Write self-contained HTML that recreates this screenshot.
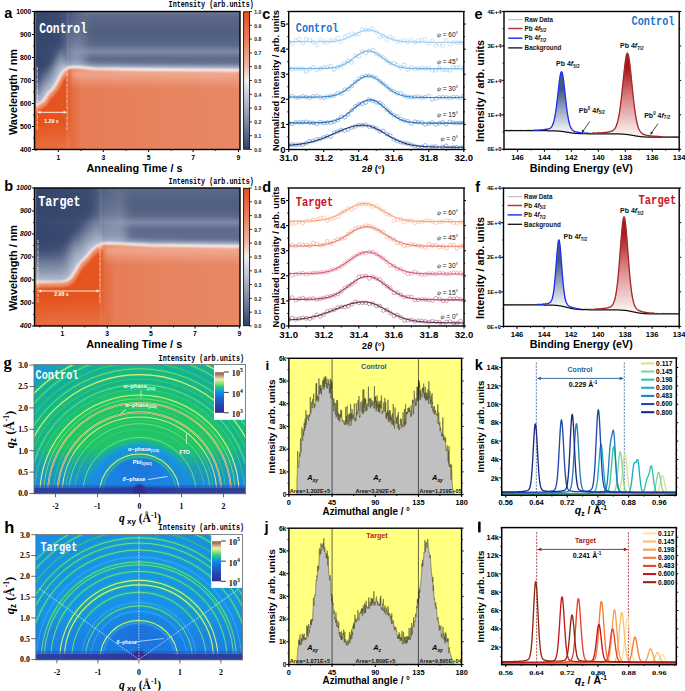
<!DOCTYPE html>
<html><head><meta charset="utf-8"><style>
html,body{margin:0;padding:0;background:#fff;width:685px;height:691px;overflow:hidden}
svg{display:block}
</style></head><body><svg width="685" height="691" viewBox="0 0 685 691"><defs><filter id="bl1" x="-20%" y="-20%" width="140%" height="140%"><feGaussianBlur stdDeviation="1"/></filter><filter id="bl2" x="-50%" y="-50%" width="200%" height="200%"><feGaussianBlur stdDeviation="2.2"/></filter><filter id="bl4" x="-50%" y="-50%" width="200%" height="200%"><feGaussianBlur stdDeviation="4"/></filter><filter id="bl6" x="-50%" y="-50%" width="200%" height="200%"><feGaussianBlur stdDeviation="6"/></filter><clipPath id="cpa"><rect x="34.5" y="11.5" width="205.5" height="138"/></clipPath><linearGradient id="nva" x1="0" y1="11.5" x2="0" y2="149.5" gradientUnits="userSpaceOnUse">
<stop offset="0" stop-color="#68748f"/><stop offset="0.05" stop-color="#5a6688"/><stop offset="0.13" stop-color="#536180"/><stop offset="0.18" stop-color="#515f80"/><stop offset="0.24" stop-color="#5a6889"/>
<stop offset="0.29" stop-color="#7c88a4"/><stop offset="0.34" stop-color="#5f6b8c"/><stop offset="0.38" stop-color="#5e6d90"/>
<stop offset="0.43" stop-color="#9aa6c0"/><stop offset="1" stop-color="#9aa6c0"/></linearGradient><linearGradient id="nla" x1="34.5" y1="0" x2="87" y2="0" gradientUnits="userSpaceOnUse">
<stop offset="0" stop-color="#33446c" stop-opacity="0.95"/><stop offset="0.6" stop-color="#34456d" stop-opacity="0.85"/><stop offset="1" stop-color="#34456d" stop-opacity="0"/></linearGradient><linearGradient id="ora" x1="34.5" y1="0" x2="240" y2="0" gradientUnits="userSpaceOnUse">
<stop offset="0" stop-color="#e4521c"/><stop offset="0.16" stop-color="#e5551f"/>
<stop offset="0.18" stop-color="#e56a3e"/><stop offset="0.23" stop-color="#e77c56"/><stop offset="0.6" stop-color="#e7835e"/><stop offset="1" stop-color="#e88866"/></linearGradient><linearGradient id="ova" x1="0" y1="11.5" x2="0" y2="149.5" gradientUnits="userSpaceOnUse">
<stop offset="0" stop-color="#fff" stop-opacity="0"/><stop offset="0.8" stop-color="#f0a080" stop-opacity="0"/><stop offset="1" stop-color="#f0a080" stop-opacity="0.4"/></linearGradient><clipPath id="hza"><rect x="34.5" y="11.5" width="35.5" height="138"/></clipPath><linearGradient id="vsa" x1="0" y1="11.5" x2="0" y2="70.2" gradientUnits="userSpaceOnUse">
<stop offset="0" stop-color="#9aa5be" stop-opacity="0.1"/><stop offset="0.5" stop-color="#9aa5be" stop-opacity="0.45"/><stop offset="1" stop-color="#b0b9cc" stop-opacity="0.8"/></linearGradient><linearGradient id="lza" x1="0" y1="70.2" x2="0" y2="88.2" gradientUnits="userSpaceOnUse">
<stop offset="0" stop-color="#f4c0ae" stop-opacity="0.75"/><stop offset="1" stop-color="#f4c0ae" stop-opacity="0"/></linearGradient><linearGradient id="cba" x1="0" y1="11.5" x2="0" y2="149.5" gradientUnits="userSpaceOnUse">
<stop offset="0" stop-color="#e2501c"/><stop offset="0.2" stop-color="#e87e5c"/><stop offset="0.38" stop-color="#eeb4a0"/>
<stop offset="0.5" stop-color="#f2eeee"/><stop offset="0.62" stop-color="#c4c9d6"/><stop offset="0.8" stop-color="#7d89a6"/><stop offset="1" stop-color="#2f3f69"/></linearGradient><clipPath id="cpb"><rect x="34.5" y="188" width="205.5" height="138"/></clipPath><linearGradient id="nvb" x1="0" y1="188" x2="0" y2="326" gradientUnits="userSpaceOnUse">
<stop offset="0" stop-color="#68748f"/><stop offset="0.02" stop-color="#5a6688"/><stop offset="0.09" stop-color="#536180"/><stop offset="0.15" stop-color="#515f80"/><stop offset="0.2" stop-color="#5a6889"/>
<stop offset="0.25" stop-color="#7c88a4"/><stop offset="0.3" stop-color="#5f6b8c"/><stop offset="0.38" stop-color="#5e6d90"/>
<stop offset="0.42" stop-color="#9aa6c0"/><stop offset="1" stop-color="#9aa6c0"/></linearGradient><linearGradient id="nlb" x1="34.5" y1="0" x2="120" y2="0" gradientUnits="userSpaceOnUse">
<stop offset="0" stop-color="#33446c" stop-opacity="0.95"/><stop offset="0.6" stop-color="#34456d" stop-opacity="0.85"/><stop offset="1" stop-color="#34456d" stop-opacity="0"/></linearGradient><linearGradient id="orb" x1="34.5" y1="0" x2="240" y2="0" gradientUnits="userSpaceOnUse">
<stop offset="0" stop-color="#e4521c"/><stop offset="0.32" stop-color="#e5551f"/>
<stop offset="0.34" stop-color="#e56a3e"/><stop offset="0.39" stop-color="#e77c56"/><stop offset="0.6" stop-color="#e7835e"/><stop offset="1" stop-color="#e88866"/></linearGradient><linearGradient id="ovb" x1="0" y1="188" x2="0" y2="326" gradientUnits="userSpaceOnUse">
<stop offset="0" stop-color="#fff" stop-opacity="0"/><stop offset="0.8" stop-color="#f0a080" stop-opacity="0"/><stop offset="1" stop-color="#f0a080" stop-opacity="0.4"/></linearGradient><clipPath id="hzb"><rect x="34.5" y="188" width="68.5" height="138"/></clipPath><linearGradient id="vsb" x1="0" y1="188" x2="0" y2="246.5" gradientUnits="userSpaceOnUse">
<stop offset="0" stop-color="#9aa5be" stop-opacity="0.1"/><stop offset="0.5" stop-color="#9aa5be" stop-opacity="0.45"/><stop offset="1" stop-color="#b0b9cc" stop-opacity="0.8"/></linearGradient><linearGradient id="lzb" x1="0" y1="246.5" x2="0" y2="264.5" gradientUnits="userSpaceOnUse">
<stop offset="0" stop-color="#f4c0ae" stop-opacity="0.75"/><stop offset="1" stop-color="#f4c0ae" stop-opacity="0"/></linearGradient><linearGradient id="cbb" x1="0" y1="188" x2="0" y2="326" gradientUnits="userSpaceOnUse">
<stop offset="0" stop-color="#e2501c"/><stop offset="0.2" stop-color="#e87e5c"/><stop offset="0.38" stop-color="#eeb4a0"/>
<stop offset="0.5" stop-color="#f2eeee"/><stop offset="0.62" stop-color="#c4c9d6"/><stop offset="0.8" stop-color="#7d89a6"/><stop offset="1" stop-color="#2f3f69"/></linearGradient><clipPath id="cpc"><rect x="288.7" y="11.5" width="175.1" height="138"/></clipPath><clipPath id="cpd"><rect x="288.7" y="188" width="175.3" height="138"/></clipPath><clipPath id="cpe"><rect x="504" y="11.5" width="175.2" height="137.8"/></clipPath><linearGradient id="gbe" x1="0" y1="89.69" x2="0" y2="131.4" gradientUnits="userSpaceOnUse">
<stop offset="0" stop-color="#3e5b88"/><stop offset="0.45" stop-color="#94a3bc"/><stop offset="1" stop-color="#f4f5f8"/></linearGradient><linearGradient id="gre" x1="0" y1="67.92" x2="0" y2="134.56" gradientUnits="userSpaceOnUse">
<stop offset="0" stop-color="#a8161b"/><stop offset="0.45" stop-color="#d88684"/><stop offset="1" stop-color="#fbf1f1"/></linearGradient><clipPath id="cpf"><rect x="503.5" y="188.1" width="175.7" height="138.3"/></clipPath><linearGradient id="gbf" x1="0" y1="260.66" x2="0" y2="305.7" gradientUnits="userSpaceOnUse">
<stop offset="0" stop-color="#3e5b88"/><stop offset="0.45" stop-color="#94a3bc"/><stop offset="1" stop-color="#f4f5f8"/></linearGradient><linearGradient id="grf" x1="0" y1="232.87" x2="0" y2="310.32" gradientUnits="userSpaceOnUse">
<stop offset="0" stop-color="#a8161b"/><stop offset="0.45" stop-color="#d88684"/><stop offset="1" stop-color="#fbf1f1"/></linearGradient><clipPath id="cpg"><rect x="34" y="364.5" width="211.6" height="129.3"/></clipPath><radialGradient id="rgg" cx="139.5" cy="493.5" r="168" gradientUnits="userSpaceOnUse" gradientTransform="translate(139.5 493.5) scale(1 1.02) translate(-139.5 -493.5)"><stop offset="0" stop-color="#2a3aa8"/><stop offset="0.07" stop-color="#2448c4"/><stop offset="0.19" stop-color="#1c6ede"/><stop offset="0.24" stop-color="#1888ea"/><stop offset="0.27" stop-color="#1696e8"/><stop offset="0.3" stop-color="#18b49a"/><stop offset="0.33" stop-color="#22c46a"/><stop offset="0.57" stop-color="#22c866"/><stop offset="0.61" stop-color="#1cbc84"/><stop offset="0.65" stop-color="#16b09c"/><stop offset="0.82" stop-color="#14aca8"/><stop offset="0.9" stop-color="#16a0c4"/><stop offset="1" stop-color="#1894d8"/></radialGradient><linearGradient id="bog" x1="0" y1="446.42" x2="0" y2="487.08" gradientUnits="userSpaceOnUse">
<stop offset="0" stop-color="#1a88e4" stop-opacity="0"/><stop offset="0.45" stop-color="#1a88e4" stop-opacity="0.55"/><stop offset="1" stop-color="#1a88e4" stop-opacity="0.95"/></linearGradient><linearGradient id="cbgg" x1="0" y1="412.8" x2="0" y2="372" gradientUnits="userSpaceOnUse">
<stop offset="0" stop-color="#302c90"/><stop offset="0.2" stop-color="#2848b0"/><stop offset="0.4" stop-color="#1a70d8"/><stop offset="0.52" stop-color="#1890e8"/>
<stop offset="0.56" stop-color="#18a8c0"/><stop offset="0.64" stop-color="#28d070"/><stop offset="0.74" stop-color="#a0e090"/><stop offset="0.82" stop-color="#f0f0a0"/>
<stop offset="0.89" stop-color="#c8a890"/><stop offset="0.95" stop-color="#9a7060"/><stop offset="1" stop-color="#a88878"/></linearGradient><clipPath id="cph"><rect x="35.8" y="534.5" width="206.8" height="125.4"/></clipPath><radialGradient id="rgh" cx="138.9" cy="659.5" r="164" gradientUnits="userSpaceOnUse" gradientTransform="translate(138.9 659.5) scale(1 1.01) translate(-138.9 -659.5)"><stop offset="0" stop-color="#2838a8"/><stop offset="0.1" stop-color="#2252c8"/><stop offset="0.2" stop-color="#1a6ede"/><stop offset="0.25" stop-color="#1a82e6"/><stop offset="0.33" stop-color="#1890ea"/><stop offset="0.5" stop-color="#1894ec"/><stop offset="0.65" stop-color="#1892ea"/><stop offset="1" stop-color="#1a8ce6"/></radialGradient><linearGradient id="boh" x1="0" y1="613.74" x2="0" y2="653.26" gradientUnits="userSpaceOnUse">
<stop offset="0" stop-color="#1a7ee2" stop-opacity="0"/><stop offset="0.45" stop-color="#1a7ee2" stop-opacity="0.55"/><stop offset="1" stop-color="#1a7ee2" stop-opacity="0.95"/></linearGradient><linearGradient id="cbgh" x1="0" y1="581.3" x2="0" y2="541" gradientUnits="userSpaceOnUse">
<stop offset="0" stop-color="#302c90"/><stop offset="0.2" stop-color="#2848b0"/><stop offset="0.4" stop-color="#1a70d8"/><stop offset="0.52" stop-color="#1890e8"/>
<stop offset="0.56" stop-color="#18a8c0"/><stop offset="0.64" stop-color="#28d070"/><stop offset="0.74" stop-color="#a0e090"/><stop offset="0.82" stop-color="#f0f0a0"/>
<stop offset="0.89" stop-color="#c8a890"/><stop offset="0.95" stop-color="#9a7060"/><stop offset="1" stop-color="#a88878"/></linearGradient><clipPath id="cpi"><rect x="288.9" y="358.3" width="172.7" height="136.3"/></clipPath><clipPath id="cpj"><rect x="288.9" y="528.2" width="172.7" height="136.3"/></clipPath><clipPath id="cpk"><rect x="501.7" y="358" width="174.6" height="137.2"/></clipPath><clipPath id="cpl"><rect x="501.7" y="527.6" width="174.6" height="137.1"/></clipPath></defs><g clip-path="url(#cpa)"><rect x="34.5" y="11.5" width="205.5" height="138" fill="url(#nva)" stroke="none" stroke-width="1" /><rect x="34.5" y="11.5" width="52.5" height="138" fill="url(#nla)" stroke="none" stroke-width="1" /><g clip-path="url(#hza)" filter="url(#bl2)"><path d="M33,104.8 L37.3,104.6 L43.4,100.8 L48.1,93.3 L52.8,88.6 L56.6,82.9 L60.3,75.4 L64.1,70.2 L66.9,68.3" fill="none" stroke="#c6cddb" stroke-width="4" opacity="0.6" transform="translate(0,-2)"/><path d="M33,104.8 L37.3,104.6 L43.4,100.8 L48.1,93.3 L52.8,88.6 L56.6,82.9 L60.3,75.4 L64.1,70.2 L66.9,68.3" fill="none" stroke="#c6cddb" stroke-width="4" opacity="0.53" transform="translate(-0.5,-4.2)"/><path d="M33,104.8 L37.3,104.6 L43.4,100.8 L48.1,93.3 L52.8,88.6 L56.6,82.9 L60.3,75.4 L64.1,70.2 L66.9,68.3" fill="none" stroke="#c6cddb" stroke-width="4" opacity="0.46" transform="translate(-1,-6.4)"/><path d="M33,104.8 L37.3,104.6 L43.4,100.8 L48.1,93.3 L52.8,88.6 L56.6,82.9 L60.3,75.4 L64.1,70.2 L66.9,68.3" fill="none" stroke="#c6cddb" stroke-width="4" opacity="0.39" transform="translate(-1.5,-8.6)"/><path d="M33,104.8 L37.3,104.6 L43.4,100.8 L48.1,93.3 L52.8,88.6 L56.6,82.9 L60.3,75.4 L64.1,70.2 L66.9,68.3" fill="none" stroke="#c6cddb" stroke-width="4" opacity="0.33" transform="translate(-2,-10.8)"/><path d="M33,104.8 L37.3,104.6 L43.4,100.8 L48.1,93.3 L52.8,88.6 L56.6,82.9 L60.3,75.4 L64.1,70.2 L66.9,68.3" fill="none" stroke="#c6cddb" stroke-width="4" opacity="0.26" transform="translate(-2.5,-13)"/><path d="M33,104.8 L37.3,104.6 L43.4,100.8 L48.1,93.3 L52.8,88.6 L56.6,82.9 L60.3,75.4 L64.1,70.2 L66.9,68.3" fill="none" stroke="#c6cddb" stroke-width="4" opacity="0.2" transform="translate(-3,-15.2)"/><path d="M33,104.8 L37.3,104.6 L43.4,100.8 L48.1,93.3 L52.8,88.6 L56.6,82.9 L60.3,75.4 L64.1,70.2 L66.9,68.3" fill="none" stroke="#c6cddb" stroke-width="4" opacity="0.14" transform="translate(-3.5,-17.4)"/><path d="M33,104.8 L37.3,104.6 L43.4,100.8 L48.1,93.3 L52.8,88.6 L56.6,82.9 L60.3,75.4 L64.1,70.2 L66.9,68.3" fill="none" stroke="#c6cddb" stroke-width="4" opacity="0.09" transform="translate(-4,-19.6)"/><path d="M33,104.8 L37.3,104.6 L43.4,100.8 L48.1,93.3 L52.8,88.6 L56.6,82.9 L60.3,75.4 L64.1,70.2 L66.9,68.3" fill="none" stroke="#c6cddb" stroke-width="4" opacity="0.04" transform="translate(-4.5,-21.8)"/></g><path d="M33,104.8 L37.3,104.6 L43.4,100.8 L48.1,93.3 L52.8,88.6 L56.6,82.9 L60.3,75.4 L64.1,70.2 L66.9,68.3 L73.5,66.9 L81,67.4 L94,68.8 L150,69.6 L242,70.2" fill="none" stroke="#c0c8d8" stroke-width="4" opacity="0.7" filter="url(#bl2)" transform="translate(0,-2.5)"/><rect x="65" y="6.5" width="20" height="63.7" fill="url(#vsa)" stroke="none" stroke-width="1" filter="url(#bl4)"/><path d="M33,104.8 L37.3,104.6 L43.4,100.8 L48.1,93.3 L52.8,88.6 L56.6,82.9 L60.3,75.4 L64.1,70.2 L66.9,68.3 L73.5,66.9 L81,67.4 L94,68.8 L150,69.6 L242,70.2 L245,70.2 L245,154.5 L29.5,154.5 L29.5,104.8 Z" fill="url(#ora)"/><rect x="71" y="70.2" width="169" height="18" fill="url(#lza)" stroke="none" stroke-width="1" filter="url(#bl2)"/><rect x="34.5" y="11.5" width="36.5" height="138" fill="url(#ova)" stroke="none" stroke-width="1" filter="url(#bl2)"/><path d="M33,104.8 L37.3,104.6 L43.4,100.8 L48.1,93.3 L52.8,88.6 L56.6,82.9 L60.3,75.4 L64.1,70.2 L66.9,68.3" fill="none" stroke="#f0a888" stroke-width="5" opacity="0.7" filter="url(#bl1)" transform="translate(1,3)"/><path d="M33,104.8 L37.3,104.6 L43.4,100.8 L48.1,93.3 L52.8,88.6 L56.6,82.9 L60.3,75.4 L64.1,70.2 L66.9,68.3 L73.5,66.9 L81,67.4 L94,68.8 L150,69.6 L242,70.2" fill="none" stroke="#ffffff" stroke-width="2.6" opacity="0.95" filter="url(#bl1)"/><rect x="66.5" y="11.5" width="2.2" height="138" fill="#ffffff" stroke="none" stroke-width="1" opacity="0.08"/><rect x="34.5" y="11.5" width="1.6" height="138" fill="#d8643a" stroke="none" stroke-width="1" /></g><line x1="37.3" y1="67" x2="37.3" y2="130" stroke="#e8e8f0" stroke-width="0.9" stroke-dasharray="3 0.8 0.8 0.8" opacity="0.85"/><line x1="67" y1="68" x2="67" y2="130" stroke="#e8e8f0" stroke-width="0.9" stroke-dasharray="3 0.8 0.8 0.8" opacity="0.85"/><line x1="39.5" y1="112.3" x2="64.6" y2="112.3" stroke="#fff" stroke-width="0.9" /><polygon points="37.5,112.3 40.5,110.8 40.5,113.8" fill="#fff" /><polygon points="66.6,112.3 63.6,110.8 63.6,113.8" fill="#fff" /><text x="51.5" y="122.8" font-size="5.2" font-family='"Liberation Sans", sans-serif' font-weight="bold" text-anchor="middle" fill="#fff" >1.29 s</text><text x="39.2" y="32.9" font-size="14.5" font-family='"Liberation Mono", monospace' font-weight="bold" fill="#fff" textLength="47.8" lengthAdjust="spacingAndGlyphs" >Control</text><rect x="34.5" y="11.5" width="205.5" height="138" fill="none" stroke="#000" stroke-width="1.4" /><rect x="243.6" y="11.8" width="6" height="137.4" fill="url(#cba)" stroke="#111" stroke-width="0.9" /><line x1="249.6" y1="149.5" x2="251.9" y2="149.5" stroke="#000" stroke-width="0.8" /><text x="254.2" y="151.7" font-size="5.9" font-family='"Liberation Sans", sans-serif' font-weight="bold" fill="#1a1a1a" textLength="7" lengthAdjust="spacingAndGlyphs" >0.0</text><line x1="249.6" y1="135.7" x2="251.9" y2="135.7" stroke="#000" stroke-width="0.8" /><text x="254.2" y="137.9" font-size="5.9" font-family='"Liberation Sans", sans-serif' font-weight="bold" fill="#1a1a1a" textLength="7" lengthAdjust="spacingAndGlyphs" >0.1</text><line x1="249.6" y1="121.9" x2="251.9" y2="121.9" stroke="#000" stroke-width="0.8" /><text x="254.2" y="124.1" font-size="5.9" font-family='"Liberation Sans", sans-serif' font-weight="bold" fill="#1a1a1a" textLength="7" lengthAdjust="spacingAndGlyphs" >0.2</text><line x1="249.6" y1="108.1" x2="251.9" y2="108.1" stroke="#000" stroke-width="0.8" /><text x="254.2" y="110.3" font-size="5.9" font-family='"Liberation Sans", sans-serif' font-weight="bold" fill="#1a1a1a" textLength="7" lengthAdjust="spacingAndGlyphs" >0.3</text><line x1="249.6" y1="94.3" x2="251.9" y2="94.3" stroke="#000" stroke-width="0.8" /><text x="254.2" y="96.5" font-size="5.9" font-family='"Liberation Sans", sans-serif' font-weight="bold" fill="#1a1a1a" textLength="7" lengthAdjust="spacingAndGlyphs" >0.4</text><line x1="249.6" y1="80.5" x2="251.9" y2="80.5" stroke="#000" stroke-width="0.8" /><text x="254.2" y="82.7" font-size="5.9" font-family='"Liberation Sans", sans-serif' font-weight="bold" fill="#1a1a1a" textLength="7" lengthAdjust="spacingAndGlyphs" >0.5</text><line x1="249.6" y1="66.7" x2="251.9" y2="66.7" stroke="#000" stroke-width="0.8" /><text x="254.2" y="68.9" font-size="5.9" font-family='"Liberation Sans", sans-serif' font-weight="bold" fill="#1a1a1a" textLength="7" lengthAdjust="spacingAndGlyphs" >0.6</text><line x1="249.6" y1="52.9" x2="251.9" y2="52.9" stroke="#000" stroke-width="0.8" /><text x="254.2" y="55.1" font-size="5.9" font-family='"Liberation Sans", sans-serif' font-weight="bold" fill="#1a1a1a" textLength="7" lengthAdjust="spacingAndGlyphs" >0.7</text><line x1="249.6" y1="39.1" x2="251.9" y2="39.1" stroke="#000" stroke-width="0.8" /><text x="254.2" y="41.3" font-size="5.9" font-family='"Liberation Sans", sans-serif' font-weight="bold" fill="#1a1a1a" textLength="7" lengthAdjust="spacingAndGlyphs" >0.8</text><line x1="249.6" y1="25.3" x2="251.9" y2="25.3" stroke="#000" stroke-width="0.8" /><text x="254.2" y="27.5" font-size="5.9" font-family='"Liberation Sans", sans-serif' font-weight="bold" fill="#1a1a1a" textLength="7" lengthAdjust="spacingAndGlyphs" >0.9</text><line x1="249.6" y1="11.5" x2="251.9" y2="11.5" stroke="#000" stroke-width="0.8" /><text x="254.2" y="13.7" font-size="5.9" font-family='"Liberation Sans", sans-serif' font-weight="bold" fill="#1a1a1a" textLength="7" lengthAdjust="spacingAndGlyphs" >1.0</text><line x1="32" y1="11.5" x2="34.5" y2="11.5" stroke="#000" stroke-width="1" /><text x="31.3" y="13.9" font-size="6.8" font-family='"Liberation Sans", sans-serif' font-weight="bold" text-anchor="end" >1000</text><line x1="32" y1="34.5" x2="34.5" y2="34.5" stroke="#000" stroke-width="1" /><text x="31.3" y="36.9" font-size="6.8" font-family='"Liberation Sans", sans-serif' font-weight="bold" text-anchor="end" >900</text><line x1="32" y1="57.5" x2="34.5" y2="57.5" stroke="#000" stroke-width="1" /><text x="31.3" y="59.9" font-size="6.8" font-family='"Liberation Sans", sans-serif' font-weight="bold" text-anchor="end" >800</text><line x1="32" y1="80.5" x2="34.5" y2="80.5" stroke="#000" stroke-width="1" /><text x="31.3" y="82.9" font-size="6.8" font-family='"Liberation Sans", sans-serif' font-weight="bold" text-anchor="end" >700</text><line x1="32" y1="103.5" x2="34.5" y2="103.5" stroke="#000" stroke-width="1" /><text x="31.3" y="105.9" font-size="6.8" font-family='"Liberation Sans", sans-serif' font-weight="bold" text-anchor="end" >600</text><line x1="32" y1="126.5" x2="34.5" y2="126.5" stroke="#000" stroke-width="1" /><text x="31.3" y="128.9" font-size="6.8" font-family='"Liberation Sans", sans-serif' font-weight="bold" text-anchor="end" >500</text><line x1="32" y1="149.5" x2="34.5" y2="149.5" stroke="#000" stroke-width="1" /><text x="31.3" y="151.9" font-size="6.8" font-family='"Liberation Sans", sans-serif' font-weight="bold" text-anchor="end" >400</text><line x1="33" y1="23" x2="34.5" y2="23" stroke="#000" stroke-width="0.8" /><line x1="33" y1="46" x2="34.5" y2="46" stroke="#000" stroke-width="0.8" /><line x1="33" y1="69" x2="34.5" y2="69" stroke="#000" stroke-width="0.8" /><line x1="33" y1="92" x2="34.5" y2="92" stroke="#000" stroke-width="0.8" /><line x1="33" y1="115" x2="34.5" y2="115" stroke="#000" stroke-width="0.8" /><line x1="33" y1="138" x2="34.5" y2="138" stroke="#000" stroke-width="0.8" /><line x1="58.3" y1="149.5" x2="58.3" y2="152" stroke="#000" stroke-width="1" /><text x="58.3" y="159.7" font-size="6.8" font-family='"Liberation Sans", sans-serif' font-weight="bold" text-anchor="middle" >1</text><line x1="103.3" y1="149.5" x2="103.3" y2="152" stroke="#000" stroke-width="1" /><text x="103.3" y="159.7" font-size="6.8" font-family='"Liberation Sans", sans-serif' font-weight="bold" text-anchor="middle" >3</text><line x1="148.6" y1="149.5" x2="148.6" y2="152" stroke="#000" stroke-width="1" /><text x="148.6" y="159.7" font-size="6.8" font-family='"Liberation Sans", sans-serif' font-weight="bold" text-anchor="middle" >5</text><line x1="193.1" y1="149.5" x2="193.1" y2="152" stroke="#000" stroke-width="1" /><text x="193.1" y="159.7" font-size="6.8" font-family='"Liberation Sans", sans-serif' font-weight="bold" text-anchor="middle" >7</text><line x1="238.5" y1="149.5" x2="238.5" y2="152" stroke="#000" stroke-width="1" /><text x="238.5" y="159.7" font-size="6.8" font-family='"Liberation Sans", sans-serif' font-weight="bold" text-anchor="middle" >9</text><line x1="35.8" y1="149.5" x2="35.8" y2="151" stroke="#000" stroke-width="0.8" /><line x1="80.8" y1="149.5" x2="80.8" y2="151" stroke="#000" stroke-width="0.8" /><line x1="125.8" y1="149.5" x2="125.8" y2="151" stroke="#000" stroke-width="0.8" /><line x1="171.1" y1="149.5" x2="171.1" y2="151" stroke="#000" stroke-width="0.8" /><line x1="215.6" y1="149.5" x2="215.6" y2="151" stroke="#000" stroke-width="0.8" /><g clip-path="url(#cpb)"><rect x="34.5" y="188" width="205.5" height="138" fill="url(#nvb)" stroke="none" stroke-width="1" /><rect x="34.5" y="188" width="85.5" height="138" fill="url(#nlb)" stroke="none" stroke-width="1" /><g clip-path="url(#hzb)" filter="url(#bl2)"><path d="M33,282 L35,281.9 L61.5,281.5 L67,280.5 L70.9,277.3 L75.1,271 L79.3,263.7 L85.6,257.4 L91.9,250 L97.1,245.8 L102.4,243.7" fill="none" stroke="#c6cddb" stroke-width="4" opacity="0.6" transform="translate(0,-2)"/><path d="M33,282 L35,281.9 L61.5,281.5 L67,280.5 L70.9,277.3 L75.1,271 L79.3,263.7 L85.6,257.4 L91.9,250 L97.1,245.8 L102.4,243.7" fill="none" stroke="#c6cddb" stroke-width="4" opacity="0.55" transform="translate(-0.5,-4.2)"/><path d="M33,282 L35,281.9 L61.5,281.5 L67,280.5 L70.9,277.3 L75.1,271 L79.3,263.7 L85.6,257.4 L91.9,250 L97.1,245.8 L102.4,243.7" fill="none" stroke="#c6cddb" stroke-width="4" opacity="0.5" transform="translate(-1,-6.4)"/><path d="M33,282 L35,281.9 L61.5,281.5 L67,280.5 L70.9,277.3 L75.1,271 L79.3,263.7 L85.6,257.4 L91.9,250 L97.1,245.8 L102.4,243.7" fill="none" stroke="#c6cddb" stroke-width="4" opacity="0.45" transform="translate(-1.5,-8.6)"/><path d="M33,282 L35,281.9 L61.5,281.5 L67,280.5 L70.9,277.3 L75.1,271 L79.3,263.7 L85.6,257.4 L91.9,250 L97.1,245.8 L102.4,243.7" fill="none" stroke="#c6cddb" stroke-width="4" opacity="0.4" transform="translate(-2,-10.8)"/><path d="M33,282 L35,281.9 L61.5,281.5 L67,280.5 L70.9,277.3 L75.1,271 L79.3,263.7 L85.6,257.4 L91.9,250 L97.1,245.8 L102.4,243.7" fill="none" stroke="#c6cddb" stroke-width="4" opacity="0.35" transform="translate(-2.5,-13)"/><path d="M33,282 L35,281.9 L61.5,281.5 L67,280.5 L70.9,277.3 L75.1,271 L79.3,263.7 L85.6,257.4 L91.9,250 L97.1,245.8 L102.4,243.7" fill="none" stroke="#c6cddb" stroke-width="4" opacity="0.31" transform="translate(-3,-15.2)"/><path d="M33,282 L35,281.9 L61.5,281.5 L67,280.5 L70.9,277.3 L75.1,271 L79.3,263.7 L85.6,257.4 L91.9,250 L97.1,245.8 L102.4,243.7" fill="none" stroke="#c6cddb" stroke-width="4" opacity="0.26" transform="translate(-3.5,-17.4)"/><path d="M33,282 L35,281.9 L61.5,281.5 L67,280.5 L70.9,277.3 L75.1,271 L79.3,263.7 L85.6,257.4 L91.9,250 L97.1,245.8 L102.4,243.7" fill="none" stroke="#c6cddb" stroke-width="4" opacity="0.22" transform="translate(-4,-19.6)"/><path d="M33,282 L35,281.9 L61.5,281.5 L67,280.5 L70.9,277.3 L75.1,271 L79.3,263.7 L85.6,257.4 L91.9,250 L97.1,245.8 L102.4,243.7" fill="none" stroke="#c6cddb" stroke-width="4" opacity="0.17" transform="translate(-4.5,-21.8)"/><path d="M33,282 L35,281.9 L61.5,281.5 L67,280.5 L70.9,277.3 L75.1,271 L79.3,263.7 L85.6,257.4 L91.9,250 L97.1,245.8 L102.4,243.7" fill="none" stroke="#c6cddb" stroke-width="4" opacity="0.13" transform="translate(-5,-24)"/><path d="M33,282 L35,281.9 L61.5,281.5 L67,280.5 L70.9,277.3 L75.1,271 L79.3,263.7 L85.6,257.4 L91.9,250 L97.1,245.8 L102.4,243.7" fill="none" stroke="#c6cddb" stroke-width="4" opacity="0.09" transform="translate(-5.5,-26.2)"/><path d="M33,282 L35,281.9 L61.5,281.5 L67,280.5 L70.9,277.3 L75.1,271 L79.3,263.7 L85.6,257.4 L91.9,250 L97.1,245.8 L102.4,243.7" fill="none" stroke="#c6cddb" stroke-width="4" opacity="0.06" transform="translate(-6,-28.4)"/><path d="M33,282 L35,281.9 L61.5,281.5 L67,280.5 L70.9,277.3 L75.1,271 L79.3,263.7 L85.6,257.4 L91.9,250 L97.1,245.8 L102.4,243.7" fill="none" stroke="#c6cddb" stroke-width="4" opacity="0.03" transform="translate(-6.5,-30.6)"/></g><path d="M33,282 L35,281.9 L61.5,281.5 L67,280.5 L70.9,277.3 L75.1,271 L79.3,263.7 L85.6,257.4 L91.9,250 L97.1,245.8 L102.4,243.7 L109.7,243.3 L150,245.2 L242,246.5" fill="none" stroke="#c0c8d8" stroke-width="4" opacity="0.7" filter="url(#bl2)" transform="translate(0,-2.5)"/><rect x="98" y="183" width="28" height="63.5" fill="url(#vsb)" stroke="none" stroke-width="1" filter="url(#bl4)"/><path d="M33,282 L35,281.9 L61.5,281.5 L67,280.5 L70.9,277.3 L75.1,271 L79.3,263.7 L85.6,257.4 L91.9,250 L97.1,245.8 L102.4,243.7 L109.7,243.3 L150,245.2 L242,246.5 L245,246.5 L245,331 L29.5,331 L29.5,282 Z" fill="url(#orb)"/><rect x="104" y="246.5" width="136" height="18" fill="url(#lzb)" stroke="none" stroke-width="1" filter="url(#bl2)"/><rect x="34.5" y="188" width="69.5" height="138" fill="url(#ovb)" stroke="none" stroke-width="1" filter="url(#bl2)"/><path d="M33,282 L35,281.9 L61.5,281.5 L67,280.5 L70.9,277.3 L75.1,271 L79.3,263.7 L85.6,257.4 L91.9,250 L97.1,245.8 L102.4,243.7" fill="none" stroke="#f0a888" stroke-width="5" opacity="0.7" filter="url(#bl1)" transform="translate(1,3)"/><path d="M33,282 L35,281.9 L61.5,281.5 L67,280.5 L70.9,277.3 L75.1,271 L79.3,263.7 L85.6,257.4 L91.9,250 L97.1,245.8 L102.4,243.7 L109.7,243.3 L150,245.2 L242,246.5" fill="none" stroke="#ffffff" stroke-width="2.6" opacity="0.95" filter="url(#bl1)"/><rect x="99.5" y="188" width="2.2" height="138" fill="#ffffff" stroke="none" stroke-width="1" opacity="0.08"/><rect x="34.5" y="188" width="1.6" height="138" fill="#d8643a" stroke="none" stroke-width="1" /></g><line x1="38" y1="240" x2="38" y2="302.5" stroke="#e8e8f0" stroke-width="0.9" stroke-dasharray="3 0.8 0.8 0.8" opacity="0.85"/><line x1="99.9" y1="246" x2="99.9" y2="302.5" stroke="#e8e8f0" stroke-width="0.9" stroke-dasharray="3 0.8 0.8 0.8" opacity="0.85"/><line x1="40.3" y1="291" x2="97.6" y2="291" stroke="#fff" stroke-width="0.9" /><polygon points="38.3,291 41.3,289.5 41.3,292.5" fill="#fff" /><polygon points="99.6,291 96.6,289.5 96.6,292.5" fill="#fff" /><text x="61.5" y="296.3" font-size="5.2" font-family='"Liberation Sans", sans-serif' font-weight="bold" text-anchor="middle" fill="#fff" >2.98 s</text><text x="38.2" y="206" font-size="14.4" font-family='"Liberation Mono", monospace' font-weight="bold" fill="#fff" textLength="42.4" lengthAdjust="spacingAndGlyphs" >Target</text><rect x="34.5" y="188" width="205.5" height="138" fill="none" stroke="#000" stroke-width="1.4" /><rect x="243.6" y="188.3" width="6" height="137.4" fill="url(#cbb)" stroke="#111" stroke-width="0.9" /><line x1="249.6" y1="326" x2="251.9" y2="326" stroke="#000" stroke-width="0.8" /><text x="254.2" y="328.2" font-size="5.9" font-family='"Liberation Sans", sans-serif' font-weight="bold" fill="#1a1a1a" textLength="7" lengthAdjust="spacingAndGlyphs" >0.0</text><line x1="249.6" y1="312.2" x2="251.9" y2="312.2" stroke="#000" stroke-width="0.8" /><text x="254.2" y="314.4" font-size="5.9" font-family='"Liberation Sans", sans-serif' font-weight="bold" fill="#1a1a1a" textLength="7" lengthAdjust="spacingAndGlyphs" >0.1</text><line x1="249.6" y1="298.4" x2="251.9" y2="298.4" stroke="#000" stroke-width="0.8" /><text x="254.2" y="300.6" font-size="5.9" font-family='"Liberation Sans", sans-serif' font-weight="bold" fill="#1a1a1a" textLength="7" lengthAdjust="spacingAndGlyphs" >0.2</text><line x1="249.6" y1="284.6" x2="251.9" y2="284.6" stroke="#000" stroke-width="0.8" /><text x="254.2" y="286.8" font-size="5.9" font-family='"Liberation Sans", sans-serif' font-weight="bold" fill="#1a1a1a" textLength="7" lengthAdjust="spacingAndGlyphs" >0.3</text><line x1="249.6" y1="270.8" x2="251.9" y2="270.8" stroke="#000" stroke-width="0.8" /><text x="254.2" y="273" font-size="5.9" font-family='"Liberation Sans", sans-serif' font-weight="bold" fill="#1a1a1a" textLength="7" lengthAdjust="spacingAndGlyphs" >0.4</text><line x1="249.6" y1="257" x2="251.9" y2="257" stroke="#000" stroke-width="0.8" /><text x="254.2" y="259.2" font-size="5.9" font-family='"Liberation Sans", sans-serif' font-weight="bold" fill="#1a1a1a" textLength="7" lengthAdjust="spacingAndGlyphs" >0.5</text><line x1="249.6" y1="243.2" x2="251.9" y2="243.2" stroke="#000" stroke-width="0.8" /><text x="254.2" y="245.4" font-size="5.9" font-family='"Liberation Sans", sans-serif' font-weight="bold" fill="#1a1a1a" textLength="7" lengthAdjust="spacingAndGlyphs" >0.6</text><line x1="249.6" y1="229.4" x2="251.9" y2="229.4" stroke="#000" stroke-width="0.8" /><text x="254.2" y="231.6" font-size="5.9" font-family='"Liberation Sans", sans-serif' font-weight="bold" fill="#1a1a1a" textLength="7" lengthAdjust="spacingAndGlyphs" >0.7</text><line x1="249.6" y1="215.6" x2="251.9" y2="215.6" stroke="#000" stroke-width="0.8" /><text x="254.2" y="217.8" font-size="5.9" font-family='"Liberation Sans", sans-serif' font-weight="bold" fill="#1a1a1a" textLength="7" lengthAdjust="spacingAndGlyphs" >0.8</text><line x1="249.6" y1="201.8" x2="251.9" y2="201.8" stroke="#000" stroke-width="0.8" /><text x="254.2" y="204" font-size="5.9" font-family='"Liberation Sans", sans-serif' font-weight="bold" fill="#1a1a1a" textLength="7" lengthAdjust="spacingAndGlyphs" >0.9</text><line x1="249.6" y1="188" x2="251.9" y2="188" stroke="#000" stroke-width="0.8" /><text x="254.2" y="190.2" font-size="5.9" font-family='"Liberation Sans", sans-serif' font-weight="bold" fill="#1a1a1a" textLength="7" lengthAdjust="spacingAndGlyphs" >1.0</text><line x1="32" y1="188" x2="34.5" y2="188" stroke="#000" stroke-width="1" /><text x="31.3" y="190.4" font-size="6.8" font-family='"Liberation Sans", sans-serif' font-weight="bold" font-style="italic" text-anchor="end" >1000</text><line x1="32" y1="211" x2="34.5" y2="211" stroke="#000" stroke-width="1" /><text x="31.3" y="213.4" font-size="6.8" font-family='"Liberation Sans", sans-serif' font-weight="bold" font-style="italic" text-anchor="end" >900</text><line x1="32" y1="234" x2="34.5" y2="234" stroke="#000" stroke-width="1" /><text x="31.3" y="236.4" font-size="6.8" font-family='"Liberation Sans", sans-serif' font-weight="bold" font-style="italic" text-anchor="end" >800</text><line x1="32" y1="257" x2="34.5" y2="257" stroke="#000" stroke-width="1" /><text x="31.3" y="259.4" font-size="6.8" font-family='"Liberation Sans", sans-serif' font-weight="bold" font-style="italic" text-anchor="end" >700</text><line x1="32" y1="280" x2="34.5" y2="280" stroke="#000" stroke-width="1" /><text x="31.3" y="282.4" font-size="6.8" font-family='"Liberation Sans", sans-serif' font-weight="bold" font-style="italic" text-anchor="end" >600</text><line x1="32" y1="303" x2="34.5" y2="303" stroke="#000" stroke-width="1" /><text x="31.3" y="305.4" font-size="6.8" font-family='"Liberation Sans", sans-serif' font-weight="bold" font-style="italic" text-anchor="end" >500</text><line x1="32" y1="326" x2="34.5" y2="326" stroke="#000" stroke-width="1" /><text x="31.3" y="328.4" font-size="6.8" font-family='"Liberation Sans", sans-serif' font-weight="bold" font-style="italic" text-anchor="end" >400</text><line x1="33" y1="199.5" x2="34.5" y2="199.5" stroke="#000" stroke-width="0.8" /><line x1="33" y1="222.5" x2="34.5" y2="222.5" stroke="#000" stroke-width="0.8" /><line x1="33" y1="245.5" x2="34.5" y2="245.5" stroke="#000" stroke-width="0.8" /><line x1="33" y1="268.5" x2="34.5" y2="268.5" stroke="#000" stroke-width="0.8" /><line x1="33" y1="291.5" x2="34.5" y2="291.5" stroke="#000" stroke-width="0.8" /><line x1="33" y1="314.5" x2="34.5" y2="314.5" stroke="#000" stroke-width="0.8" /><line x1="62.3" y1="326" x2="62.3" y2="328.5" stroke="#000" stroke-width="1" /><text x="62.3" y="336.2" font-size="6.8" font-family='"Liberation Sans", sans-serif' font-weight="bold" text-anchor="middle" >1</text><line x1="107.2" y1="326" x2="107.2" y2="328.5" stroke="#000" stroke-width="1" /><text x="107.2" y="336.2" font-size="6.8" font-family='"Liberation Sans", sans-serif' font-weight="bold" text-anchor="middle" >3</text><line x1="151" y1="326" x2="151" y2="328.5" stroke="#000" stroke-width="1" /><text x="151" y="336.2" font-size="6.8" font-family='"Liberation Sans", sans-serif' font-weight="bold" text-anchor="middle" >5</text><line x1="195" y1="326" x2="195" y2="328.5" stroke="#000" stroke-width="1" /><text x="195" y="336.2" font-size="6.8" font-family='"Liberation Sans", sans-serif' font-weight="bold" text-anchor="middle" >7</text><line x1="239.3" y1="326" x2="239.3" y2="328.5" stroke="#000" stroke-width="1" /><text x="239.3" y="336.2" font-size="6.8" font-family='"Liberation Sans", sans-serif' font-weight="bold" text-anchor="middle" >9</text><line x1="39.85" y1="326" x2="39.85" y2="327.5" stroke="#000" stroke-width="0.8" /><line x1="84.75" y1="326" x2="84.75" y2="327.5" stroke="#000" stroke-width="0.8" /><line x1="129.65" y1="326" x2="129.65" y2="327.5" stroke="#000" stroke-width="0.8" /><line x1="173.45" y1="326" x2="173.45" y2="327.5" stroke="#000" stroke-width="0.8" /><line x1="217.45" y1="326" x2="217.45" y2="327.5" stroke="#000" stroke-width="0.8" /><text x="4.2" y="18.3" font-size="14.5" font-family='"Liberation Sans", sans-serif' font-weight="bold" >a</text><text x="4.2" y="191.3" font-size="14.5" font-family='"Liberation Sans", sans-serif' font-weight="bold" >b</text><text x="17" y="92" font-size="11.3" font-family='"Liberation Sans", sans-serif' font-weight="bold" text-anchor="middle" textLength="86" lengthAdjust="spacingAndGlyphs" transform="rotate(-90 17 92)" >Wavelength / nm</text><text x="17" y="268" font-size="11.3" font-family='"Liberation Sans", sans-serif' font-weight="bold" text-anchor="middle" textLength="86" lengthAdjust="spacingAndGlyphs" transform="rotate(-90 17 268)" >Wavelength / nm</text><text x="134.5" y="172.3" font-size="11.3" font-family='"Liberation Sans", sans-serif' font-weight="bold" text-anchor="middle" textLength="96" lengthAdjust="spacingAndGlyphs" >Annealing Time / s</text><text x="134.2" y="348.4" font-size="11.3" font-family='"Liberation Sans", sans-serif' font-weight="bold" text-anchor="middle" textLength="96" lengthAdjust="spacingAndGlyphs" >Annealing Time / s</text><text x="168.6" y="6.9" font-size="9.2" font-family='"Liberation Mono", monospace' font-weight="bold" textLength="85.2" lengthAdjust="spacingAndGlyphs" >Intensity (arb.units)</text><text x="168.6" y="183.5" font-size="9.2" font-family='"Liberation Mono", monospace' font-weight="bold" textLength="85.2" lengthAdjust="spacingAndGlyphs" >Intensity (arb.units)</text><g clip-path="url(#cpc)"><circle cx="288.7" cy="145.47" r="1.85" fill="none" stroke="#5b7fc0" stroke-width="0.6"/><circle cx="292.2" cy="144.51" r="1.85" fill="none" stroke="#5b7fc0" stroke-width="0.6"/><circle cx="295.7" cy="144.88" r="1.85" fill="none" stroke="#5b7fc0" stroke-width="0.6"/><circle cx="299.21" cy="144.55" r="1.85" fill="none" stroke="#5b7fc0" stroke-width="0.6"/><circle cx="302.71" cy="144.61" r="1.85" fill="none" stroke="#5b7fc0" stroke-width="0.6"/><circle cx="306.21" cy="143.3" r="1.85" fill="none" stroke="#5b7fc0" stroke-width="0.6"/><circle cx="309.71" cy="141.29" r="1.85" fill="none" stroke="#5b7fc0" stroke-width="0.6"/><circle cx="313.21" cy="141.04" r="1.85" fill="none" stroke="#5b7fc0" stroke-width="0.6"/><circle cx="316.72" cy="139.42" r="1.85" fill="none" stroke="#5b7fc0" stroke-width="0.6"/><circle cx="320.22" cy="138.99" r="1.85" fill="none" stroke="#5b7fc0" stroke-width="0.6"/><circle cx="323.72" cy="137.55" r="1.85" fill="none" stroke="#5b7fc0" stroke-width="0.6"/><circle cx="327.22" cy="136.34" r="1.85" fill="none" stroke="#5b7fc0" stroke-width="0.6"/><circle cx="330.72" cy="136.59" r="1.85" fill="none" stroke="#5b7fc0" stroke-width="0.6"/><circle cx="334.23" cy="132.68" r="1.85" fill="none" stroke="#5b7fc0" stroke-width="0.6"/><circle cx="337.73" cy="131.47" r="1.85" fill="none" stroke="#5b7fc0" stroke-width="0.6"/><circle cx="341.23" cy="129.98" r="1.85" fill="none" stroke="#5b7fc0" stroke-width="0.6"/><circle cx="344.73" cy="130.64" r="1.85" fill="none" stroke="#5b7fc0" stroke-width="0.6"/><circle cx="348.23" cy="129.44" r="1.85" fill="none" stroke="#5b7fc0" stroke-width="0.6"/><circle cx="351.74" cy="127.59" r="1.85" fill="none" stroke="#5b7fc0" stroke-width="0.6"/><circle cx="355.24" cy="126.38" r="1.85" fill="none" stroke="#5b7fc0" stroke-width="0.6"/><circle cx="358.74" cy="125.12" r="1.85" fill="none" stroke="#5b7fc0" stroke-width="0.6"/><circle cx="362.24" cy="125.21" r="1.85" fill="none" stroke="#5b7fc0" stroke-width="0.6"/><circle cx="365.74" cy="124.82" r="1.85" fill="none" stroke="#5b7fc0" stroke-width="0.6"/><circle cx="369.25" cy="126.59" r="1.85" fill="none" stroke="#5b7fc0" stroke-width="0.6"/><circle cx="372.75" cy="126.85" r="1.85" fill="none" stroke="#5b7fc0" stroke-width="0.6"/><circle cx="376.25" cy="128.32" r="1.85" fill="none" stroke="#5b7fc0" stroke-width="0.6"/><circle cx="379.75" cy="131.17" r="1.85" fill="none" stroke="#5b7fc0" stroke-width="0.6"/><circle cx="383.25" cy="130.97" r="1.85" fill="none" stroke="#5b7fc0" stroke-width="0.6"/><circle cx="386.76" cy="134.15" r="1.85" fill="none" stroke="#5b7fc0" stroke-width="0.6"/><circle cx="390.26" cy="135.6" r="1.85" fill="none" stroke="#5b7fc0" stroke-width="0.6"/><circle cx="393.76" cy="139.23" r="1.85" fill="none" stroke="#5b7fc0" stroke-width="0.6"/><circle cx="397.26" cy="141.06" r="1.85" fill="none" stroke="#5b7fc0" stroke-width="0.6"/><circle cx="400.76" cy="142.19" r="1.85" fill="none" stroke="#5b7fc0" stroke-width="0.6"/><circle cx="404.27" cy="143.22" r="1.85" fill="none" stroke="#5b7fc0" stroke-width="0.6"/><circle cx="407.77" cy="143.54" r="1.85" fill="none" stroke="#5b7fc0" stroke-width="0.6"/><circle cx="411.27" cy="144.7" r="1.85" fill="none" stroke="#5b7fc0" stroke-width="0.6"/><circle cx="414.77" cy="145.97" r="1.85" fill="none" stroke="#5b7fc0" stroke-width="0.6"/><circle cx="418.27" cy="146.91" r="1.85" fill="none" stroke="#5b7fc0" stroke-width="0.6"/><circle cx="421.78" cy="146.83" r="1.85" fill="none" stroke="#5b7fc0" stroke-width="0.6"/><circle cx="425.28" cy="145.43" r="1.85" fill="none" stroke="#5b7fc0" stroke-width="0.6"/><circle cx="428.78" cy="147.51" r="1.85" fill="none" stroke="#5b7fc0" stroke-width="0.6"/><circle cx="432.28" cy="146.64" r="1.85" fill="none" stroke="#5b7fc0" stroke-width="0.6"/><circle cx="435.78" cy="146.55" r="1.85" fill="none" stroke="#5b7fc0" stroke-width="0.6"/><circle cx="439.29" cy="148.42" r="1.85" fill="none" stroke="#5b7fc0" stroke-width="0.6"/><circle cx="442.79" cy="147.02" r="1.85" fill="none" stroke="#5b7fc0" stroke-width="0.6"/><circle cx="446.29" cy="145.87" r="1.85" fill="none" stroke="#5b7fc0" stroke-width="0.6"/><circle cx="449.79" cy="149.03" r="1.85" fill="none" stroke="#5b7fc0" stroke-width="0.6"/><circle cx="453.29" cy="147.46" r="1.85" fill="none" stroke="#5b7fc0" stroke-width="0.6"/><circle cx="456.8" cy="147.29" r="1.85" fill="none" stroke="#5b7fc0" stroke-width="0.6"/><circle cx="460.3" cy="147.98" r="1.85" fill="none" stroke="#5b7fc0" stroke-width="0.6"/><circle cx="463.8" cy="146.77" r="1.85" fill="none" stroke="#5b7fc0" stroke-width="0.6"/><polyline points="288.7,145.23 289.58,145.18 290.45,145.12 291.33,145.06 292.2,144.99 293.08,144.91 293.95,144.84 294.83,144.75 295.7,144.67 296.58,144.57 297.46,144.47 298.33,144.37 299.21,144.25 300.08,144.13 300.96,144.01 301.83,143.88 302.71,143.74 303.58,143.59 304.46,143.43 305.33,143.27 306.21,143.1 307.09,142.92 307.96,142.74 308.84,142.54 309.71,142.34 310.59,142.13 311.46,141.91 312.34,141.68 313.21,141.44 314.09,141.19 314.96,140.94 315.84,140.67 316.72,140.4 317.59,140.12 318.47,139.83 319.34,139.53 320.22,139.22 321.09,138.91 321.97,138.59 322.84,138.26 323.72,137.92 324.6,137.58 325.47,137.23 326.35,136.87 327.22,136.51 328.1,136.14 328.97,135.77 329.85,135.4 330.72,135.02 331.6,134.64 332.48,134.26 333.35,133.87 334.23,133.48 335.1,133.1 335.98,132.71 336.85,132.33 337.73,131.95 338.6,131.57 339.48,131.19 340.35,130.82 341.23,130.45 342.11,130.09 342.98,129.74 343.86,129.39 344.73,129.05 345.61,128.72 346.48,128.41 347.36,128.1 348.23,127.8 349.11,127.52 349.99,127.25 350.86,126.99 351.74,126.75 352.61,126.52 353.49,126.31 354.36,126.12 355.24,125.94 356.11,125.78 356.99,125.64 357.86,125.51 358.74,125.41 359.62,125.32 360.49,125.25 361.37,125.2 362.24,125.17 363.12,125.16 363.99,125.18 364.87,125.23 365.74,125.32 366.62,125.43 367.49,125.59 368.37,125.77 369.25,125.98 370.12,126.23 371,126.51 371.87,126.81 372.75,127.14 373.62,127.49 374.5,127.87 375.37,128.27 376.25,128.7 377.13,129.14 378,129.59 378.88,130.06 379.75,130.55 380.63,131.05 381.5,131.55 382.38,132.06 383.25,132.58 384.13,133.1 385.01,133.63 385.88,134.15 386.76,134.67 387.63,135.19 388.51,135.71 389.38,136.22 390.26,136.72 391.13,137.22 392.01,137.7 392.88,138.18 393.76,138.64 394.64,139.09 395.51,139.53 396.39,139.96 397.26,140.37 398.14,140.76 399.01,141.14 399.89,141.51 400.76,141.86 401.64,142.2 402.51,142.52 403.39,142.83 404.27,143.12 405.14,143.39 406.02,143.65 406.89,143.9 407.77,144.13 408.64,144.35 409.52,144.56 410.39,144.75 411.27,144.94 412.15,145.11 413.02,145.26 413.9,145.41 414.77,145.55 415.65,145.68 416.52,145.8 417.4,145.91 418.27,146.01 419.15,146.1 420.02,146.19 420.9,146.27 421.78,146.34 422.65,146.41 423.53,146.47 424.4,146.53 425.28,146.58 426.15,146.63 427.03,146.67 427.9,146.71 428.78,146.75 429.66,146.78 430.53,146.81 431.41,146.84 432.28,146.87 433.16,146.89 434.03,146.91 434.91,146.93 435.78,146.95 436.66,146.97 437.54,146.99 438.41,147 439.29,147.01 440.16,147.03 441.04,147.04 441.91,147.05 442.79,147.06 443.66,147.07 444.54,147.08 445.41,147.09 446.29,147.1 447.17,147.11 448.04,147.12 448.92,147.13 449.79,147.13 450.67,147.14 451.54,147.15 452.42,147.15 453.29,147.16 454.17,147.17 455.04,147.18 455.92,147.18 456.8,147.19 457.67,147.2 458.55,147.2 459.42,147.21 460.3,147.22 461.17,147.22 462.05,147.23 462.92,147.23 463.8,147.24" fill="none" stroke="#1c3a78" stroke-width="1.1" stroke-linejoin="round" /><circle cx="288.7" cy="122.95" r="1.85" fill="none" stroke="#4f8ccc" stroke-width="0.6"/><circle cx="292.2" cy="124.01" r="1.85" fill="none" stroke="#4f8ccc" stroke-width="0.6"/><circle cx="295.7" cy="122.29" r="1.85" fill="none" stroke="#4f8ccc" stroke-width="0.6"/><circle cx="299.21" cy="122.41" r="1.85" fill="none" stroke="#4f8ccc" stroke-width="0.6"/><circle cx="302.71" cy="122.21" r="1.85" fill="none" stroke="#4f8ccc" stroke-width="0.6"/><circle cx="306.21" cy="121.83" r="1.85" fill="none" stroke="#4f8ccc" stroke-width="0.6"/><circle cx="309.71" cy="122.63" r="1.85" fill="none" stroke="#4f8ccc" stroke-width="0.6"/><circle cx="313.21" cy="122.78" r="1.85" fill="none" stroke="#4f8ccc" stroke-width="0.6"/><circle cx="316.72" cy="123.79" r="1.85" fill="none" stroke="#4f8ccc" stroke-width="0.6"/><circle cx="320.22" cy="122.23" r="1.85" fill="none" stroke="#4f8ccc" stroke-width="0.6"/><circle cx="323.72" cy="122.94" r="1.85" fill="none" stroke="#4f8ccc" stroke-width="0.6"/><circle cx="327.22" cy="122.47" r="1.85" fill="none" stroke="#4f8ccc" stroke-width="0.6"/><circle cx="330.72" cy="122.52" r="1.85" fill="none" stroke="#4f8ccc" stroke-width="0.6"/><circle cx="334.23" cy="121.44" r="1.85" fill="none" stroke="#4f8ccc" stroke-width="0.6"/><circle cx="337.73" cy="119.9" r="1.85" fill="none" stroke="#4f8ccc" stroke-width="0.6"/><circle cx="341.23" cy="116.88" r="1.85" fill="none" stroke="#4f8ccc" stroke-width="0.6"/><circle cx="344.73" cy="117.29" r="1.85" fill="none" stroke="#4f8ccc" stroke-width="0.6"/><circle cx="348.23" cy="114.34" r="1.85" fill="none" stroke="#4f8ccc" stroke-width="0.6"/><circle cx="351.74" cy="110.23" r="1.85" fill="none" stroke="#4f8ccc" stroke-width="0.6"/><circle cx="355.24" cy="106.38" r="1.85" fill="none" stroke="#4f8ccc" stroke-width="0.6"/><circle cx="358.74" cy="104.22" r="1.85" fill="none" stroke="#4f8ccc" stroke-width="0.6"/><circle cx="362.24" cy="103.71" r="1.85" fill="none" stroke="#4f8ccc" stroke-width="0.6"/><circle cx="365.74" cy="102.5" r="1.85" fill="none" stroke="#4f8ccc" stroke-width="0.6"/><circle cx="369.25" cy="99.58" r="1.85" fill="none" stroke="#4f8ccc" stroke-width="0.6"/><circle cx="372.75" cy="100.69" r="1.85" fill="none" stroke="#4f8ccc" stroke-width="0.6"/><circle cx="376.25" cy="102.35" r="1.85" fill="none" stroke="#4f8ccc" stroke-width="0.6"/><circle cx="379.75" cy="103.04" r="1.85" fill="none" stroke="#4f8ccc" stroke-width="0.6"/><circle cx="383.25" cy="105.8" r="1.85" fill="none" stroke="#4f8ccc" stroke-width="0.6"/><circle cx="386.76" cy="109.62" r="1.85" fill="none" stroke="#4f8ccc" stroke-width="0.6"/><circle cx="390.26" cy="112.6" r="1.85" fill="none" stroke="#4f8ccc" stroke-width="0.6"/><circle cx="393.76" cy="115.18" r="1.85" fill="none" stroke="#4f8ccc" stroke-width="0.6"/><circle cx="397.26" cy="116.59" r="1.85" fill="none" stroke="#4f8ccc" stroke-width="0.6"/><circle cx="400.76" cy="119.09" r="1.85" fill="none" stroke="#4f8ccc" stroke-width="0.6"/><circle cx="404.27" cy="120.46" r="1.85" fill="none" stroke="#4f8ccc" stroke-width="0.6"/><circle cx="407.77" cy="121.32" r="1.85" fill="none" stroke="#4f8ccc" stroke-width="0.6"/><circle cx="411.27" cy="123.49" r="1.85" fill="none" stroke="#4f8ccc" stroke-width="0.6"/><circle cx="414.77" cy="121.7" r="1.85" fill="none" stroke="#4f8ccc" stroke-width="0.6"/><circle cx="418.27" cy="122.15" r="1.85" fill="none" stroke="#4f8ccc" stroke-width="0.6"/><circle cx="421.78" cy="122.59" r="1.85" fill="none" stroke="#4f8ccc" stroke-width="0.6"/><circle cx="425.28" cy="124.53" r="1.85" fill="none" stroke="#4f8ccc" stroke-width="0.6"/><circle cx="428.78" cy="123.56" r="1.85" fill="none" stroke="#4f8ccc" stroke-width="0.6"/><circle cx="432.28" cy="122.47" r="1.85" fill="none" stroke="#4f8ccc" stroke-width="0.6"/><circle cx="435.78" cy="124.47" r="1.85" fill="none" stroke="#4f8ccc" stroke-width="0.6"/><circle cx="439.29" cy="123.26" r="1.85" fill="none" stroke="#4f8ccc" stroke-width="0.6"/><circle cx="442.79" cy="122.36" r="1.85" fill="none" stroke="#4f8ccc" stroke-width="0.6"/><circle cx="446.29" cy="124.12" r="1.85" fill="none" stroke="#4f8ccc" stroke-width="0.6"/><circle cx="449.79" cy="121.92" r="1.85" fill="none" stroke="#4f8ccc" stroke-width="0.6"/><circle cx="453.29" cy="122.72" r="1.85" fill="none" stroke="#4f8ccc" stroke-width="0.6"/><circle cx="456.8" cy="123.26" r="1.85" fill="none" stroke="#4f8ccc" stroke-width="0.6"/><circle cx="460.3" cy="122.9" r="1.85" fill="none" stroke="#4f8ccc" stroke-width="0.6"/><circle cx="463.8" cy="122.67" r="1.85" fill="none" stroke="#4f8ccc" stroke-width="0.6"/><polyline points="288.7,122.9 289.58,122.9 290.45,122.91 291.33,122.91 292.2,122.91 293.08,122.91 293.95,122.91 294.83,122.91 295.7,122.91 296.58,122.91 297.46,122.91 298.33,122.92 299.21,122.92 300.08,122.92 300.96,122.92 301.83,122.92 302.71,122.92 303.58,122.92 304.46,122.92 305.33,122.92 306.21,122.91 307.09,122.91 307.96,122.91 308.84,122.91 309.71,122.9 310.59,122.9 311.46,122.89 312.34,122.88 313.21,122.87 314.09,122.86 314.96,122.85 315.84,122.83 316.72,122.81 317.59,122.79 318.47,122.76 319.34,122.73 320.22,122.69 321.09,122.65 321.97,122.6 322.84,122.54 323.72,122.48 324.6,122.41 325.47,122.33 326.35,122.23 327.22,122.13 328.1,122.01 328.97,121.88 329.85,121.73 330.72,121.56 331.6,121.38 332.48,121.18 333.35,120.96 334.23,120.71 335.1,120.45 335.98,120.16 336.85,119.84 337.73,119.5 338.6,119.13 339.48,118.73 340.35,118.31 341.23,117.85 342.11,117.37 342.98,116.86 343.86,116.32 344.73,115.76 345.61,115.16 346.48,114.55 347.36,113.9 348.23,113.24 349.11,112.56 349.99,111.85 350.86,111.14 351.74,110.41 352.61,109.68 353.49,108.94 354.36,108.2 355.24,107.47 356.11,106.74 356.99,106.03 357.86,105.33 358.74,104.66 359.62,104.01 360.49,103.4 361.37,102.82 362.24,102.28 363.12,101.79 363.99,101.34 364.87,100.95 365.74,100.61 366.62,100.33 367.49,100.11 368.37,99.95 369.25,99.85 370.12,99.82 371,99.86 371.87,99.96 372.75,100.14 373.62,100.39 374.5,100.7 375.37,101.07 376.25,101.51 377.13,102 378,102.55 378.88,103.14 379.75,103.77 380.63,104.45 381.5,105.15 382.38,105.88 383.25,106.63 384.13,107.4 385.01,108.18 385.88,108.96 386.76,109.74 387.63,110.52 388.51,111.29 389.38,112.04 390.26,112.78 391.13,113.5 392.01,114.2 392.88,114.87 393.76,115.51 394.64,116.13 395.51,116.71 396.39,117.26 397.26,117.79 398.14,118.27 399.01,118.73 399.89,119.16 400.76,119.55 401.64,119.92 402.51,120.26 403.39,120.56 404.27,120.85 405.14,121.1 406.02,121.33 406.89,121.54 407.77,121.73 408.64,121.9 409.52,122.05 410.39,122.19 411.27,122.31 412.15,122.42 413.02,122.51 413.9,122.59 414.77,122.66 415.65,122.73 416.52,122.78 417.4,122.83 418.27,122.87 419.15,122.91 420.02,122.94 420.9,122.96 421.78,122.99 422.65,123.01 423.53,123.02 424.4,123.04 425.28,123.05 426.15,123.06 427.03,123.07 427.9,123.08 428.78,123.08 429.66,123.09 430.53,123.09 431.41,123.1 432.28,123.1 433.16,123.1 434.03,123.11 434.91,123.11 435.78,123.11 436.66,123.11 437.54,123.11 438.41,123.12 439.29,123.12 440.16,123.12 441.04,123.12 441.91,123.12 442.79,123.12 443.66,123.13 444.54,123.13 445.41,123.13 446.29,123.13 447.17,123.13 448.04,123.13 448.92,123.13 449.79,123.13 450.67,123.14 451.54,123.14 452.42,123.14 453.29,123.14 454.17,123.14 455.04,123.14 455.92,123.14 456.8,123.14 457.67,123.15 458.55,123.15 459.42,123.15 460.3,123.15 461.17,123.15 462.05,123.15 462.92,123.15 463.8,123.15" fill="none" stroke="#2a6cb8" stroke-width="1.1" stroke-linejoin="round" /><circle cx="288.7" cy="96.97" r="1.85" fill="none" stroke="#6aa6dc" stroke-width="0.6"/><circle cx="292.2" cy="96.21" r="1.85" fill="none" stroke="#6aa6dc" stroke-width="0.6"/><circle cx="295.7" cy="97.58" r="1.85" fill="none" stroke="#6aa6dc" stroke-width="0.6"/><circle cx="299.21" cy="97.4" r="1.85" fill="none" stroke="#6aa6dc" stroke-width="0.6"/><circle cx="302.71" cy="96.31" r="1.85" fill="none" stroke="#6aa6dc" stroke-width="0.6"/><circle cx="306.21" cy="97.08" r="1.85" fill="none" stroke="#6aa6dc" stroke-width="0.6"/><circle cx="309.71" cy="97.77" r="1.85" fill="none" stroke="#6aa6dc" stroke-width="0.6"/><circle cx="313.21" cy="96.38" r="1.85" fill="none" stroke="#6aa6dc" stroke-width="0.6"/><circle cx="316.72" cy="95.96" r="1.85" fill="none" stroke="#6aa6dc" stroke-width="0.6"/><circle cx="320.22" cy="97.32" r="1.85" fill="none" stroke="#6aa6dc" stroke-width="0.6"/><circle cx="323.72" cy="97.88" r="1.85" fill="none" stroke="#6aa6dc" stroke-width="0.6"/><circle cx="327.22" cy="96.67" r="1.85" fill="none" stroke="#6aa6dc" stroke-width="0.6"/><circle cx="330.72" cy="96.22" r="1.85" fill="none" stroke="#6aa6dc" stroke-width="0.6"/><circle cx="334.23" cy="95.59" r="1.85" fill="none" stroke="#6aa6dc" stroke-width="0.6"/><circle cx="337.73" cy="93.21" r="1.85" fill="none" stroke="#6aa6dc" stroke-width="0.6"/><circle cx="341.23" cy="93.48" r="1.85" fill="none" stroke="#6aa6dc" stroke-width="0.6"/><circle cx="344.73" cy="89.72" r="1.85" fill="none" stroke="#6aa6dc" stroke-width="0.6"/><circle cx="348.23" cy="89.14" r="1.85" fill="none" stroke="#6aa6dc" stroke-width="0.6"/><circle cx="351.74" cy="85.96" r="1.85" fill="none" stroke="#6aa6dc" stroke-width="0.6"/><circle cx="355.24" cy="81.98" r="1.85" fill="none" stroke="#6aa6dc" stroke-width="0.6"/><circle cx="358.74" cy="78.91" r="1.85" fill="none" stroke="#6aa6dc" stroke-width="0.6"/><circle cx="362.24" cy="76.96" r="1.85" fill="none" stroke="#6aa6dc" stroke-width="0.6"/><circle cx="365.74" cy="76.03" r="1.85" fill="none" stroke="#6aa6dc" stroke-width="0.6"/><circle cx="369.25" cy="75.91" r="1.85" fill="none" stroke="#6aa6dc" stroke-width="0.6"/><circle cx="372.75" cy="76.71" r="1.85" fill="none" stroke="#6aa6dc" stroke-width="0.6"/><circle cx="376.25" cy="78.16" r="1.85" fill="none" stroke="#6aa6dc" stroke-width="0.6"/><circle cx="379.75" cy="81.21" r="1.85" fill="none" stroke="#6aa6dc" stroke-width="0.6"/><circle cx="383.25" cy="83.73" r="1.85" fill="none" stroke="#6aa6dc" stroke-width="0.6"/><circle cx="386.76" cy="86.43" r="1.85" fill="none" stroke="#6aa6dc" stroke-width="0.6"/><circle cx="390.26" cy="89.56" r="1.85" fill="none" stroke="#6aa6dc" stroke-width="0.6"/><circle cx="393.76" cy="91.29" r="1.85" fill="none" stroke="#6aa6dc" stroke-width="0.6"/><circle cx="397.26" cy="93.26" r="1.85" fill="none" stroke="#6aa6dc" stroke-width="0.6"/><circle cx="400.76" cy="93.52" r="1.85" fill="none" stroke="#6aa6dc" stroke-width="0.6"/><circle cx="404.27" cy="95.73" r="1.85" fill="none" stroke="#6aa6dc" stroke-width="0.6"/><circle cx="407.77" cy="96.91" r="1.85" fill="none" stroke="#6aa6dc" stroke-width="0.6"/><circle cx="411.27" cy="97.25" r="1.85" fill="none" stroke="#6aa6dc" stroke-width="0.6"/><circle cx="414.77" cy="97.2" r="1.85" fill="none" stroke="#6aa6dc" stroke-width="0.6"/><circle cx="418.27" cy="96.62" r="1.85" fill="none" stroke="#6aa6dc" stroke-width="0.6"/><circle cx="421.78" cy="97.64" r="1.85" fill="none" stroke="#6aa6dc" stroke-width="0.6"/><circle cx="425.28" cy="97.14" r="1.85" fill="none" stroke="#6aa6dc" stroke-width="0.6"/><circle cx="428.78" cy="96.07" r="1.85" fill="none" stroke="#6aa6dc" stroke-width="0.6"/><circle cx="432.28" cy="99.4" r="1.85" fill="none" stroke="#6aa6dc" stroke-width="0.6"/><circle cx="435.78" cy="98.33" r="1.85" fill="none" stroke="#6aa6dc" stroke-width="0.6"/><circle cx="439.29" cy="97.31" r="1.85" fill="none" stroke="#6aa6dc" stroke-width="0.6"/><circle cx="442.79" cy="97.2" r="1.85" fill="none" stroke="#6aa6dc" stroke-width="0.6"/><circle cx="446.29" cy="97.33" r="1.85" fill="none" stroke="#6aa6dc" stroke-width="0.6"/><circle cx="449.79" cy="97.85" r="1.85" fill="none" stroke="#6aa6dc" stroke-width="0.6"/><circle cx="453.29" cy="97.04" r="1.85" fill="none" stroke="#6aa6dc" stroke-width="0.6"/><circle cx="456.8" cy="97.33" r="1.85" fill="none" stroke="#6aa6dc" stroke-width="0.6"/><circle cx="460.3" cy="97.94" r="1.85" fill="none" stroke="#6aa6dc" stroke-width="0.6"/><circle cx="463.8" cy="95.73" r="1.85" fill="none" stroke="#6aa6dc" stroke-width="0.6"/><polyline points="288.7,97.06 289.58,97.06 290.45,97.06 291.33,97.07 292.2,97.07 293.08,97.07 293.95,97.07 294.83,97.08 295.7,97.08 296.58,97.08 297.46,97.08 298.33,97.09 299.21,97.09 300.08,97.09 300.96,97.09 301.83,97.1 302.71,97.1 303.58,97.1 304.46,97.1 305.33,97.1 306.21,97.1 307.09,97.1 307.96,97.11 308.84,97.11 309.71,97.11 310.59,97.1 311.46,97.1 312.34,97.1 313.21,97.1 314.09,97.09 314.96,97.08 315.84,97.07 316.72,97.06 317.59,97.05 318.47,97.03 319.34,97.01 320.22,96.99 321.09,96.96 321.97,96.93 322.84,96.89 323.72,96.84 324.6,96.79 325.47,96.73 326.35,96.65 327.22,96.57 328.1,96.48 328.97,96.37 329.85,96.25 330.72,96.11 331.6,95.95 332.48,95.78 333.35,95.59 334.23,95.37 335.1,95.13 335.98,94.87 336.85,94.58 337.73,94.26 338.6,93.92 339.48,93.55 340.35,93.14 341.23,92.71 342.11,92.25 342.98,91.75 343.86,91.23 344.73,90.67 345.61,90.09 346.48,89.48 347.36,88.84 348.23,88.18 349.11,87.5 349.99,86.81 350.86,86.09 351.74,85.37 352.61,84.64 353.49,83.91 354.36,83.18 355.24,82.46 356.11,81.75 356.99,81.06 357.86,80.4 358.74,79.76 359.62,79.16 360.49,78.59 361.37,78.07 362.24,77.6 363.12,77.19 363.99,76.83 364.87,76.53 365.74,76.29 366.62,76.12 367.49,76.02 368.37,75.98 369.25,76.02 370.12,76.12 371,76.29 371.87,76.53 372.75,76.83 373.62,77.19 374.5,77.61 375.37,78.08 376.25,78.6 377.13,79.16 378,79.77 378.88,80.41 379.75,81.08 380.63,81.77 381.5,82.48 382.38,83.21 383.25,83.94 384.13,84.68 385.01,85.41 385.88,86.14 386.76,86.86 387.63,87.56 388.51,88.25 389.38,88.92 390.26,89.56 391.13,90.18 392.01,90.77 392.88,91.33 393.76,91.86 394.64,92.36 395.51,92.83 396.39,93.27 397.26,93.68 398.14,94.06 399.01,94.41 399.89,94.74 400.76,95.03 401.64,95.3 402.51,95.55 403.39,95.77 404.27,95.97 405.14,96.15 406.02,96.31 406.89,96.46 407.77,96.59 408.64,96.7 409.52,96.8 410.39,96.89 411.27,96.97 412.15,97.03 413.02,97.09 413.9,97.15 414.77,97.19 415.65,97.23 416.52,97.26 417.4,97.29 418.27,97.32 419.15,97.34 420.02,97.36 420.9,97.37 421.78,97.39 422.65,97.4 423.53,97.41 424.4,97.42 425.28,97.43 426.15,97.43 427.03,97.44 427.9,97.45 428.78,97.45 429.66,97.46 430.53,97.46 431.41,97.46 432.28,97.47 433.16,97.47 434.03,97.47 434.91,97.48 435.78,97.48 436.66,97.48 437.54,97.49 438.41,97.49 439.29,97.49 440.16,97.49 441.04,97.5 441.91,97.5 442.79,97.5 443.66,97.5 444.54,97.51 445.41,97.51 446.29,97.51 447.17,97.51 448.04,97.52 448.92,97.52 449.79,97.52 450.67,97.52 451.54,97.53 452.42,97.53 453.29,97.53 454.17,97.53 455.04,97.54 455.92,97.54 456.8,97.54 457.67,97.54 458.55,97.55 459.42,97.55 460.3,97.55 461.17,97.55 462.05,97.56 462.92,97.56 463.8,97.56" fill="none" stroke="#3a86cc" stroke-width="1.1" stroke-linejoin="round" /><circle cx="288.7" cy="68.06" r="1.85" fill="none" stroke="#8fc2ea" stroke-width="0.6"/><circle cx="292.2" cy="69.09" r="1.85" fill="none" stroke="#8fc2ea" stroke-width="0.6"/><circle cx="295.7" cy="68.58" r="1.85" fill="none" stroke="#8fc2ea" stroke-width="0.6"/><circle cx="299.21" cy="68.73" r="1.85" fill="none" stroke="#8fc2ea" stroke-width="0.6"/><circle cx="302.71" cy="68.55" r="1.85" fill="none" stroke="#8fc2ea" stroke-width="0.6"/><circle cx="306.21" cy="71.56" r="1.85" fill="none" stroke="#8fc2ea" stroke-width="0.6"/><circle cx="309.71" cy="69.03" r="1.85" fill="none" stroke="#8fc2ea" stroke-width="0.6"/><circle cx="313.21" cy="67.34" r="1.85" fill="none" stroke="#8fc2ea" stroke-width="0.6"/><circle cx="316.72" cy="69.79" r="1.85" fill="none" stroke="#8fc2ea" stroke-width="0.6"/><circle cx="320.22" cy="68.51" r="1.85" fill="none" stroke="#8fc2ea" stroke-width="0.6"/><circle cx="323.72" cy="67.29" r="1.85" fill="none" stroke="#8fc2ea" stroke-width="0.6"/><circle cx="327.22" cy="67.25" r="1.85" fill="none" stroke="#8fc2ea" stroke-width="0.6"/><circle cx="330.72" cy="66.27" r="1.85" fill="none" stroke="#8fc2ea" stroke-width="0.6"/><circle cx="334.23" cy="69.4" r="1.85" fill="none" stroke="#8fc2ea" stroke-width="0.6"/><circle cx="337.73" cy="67.12" r="1.85" fill="none" stroke="#8fc2ea" stroke-width="0.6"/><circle cx="341.23" cy="65.96" r="1.85" fill="none" stroke="#8fc2ea" stroke-width="0.6"/><circle cx="344.73" cy="63.28" r="1.85" fill="none" stroke="#8fc2ea" stroke-width="0.6"/><circle cx="348.23" cy="60.71" r="1.85" fill="none" stroke="#8fc2ea" stroke-width="0.6"/><circle cx="351.74" cy="62.55" r="1.85" fill="none" stroke="#8fc2ea" stroke-width="0.6"/><circle cx="355.24" cy="55.7" r="1.85" fill="none" stroke="#8fc2ea" stroke-width="0.6"/><circle cx="358.74" cy="56.09" r="1.85" fill="none" stroke="#8fc2ea" stroke-width="0.6"/><circle cx="362.24" cy="51.66" r="1.85" fill="none" stroke="#8fc2ea" stroke-width="0.6"/><circle cx="365.74" cy="52.87" r="1.85" fill="none" stroke="#8fc2ea" stroke-width="0.6"/><circle cx="369.25" cy="50.73" r="1.85" fill="none" stroke="#8fc2ea" stroke-width="0.6"/><circle cx="372.75" cy="50.35" r="1.85" fill="none" stroke="#8fc2ea" stroke-width="0.6"/><circle cx="376.25" cy="53.53" r="1.85" fill="none" stroke="#8fc2ea" stroke-width="0.6"/><circle cx="379.75" cy="55.45" r="1.85" fill="none" stroke="#8fc2ea" stroke-width="0.6"/><circle cx="383.25" cy="57.35" r="1.85" fill="none" stroke="#8fc2ea" stroke-width="0.6"/><circle cx="386.76" cy="60.64" r="1.85" fill="none" stroke="#8fc2ea" stroke-width="0.6"/><circle cx="390.26" cy="63.16" r="1.85" fill="none" stroke="#8fc2ea" stroke-width="0.6"/><circle cx="393.76" cy="63.17" r="1.85" fill="none" stroke="#8fc2ea" stroke-width="0.6"/><circle cx="397.26" cy="65.09" r="1.85" fill="none" stroke="#8fc2ea" stroke-width="0.6"/><circle cx="400.76" cy="67.56" r="1.85" fill="none" stroke="#8fc2ea" stroke-width="0.6"/><circle cx="404.27" cy="64.74" r="1.85" fill="none" stroke="#8fc2ea" stroke-width="0.6"/><circle cx="407.77" cy="69.51" r="1.85" fill="none" stroke="#8fc2ea" stroke-width="0.6"/><circle cx="411.27" cy="67.39" r="1.85" fill="none" stroke="#8fc2ea" stroke-width="0.6"/><circle cx="414.77" cy="68.84" r="1.85" fill="none" stroke="#8fc2ea" stroke-width="0.6"/><circle cx="418.27" cy="68.45" r="1.85" fill="none" stroke="#8fc2ea" stroke-width="0.6"/><circle cx="421.78" cy="67.83" r="1.85" fill="none" stroke="#8fc2ea" stroke-width="0.6"/><circle cx="425.28" cy="68.39" r="1.85" fill="none" stroke="#8fc2ea" stroke-width="0.6"/><circle cx="428.78" cy="67.93" r="1.85" fill="none" stroke="#8fc2ea" stroke-width="0.6"/><circle cx="432.28" cy="70.39" r="1.85" fill="none" stroke="#8fc2ea" stroke-width="0.6"/><circle cx="435.78" cy="70.37" r="1.85" fill="none" stroke="#8fc2ea" stroke-width="0.6"/><circle cx="439.29" cy="67.98" r="1.85" fill="none" stroke="#8fc2ea" stroke-width="0.6"/><circle cx="442.79" cy="69.76" r="1.85" fill="none" stroke="#8fc2ea" stroke-width="0.6"/><circle cx="446.29" cy="69.84" r="1.85" fill="none" stroke="#8fc2ea" stroke-width="0.6"/><circle cx="449.79" cy="70.35" r="1.85" fill="none" stroke="#8fc2ea" stroke-width="0.6"/><circle cx="453.29" cy="67.26" r="1.85" fill="none" stroke="#8fc2ea" stroke-width="0.6"/><circle cx="456.8" cy="67.85" r="1.85" fill="none" stroke="#8fc2ea" stroke-width="0.6"/><circle cx="460.3" cy="67.04" r="1.85" fill="none" stroke="#8fc2ea" stroke-width="0.6"/><circle cx="463.8" cy="69.77" r="1.85" fill="none" stroke="#8fc2ea" stroke-width="0.6"/><polyline points="288.7,68.46 289.58,68.46 290.45,68.46 291.33,68.46 292.2,68.46 293.08,68.46 293.95,68.46 294.83,68.47 295.7,68.47 296.58,68.47 297.46,68.47 298.33,68.47 299.21,68.47 300.08,68.47 300.96,68.47 301.83,68.47 302.71,68.48 303.58,68.48 304.46,68.48 305.33,68.48 306.21,68.48 307.09,68.48 307.96,68.48 308.84,68.48 309.71,68.48 310.59,68.48 311.46,68.48 312.34,68.48 313.21,68.48 314.09,68.48 314.96,68.48 315.84,68.47 316.72,68.47 317.59,68.46 318.47,68.46 319.34,68.45 320.22,68.44 321.09,68.42 321.97,68.41 322.84,68.39 323.72,68.37 324.6,68.34 325.47,68.31 326.35,68.27 327.22,68.22 328.1,68.17 328.97,68.11 329.85,68.03 330.72,67.95 331.6,67.85 332.48,67.74 333.35,67.62 334.23,67.48 335.1,67.32 335.98,67.14 336.85,66.94 337.73,66.72 338.6,66.47 339.48,66.2 340.35,65.9 341.23,65.58 342.11,65.22 342.98,64.84 343.86,64.43 344.73,63.99 345.61,63.52 346.48,63.02 347.36,62.49 348.23,61.94 349.11,61.37 349.99,60.77 350.86,60.15 351.74,59.52 352.61,58.88 353.49,58.23 354.36,57.58 355.24,56.93 356.11,56.29 356.99,55.65 357.86,55.04 358.74,54.45 359.62,53.89 360.49,53.36 361.37,52.87 362.24,52.43 363.12,52.04 363.99,51.7 364.87,51.41 365.74,51.19 366.62,51.02 367.49,50.93 368.37,50.89 369.25,50.93 370.12,51.02 371,51.19 371.87,51.41 372.75,51.7 373.62,52.04 374.5,52.43 375.37,52.88 376.25,53.37 377.13,53.89 378,54.46 378.88,55.05 379.75,55.66 380.63,56.3 381.5,56.94 382.38,57.59 383.25,58.25 384.13,58.9 385.01,59.55 385.88,60.18 386.76,60.8 387.63,61.4 388.51,61.98 389.38,62.53 390.26,63.06 391.13,63.56 392.01,64.04 392.88,64.48 393.76,64.9 394.64,65.28 395.51,65.64 396.39,65.97 397.26,66.27 398.14,66.55 399.01,66.8 399.89,67.02 400.76,67.23 401.64,67.41 402.51,67.57 403.39,67.72 404.27,67.84 405.14,67.96 406.02,68.05 406.89,68.14 407.77,68.22 408.64,68.28 409.52,68.34 410.39,68.39 411.27,68.43 412.15,68.46 413.02,68.49 413.9,68.52 414.77,68.54 415.65,68.56 416.52,68.58 417.4,68.59 418.27,68.6 419.15,68.61 420.02,68.62 420.9,68.62 421.78,68.63 422.65,68.63 423.53,68.64 424.4,68.64 425.28,68.65 426.15,68.65 427.03,68.65 427.9,68.65 428.78,68.65 429.66,68.66 430.53,68.66 431.41,68.66 432.28,68.66 433.16,68.66 434.03,68.66 434.91,68.67 435.78,68.67 436.66,68.67 437.54,68.67 438.41,68.67 439.29,68.67 440.16,68.67 441.04,68.67 441.91,68.68 442.79,68.68 443.66,68.68 444.54,68.68 445.41,68.68 446.29,68.68 447.17,68.68 448.04,68.68 448.92,68.69 449.79,68.69 450.67,68.69 451.54,68.69 452.42,68.69 453.29,68.69 454.17,68.69 455.04,68.69 455.92,68.7 456.8,68.7 457.67,68.7 458.55,68.7 459.42,68.7 460.3,68.7 461.17,68.7 462.05,68.7 462.92,68.71 463.8,68.71" fill="none" stroke="#74b2e2" stroke-width="1.1" stroke-linejoin="round" /><circle cx="288.7" cy="41.61" r="1.85" fill="none" stroke="#a9d0f0" stroke-width="0.6"/><circle cx="292.2" cy="43.56" r="1.85" fill="none" stroke="#a9d0f0" stroke-width="0.6"/><circle cx="295.7" cy="40.34" r="1.85" fill="none" stroke="#a9d0f0" stroke-width="0.6"/><circle cx="299.21" cy="38.96" r="1.85" fill="none" stroke="#a9d0f0" stroke-width="0.6"/><circle cx="302.71" cy="43.18" r="1.85" fill="none" stroke="#a9d0f0" stroke-width="0.6"/><circle cx="306.21" cy="39.04" r="1.85" fill="none" stroke="#a9d0f0" stroke-width="0.6"/><circle cx="309.71" cy="40.02" r="1.85" fill="none" stroke="#a9d0f0" stroke-width="0.6"/><circle cx="313.21" cy="42.01" r="1.85" fill="none" stroke="#a9d0f0" stroke-width="0.6"/><circle cx="316.72" cy="45.06" r="1.85" fill="none" stroke="#a9d0f0" stroke-width="0.6"/><circle cx="320.22" cy="39.33" r="1.85" fill="none" stroke="#a9d0f0" stroke-width="0.6"/><circle cx="323.72" cy="41.85" r="1.85" fill="none" stroke="#a9d0f0" stroke-width="0.6"/><circle cx="327.22" cy="42.64" r="1.85" fill="none" stroke="#a9d0f0" stroke-width="0.6"/><circle cx="330.72" cy="40.8" r="1.85" fill="none" stroke="#a9d0f0" stroke-width="0.6"/><circle cx="334.23" cy="40.51" r="1.85" fill="none" stroke="#a9d0f0" stroke-width="0.6"/><circle cx="337.73" cy="38.21" r="1.85" fill="none" stroke="#a9d0f0" stroke-width="0.6"/><circle cx="341.23" cy="41.76" r="1.85" fill="none" stroke="#a9d0f0" stroke-width="0.6"/><circle cx="344.73" cy="37.09" r="1.85" fill="none" stroke="#a9d0f0" stroke-width="0.6"/><circle cx="348.23" cy="35.15" r="1.85" fill="none" stroke="#a9d0f0" stroke-width="0.6"/><circle cx="351.74" cy="33.58" r="1.85" fill="none" stroke="#a9d0f0" stroke-width="0.6"/><circle cx="355.24" cy="34.58" r="1.85" fill="none" stroke="#a9d0f0" stroke-width="0.6"/><circle cx="358.74" cy="33.82" r="1.85" fill="none" stroke="#a9d0f0" stroke-width="0.6"/><circle cx="362.24" cy="29.42" r="1.85" fill="none" stroke="#a9d0f0" stroke-width="0.6"/><circle cx="365.74" cy="30.08" r="1.85" fill="none" stroke="#a9d0f0" stroke-width="0.6"/><circle cx="369.25" cy="29.88" r="1.85" fill="none" stroke="#a9d0f0" stroke-width="0.6"/><circle cx="372.75" cy="28.22" r="1.85" fill="none" stroke="#a9d0f0" stroke-width="0.6"/><circle cx="376.25" cy="32.26" r="1.85" fill="none" stroke="#a9d0f0" stroke-width="0.6"/><circle cx="379.75" cy="37.31" r="1.85" fill="none" stroke="#a9d0f0" stroke-width="0.6"/><circle cx="383.25" cy="35.88" r="1.85" fill="none" stroke="#a9d0f0" stroke-width="0.6"/><circle cx="386.76" cy="40.11" r="1.85" fill="none" stroke="#a9d0f0" stroke-width="0.6"/><circle cx="390.26" cy="37.13" r="1.85" fill="none" stroke="#a9d0f0" stroke-width="0.6"/><circle cx="393.76" cy="39.2" r="1.85" fill="none" stroke="#a9d0f0" stroke-width="0.6"/><circle cx="397.26" cy="41.68" r="1.85" fill="none" stroke="#a9d0f0" stroke-width="0.6"/><circle cx="400.76" cy="41.28" r="1.85" fill="none" stroke="#a9d0f0" stroke-width="0.6"/><circle cx="404.27" cy="40.24" r="1.85" fill="none" stroke="#a9d0f0" stroke-width="0.6"/><circle cx="407.77" cy="41.76" r="1.85" fill="none" stroke="#a9d0f0" stroke-width="0.6"/><circle cx="411.27" cy="39.78" r="1.85" fill="none" stroke="#a9d0f0" stroke-width="0.6"/><circle cx="414.77" cy="42.2" r="1.85" fill="none" stroke="#a9d0f0" stroke-width="0.6"/><circle cx="418.27" cy="40.38" r="1.85" fill="none" stroke="#a9d0f0" stroke-width="0.6"/><circle cx="421.78" cy="39.65" r="1.85" fill="none" stroke="#a9d0f0" stroke-width="0.6"/><circle cx="425.28" cy="39.47" r="1.85" fill="none" stroke="#a9d0f0" stroke-width="0.6"/><circle cx="428.78" cy="43.35" r="1.85" fill="none" stroke="#a9d0f0" stroke-width="0.6"/><circle cx="432.28" cy="40.74" r="1.85" fill="none" stroke="#a9d0f0" stroke-width="0.6"/><circle cx="435.78" cy="45.42" r="1.85" fill="none" stroke="#a9d0f0" stroke-width="0.6"/><circle cx="439.29" cy="44.09" r="1.85" fill="none" stroke="#a9d0f0" stroke-width="0.6"/><circle cx="442.79" cy="45.6" r="1.85" fill="none" stroke="#a9d0f0" stroke-width="0.6"/><circle cx="446.29" cy="40.48" r="1.85" fill="none" stroke="#a9d0f0" stroke-width="0.6"/><circle cx="449.79" cy="44.39" r="1.85" fill="none" stroke="#a9d0f0" stroke-width="0.6"/><circle cx="453.29" cy="42.34" r="1.85" fill="none" stroke="#a9d0f0" stroke-width="0.6"/><circle cx="456.8" cy="42.66" r="1.85" fill="none" stroke="#a9d0f0" stroke-width="0.6"/><circle cx="460.3" cy="42.4" r="1.85" fill="none" stroke="#a9d0f0" stroke-width="0.6"/><circle cx="463.8" cy="43.36" r="1.85" fill="none" stroke="#a9d0f0" stroke-width="0.6"/><polyline points="288.7,41.61 289.58,41.61 290.45,41.62 291.33,41.62 292.2,41.62 293.08,41.63 293.95,41.63 294.83,41.64 295.7,41.64 296.58,41.64 297.46,41.65 298.33,41.65 299.21,41.65 300.08,41.66 300.96,41.66 301.83,41.67 302.71,41.67 303.58,41.67 304.46,41.68 305.33,41.68 306.21,41.68 307.09,41.69 307.96,41.69 308.84,41.69 309.71,41.7 310.59,41.7 311.46,41.7 312.34,41.71 313.21,41.71 314.09,41.71 314.96,41.71 315.84,41.72 316.72,41.72 317.59,41.72 318.47,41.72 319.34,41.72 320.22,41.71 321.09,41.71 321.97,41.7 322.84,41.7 323.72,41.69 324.6,41.67 325.47,41.66 326.35,41.64 327.22,41.62 328.1,41.59 328.97,41.56 329.85,41.52 330.72,41.47 331.6,41.42 332.48,41.36 333.35,41.29 334.23,41.2 335.1,41.11 335.98,41 336.85,40.88 337.73,40.75 338.6,40.59 339.48,40.43 340.35,40.24 341.23,40.03 342.11,39.81 342.98,39.56 343.86,39.3 344.73,39.01 345.61,38.71 346.48,38.38 347.36,38.03 348.23,37.67 349.11,37.28 349.99,36.88 350.86,36.47 351.74,36.04 352.61,35.61 353.49,35.17 354.36,34.72 355.24,34.27 356.11,33.83 356.99,33.39 357.86,32.97 358.74,32.56 359.62,32.17 360.49,31.8 361.37,31.46 362.24,31.15 363.12,30.87 363.99,30.63 364.87,30.43 365.74,30.27 366.62,30.16 367.49,30.09 368.37,30.07 369.25,30.09 370.12,30.16 371,30.27 371.87,30.43 372.75,30.63 373.62,30.88 374.5,31.15 375.37,31.47 376.25,31.81 377.13,32.18 378,32.58 378.88,32.99 379.75,33.42 380.63,33.86 381.5,34.31 382.38,34.77 383.25,35.22 384.13,35.67 385.01,36.12 385.88,36.55 386.76,36.97 387.63,37.38 388.51,37.78 389.38,38.15 390.26,38.51 391.13,38.85 392.01,39.17 392.88,39.46 393.76,39.74 394.64,40 395.51,40.23 396.39,40.45 397.26,40.64 398.14,40.82 399.01,40.99 399.89,41.13 400.76,41.26 401.64,41.38 402.51,41.48 403.39,41.57 404.27,41.65 405.14,41.73 406.02,41.79 406.89,41.84 407.77,41.89 408.64,41.93 409.52,41.97 410.39,42 411.27,42.03 412.15,42.05 413.02,42.07 413.9,42.09 414.77,42.1 415.65,42.11 416.52,42.13 417.4,42.14 418.27,42.14 419.15,42.15 420.02,42.16 420.9,42.17 421.78,42.17 422.65,42.18 423.53,42.18 424.4,42.19 425.28,42.19 426.15,42.2 427.03,42.2 427.9,42.21 428.78,42.21 429.66,42.21 430.53,42.22 431.41,42.22 432.28,42.23 433.16,42.23 434.03,42.23 434.91,42.24 435.78,42.24 436.66,42.25 437.54,42.25 438.41,42.25 439.29,42.26 440.16,42.26 441.04,42.26 441.91,42.27 442.79,42.27 443.66,42.28 444.54,42.28 445.41,42.28 446.29,42.29 447.17,42.29 448.04,42.29 448.92,42.3 449.79,42.3 450.67,42.31 451.54,42.31 452.42,42.31 453.29,42.32 454.17,42.32 455.04,42.32 455.92,42.33 456.8,42.33 457.67,42.34 458.55,42.34 459.42,42.34 460.3,42.35 461.17,42.35 462.05,42.35 462.92,42.36 463.8,42.36" fill="none" stroke="#a3cbeb" stroke-width="1.1" stroke-linejoin="round" /></g><rect x="288.7" y="11.5" width="175.1" height="138" fill="none" stroke="#000" stroke-width="1.4" /><line x1="286.1" y1="149.5" x2="288.7" y2="149.5" stroke="#000" stroke-width="1.1" /><line x1="463.8" y1="149.5" x2="465.8" y2="149.5" stroke="#000" stroke-width="1" /><text x="285.7" y="152.9" font-size="9.6" font-family='"Liberation Sans", sans-serif' font-weight="bold" text-anchor="end" >0</text><line x1="286.1" y1="124.41" x2="288.7" y2="124.41" stroke="#000" stroke-width="1.1" /><line x1="463.8" y1="124.41" x2="465.8" y2="124.41" stroke="#000" stroke-width="1" /><text x="285.7" y="127.81" font-size="9.6" font-family='"Liberation Sans", sans-serif' font-weight="bold" text-anchor="end" >1</text><line x1="286.1" y1="99.32" x2="288.7" y2="99.32" stroke="#000" stroke-width="1.1" /><line x1="463.8" y1="99.32" x2="465.8" y2="99.32" stroke="#000" stroke-width="1" /><text x="285.7" y="102.72" font-size="9.6" font-family='"Liberation Sans", sans-serif' font-weight="bold" text-anchor="end" >2</text><line x1="286.1" y1="74.23" x2="288.7" y2="74.23" stroke="#000" stroke-width="1.1" /><line x1="463.8" y1="74.23" x2="465.8" y2="74.23" stroke="#000" stroke-width="1" /><text x="285.7" y="77.63" font-size="9.6" font-family='"Liberation Sans", sans-serif' font-weight="bold" text-anchor="end" >3</text><line x1="286.1" y1="49.14" x2="288.7" y2="49.14" stroke="#000" stroke-width="1.1" /><line x1="463.8" y1="49.14" x2="465.8" y2="49.14" stroke="#000" stroke-width="1" /><text x="285.7" y="52.54" font-size="9.6" font-family='"Liberation Sans", sans-serif' font-weight="bold" text-anchor="end" >4</text><line x1="286.1" y1="24.05" x2="288.7" y2="24.05" stroke="#000" stroke-width="1.1" /><line x1="463.8" y1="24.05" x2="465.8" y2="24.05" stroke="#000" stroke-width="1" /><text x="285.7" y="27.45" font-size="9.6" font-family='"Liberation Sans", sans-serif' font-weight="bold" text-anchor="end" >5</text><line x1="287.2" y1="136.95" x2="288.7" y2="136.95" stroke="#000" stroke-width="0.9" /><line x1="463.8" y1="136.95" x2="465" y2="136.95" stroke="#000" stroke-width="0.9" /><line x1="287.2" y1="111.86" x2="288.7" y2="111.86" stroke="#000" stroke-width="0.9" /><line x1="463.8" y1="111.86" x2="465" y2="111.86" stroke="#000" stroke-width="0.9" /><line x1="287.2" y1="86.77" x2="288.7" y2="86.77" stroke="#000" stroke-width="0.9" /><line x1="463.8" y1="86.77" x2="465" y2="86.77" stroke="#000" stroke-width="0.9" /><line x1="287.2" y1="61.68" x2="288.7" y2="61.68" stroke="#000" stroke-width="0.9" /><line x1="463.8" y1="61.68" x2="465" y2="61.68" stroke="#000" stroke-width="0.9" /><line x1="287.2" y1="36.59" x2="288.7" y2="36.59" stroke="#000" stroke-width="0.9" /><line x1="463.8" y1="36.59" x2="465" y2="36.59" stroke="#000" stroke-width="0.9" /><line x1="287.2" y1="11.5" x2="288.7" y2="11.5" stroke="#000" stroke-width="0.9" /><line x1="463.8" y1="11.5" x2="465" y2="11.5" stroke="#000" stroke-width="0.9" /><line x1="288.7" y1="149.5" x2="288.7" y2="152.1" stroke="#000" stroke-width="1.1" /><text x="288.7" y="161.1" font-size="9.6" font-family='"Liberation Sans", sans-serif' font-weight="bold" text-anchor="middle" >31.0</text><line x1="323.72" y1="149.5" x2="323.72" y2="152.1" stroke="#000" stroke-width="1.1" /><text x="323.72" y="161.1" font-size="9.6" font-family='"Liberation Sans", sans-serif' font-weight="bold" text-anchor="middle" >31.2</text><line x1="358.74" y1="149.5" x2="358.74" y2="152.1" stroke="#000" stroke-width="1.1" /><text x="358.74" y="161.1" font-size="9.6" font-family='"Liberation Sans", sans-serif' font-weight="bold" text-anchor="middle" >31.4</text><line x1="393.76" y1="149.5" x2="393.76" y2="152.1" stroke="#000" stroke-width="1.1" /><text x="393.76" y="161.1" font-size="9.6" font-family='"Liberation Sans", sans-serif' font-weight="bold" text-anchor="middle" >31.6</text><line x1="428.78" y1="149.5" x2="428.78" y2="152.1" stroke="#000" stroke-width="1.1" /><text x="428.78" y="161.1" font-size="9.6" font-family='"Liberation Sans", sans-serif' font-weight="bold" text-anchor="middle" >31.8</text><line x1="463.8" y1="149.5" x2="463.8" y2="152.1" stroke="#000" stroke-width="1.1" /><text x="463.8" y="161.1" font-size="9.6" font-family='"Liberation Sans", sans-serif' font-weight="bold" text-anchor="middle" >32.0</text><line x1="306.21" y1="149.5" x2="306.21" y2="151" stroke="#000" stroke-width="0.9" /><line x1="341.23" y1="149.5" x2="341.23" y2="151" stroke="#000" stroke-width="0.9" /><line x1="376.25" y1="149.5" x2="376.25" y2="151" stroke="#000" stroke-width="0.9" /><line x1="411.27" y1="149.5" x2="411.27" y2="151" stroke="#000" stroke-width="0.9" /><line x1="446.29" y1="149.5" x2="446.29" y2="151" stroke="#000" stroke-width="0.9" /><text x="295.8" y="31.6" font-size="13.3" font-family='"Liberation Mono", monospace' font-weight="bold" fill="#1a74cc" textLength="42.6" lengthAdjust="spacingAndGlyphs" >Control</text><text x="458.2" y="141" font-size="6.5" font-family='"Liberation Sans", sans-serif' text-anchor="end" fill="#111"><tspan font-style="italic" font-family='"Liberation Serif", serif'>ψ</tspan> = 0°</text><text x="458.2" y="116.9" font-size="6.5" font-family='"Liberation Sans", sans-serif' text-anchor="end" fill="#111"><tspan font-style="italic" font-family='"Liberation Serif", serif'>ψ</tspan> = 15°</text><text x="458.2" y="90.6" font-size="6.5" font-family='"Liberation Sans", sans-serif' text-anchor="end" fill="#111"><tspan font-style="italic" font-family='"Liberation Serif", serif'>ψ</tspan> = 30°</text><text x="458.2" y="63.6" font-size="6.5" font-family='"Liberation Sans", sans-serif' text-anchor="end" fill="#111"><tspan font-style="italic" font-family='"Liberation Serif", serif'>ψ</tspan> = 45°</text><text x="458.2" y="37.3" font-size="6.5" font-family='"Liberation Sans", sans-serif' text-anchor="end" fill="#111"><tspan font-style="italic" font-family='"Liberation Serif", serif'>ψ</tspan> = 60°</text><g clip-path="url(#cpd)"><circle cx="288.7" cy="319.64" r="1.85" fill="none" stroke="#98607e" stroke-width="0.6"/><circle cx="292.21" cy="318" r="1.85" fill="none" stroke="#98607e" stroke-width="0.6"/><circle cx="295.71" cy="319.4" r="1.85" fill="none" stroke="#98607e" stroke-width="0.6"/><circle cx="299.22" cy="318.62" r="1.85" fill="none" stroke="#98607e" stroke-width="0.6"/><circle cx="302.72" cy="317.76" r="1.85" fill="none" stroke="#98607e" stroke-width="0.6"/><circle cx="306.23" cy="318.37" r="1.85" fill="none" stroke="#98607e" stroke-width="0.6"/><circle cx="309.74" cy="318.74" r="1.85" fill="none" stroke="#98607e" stroke-width="0.6"/><circle cx="313.24" cy="317.32" r="1.85" fill="none" stroke="#98607e" stroke-width="0.6"/><circle cx="316.75" cy="314.9" r="1.85" fill="none" stroke="#98607e" stroke-width="0.6"/><circle cx="320.25" cy="316.45" r="1.85" fill="none" stroke="#98607e" stroke-width="0.6"/><circle cx="323.76" cy="314.33" r="1.85" fill="none" stroke="#98607e" stroke-width="0.6"/><circle cx="327.27" cy="311.58" r="1.85" fill="none" stroke="#98607e" stroke-width="0.6"/><circle cx="330.77" cy="310.46" r="1.85" fill="none" stroke="#98607e" stroke-width="0.6"/><circle cx="334.28" cy="309.82" r="1.85" fill="none" stroke="#98607e" stroke-width="0.6"/><circle cx="337.78" cy="307.68" r="1.85" fill="none" stroke="#98607e" stroke-width="0.6"/><circle cx="341.29" cy="306.91" r="1.85" fill="none" stroke="#98607e" stroke-width="0.6"/><circle cx="344.8" cy="306.88" r="1.85" fill="none" stroke="#98607e" stroke-width="0.6"/><circle cx="348.3" cy="306.07" r="1.85" fill="none" stroke="#98607e" stroke-width="0.6"/><circle cx="351.81" cy="304.19" r="1.85" fill="none" stroke="#98607e" stroke-width="0.6"/><circle cx="355.31" cy="301.92" r="1.85" fill="none" stroke="#98607e" stroke-width="0.6"/><circle cx="358.82" cy="302.77" r="1.85" fill="none" stroke="#98607e" stroke-width="0.6"/><circle cx="362.33" cy="302.8" r="1.85" fill="none" stroke="#98607e" stroke-width="0.6"/><circle cx="365.83" cy="302.7" r="1.85" fill="none" stroke="#98607e" stroke-width="0.6"/><circle cx="369.34" cy="303.91" r="1.85" fill="none" stroke="#98607e" stroke-width="0.6"/><circle cx="372.84" cy="303.54" r="1.85" fill="none" stroke="#98607e" stroke-width="0.6"/><circle cx="376.35" cy="305.9" r="1.85" fill="none" stroke="#98607e" stroke-width="0.6"/><circle cx="379.86" cy="306.11" r="1.85" fill="none" stroke="#98607e" stroke-width="0.6"/><circle cx="383.36" cy="310.53" r="1.85" fill="none" stroke="#98607e" stroke-width="0.6"/><circle cx="386.87" cy="309.95" r="1.85" fill="none" stroke="#98607e" stroke-width="0.6"/><circle cx="390.37" cy="312.79" r="1.85" fill="none" stroke="#98607e" stroke-width="0.6"/><circle cx="393.88" cy="315.85" r="1.85" fill="none" stroke="#98607e" stroke-width="0.6"/><circle cx="397.39" cy="315.02" r="1.85" fill="none" stroke="#98607e" stroke-width="0.6"/><circle cx="400.89" cy="317.43" r="1.85" fill="none" stroke="#98607e" stroke-width="0.6"/><circle cx="404.4" cy="320.51" r="1.85" fill="none" stroke="#98607e" stroke-width="0.6"/><circle cx="407.9" cy="320.27" r="1.85" fill="none" stroke="#98607e" stroke-width="0.6"/><circle cx="411.41" cy="319.99" r="1.85" fill="none" stroke="#98607e" stroke-width="0.6"/><circle cx="414.92" cy="321.34" r="1.85" fill="none" stroke="#98607e" stroke-width="0.6"/><circle cx="418.42" cy="320.66" r="1.85" fill="none" stroke="#98607e" stroke-width="0.6"/><circle cx="421.93" cy="321.06" r="1.85" fill="none" stroke="#98607e" stroke-width="0.6"/><circle cx="425.43" cy="321.4" r="1.85" fill="none" stroke="#98607e" stroke-width="0.6"/><circle cx="428.94" cy="321.92" r="1.85" fill="none" stroke="#98607e" stroke-width="0.6"/><circle cx="432.45" cy="321.12" r="1.85" fill="none" stroke="#98607e" stroke-width="0.6"/><circle cx="435.95" cy="321.87" r="1.85" fill="none" stroke="#98607e" stroke-width="0.6"/><circle cx="439.46" cy="322.16" r="1.85" fill="none" stroke="#98607e" stroke-width="0.6"/><circle cx="442.96" cy="324.62" r="1.85" fill="none" stroke="#98607e" stroke-width="0.6"/><circle cx="446.47" cy="321.88" r="1.85" fill="none" stroke="#98607e" stroke-width="0.6"/><circle cx="449.98" cy="321.55" r="1.85" fill="none" stroke="#98607e" stroke-width="0.6"/><circle cx="453.48" cy="323.11" r="1.85" fill="none" stroke="#98607e" stroke-width="0.6"/><circle cx="456.99" cy="323.33" r="1.85" fill="none" stroke="#98607e" stroke-width="0.6"/><circle cx="460.49" cy="321.11" r="1.85" fill="none" stroke="#98607e" stroke-width="0.6"/><circle cx="464" cy="324.64" r="1.85" fill="none" stroke="#98607e" stroke-width="0.6"/><polyline points="288.7,319.86 289.58,319.82 290.45,319.78 291.33,319.73 292.21,319.68 293.08,319.63 293.96,319.57 294.84,319.51 295.71,319.44 296.59,319.37 297.47,319.29 298.34,319.2 299.22,319.12 300.09,319.02 300.97,318.92 301.85,318.81 302.72,318.7 303.6,318.58 304.48,318.46 305.35,318.32 306.23,318.18 307.11,318.04 307.98,317.88 308.86,317.72 309.74,317.55 310.61,317.37 311.49,317.19 312.37,317 313.24,316.79 314.12,316.58 314.99,316.37 315.87,316.14 316.75,315.91 317.62,315.67 318.5,315.42 319.38,315.16 320.25,314.9 321.13,314.62 322.01,314.34 322.88,314.06 323.76,313.76 324.64,313.46 325.51,313.16 326.39,312.84 327.27,312.53 328.14,312.2 329.02,311.87 329.9,311.54 330.77,311.2 331.65,310.86 332.52,310.52 333.4,310.18 334.28,309.83 335.15,309.48 336.03,309.13 336.91,308.78 337.78,308.44 338.66,308.09 339.54,307.75 340.41,307.4 341.29,307.07 342.17,306.74 343.04,306.41 343.92,306.09 344.8,305.77 345.67,305.47 346.55,305.17 347.43,304.88 348.3,304.6 349.18,304.33 350.06,304.07 350.93,303.82 351.81,303.59 352.68,303.37 353.56,303.16 354.44,302.97 355.31,302.79 356.19,302.63 357.07,302.48 357.94,302.35 358.82,302.23 359.7,302.14 360.57,302.06 361.45,301.99 362.33,301.95 363.2,301.92 364.08,301.91 364.96,301.93 365.83,301.98 366.71,302.05 367.58,302.16 368.46,302.3 369.34,302.47 370.21,302.67 371.09,302.9 371.97,303.15 372.84,303.43 373.72,303.74 374.6,304.07 375.47,304.42 376.35,304.79 377.23,305.18 378.1,305.59 378.98,306.01 379.86,306.45 380.73,306.9 381.61,307.36 382.49,307.83 383.36,308.31 384.24,308.79 385.12,309.28 385.99,309.77 386.87,310.26 387.74,310.74 388.62,311.23 389.5,311.71 390.37,312.19 391.25,312.66 392.13,313.12 393,313.58 393.88,314.02 394.76,314.46 395.63,314.88 396.51,315.3 397.39,315.7 398.26,316.08 399.14,316.46 400.02,316.82 400.89,317.17 401.77,317.5 402.64,317.82 403.52,318.12 404.4,318.41 405.27,318.69 406.15,318.96 407.03,319.21 407.9,319.44 408.78,319.67 409.66,319.88 410.53,320.08 411.41,320.26 412.29,320.44 413.16,320.61 414.04,320.76 414.92,320.91 415.79,321.04 416.67,321.17 417.55,321.28 418.42,321.39 419.3,321.5 420.18,321.59 421.05,321.68 421.93,321.76 422.8,321.83 423.68,321.9 424.56,321.97 425.43,322.03 426.31,322.09 427.19,322.14 428.06,322.19 428.94,322.23 429.82,322.27 430.69,322.31 431.57,322.35 432.45,322.38 433.32,322.41 434.2,322.44 435.08,322.47 435.95,322.49 436.83,322.52 437.71,322.54 438.58,322.56 439.46,322.58 440.33,322.6 441.21,322.62 442.09,322.64 442.96,322.66 443.84,322.67 444.72,322.69 445.59,322.71 446.47,322.72 447.35,322.74 448.22,322.75 449.1,322.76 449.98,322.78 450.85,322.79 451.73,322.81 452.61,322.82 453.48,322.83 454.36,322.85 455.23,322.86 456.11,322.87 456.99,322.89 457.86,322.9 458.74,322.91 459.62,322.92 460.49,322.94 461.37,322.95 462.25,322.96 463.12,322.98 464,322.99" fill="none" stroke="#6b2f50" stroke-width="1.1" stroke-linejoin="round" /><circle cx="288.7" cy="299.05" r="1.85" fill="none" stroke="#c0648c" stroke-width="0.6"/><circle cx="292.21" cy="297.58" r="1.85" fill="none" stroke="#c0648c" stroke-width="0.6"/><circle cx="295.71" cy="300.11" r="1.85" fill="none" stroke="#c0648c" stroke-width="0.6"/><circle cx="299.22" cy="298.89" r="1.85" fill="none" stroke="#c0648c" stroke-width="0.6"/><circle cx="302.72" cy="297.98" r="1.85" fill="none" stroke="#c0648c" stroke-width="0.6"/><circle cx="306.23" cy="299.45" r="1.85" fill="none" stroke="#c0648c" stroke-width="0.6"/><circle cx="309.74" cy="298.88" r="1.85" fill="none" stroke="#c0648c" stroke-width="0.6"/><circle cx="313.24" cy="298.5" r="1.85" fill="none" stroke="#c0648c" stroke-width="0.6"/><circle cx="316.75" cy="299.65" r="1.85" fill="none" stroke="#c0648c" stroke-width="0.6"/><circle cx="320.25" cy="298.71" r="1.85" fill="none" stroke="#c0648c" stroke-width="0.6"/><circle cx="323.76" cy="297.92" r="1.85" fill="none" stroke="#c0648c" stroke-width="0.6"/><circle cx="327.27" cy="296.79" r="1.85" fill="none" stroke="#c0648c" stroke-width="0.6"/><circle cx="330.77" cy="296.41" r="1.85" fill="none" stroke="#c0648c" stroke-width="0.6"/><circle cx="334.28" cy="295.17" r="1.85" fill="none" stroke="#c0648c" stroke-width="0.6"/><circle cx="337.78" cy="294.05" r="1.85" fill="none" stroke="#c0648c" stroke-width="0.6"/><circle cx="341.29" cy="291.45" r="1.85" fill="none" stroke="#c0648c" stroke-width="0.6"/><circle cx="344.8" cy="288.09" r="1.85" fill="none" stroke="#c0648c" stroke-width="0.6"/><circle cx="348.3" cy="286.06" r="1.85" fill="none" stroke="#c0648c" stroke-width="0.6"/><circle cx="351.81" cy="284.11" r="1.85" fill="none" stroke="#c0648c" stroke-width="0.6"/><circle cx="355.31" cy="281.59" r="1.85" fill="none" stroke="#c0648c" stroke-width="0.6"/><circle cx="358.82" cy="276.81" r="1.85" fill="none" stroke="#c0648c" stroke-width="0.6"/><circle cx="362.33" cy="276.39" r="1.85" fill="none" stroke="#c0648c" stroke-width="0.6"/><circle cx="365.83" cy="275.95" r="1.85" fill="none" stroke="#c0648c" stroke-width="0.6"/><circle cx="369.34" cy="278.38" r="1.85" fill="none" stroke="#c0648c" stroke-width="0.6"/><circle cx="372.84" cy="276.79" r="1.85" fill="none" stroke="#c0648c" stroke-width="0.6"/><circle cx="376.35" cy="278.46" r="1.85" fill="none" stroke="#c0648c" stroke-width="0.6"/><circle cx="379.86" cy="279.7" r="1.85" fill="none" stroke="#c0648c" stroke-width="0.6"/><circle cx="383.36" cy="283.18" r="1.85" fill="none" stroke="#c0648c" stroke-width="0.6"/><circle cx="386.87" cy="286.24" r="1.85" fill="none" stroke="#c0648c" stroke-width="0.6"/><circle cx="390.37" cy="288.44" r="1.85" fill="none" stroke="#c0648c" stroke-width="0.6"/><circle cx="393.88" cy="292.74" r="1.85" fill="none" stroke="#c0648c" stroke-width="0.6"/><circle cx="397.39" cy="292.63" r="1.85" fill="none" stroke="#c0648c" stroke-width="0.6"/><circle cx="400.89" cy="294.93" r="1.85" fill="none" stroke="#c0648c" stroke-width="0.6"/><circle cx="404.4" cy="297.09" r="1.85" fill="none" stroke="#c0648c" stroke-width="0.6"/><circle cx="407.9" cy="296.62" r="1.85" fill="none" stroke="#c0648c" stroke-width="0.6"/><circle cx="411.41" cy="297.02" r="1.85" fill="none" stroke="#c0648c" stroke-width="0.6"/><circle cx="414.92" cy="299.96" r="1.85" fill="none" stroke="#c0648c" stroke-width="0.6"/><circle cx="418.42" cy="299.76" r="1.85" fill="none" stroke="#c0648c" stroke-width="0.6"/><circle cx="421.93" cy="299.27" r="1.85" fill="none" stroke="#c0648c" stroke-width="0.6"/><circle cx="425.43" cy="299.49" r="1.85" fill="none" stroke="#c0648c" stroke-width="0.6"/><circle cx="428.94" cy="300.01" r="1.85" fill="none" stroke="#c0648c" stroke-width="0.6"/><circle cx="432.45" cy="300.5" r="1.85" fill="none" stroke="#c0648c" stroke-width="0.6"/><circle cx="435.95" cy="298.21" r="1.85" fill="none" stroke="#c0648c" stroke-width="0.6"/><circle cx="439.46" cy="299.04" r="1.85" fill="none" stroke="#c0648c" stroke-width="0.6"/><circle cx="442.96" cy="300.74" r="1.85" fill="none" stroke="#c0648c" stroke-width="0.6"/><circle cx="446.47" cy="300.87" r="1.85" fill="none" stroke="#c0648c" stroke-width="0.6"/><circle cx="449.98" cy="298.58" r="1.85" fill="none" stroke="#c0648c" stroke-width="0.6"/><circle cx="453.48" cy="299.13" r="1.85" fill="none" stroke="#c0648c" stroke-width="0.6"/><circle cx="456.99" cy="298.51" r="1.85" fill="none" stroke="#c0648c" stroke-width="0.6"/><circle cx="460.49" cy="299.29" r="1.85" fill="none" stroke="#c0648c" stroke-width="0.6"/><circle cx="464" cy="300.56" r="1.85" fill="none" stroke="#c0648c" stroke-width="0.6"/><polyline points="288.7,299.4 289.58,299.4 290.45,299.41 291.33,299.41 292.21,299.41 293.08,299.41 293.96,299.41 294.84,299.41 295.71,299.41 296.59,299.41 297.47,299.41 298.34,299.41 299.22,299.41 300.09,299.41 300.97,299.41 301.85,299.4 302.72,299.4 303.6,299.39 304.48,299.38 305.35,299.38 306.23,299.36 307.11,299.35 307.98,299.34 308.86,299.32 309.74,299.3 310.61,299.27 311.49,299.25 312.37,299.21 313.24,299.18 314.12,299.14 314.99,299.09 315.87,299.03 316.75,298.97 317.62,298.9 318.5,298.83 319.38,298.74 320.25,298.64 321.13,298.54 322.01,298.42 322.88,298.29 323.76,298.14 324.64,297.98 325.51,297.81 326.39,297.62 327.27,297.41 328.14,297.18 329.02,296.94 329.9,296.67 330.77,296.38 331.65,296.08 332.52,295.75 333.4,295.39 334.28,295.02 335.15,294.62 336.03,294.2 336.91,293.75 337.78,293.28 338.66,292.79 339.54,292.27 340.41,291.74 341.29,291.18 342.17,290.6 343.04,290.01 343.92,289.39 344.8,288.76 345.67,288.12 346.55,287.47 347.43,286.81 348.3,286.14 349.18,285.47 350.06,284.8 350.93,284.13 351.81,283.47 352.68,282.82 353.56,282.18 354.44,281.56 355.31,280.96 356.19,280.38 357.07,279.83 357.94,279.3 358.82,278.82 359.7,278.36 360.57,277.95 361.45,277.58 362.33,277.25 363.2,276.97 364.08,276.74 364.96,276.56 365.83,276.43 366.71,276.35 367.58,276.32 368.46,276.35 369.34,276.43 370.21,276.56 371.09,276.74 371.97,276.97 372.84,277.25 373.72,277.58 374.6,277.95 375.47,278.37 376.35,278.82 377.23,279.31 378.1,279.84 378.98,280.39 379.86,280.97 380.73,281.58 381.61,282.2 382.49,282.84 383.36,283.5 384.24,284.17 385.12,284.84 385.99,285.51 386.87,286.19 387.74,286.86 388.62,287.53 389.5,288.19 390.37,288.83 391.25,289.47 392.13,290.09 393,290.69 393.88,291.28 394.76,291.84 395.63,292.38 396.51,292.91 397.39,293.41 398.26,293.88 399.14,294.34 400.02,294.77 400.89,295.17 401.77,295.55 402.64,295.91 403.52,296.25 404.4,296.57 405.27,296.86 406.15,297.13 407.03,297.38 407.9,297.62 408.78,297.83 409.66,298.03 410.53,298.21 411.41,298.38 412.29,298.53 413.16,298.67 414.04,298.79 414.92,298.91 415.79,299.01 416.67,299.1 417.55,299.18 418.42,299.26 419.3,299.32 420.18,299.38 421.05,299.44 421.93,299.48 422.8,299.53 423.68,299.56 424.56,299.6 425.43,299.63 426.31,299.65 427.19,299.68 428.06,299.7 428.94,299.71 429.82,299.73 430.69,299.74 431.57,299.76 432.45,299.77 433.32,299.78 434.2,299.79 435.08,299.79 435.95,299.8 436.83,299.81 437.71,299.81 438.58,299.82 439.46,299.82 440.33,299.83 441.21,299.83 442.09,299.84 442.96,299.84 443.84,299.84 444.72,299.85 445.59,299.85 446.47,299.85 447.35,299.86 448.22,299.86 449.1,299.86 449.98,299.86 450.85,299.87 451.73,299.87 452.61,299.87 453.48,299.87 454.36,299.88 455.23,299.88 456.11,299.88 456.99,299.89 457.86,299.89 458.74,299.89 459.62,299.89 460.49,299.9 461.37,299.9 462.25,299.9 463.12,299.9 464,299.91" fill="none" stroke="#a83c6c" stroke-width="1.1" stroke-linejoin="round" /><circle cx="288.7" cy="273.36" r="1.85" fill="none" stroke="#e08494" stroke-width="0.6"/><circle cx="292.21" cy="275.19" r="1.85" fill="none" stroke="#e08494" stroke-width="0.6"/><circle cx="295.71" cy="274.13" r="1.85" fill="none" stroke="#e08494" stroke-width="0.6"/><circle cx="299.22" cy="273.61" r="1.85" fill="none" stroke="#e08494" stroke-width="0.6"/><circle cx="302.72" cy="273.16" r="1.85" fill="none" stroke="#e08494" stroke-width="0.6"/><circle cx="306.23" cy="274.07" r="1.85" fill="none" stroke="#e08494" stroke-width="0.6"/><circle cx="309.74" cy="273.56" r="1.85" fill="none" stroke="#e08494" stroke-width="0.6"/><circle cx="313.24" cy="273.01" r="1.85" fill="none" stroke="#e08494" stroke-width="0.6"/><circle cx="316.75" cy="272.88" r="1.85" fill="none" stroke="#e08494" stroke-width="0.6"/><circle cx="320.25" cy="272.38" r="1.85" fill="none" stroke="#e08494" stroke-width="0.6"/><circle cx="323.76" cy="272.23" r="1.85" fill="none" stroke="#e08494" stroke-width="0.6"/><circle cx="327.27" cy="271.94" r="1.85" fill="none" stroke="#e08494" stroke-width="0.6"/><circle cx="330.77" cy="270.15" r="1.85" fill="none" stroke="#e08494" stroke-width="0.6"/><circle cx="334.28" cy="269.43" r="1.85" fill="none" stroke="#e08494" stroke-width="0.6"/><circle cx="337.78" cy="268.47" r="1.85" fill="none" stroke="#e08494" stroke-width="0.6"/><circle cx="341.29" cy="266.35" r="1.85" fill="none" stroke="#e08494" stroke-width="0.6"/><circle cx="344.8" cy="263.62" r="1.85" fill="none" stroke="#e08494" stroke-width="0.6"/><circle cx="348.3" cy="261.25" r="1.85" fill="none" stroke="#e08494" stroke-width="0.6"/><circle cx="351.81" cy="258.55" r="1.85" fill="none" stroke="#e08494" stroke-width="0.6"/><circle cx="355.31" cy="256.32" r="1.85" fill="none" stroke="#e08494" stroke-width="0.6"/><circle cx="358.82" cy="254.18" r="1.85" fill="none" stroke="#e08494" stroke-width="0.6"/><circle cx="362.33" cy="252.95" r="1.85" fill="none" stroke="#e08494" stroke-width="0.6"/><circle cx="365.83" cy="253.03" r="1.85" fill="none" stroke="#e08494" stroke-width="0.6"/><circle cx="369.34" cy="251.76" r="1.85" fill="none" stroke="#e08494" stroke-width="0.6"/><circle cx="372.84" cy="252.06" r="1.85" fill="none" stroke="#e08494" stroke-width="0.6"/><circle cx="376.35" cy="253.99" r="1.85" fill="none" stroke="#e08494" stroke-width="0.6"/><circle cx="379.86" cy="256.48" r="1.85" fill="none" stroke="#e08494" stroke-width="0.6"/><circle cx="383.36" cy="258.36" r="1.85" fill="none" stroke="#e08494" stroke-width="0.6"/><circle cx="386.87" cy="261.94" r="1.85" fill="none" stroke="#e08494" stroke-width="0.6"/><circle cx="390.37" cy="265.12" r="1.85" fill="none" stroke="#e08494" stroke-width="0.6"/><circle cx="393.88" cy="265.93" r="1.85" fill="none" stroke="#e08494" stroke-width="0.6"/><circle cx="397.39" cy="268.67" r="1.85" fill="none" stroke="#e08494" stroke-width="0.6"/><circle cx="400.89" cy="269.06" r="1.85" fill="none" stroke="#e08494" stroke-width="0.6"/><circle cx="404.4" cy="271.74" r="1.85" fill="none" stroke="#e08494" stroke-width="0.6"/><circle cx="407.9" cy="273.89" r="1.85" fill="none" stroke="#e08494" stroke-width="0.6"/><circle cx="411.41" cy="273.41" r="1.85" fill="none" stroke="#e08494" stroke-width="0.6"/><circle cx="414.92" cy="271.93" r="1.85" fill="none" stroke="#e08494" stroke-width="0.6"/><circle cx="418.42" cy="273.73" r="1.85" fill="none" stroke="#e08494" stroke-width="0.6"/><circle cx="421.93" cy="274.69" r="1.85" fill="none" stroke="#e08494" stroke-width="0.6"/><circle cx="425.43" cy="274.37" r="1.85" fill="none" stroke="#e08494" stroke-width="0.6"/><circle cx="428.94" cy="273.48" r="1.85" fill="none" stroke="#e08494" stroke-width="0.6"/><circle cx="432.45" cy="273.55" r="1.85" fill="none" stroke="#e08494" stroke-width="0.6"/><circle cx="435.95" cy="273.83" r="1.85" fill="none" stroke="#e08494" stroke-width="0.6"/><circle cx="439.46" cy="272.86" r="1.85" fill="none" stroke="#e08494" stroke-width="0.6"/><circle cx="442.96" cy="273.46" r="1.85" fill="none" stroke="#e08494" stroke-width="0.6"/><circle cx="446.47" cy="274.03" r="1.85" fill="none" stroke="#e08494" stroke-width="0.6"/><circle cx="449.98" cy="273.57" r="1.85" fill="none" stroke="#e08494" stroke-width="0.6"/><circle cx="453.48" cy="272.79" r="1.85" fill="none" stroke="#e08494" stroke-width="0.6"/><circle cx="456.99" cy="273.31" r="1.85" fill="none" stroke="#e08494" stroke-width="0.6"/><circle cx="460.49" cy="273.28" r="1.85" fill="none" stroke="#e08494" stroke-width="0.6"/><circle cx="464" cy="274.88" r="1.85" fill="none" stroke="#e08494" stroke-width="0.6"/><polyline points="288.7,273.56 289.58,273.56 290.45,273.56 291.33,273.56 292.21,273.57 293.08,273.57 293.96,273.57 294.84,273.57 295.71,273.57 296.59,273.57 297.47,273.57 298.34,273.57 299.22,273.57 300.09,273.57 300.97,273.56 301.85,273.56 302.72,273.56 303.6,273.55 304.48,273.54 305.35,273.54 306.23,273.53 307.11,273.51 307.98,273.5 308.86,273.48 309.74,273.47 310.61,273.44 311.49,273.42 312.37,273.39 313.24,273.35 314.12,273.31 314.99,273.27 315.87,273.22 316.75,273.16 317.62,273.1 318.5,273.03 319.38,272.95 320.25,272.86 321.13,272.76 322.01,272.64 322.88,272.52 323.76,272.39 324.64,272.24 325.51,272.07 326.39,271.9 327.27,271.7 328.14,271.49 329.02,271.26 329.9,271.01 330.77,270.74 331.65,270.46 332.52,270.15 333.4,269.82 334.28,269.47 335.15,269.09 336.03,268.7 336.91,268.28 337.78,267.84 338.66,267.38 339.54,266.9 340.41,266.4 341.29,265.88 342.17,265.34 343.04,264.78 343.92,264.21 344.8,263.62 345.67,263.02 346.55,262.41 347.43,261.79 348.3,261.17 349.18,260.54 350.06,259.91 350.93,259.29 351.81,258.67 352.68,258.06 353.56,257.46 354.44,256.88 355.31,256.32 356.19,255.78 357.07,255.26 357.94,254.77 358.82,254.32 359.7,253.89 360.57,253.51 361.45,253.16 362.33,252.85 363.2,252.59 364.08,252.37 364.96,252.2 365.83,252.08 366.71,252.01 367.58,251.98 368.46,252.01 369.34,252.08 370.21,252.2 371.09,252.37 371.97,252.59 372.84,252.85 373.72,253.16 374.6,253.51 375.47,253.9 376.35,254.32 377.23,254.78 378.1,255.27 378.98,255.79 379.86,256.33 380.73,256.9 381.61,257.48 382.49,258.09 383.36,258.7 384.24,259.32 385.12,259.95 385.99,260.58 386.87,261.21 387.74,261.84 388.62,262.47 389.5,263.08 390.37,263.69 391.25,264.28 392.13,264.86 393,265.43 393.88,265.97 394.76,266.5 395.63,267.01 396.51,267.5 397.39,267.97 398.26,268.41 399.14,268.84 400.02,269.24 400.89,269.62 401.77,269.98 402.64,270.32 403.52,270.63 404.4,270.93 405.27,271.2 406.15,271.46 407.03,271.69 407.9,271.91 408.78,272.11 409.66,272.3 410.53,272.47 411.41,272.62 412.29,272.76 413.16,272.89 414.04,273.01 414.92,273.12 415.79,273.21 416.67,273.3 417.55,273.38 418.42,273.45 419.3,273.51 420.18,273.57 421.05,273.62 421.93,273.66 422.8,273.7 423.68,273.74 424.56,273.77 425.43,273.79 426.31,273.82 427.19,273.84 428.06,273.86 428.94,273.88 429.82,273.89 430.69,273.9 431.57,273.92 432.45,273.93 433.32,273.94 434.2,273.95 435.08,273.95 435.95,273.96 436.83,273.97 437.71,273.97 438.58,273.98 439.46,273.98 440.33,273.99 441.21,273.99 442.09,273.99 442.96,274 443.84,274 444.72,274 445.59,274.01 446.47,274.01 447.35,274.01 448.22,274.02 449.1,274.02 449.98,274.02 450.85,274.02 451.73,274.03 452.61,274.03 453.48,274.03 454.36,274.03 455.23,274.04 456.11,274.04 456.99,274.04 457.86,274.04 458.74,274.05 459.62,274.05 460.49,274.05 461.37,274.05 462.25,274.06 463.12,274.06 464,274.06" fill="none" stroke="#d5607a" stroke-width="1.1" stroke-linejoin="round" /><circle cx="288.7" cy="246.13" r="1.85" fill="none" stroke="#f29a88" stroke-width="0.6"/><circle cx="292.21" cy="245.14" r="1.85" fill="none" stroke="#f29a88" stroke-width="0.6"/><circle cx="295.71" cy="246.29" r="1.85" fill="none" stroke="#f29a88" stroke-width="0.6"/><circle cx="299.22" cy="244.74" r="1.85" fill="none" stroke="#f29a88" stroke-width="0.6"/><circle cx="302.72" cy="245.26" r="1.85" fill="none" stroke="#f29a88" stroke-width="0.6"/><circle cx="306.23" cy="244.87" r="1.85" fill="none" stroke="#f29a88" stroke-width="0.6"/><circle cx="309.74" cy="246.07" r="1.85" fill="none" stroke="#f29a88" stroke-width="0.6"/><circle cx="313.24" cy="242.84" r="1.85" fill="none" stroke="#f29a88" stroke-width="0.6"/><circle cx="316.75" cy="244.11" r="1.85" fill="none" stroke="#f29a88" stroke-width="0.6"/><circle cx="320.25" cy="245.45" r="1.85" fill="none" stroke="#f29a88" stroke-width="0.6"/><circle cx="323.76" cy="244.63" r="1.85" fill="none" stroke="#f29a88" stroke-width="0.6"/><circle cx="327.27" cy="241.13" r="1.85" fill="none" stroke="#f29a88" stroke-width="0.6"/><circle cx="330.77" cy="243.53" r="1.85" fill="none" stroke="#f29a88" stroke-width="0.6"/><circle cx="334.28" cy="240.93" r="1.85" fill="none" stroke="#f29a88" stroke-width="0.6"/><circle cx="337.78" cy="239.28" r="1.85" fill="none" stroke="#f29a88" stroke-width="0.6"/><circle cx="341.29" cy="238.55" r="1.85" fill="none" stroke="#f29a88" stroke-width="0.6"/><circle cx="344.8" cy="237.81" r="1.85" fill="none" stroke="#f29a88" stroke-width="0.6"/><circle cx="348.3" cy="234.06" r="1.85" fill="none" stroke="#f29a88" stroke-width="0.6"/><circle cx="351.81" cy="231.66" r="1.85" fill="none" stroke="#f29a88" stroke-width="0.6"/><circle cx="355.31" cy="228.75" r="1.85" fill="none" stroke="#f29a88" stroke-width="0.6"/><circle cx="358.82" cy="227.46" r="1.85" fill="none" stroke="#f29a88" stroke-width="0.6"/><circle cx="362.33" cy="227.16" r="1.85" fill="none" stroke="#f29a88" stroke-width="0.6"/><circle cx="365.83" cy="225.7" r="1.85" fill="none" stroke="#f29a88" stroke-width="0.6"/><circle cx="369.34" cy="226.23" r="1.85" fill="none" stroke="#f29a88" stroke-width="0.6"/><circle cx="372.84" cy="227.46" r="1.85" fill="none" stroke="#f29a88" stroke-width="0.6"/><circle cx="376.35" cy="229.07" r="1.85" fill="none" stroke="#f29a88" stroke-width="0.6"/><circle cx="379.86" cy="231.29" r="1.85" fill="none" stroke="#f29a88" stroke-width="0.6"/><circle cx="383.36" cy="232.4" r="1.85" fill="none" stroke="#f29a88" stroke-width="0.6"/><circle cx="386.87" cy="236.61" r="1.85" fill="none" stroke="#f29a88" stroke-width="0.6"/><circle cx="390.37" cy="238.3" r="1.85" fill="none" stroke="#f29a88" stroke-width="0.6"/><circle cx="393.88" cy="239.56" r="1.85" fill="none" stroke="#f29a88" stroke-width="0.6"/><circle cx="397.39" cy="242.91" r="1.85" fill="none" stroke="#f29a88" stroke-width="0.6"/><circle cx="400.89" cy="243.14" r="1.85" fill="none" stroke="#f29a88" stroke-width="0.6"/><circle cx="404.4" cy="246" r="1.85" fill="none" stroke="#f29a88" stroke-width="0.6"/><circle cx="407.9" cy="245.31" r="1.85" fill="none" stroke="#f29a88" stroke-width="0.6"/><circle cx="411.41" cy="244.47" r="1.85" fill="none" stroke="#f29a88" stroke-width="0.6"/><circle cx="414.92" cy="244.87" r="1.85" fill="none" stroke="#f29a88" stroke-width="0.6"/><circle cx="418.42" cy="245.83" r="1.85" fill="none" stroke="#f29a88" stroke-width="0.6"/><circle cx="421.93" cy="246.2" r="1.85" fill="none" stroke="#f29a88" stroke-width="0.6"/><circle cx="425.43" cy="247.64" r="1.85" fill="none" stroke="#f29a88" stroke-width="0.6"/><circle cx="428.94" cy="244.03" r="1.85" fill="none" stroke="#f29a88" stroke-width="0.6"/><circle cx="432.45" cy="245.55" r="1.85" fill="none" stroke="#f29a88" stroke-width="0.6"/><circle cx="435.95" cy="244.92" r="1.85" fill="none" stroke="#f29a88" stroke-width="0.6"/><circle cx="439.46" cy="247.16" r="1.85" fill="none" stroke="#f29a88" stroke-width="0.6"/><circle cx="442.96" cy="246.39" r="1.85" fill="none" stroke="#f29a88" stroke-width="0.6"/><circle cx="446.47" cy="248.24" r="1.85" fill="none" stroke="#f29a88" stroke-width="0.6"/><circle cx="449.98" cy="245.31" r="1.85" fill="none" stroke="#f29a88" stroke-width="0.6"/><circle cx="453.48" cy="245.14" r="1.85" fill="none" stroke="#f29a88" stroke-width="0.6"/><circle cx="456.99" cy="248.34" r="1.85" fill="none" stroke="#f29a88" stroke-width="0.6"/><circle cx="460.49" cy="246.26" r="1.85" fill="none" stroke="#f29a88" stroke-width="0.6"/><circle cx="464" cy="245.5" r="1.85" fill="none" stroke="#f29a88" stroke-width="0.6"/><polyline points="288.7,245.96 289.58,245.96 290.45,245.96 291.33,245.96 292.21,245.96 293.08,245.96 293.96,245.96 294.84,245.96 295.71,245.96 296.59,245.96 297.47,245.96 298.34,245.95 299.22,245.95 300.09,245.95 300.97,245.94 301.85,245.94 302.72,245.93 303.6,245.93 304.48,245.92 305.35,245.91 306.23,245.9 307.11,245.88 307.98,245.87 308.86,245.85 309.74,245.83 310.61,245.81 311.49,245.78 312.37,245.75 313.24,245.71 314.12,245.67 314.99,245.62 315.87,245.57 316.75,245.51 317.62,245.45 318.5,245.38 319.38,245.29 320.25,245.2 321.13,245.1 322.01,244.99 322.88,244.87 323.76,244.74 324.64,244.59 325.51,244.43 326.39,244.25 327.27,244.06 328.14,243.86 329.02,243.64 329.9,243.4 330.77,243.14 331.65,242.86 332.52,242.57 333.4,242.25 334.28,241.92 335.15,241.57 336.03,241.19 336.91,240.8 337.78,240.39 338.66,239.96 339.54,239.51 340.41,239.04 341.29,238.56 342.17,238.06 343.04,237.55 343.92,237.02 344.8,236.49 345.67,235.94 346.55,235.39 347.43,234.83 348.3,234.28 349.18,233.72 350.06,233.16 350.93,232.61 351.81,232.06 352.68,231.53 353.56,231.01 354.44,230.51 355.31,230.03 356.19,229.56 357.07,229.13 357.94,228.72 358.82,228.34 359.7,228 360.57,227.69 361.45,227.42 362.33,227.18 363.2,226.99 364.08,226.84 364.96,226.73 365.83,226.66 366.71,226.64 367.58,226.66 368.46,226.73 369.34,226.84 370.21,226.99 371.09,227.18 371.97,227.42 372.84,227.69 373.72,228 374.6,228.35 375.47,228.72 376.35,229.13 377.23,229.57 378.1,230.03 378.98,230.52 379.86,231.02 380.73,231.54 381.61,232.08 382.49,232.62 383.36,233.17 384.24,233.73 385.12,234.3 385.99,234.86 386.87,235.42 387.74,235.97 388.62,236.52 389.5,237.06 390.37,237.59 391.25,238.1 392.13,238.61 393,239.09 393.88,239.56 394.76,240.01 395.63,240.45 396.51,240.86 397.39,241.26 398.26,241.64 399.14,241.99 400.02,242.33 400.89,242.65 401.77,242.95 402.64,243.23 403.52,243.49 404.4,243.73 405.27,243.96 406.15,244.17 407.03,244.36 407.9,244.54 408.78,244.7 409.66,244.85 410.53,244.99 411.41,245.11 412.29,245.23 413.16,245.33 414.04,245.42 414.92,245.51 415.79,245.58 416.67,245.65 417.55,245.71 418.42,245.77 419.3,245.82 420.18,245.86 421.05,245.9 421.93,245.93 422.8,245.96 423.68,245.99 424.56,246.01 425.43,246.04 426.31,246.05 427.19,246.07 428.06,246.08 428.94,246.1 429.82,246.11 430.69,246.12 431.57,246.13 432.45,246.13 433.32,246.14 434.2,246.14 435.08,246.15 435.95,246.15 436.83,246.16 437.71,246.16 438.58,246.16 439.46,246.17 440.33,246.17 441.21,246.17 442.09,246.18 442.96,246.18 443.84,246.18 444.72,246.18 445.59,246.18 446.47,246.18 447.35,246.19 448.22,246.19 449.1,246.19 449.98,246.19 450.85,246.19 451.73,246.19 452.61,246.19 453.48,246.2 454.36,246.2 455.23,246.2 456.11,246.2 456.99,246.2 457.86,246.2 458.74,246.2 459.62,246.2 460.49,246.21 461.37,246.21 462.25,246.21 463.12,246.21 464,246.21" fill="none" stroke="#ee8070" stroke-width="1.1" stroke-linejoin="round" /><circle cx="288.7" cy="223.77" r="1.85" fill="none" stroke="#f6b48e" stroke-width="0.6"/><circle cx="292.21" cy="223.87" r="1.85" fill="none" stroke="#f6b48e" stroke-width="0.6"/><circle cx="295.71" cy="222.73" r="1.85" fill="none" stroke="#f6b48e" stroke-width="0.6"/><circle cx="299.22" cy="222.06" r="1.85" fill="none" stroke="#f6b48e" stroke-width="0.6"/><circle cx="302.72" cy="223.2" r="1.85" fill="none" stroke="#f6b48e" stroke-width="0.6"/><circle cx="306.23" cy="221" r="1.85" fill="none" stroke="#f6b48e" stroke-width="0.6"/><circle cx="309.74" cy="220.58" r="1.85" fill="none" stroke="#f6b48e" stroke-width="0.6"/><circle cx="313.24" cy="219.85" r="1.85" fill="none" stroke="#f6b48e" stroke-width="0.6"/><circle cx="316.75" cy="219.5" r="1.85" fill="none" stroke="#f6b48e" stroke-width="0.6"/><circle cx="320.25" cy="217.91" r="1.85" fill="none" stroke="#f6b48e" stroke-width="0.6"/><circle cx="323.76" cy="217.86" r="1.85" fill="none" stroke="#f6b48e" stroke-width="0.6"/><circle cx="327.27" cy="220.81" r="1.85" fill="none" stroke="#f6b48e" stroke-width="0.6"/><circle cx="330.77" cy="218.56" r="1.85" fill="none" stroke="#f6b48e" stroke-width="0.6"/><circle cx="334.28" cy="218.08" r="1.85" fill="none" stroke="#f6b48e" stroke-width="0.6"/><circle cx="337.78" cy="216.5" r="1.85" fill="none" stroke="#f6b48e" stroke-width="0.6"/><circle cx="341.29" cy="213.16" r="1.85" fill="none" stroke="#f6b48e" stroke-width="0.6"/><circle cx="344.8" cy="211.03" r="1.85" fill="none" stroke="#f6b48e" stroke-width="0.6"/><circle cx="348.3" cy="208.27" r="1.85" fill="none" stroke="#f6b48e" stroke-width="0.6"/><circle cx="351.81" cy="209.48" r="1.85" fill="none" stroke="#f6b48e" stroke-width="0.6"/><circle cx="355.31" cy="207.32" r="1.85" fill="none" stroke="#f6b48e" stroke-width="0.6"/><circle cx="358.82" cy="204.3" r="1.85" fill="none" stroke="#f6b48e" stroke-width="0.6"/><circle cx="362.33" cy="203.94" r="1.85" fill="none" stroke="#f6b48e" stroke-width="0.6"/><circle cx="365.83" cy="204.11" r="1.85" fill="none" stroke="#f6b48e" stroke-width="0.6"/><circle cx="369.34" cy="204.36" r="1.85" fill="none" stroke="#f6b48e" stroke-width="0.6"/><circle cx="372.84" cy="206.61" r="1.85" fill="none" stroke="#f6b48e" stroke-width="0.6"/><circle cx="376.35" cy="206.05" r="1.85" fill="none" stroke="#f6b48e" stroke-width="0.6"/><circle cx="379.86" cy="208.5" r="1.85" fill="none" stroke="#f6b48e" stroke-width="0.6"/><circle cx="383.36" cy="211.22" r="1.85" fill="none" stroke="#f6b48e" stroke-width="0.6"/><circle cx="386.87" cy="214.12" r="1.85" fill="none" stroke="#f6b48e" stroke-width="0.6"/><circle cx="390.37" cy="215.24" r="1.85" fill="none" stroke="#f6b48e" stroke-width="0.6"/><circle cx="393.88" cy="220.7" r="1.85" fill="none" stroke="#f6b48e" stroke-width="0.6"/><circle cx="397.39" cy="219.43" r="1.85" fill="none" stroke="#f6b48e" stroke-width="0.6"/><circle cx="400.89" cy="218.96" r="1.85" fill="none" stroke="#f6b48e" stroke-width="0.6"/><circle cx="404.4" cy="222.09" r="1.85" fill="none" stroke="#f6b48e" stroke-width="0.6"/><circle cx="407.9" cy="220.11" r="1.85" fill="none" stroke="#f6b48e" stroke-width="0.6"/><circle cx="411.41" cy="220.59" r="1.85" fill="none" stroke="#f6b48e" stroke-width="0.6"/><circle cx="414.92" cy="223.16" r="1.85" fill="none" stroke="#f6b48e" stroke-width="0.6"/><circle cx="418.42" cy="221.64" r="1.85" fill="none" stroke="#f6b48e" stroke-width="0.6"/><circle cx="421.93" cy="221.85" r="1.85" fill="none" stroke="#f6b48e" stroke-width="0.6"/><circle cx="425.43" cy="220.75" r="1.85" fill="none" stroke="#f6b48e" stroke-width="0.6"/><circle cx="428.94" cy="220.56" r="1.85" fill="none" stroke="#f6b48e" stroke-width="0.6"/><circle cx="432.45" cy="221.57" r="1.85" fill="none" stroke="#f6b48e" stroke-width="0.6"/><circle cx="435.95" cy="222.81" r="1.85" fill="none" stroke="#f6b48e" stroke-width="0.6"/><circle cx="439.46" cy="221.76" r="1.85" fill="none" stroke="#f6b48e" stroke-width="0.6"/><circle cx="442.96" cy="221.66" r="1.85" fill="none" stroke="#f6b48e" stroke-width="0.6"/><circle cx="446.47" cy="220.47" r="1.85" fill="none" stroke="#f6b48e" stroke-width="0.6"/><circle cx="449.98" cy="221.14" r="1.85" fill="none" stroke="#f6b48e" stroke-width="0.6"/><circle cx="453.48" cy="222.68" r="1.85" fill="none" stroke="#f6b48e" stroke-width="0.6"/><circle cx="456.99" cy="223.64" r="1.85" fill="none" stroke="#f6b48e" stroke-width="0.6"/><circle cx="460.49" cy="222.17" r="1.85" fill="none" stroke="#f6b48e" stroke-width="0.6"/><circle cx="464" cy="222.74" r="1.85" fill="none" stroke="#f6b48e" stroke-width="0.6"/><polyline points="288.7,221.12 289.58,221.12 290.45,221.12 291.33,221.12 292.21,221.12 293.08,221.12 293.96,221.12 294.84,221.12 295.71,221.12 296.59,221.12 297.47,221.12 298.34,221.12 299.22,221.11 300.09,221.11 300.97,221.11 301.85,221.1 302.72,221.09 303.6,221.08 304.48,221.07 305.35,221.06 306.23,221.04 307.11,221.03 307.98,221.01 308.86,220.98 309.74,220.95 310.61,220.92 311.49,220.89 312.37,220.85 313.24,220.8 314.12,220.75 314.99,220.69 315.87,220.63 316.75,220.55 317.62,220.47 318.5,220.38 319.38,220.28 320.25,220.17 321.13,220.05 322.01,219.92 322.88,219.77 323.76,219.62 324.64,219.44 325.51,219.26 326.39,219.06 327.27,218.84 328.14,218.6 329.02,218.35 329.9,218.09 330.77,217.8 331.65,217.5 332.52,217.18 333.4,216.84 334.28,216.48 335.15,216.1 336.03,215.71 336.91,215.3 337.78,214.88 338.66,214.44 339.54,213.99 340.41,213.52 341.29,213.04 342.17,212.55 343.04,212.05 343.92,211.55 344.8,211.04 345.67,210.53 346.55,210.02 347.43,209.51 348.3,209.01 349.18,208.51 350.06,208.03 350.93,207.55 351.81,207.09 352.68,206.65 353.56,206.23 354.44,205.83 355.31,205.46 356.19,205.11 357.07,204.8 357.94,204.52 358.82,204.27 359.7,204.05 360.57,203.88 361.45,203.74 362.33,203.64 363.2,203.58 364.08,203.56 364.96,203.58 365.83,203.64 366.71,203.74 367.58,203.88 368.46,204.05 369.34,204.27 370.21,204.52 371.09,204.8 371.97,205.12 372.84,205.46 373.72,205.84 374.6,206.24 375.47,206.66 376.35,207.11 377.23,207.57 378.1,208.05 378.98,208.54 379.86,209.04 380.73,209.54 381.61,210.06 382.49,210.57 383.36,211.09 384.24,211.6 385.12,212.11 385.99,212.61 386.87,213.11 387.74,213.59 388.62,214.07 389.5,214.53 390.37,214.98 391.25,215.41 392.13,215.82 393,216.22 393.88,216.6 394.76,216.97 395.63,217.31 396.51,217.64 397.39,217.95 398.26,218.25 399.14,218.52 400.02,218.78 400.89,219.02 401.77,219.25 402.64,219.45 403.52,219.65 404.4,219.83 405.27,219.99 406.15,220.14 407.03,220.28 407.9,220.41 408.78,220.53 409.66,220.63 410.53,220.73 411.41,220.81 412.29,220.89 413.16,220.96 414.04,221.03 414.92,221.09 415.79,221.14 416.67,221.18 417.55,221.22 418.42,221.26 419.3,221.29 420.18,221.32 421.05,221.35 421.93,221.37 422.8,221.39 423.68,221.41 424.56,221.43 425.43,221.44 426.31,221.45 427.19,221.47 428.06,221.48 428.94,221.49 429.82,221.49 430.69,221.5 431.57,221.51 432.45,221.51 433.32,221.52 434.2,221.52 435.08,221.53 435.95,221.53 436.83,221.54 437.71,221.54 438.58,221.54 439.46,221.55 440.33,221.55 441.21,221.55 442.09,221.56 442.96,221.56 443.84,221.56 444.72,221.57 445.59,221.57 446.47,221.57 447.35,221.57 448.22,221.58 449.1,221.58 449.98,221.58 450.85,221.58 451.73,221.59 452.61,221.59 453.48,221.59 454.36,221.59 455.23,221.6 456.11,221.6 456.99,221.6 457.86,221.6 458.74,221.61 459.62,221.61 460.49,221.61 461.37,221.61 462.25,221.62 463.12,221.62 464,221.62" fill="none" stroke="#f5a87a" stroke-width="1.1" stroke-linejoin="round" /></g><rect x="288.7" y="188" width="175.3" height="138" fill="none" stroke="#000" stroke-width="1.4" /><line x1="286.1" y1="326" x2="288.7" y2="326" stroke="#000" stroke-width="1.1" /><line x1="464" y1="326" x2="466" y2="326" stroke="#000" stroke-width="1" /><text x="285.7" y="329.4" font-size="9.6" font-family='"Liberation Sans", sans-serif' font-weight="bold" text-anchor="end" >0</text><line x1="286.1" y1="300.91" x2="288.7" y2="300.91" stroke="#000" stroke-width="1.1" /><line x1="464" y1="300.91" x2="466" y2="300.91" stroke="#000" stroke-width="1" /><text x="285.7" y="304.31" font-size="9.6" font-family='"Liberation Sans", sans-serif' font-weight="bold" text-anchor="end" >1</text><line x1="286.1" y1="275.82" x2="288.7" y2="275.82" stroke="#000" stroke-width="1.1" /><line x1="464" y1="275.82" x2="466" y2="275.82" stroke="#000" stroke-width="1" /><text x="285.7" y="279.22" font-size="9.6" font-family='"Liberation Sans", sans-serif' font-weight="bold" text-anchor="end" >2</text><line x1="286.1" y1="250.73" x2="288.7" y2="250.73" stroke="#000" stroke-width="1.1" /><line x1="464" y1="250.73" x2="466" y2="250.73" stroke="#000" stroke-width="1" /><text x="285.7" y="254.13" font-size="9.6" font-family='"Liberation Sans", sans-serif' font-weight="bold" text-anchor="end" >3</text><line x1="286.1" y1="225.64" x2="288.7" y2="225.64" stroke="#000" stroke-width="1.1" /><line x1="464" y1="225.64" x2="466" y2="225.64" stroke="#000" stroke-width="1" /><text x="285.7" y="229.04" font-size="9.6" font-family='"Liberation Sans", sans-serif' font-weight="bold" text-anchor="end" >4</text><line x1="286.1" y1="200.55" x2="288.7" y2="200.55" stroke="#000" stroke-width="1.1" /><line x1="464" y1="200.55" x2="466" y2="200.55" stroke="#000" stroke-width="1" /><text x="285.7" y="203.95" font-size="9.6" font-family='"Liberation Sans", sans-serif' font-weight="bold" text-anchor="end" >5</text><line x1="287.2" y1="313.45" x2="288.7" y2="313.45" stroke="#000" stroke-width="0.9" /><line x1="464" y1="313.45" x2="465.2" y2="313.45" stroke="#000" stroke-width="0.9" /><line x1="287.2" y1="288.36" x2="288.7" y2="288.36" stroke="#000" stroke-width="0.9" /><line x1="464" y1="288.36" x2="465.2" y2="288.36" stroke="#000" stroke-width="0.9" /><line x1="287.2" y1="263.27" x2="288.7" y2="263.27" stroke="#000" stroke-width="0.9" /><line x1="464" y1="263.27" x2="465.2" y2="263.27" stroke="#000" stroke-width="0.9" /><line x1="287.2" y1="238.18" x2="288.7" y2="238.18" stroke="#000" stroke-width="0.9" /><line x1="464" y1="238.18" x2="465.2" y2="238.18" stroke="#000" stroke-width="0.9" /><line x1="287.2" y1="213.09" x2="288.7" y2="213.09" stroke="#000" stroke-width="0.9" /><line x1="464" y1="213.09" x2="465.2" y2="213.09" stroke="#000" stroke-width="0.9" /><line x1="287.2" y1="188" x2="288.7" y2="188" stroke="#000" stroke-width="0.9" /><line x1="464" y1="188" x2="465.2" y2="188" stroke="#000" stroke-width="0.9" /><line x1="288.7" y1="326" x2="288.7" y2="328.6" stroke="#000" stroke-width="1.1" /><text x="288.7" y="337.6" font-size="9.6" font-family='"Liberation Sans", sans-serif' font-weight="bold" text-anchor="middle" >31.0</text><line x1="323.76" y1="326" x2="323.76" y2="328.6" stroke="#000" stroke-width="1.1" /><text x="323.76" y="337.6" font-size="9.6" font-family='"Liberation Sans", sans-serif' font-weight="bold" text-anchor="middle" >31.2</text><line x1="358.82" y1="326" x2="358.82" y2="328.6" stroke="#000" stroke-width="1.1" /><text x="358.82" y="337.6" font-size="9.6" font-family='"Liberation Sans", sans-serif' font-weight="bold" text-anchor="middle" >31.4</text><line x1="393.88" y1="326" x2="393.88" y2="328.6" stroke="#000" stroke-width="1.1" /><text x="393.88" y="337.6" font-size="9.6" font-family='"Liberation Sans", sans-serif' font-weight="bold" text-anchor="middle" >31.6</text><line x1="428.94" y1="326" x2="428.94" y2="328.6" stroke="#000" stroke-width="1.1" /><text x="428.94" y="337.6" font-size="9.6" font-family='"Liberation Sans", sans-serif' font-weight="bold" text-anchor="middle" >31.8</text><line x1="464" y1="326" x2="464" y2="328.6" stroke="#000" stroke-width="1.1" /><text x="464" y="337.6" font-size="9.6" font-family='"Liberation Sans", sans-serif' font-weight="bold" text-anchor="middle" >32.0</text><line x1="306.23" y1="326" x2="306.23" y2="327.5" stroke="#000" stroke-width="0.9" /><line x1="341.29" y1="326" x2="341.29" y2="327.5" stroke="#000" stroke-width="0.9" /><line x1="376.35" y1="326" x2="376.35" y2="327.5" stroke="#000" stroke-width="0.9" /><line x1="411.41" y1="326" x2="411.41" y2="327.5" stroke="#000" stroke-width="0.9" /><line x1="446.47" y1="326" x2="446.47" y2="327.5" stroke="#000" stroke-width="0.9" /><text x="295.8" y="206.2" font-size="13.3" font-family='"Liberation Mono", monospace' font-weight="bold" fill="#c8141e" textLength="37.6" lengthAdjust="spacingAndGlyphs" >Target</text><text x="458.2" y="319" font-size="6.5" font-family='"Liberation Sans", sans-serif' text-anchor="end" fill="#111"><tspan font-style="italic" font-family='"Liberation Serif", serif'>ψ</tspan> = 0°</text><text x="458.2" y="295.3" font-size="6.5" font-family='"Liberation Sans", sans-serif' text-anchor="end" fill="#111"><tspan font-style="italic" font-family='"Liberation Serif", serif'>ψ</tspan> = 15°</text><text x="458.2" y="268" font-size="6.5" font-family='"Liberation Sans", sans-serif' text-anchor="end" fill="#111"><tspan font-style="italic" font-family='"Liberation Serif", serif'>ψ</tspan> = 30°</text><text x="458.2" y="240.2" font-size="6.5" font-family='"Liberation Sans", sans-serif' text-anchor="end" fill="#111"><tspan font-style="italic" font-family='"Liberation Serif", serif'>ψ</tspan> = 45°</text><text x="458.2" y="214.7" font-size="6.5" font-family='"Liberation Sans", sans-serif' text-anchor="end" fill="#111"><tspan font-style="italic" font-family='"Liberation Serif", serif'>ψ</tspan> = 60°</text><text x="262.3" y="19.2" font-size="14.5" font-family='"Liberation Sans", sans-serif' font-weight="bold" >c</text><text x="262.3" y="192" font-size="14.5" font-family='"Liberation Sans", sans-serif' font-weight="bold" >d</text><text x="278.6" y="80.5" font-size="9.4" font-family='"Liberation Sans", sans-serif' font-weight="bold" text-anchor="middle" textLength="141" lengthAdjust="spacingAndGlyphs" transform="rotate(-90 278.6 80.5)" >Normalized intensity / arb. units</text><text x="278.6" y="257" font-size="9.4" font-family='"Liberation Sans", sans-serif' font-weight="bold" text-anchor="middle" textLength="141" lengthAdjust="spacingAndGlyphs" transform="rotate(-90 278.6 257)" >Normalized intensity / arb. units</text><text x="373.2" y="172.3" font-size="9.4" font-family='"Liberation Sans", sans-serif' font-weight="bold" text-anchor="middle">2<tspan font-style="italic">θ</tspan> (°)</text><text x="373.2" y="349" font-size="9.4" font-family='"Liberation Sans", sans-serif' font-weight="bold" text-anchor="middle">2<tspan font-style="italic">θ</tspan> (°)</text><g clip-path="url(#cpe)"><polygon points="535.54,130.23 535.97,130.21 536.41,130.2 536.85,130.18 537.29,130.16 537.73,130.14 538.16,130.12 538.6,130.1 539.04,130.08 539.48,130.06 539.92,130.03 540.35,130 540.79,129.98 541.23,129.95 541.67,129.92 542.11,129.88 542.54,129.85 542.98,129.81 543.42,129.77 543.86,129.73 544.3,129.68 544.73,129.63 545.17,129.58 545.61,129.52 546.05,129.45 546.49,129.38 546.92,129.3 547.36,129.21 547.8,129.11 548.24,128.99 548.68,128.85 549.11,128.68 549.55,128.48 549.99,128.23 550.43,127.92 550.87,127.54 551.3,127.07 551.74,126.49 552.18,125.78 552.62,124.9 553.06,123.84 553.49,122.55 553.93,121.02 554.37,119.22 554.81,117.13 555.25,114.73 555.68,112.01 556.12,108.98 556.56,105.67 557,102.1 557.44,98.33 557.87,94.42 558.31,90.46 558.75,86.56 559.19,82.84 559.63,79.43 560.06,76.49 560.5,74.16 560.94,72.58 561.38,71.84 561.82,71.99 562.25,73.03 562.69,74.9 563.13,77.48 563.57,80.65 564.01,84.24 564.44,88.11 564.88,92.14 565.32,96.19 565.76,100.17 566.2,104 566.63,107.61 567.07,110.96 567.51,114 567.95,116.74 568.39,119.16 568.82,121.27 569.26,123.09 569.7,124.65 570.14,125.96 570.58,127.05 571.01,127.97 571.45,128.72 571.89,129.34 572.33,129.85 572.77,130.27 573.2,130.62 573.64,130.92 574.08,131.16 574.52,131.37 574.96,131.55 575.39,131.71 575.83,131.85 576.27,131.98 576.71,132.09 577.15,132.19 577.58,132.29 578.02,132.37 578.46,132.45 578.9,132.52 579.34,132.59 579.77,132.65 580.21,132.71 580.65,132.77 581.09,132.82 581.53,132.86 581.96,132.91 582.4,132.95 582.84,132.99 583.28,133.03 583.72,133.06 584.15,133.09 584.59,133.12 585.03,133.15 585.47,133.18 585.91,133.2 586.34,133.22 586.78,133.25 587.22,133.27 587.66,133.29 587.66,133.76 587.22,133.75 586.78,133.75 586.34,133.74 585.91,133.74 585.47,133.73 585.03,133.73 584.59,133.72 584.15,133.71 583.72,133.7 583.28,133.7 582.84,133.69 582.4,133.68 581.96,133.66 581.53,133.65 581.09,133.64 580.65,133.62 580.21,133.61 579.77,133.59 579.34,133.57 578.9,133.55 578.46,133.53 578.02,133.51 577.58,133.48 577.15,133.45 576.71,133.42 576.27,133.39 575.83,133.36 575.39,133.32 574.96,133.28 574.52,133.24 574.08,133.2 573.64,133.15 573.2,133.1 572.77,133.05 572.33,133 571.89,132.94 571.45,132.88 571.01,132.82 570.58,132.76 570.14,132.69 569.7,132.63 569.26,132.56 568.82,132.49 568.39,132.42 567.95,132.35 567.51,132.27 567.07,132.2 566.63,132.13 566.2,132.06 565.76,131.99 565.32,131.92 564.88,131.85 564.44,131.79 564.01,131.72 563.57,131.66 563.13,131.6 562.69,131.54 562.25,131.48 561.82,131.43 561.38,131.38 560.94,131.33 560.5,131.29 560.06,131.24 559.63,131.2 559.19,131.16 558.75,131.13 558.31,131.1 557.87,131.06 557.44,131.04 557,131.01 556.56,130.98 556.12,130.96 555.68,130.94 555.25,130.92 554.81,130.9 554.37,130.88 553.93,130.87 553.49,130.85 553.06,130.84 552.62,130.83 552.18,130.82 551.74,130.81 551.3,130.8 550.87,130.79 550.43,130.78 549.99,130.77 549.55,130.77 549.11,130.76 548.68,130.76 548.24,130.75 547.8,130.75 547.36,130.74 546.92,130.74 546.49,130.73 546.05,130.73 545.61,130.73 545.17,130.72 544.73,130.72 544.3,130.72 543.86,130.72 543.42,130.72 542.98,130.71 542.54,130.71 542.11,130.71 541.67,130.71 541.23,130.71 540.79,130.71 540.35,130.71 539.92,130.71 539.48,130.71 539.04,130.7 538.6,130.7 538.16,130.7 537.73,130.7 537.29,130.7 536.85,130.7 536.41,130.7 535.97,130.7 535.54,130.7" fill="url(#gbe)" /><polygon points="594.67,133.15 595.1,133.14 595.54,133.12 595.98,133.1 596.42,133.09 596.86,133.07 597.29,133.05 597.73,133.03 598.17,133 598.61,132.98 599.05,132.96 599.48,132.93 599.92,132.91 600.36,132.88 600.8,132.85 601.24,132.82 601.67,132.79 602.11,132.76 602.55,132.72 602.99,132.68 603.43,132.65 603.86,132.61 604.3,132.56 604.74,132.52 605.18,132.47 605.62,132.42 606.05,132.37 606.49,132.31 606.93,132.25 607.37,132.18 607.81,132.12 608.24,132.04 608.68,131.96 609.12,131.87 609.56,131.77 610,131.66 610.43,131.54 610.87,131.4 611.31,131.25 611.75,131.07 612.19,130.86 612.62,130.61 613.06,130.33 613.5,129.99 613.94,129.59 614.38,129.11 614.81,128.55 615.25,127.89 615.69,127.1 616.13,126.17 616.57,125.09 617,123.83 617.44,122.37 617.88,120.69 618.32,118.78 618.76,116.62 619.19,114.19 619.63,111.49 620.07,108.51 620.51,105.27 620.95,101.76 621.38,98.02 621.82,94.06 622.26,89.93 622.7,85.68 623.14,81.36 623.57,77.04 624.01,72.8 624.45,68.73 624.89,64.93 625.33,61.5 625.76,58.53 626.2,56.14 626.64,54.42 627.08,53.42 627.52,53.2 627.95,53.77 628.39,55.11 628.83,57.16 629.27,59.85 629.71,63.08 630.14,66.74 630.58,70.75 631.02,74.99 631.46,79.37 631.9,83.8 632.33,88.22 632.77,92.54 633.21,96.72 633.65,100.72 634.09,104.49 634.52,108.02 634.96,111.28 635.4,114.26 635.84,116.97 636.28,119.4 636.71,121.57 637.15,123.49 637.59,125.18 638.03,126.65 638.47,127.92 638.9,129.02 639.34,129.96 639.78,130.77 640.22,131.46 640.66,132.05 641.09,132.55 641.53,132.98 641.97,133.34 642.41,133.66 642.85,133.93 643.28,134.16 643.72,134.37 644.16,134.55 644.6,134.71 645.04,134.85 645.47,134.98 645.91,135.1 646.35,135.21 646.79,135.3 647.23,135.39 647.66,135.48 648.1,135.56 648.54,135.63 648.98,135.7 649.42,135.76 649.85,135.82 650.29,135.88 650.73,135.93 651.17,135.98 651.61,136.03 652.04,136.07 652.48,136.11 652.92,136.15 653.36,136.19 653.8,136.23 654.23,136.26 654.67,136.29 655.11,136.33 655.55,136.35 655.99,136.38 656.42,136.41 656.86,136.43 657.3,136.46 657.74,136.48 658.18,136.5 658.61,136.52 659.05,136.54 659.49,136.56 659.93,136.58 660.37,136.6 660.37,137.23 659.93,137.23 659.49,137.23 659.05,137.23 658.61,137.23 658.18,137.22 657.74,137.22 657.3,137.22 656.86,137.22 656.42,137.22 655.99,137.21 655.55,137.21 655.11,137.21 654.67,137.21 654.23,137.2 653.8,137.2 653.36,137.19 652.92,137.19 652.48,137.18 652.04,137.18 651.61,137.17 651.17,137.16 650.73,137.16 650.29,137.15 649.85,137.14 649.42,137.13 648.98,137.12 648.54,137.11 648.1,137.1 647.66,137.08 647.23,137.07 646.79,137.05 646.35,137.04 645.91,137.02 645.47,137 645.04,136.97 644.6,136.95 644.16,136.92 643.72,136.9 643.28,136.87 642.85,136.83 642.41,136.8 641.97,136.76 641.53,136.72 641.09,136.68 640.66,136.64 640.22,136.59 639.78,136.54 639.34,136.48 638.9,136.43 638.47,136.37 638.03,136.31 637.59,136.24 637.15,136.17 636.71,136.1 636.28,136.03 635.84,135.96 635.4,135.88 634.96,135.81 634.52,135.73 634.09,135.65 633.65,135.57 633.21,135.49 632.77,135.41 632.33,135.33 631.9,135.25 631.46,135.17 631.02,135.1 630.58,135.02 630.14,134.95 629.71,134.88 629.27,134.81 628.83,134.75 628.39,134.69 627.95,134.63 627.52,134.57 627.08,134.51 626.64,134.46 626.2,134.42 625.76,134.37 625.33,134.33 624.89,134.29 624.45,134.25 624.01,134.21 623.57,134.18 623.14,134.15 622.7,134.12 622.26,134.1 621.82,134.07 621.38,134.05 620.95,134.03 620.51,134.01 620.07,133.99 619.63,133.97 619.19,133.96 618.76,133.95 618.32,133.93 617.88,133.92 617.44,133.91 617,133.9 616.57,133.89 616.13,133.88 615.69,133.88 615.25,133.87 614.81,133.86 614.38,133.86 613.94,133.85 613.5,133.85 613.06,133.84 612.62,133.84 612.19,133.84 611.75,133.83 611.31,133.83 610.87,133.83 610.43,133.82 610,133.82 609.56,133.82 609.12,133.82 608.68,133.82 608.24,133.81 607.81,133.81 607.37,133.81 606.93,133.81 606.49,133.81 606.05,133.81 605.62,133.81 605.18,133.81 604.74,133.8 604.3,133.8 603.86,133.8 603.43,133.8 602.99,133.8 602.55,133.8 602.11,133.8 601.67,133.8 601.24,133.8 600.8,133.8 600.36,133.8 599.92,133.8 599.48,133.8 599.05,133.8 598.61,133.8 598.17,133.79 597.73,133.79 597.29,133.79 596.86,133.79 596.42,133.79 595.98,133.79 595.54,133.79 595.1,133.79 594.67,133.79" fill="url(#gre)" /><polyline points="504,131.01 504.44,130.6 504.88,130.75 505.31,130.5 505.75,130.33 506.19,130.71 506.63,129.58 507.07,130.67 507.5,130.08 507.94,130.48 508.38,130.07 508.82,131.51 509.26,130.84 509.69,130.42 510.13,130.27 510.57,129.55 511.01,130.38 511.45,129.99 511.88,130.2 512.32,130.12 512.76,130.3 513.2,130.57 513.64,130.29 514.07,130.94 514.51,130.01 514.95,130.91 515.39,130.38 515.83,129.61 516.26,130.57 516.7,130.47 517.14,129.99 517.58,130.46 518.02,130.8 518.45,130.36 518.89,130.22 519.33,130.16 519.77,130.77 520.21,129.72 520.64,129.75 521.08,130.43 521.52,130.32 521.96,130.6 522.4,129.84 522.83,130.71 523.27,130.13 523.71,130.6 524.15,130.69 524.59,130.1 525.02,129.84 525.46,130.38 525.9,130.65 526.34,130.03 526.78,130.38 527.21,130.22 527.65,129.72 528.09,129.87 528.53,130.54 528.97,129.38 529.4,130.31 529.84,129.98 530.28,130.56 530.72,130.3 531.16,131 531.59,129.52 532.03,129.69 532.47,130.74 532.91,130.85 533.35,130.89 533.78,129.72 534.22,130.38 534.66,130.2 535.1,130.29 535.54,130.19 535.97,130.58 536.41,130.1 536.85,130.69 537.29,130.1 537.73,129.93 538.16,129.84 538.6,130.11 539.04,130.36 539.48,129.9 539.92,130.14 540.35,129.26 540.79,129.57 541.23,129.9 541.67,130.02 542.11,130.08 542.54,130.14 542.98,129.86 543.42,129.55 543.86,129.41 544.3,129.34 544.73,128.66 545.17,129.76 545.61,129.41 546.05,128.19 546.49,130.05 546.92,129.41 547.36,129.03 547.8,128.94 548.24,128.71 548.68,128.84 549.11,128.42 549.55,128.34 549.99,127.79 550.43,128.59 550.87,127.79 551.3,126.96 551.74,126.8 552.18,126.09 552.62,124.52 553.06,123.98 553.49,122.16 553.93,120.59 554.37,118.96 554.81,116.79 555.25,114.63 555.68,112.46 556.12,108.86 556.56,105.34 557,102.18 557.44,98.23 557.87,93.96 558.31,90.68 558.75,86.15 559.19,81.92 559.63,79.51 560.06,76.28 560.5,74.07 560.94,71.78 561.38,71.54 561.82,71.46 562.25,73.15 562.69,74.74 563.13,77.32 563.57,81.21 564.01,83.47 564.44,87.57 564.88,92.68 565.32,95.7 565.76,100.04 566.2,103.63 566.63,107.27 567.07,111.39 567.51,113.9 567.95,115.93 568.39,119.2 568.82,121.49 569.26,123.45 569.7,124.94 570.14,125.61 570.58,126.14 571.01,127.57 571.45,128.39 571.89,128.19 572.33,129.84 572.77,130.32 573.2,130.17 573.64,130.45 574.08,131.34 574.52,131.61 574.96,131.18 575.39,131.35 575.83,132.13 576.27,131.8 576.71,132.04 577.15,131.73 577.58,132.05 578.02,132.12 578.46,132.31 578.9,131.79 579.34,131.72 579.77,132.5 580.21,132.05 580.65,132.76 581.09,132.47 581.53,132.23 581.96,131.95 582.4,132.77 582.84,132.67 583.28,132.59 583.72,133.32 584.15,132.72 584.59,133.02 585.03,132.61 585.47,133.25 585.91,133.62 586.34,132.8 586.78,132.72 587.22,133.07 587.66,132.48 588.1,132.97 588.53,133.12 588.97,132.68 589.41,133.53 589.85,133.16 590.29,132.9 590.72,132.54 591.16,132.96 591.6,132.76 592.04,133.16 592.48,132.76 592.91,132.19 593.35,133.16 593.79,131.89 594.23,133.13 594.67,132.85 595.1,132.78 595.54,132.42 595.98,133.34 596.42,133.69 596.86,132.56 597.29,132.46 597.73,132.52 598.17,131.67 598.61,132.66 599.05,132.62 599.48,132.32 599.92,132.53 600.36,131.97 600.8,133.15 601.24,132.77 601.67,134.01 602.11,132.22 602.55,132.68 602.99,132.11 603.43,131.57 603.86,132.43 604.3,132.49 604.74,132.55 605.18,132.65 605.62,132.51 606.05,131.94 606.49,132.13 606.93,132.06 607.37,132.1 607.81,131.58 608.24,131.69 608.68,131.87 609.12,131.45 609.56,131.69 610,132 610.43,130.8 610.87,131.08 611.31,131.51 611.75,130.49 612.19,130.59 612.62,131.14 613.06,129.54 613.5,129.73 613.94,129.1 614.38,128.92 614.81,128.5 615.25,128.41 615.69,126.59 616.13,126.05 616.57,125.1 617,123.58 617.44,122.23 617.88,120.31 618.32,118.83 618.76,116.53 619.19,114.97 619.63,111.57 620.07,108.14 620.51,104.62 620.95,101.82 621.38,97.98 621.82,93.32 622.26,89.98 622.7,85.29 623.14,80.58 623.57,76.94 624.01,72.21 624.45,68.95 624.89,64.76 625.33,61.45 625.76,58.41 626.2,55.6 626.64,53.35 627.08,53.62 627.52,53.36 627.95,53.49 628.39,55.47 628.83,56.88 629.27,59.54 629.71,63.12 630.14,66.46 630.58,71.32 631.02,74.61 631.46,79.94 631.9,84.02 632.33,88.38 632.77,92.64 633.21,96.31 633.65,100.62 634.09,104.6 634.52,107.73 634.96,110.56 635.4,114.2 635.84,116.76 636.28,118.83 636.71,121.4 637.15,123.96 637.59,124.09 638.03,125.68 638.47,128.69 638.9,128.98 639.34,129.74 639.78,130.32 640.22,131.13 640.66,132.11 641.09,132.93 641.53,132.88 641.97,132.86 642.41,134.06 642.85,134.3 643.28,134.12 643.72,135.12 644.16,134.61 644.6,134.84 645.04,134.62 645.47,135.22 645.91,135.42 646.35,135.32 646.79,135.28 647.23,135.62 647.66,135.43 648.1,135.2 648.54,135.1 648.98,134.95 649.42,136.04 649.85,135.95 650.29,136.86 650.73,135.1 651.17,136.24 651.61,136 652.04,135.82 652.48,136.64 652.92,135.92 653.36,136.16 653.8,136.94 654.23,136.1 654.67,135.76 655.11,137.06 655.55,135.98 655.99,136.26 656.42,136.18 656.86,136.22 657.3,135.88 657.74,136.54 658.18,136.11 658.61,136.66 659.05,136.21 659.49,136.87 659.93,136.59 660.37,135.85 660.8,136.4 661.24,136.67 661.68,137.09 662.12,136.96 662.56,136.57 662.99,136.27 663.43,136.5 663.87,136.47 664.31,136.72 664.75,136.15 665.18,136.89 665.62,136.96 666.06,136.38 666.5,136.73 666.94,136.88 667.37,137.02 667.81,136.89 668.25,136.54 668.69,136.66 669.13,137.31 669.56,136.65 670,136.76 670.44,137.25 670.88,136.53 671.32,136.97 671.75,137 672.19,136.54 672.63,136.33 673.07,137.17 673.51,136.71 673.94,137.26 674.38,135.94 674.82,137.11 675.26,136.42 675.7,137.19 676.13,136.59 676.57,136.01 677.01,137.99 677.45,137.12 677.89,136.74 678.32,136.99 678.76,137.23 679.2,136.07" fill="none" stroke="#9a9a9a" stroke-width="0.6" stroke-linejoin="round" /><polyline points="504,130.7 504.44,130.7 504.88,130.7 505.31,130.7 505.75,130.7 506.19,130.7 506.63,130.7 507.07,130.7 507.5,130.7 507.94,130.7 508.38,130.7 508.82,130.7 509.26,130.7 509.69,130.7 510.13,130.7 510.57,130.7 511.01,130.7 511.45,130.7 511.88,130.7 512.32,130.7 512.76,130.7 513.2,130.7 513.64,130.7 514.07,130.7 514.51,130.7 514.95,130.7 515.39,130.7 515.83,130.7 516.26,130.7 516.7,130.7 517.14,130.7 517.58,130.7 518.02,130.7 518.45,130.7 518.89,130.7 519.33,130.7 519.77,130.7 520.21,130.7 520.64,130.7 521.08,130.7 521.52,130.7 521.96,130.7 522.4,130.7 522.83,130.7 523.27,130.7 523.71,130.7 524.15,130.7 524.59,130.7 525.02,130.7 525.46,130.7 525.9,130.7 526.34,130.7 526.78,130.7 527.21,130.7 527.65,130.7 528.09,130.7 528.53,130.7 528.97,130.7 529.4,130.7 529.84,130.7 530.28,130.7 530.72,130.7 531.16,130.7 531.59,130.7 532.03,130.7 532.47,130.7 532.91,130.7 533.35,130.7 533.78,130.7 534.22,130.7 534.66,130.7 535.1,130.7 535.54,130.7 535.97,130.7 536.41,130.7 536.85,130.7 537.29,130.7 537.73,130.7 538.16,130.7 538.6,130.7 539.04,130.7 539.48,130.71 539.92,130.71 540.35,130.71 540.79,130.71 541.23,130.71 541.67,130.71 542.11,130.71 542.54,130.71 542.98,130.71 543.42,130.72 543.86,130.72 544.3,130.72 544.73,130.72 545.17,130.72 545.61,130.73 546.05,130.73 546.49,130.73 546.92,130.74 547.36,130.74 547.8,130.75 548.24,130.75 548.68,130.76 549.11,130.76 549.55,130.77 549.99,130.77 550.43,130.78 550.87,130.79 551.3,130.8 551.74,130.81 552.18,130.82 552.62,130.83 553.06,130.84 553.49,130.85 553.93,130.87 554.37,130.88 554.81,130.9 555.25,130.92 555.68,130.94 556.12,130.96 556.56,130.98 557,131.01 557.44,131.04 557.87,131.06 558.31,131.1 558.75,131.13 559.19,131.16 559.63,131.2 560.06,131.24 560.5,131.29 560.94,131.33 561.38,131.38 561.82,131.43 562.25,131.48 562.69,131.54 563.13,131.6 563.57,131.66 564.01,131.72 564.44,131.79 564.88,131.85 565.32,131.92 565.76,131.99 566.2,132.06 566.63,132.13 567.07,132.2 567.51,132.27 567.95,132.35 568.39,132.42 568.82,132.49 569.26,132.56 569.7,132.63 570.14,132.69 570.58,132.76 571.01,132.82 571.45,132.88 571.89,132.94 572.33,133 572.77,133.05 573.2,133.1 573.64,133.15 574.08,133.2 574.52,133.24 574.96,133.28 575.39,133.32 575.83,133.36 576.27,133.39 576.71,133.42 577.15,133.45 577.58,133.48 578.02,133.51 578.46,133.53 578.9,133.55 579.34,133.57 579.77,133.59 580.21,133.61 580.65,133.62 581.09,133.64 581.53,133.65 581.96,133.66 582.4,133.68 582.84,133.69 583.28,133.7 583.72,133.7 584.15,133.71 584.59,133.72 585.03,133.73 585.47,133.73 585.91,133.74 586.34,133.74 586.78,133.75 587.22,133.75 587.66,133.76 588.1,133.76 588.53,133.76 588.97,133.77 589.41,133.77 589.85,133.77 590.29,133.77 590.72,133.78 591.16,133.78 591.6,133.78 592.04,133.78 592.48,133.78 592.91,133.78 593.35,133.79 593.79,133.79 594.23,133.79 594.67,133.79 595.1,133.79 595.54,133.79 595.98,133.79 596.42,133.79 596.86,133.79 597.29,133.79 597.73,133.79 598.17,133.79 598.61,133.8 599.05,133.8 599.48,133.8 599.92,133.8 600.36,133.8 600.8,133.8 601.24,133.8 601.67,133.8 602.11,133.8 602.55,133.8 602.99,133.8 603.43,133.8 603.86,133.8 604.3,133.8 604.74,133.8 605.18,133.81 605.62,133.81 606.05,133.81 606.49,133.81 606.93,133.81 607.37,133.81 607.81,133.81 608.24,133.81 608.68,133.82 609.12,133.82 609.56,133.82 610,133.82 610.43,133.82 610.87,133.83 611.31,133.83 611.75,133.83 612.19,133.84 612.62,133.84 613.06,133.84 613.5,133.85 613.94,133.85 614.38,133.86 614.81,133.86 615.25,133.87 615.69,133.88 616.13,133.88 616.57,133.89 617,133.9 617.44,133.91 617.88,133.92 618.32,133.93 618.76,133.95 619.19,133.96 619.63,133.97 620.07,133.99 620.51,134.01 620.95,134.03 621.38,134.05 621.82,134.07 622.26,134.1 622.7,134.12 623.14,134.15 623.57,134.18 624.01,134.21 624.45,134.25 624.89,134.29 625.33,134.33 625.76,134.37 626.2,134.42 626.64,134.46 627.08,134.51 627.52,134.57 627.95,134.63 628.39,134.69 628.83,134.75 629.27,134.81 629.71,134.88 630.14,134.95 630.58,135.02 631.02,135.1 631.46,135.17 631.9,135.25 632.33,135.33 632.77,135.41 633.21,135.49 633.65,135.57 634.09,135.65 634.52,135.73 634.96,135.81 635.4,135.88 635.84,135.96 636.28,136.03 636.71,136.1 637.15,136.17 637.59,136.24 638.03,136.31 638.47,136.37 638.9,136.43 639.34,136.48 639.78,136.54 640.22,136.59 640.66,136.64 641.09,136.68 641.53,136.72 641.97,136.76 642.41,136.8 642.85,136.83 643.28,136.87 643.72,136.9 644.16,136.92 644.6,136.95 645.04,136.97 645.47,137 645.91,137.02 646.35,137.04 646.79,137.05 647.23,137.07 647.66,137.08 648.1,137.1 648.54,137.11 648.98,137.12 649.42,137.13 649.85,137.14 650.29,137.15 650.73,137.16 651.17,137.16 651.61,137.17 652.04,137.18 652.48,137.18 652.92,137.19 653.36,137.19 653.8,137.2 654.23,137.2 654.67,137.21 655.11,137.21 655.55,137.21 655.99,137.21 656.42,137.22 656.86,137.22 657.3,137.22 657.74,137.22 658.18,137.22 658.61,137.23 659.05,137.23 659.49,137.23 659.93,137.23 660.37,137.23 660.8,137.23 661.24,137.23 661.68,137.23 662.12,137.23 662.56,137.24 662.99,137.24 663.43,137.24 663.87,137.24 664.31,137.24 664.75,137.24 665.18,137.24 665.62,137.24 666.06,137.24 666.5,137.24 666.94,137.24 667.37,137.24 667.81,137.24 668.25,137.24 668.69,137.24 669.13,137.24 669.56,137.24 670,137.24 670.44,137.24 670.88,137.24 671.32,137.24 671.75,137.24 672.19,137.24 672.63,137.24 673.07,137.24 673.51,137.24 673.94,137.24 674.38,137.24 674.82,137.24 675.26,137.24 675.7,137.24 676.13,137.24 676.57,137.24 677.01,137.24 677.45,137.24 677.89,137.24 678.32,137.24 678.76,137.24 679.2,137.24" fill="none" stroke="#111" stroke-width="1.25" stroke-linejoin="round" /><polyline points="533.35,130.29 533.78,130.28 534.22,130.27 534.66,130.26 535.1,130.24 535.54,130.23 535.97,130.21 536.41,130.2 536.85,130.18 537.29,130.16 537.73,130.14 538.16,130.12 538.6,130.1 539.04,130.08 539.48,130.06 539.92,130.03 540.35,130 540.79,129.98 541.23,129.95 541.67,129.92 542.11,129.88 542.54,129.85 542.98,129.81 543.42,129.77 543.86,129.73 544.3,129.68 544.73,129.63 545.17,129.58 545.61,129.52 546.05,129.45 546.49,129.38 546.92,129.3 547.36,129.21 547.8,129.11 548.24,128.99 548.68,128.85 549.11,128.68 549.55,128.48 549.99,128.23 550.43,127.92 550.87,127.54 551.3,127.07 551.74,126.49 552.18,125.78 552.62,124.9 553.06,123.84 553.49,122.55 553.93,121.02 554.37,119.22 554.81,117.13 555.25,114.73 555.68,112.01 556.12,108.98 556.56,105.67 557,102.1 557.44,98.33 557.87,94.42 558.31,90.46 558.75,86.56 559.19,82.84 559.63,79.43 560.06,76.49 560.5,74.16 560.94,72.58 561.38,71.84 561.82,71.99 562.25,73.03 562.69,74.9 563.13,77.48 563.57,80.65 564.01,84.24 564.44,88.11 564.88,92.14 565.32,96.19 565.76,100.17 566.2,104 566.63,107.61 567.07,110.96 567.51,114 567.95,116.74 568.39,119.16 568.82,121.27 569.26,123.09 569.7,124.65 570.14,125.96 570.58,127.05 571.01,127.97 571.45,128.72 571.89,129.34 572.33,129.85 572.77,130.27 573.2,130.62 573.64,130.92 574.08,131.16 574.52,131.37 574.96,131.55 575.39,131.71 575.83,131.85 576.27,131.98 576.71,132.09 577.15,132.19 577.58,132.29 578.02,132.37 578.46,132.45 578.9,132.52 579.34,132.59 579.77,132.65 580.21,132.71 580.65,132.77 581.09,132.82 581.53,132.86 581.96,132.91 582.4,132.95 582.84,132.99 583.28,133.03 583.72,133.06 584.15,133.09 584.59,133.12 585.03,133.15 585.47,133.18 585.91,133.2 586.34,133.22 586.78,133.25 587.22,133.27 587.66,133.29 588.1,133.31 588.53,133.32 588.97,133.34 589.41,133.36 589.85,133.37" fill="none" stroke="#1f2cf6" stroke-width="1.3" stroke-linejoin="round" /><polyline points="592.48,133.22 592.91,133.21 593.35,133.2 593.79,133.18 594.23,133.17 594.67,133.15 595.1,133.14 595.54,133.12 595.98,133.1 596.42,133.09 596.86,133.07 597.29,133.05 597.73,133.03 598.17,133 598.61,132.98 599.05,132.96 599.48,132.93 599.92,132.91 600.36,132.88 600.8,132.85 601.24,132.82 601.67,132.79 602.11,132.76 602.55,132.72 602.99,132.68 603.43,132.65 603.86,132.61 604.3,132.56 604.74,132.52 605.18,132.47 605.62,132.42 606.05,132.37 606.49,132.31 606.93,132.25 607.37,132.18 607.81,132.12 608.24,132.04 608.68,131.96 609.12,131.87 609.56,131.77 610,131.66 610.43,131.54 610.87,131.4 611.31,131.25 611.75,131.07 612.19,130.86 612.62,130.61 613.06,130.33 613.5,129.99 613.94,129.59 614.38,129.11 614.81,128.55 615.25,127.89 615.69,127.1 616.13,126.17 616.57,125.09 617,123.83 617.44,122.37 617.88,120.69 618.32,118.78 618.76,116.62 619.19,114.19 619.63,111.49 620.07,108.51 620.51,105.27 620.95,101.76 621.38,98.02 621.82,94.06 622.26,89.93 622.7,85.68 623.14,81.36 623.57,77.04 624.01,72.8 624.45,68.73 624.89,64.93 625.33,61.5 625.76,58.53 626.2,56.14 626.64,54.42 627.08,53.42 627.52,53.2 627.95,53.77 628.39,55.11 628.83,57.16 629.27,59.85 629.71,63.08 630.14,66.74 630.58,70.75 631.02,74.99 631.46,79.37 631.9,83.8 632.33,88.22 632.77,92.54 633.21,96.72 633.65,100.72 634.09,104.49 634.52,108.02 634.96,111.28 635.4,114.26 635.84,116.97 636.28,119.4 636.71,121.57 637.15,123.49 637.59,125.18 638.03,126.65 638.47,127.92 638.9,129.02 639.34,129.96 639.78,130.77 640.22,131.46 640.66,132.05 641.09,132.55 641.53,132.98 641.97,133.34 642.41,133.66 642.85,133.93 643.28,134.16 643.72,134.37 644.16,134.55 644.6,134.71 645.04,134.85 645.47,134.98 645.91,135.1 646.35,135.21 646.79,135.3 647.23,135.39 647.66,135.48 648.1,135.56 648.54,135.63 648.98,135.7 649.42,135.76 649.85,135.82 650.29,135.88 650.73,135.93 651.17,135.98 651.61,136.03 652.04,136.07 652.48,136.11 652.92,136.15 653.36,136.19 653.8,136.23 654.23,136.26 654.67,136.29 655.11,136.33 655.55,136.35 655.99,136.38 656.42,136.41 656.86,136.43 657.3,136.46 657.74,136.48 658.18,136.5 658.61,136.52 659.05,136.54 659.49,136.56 659.93,136.58 660.37,136.6 660.8,136.62 661.24,136.63 661.68,136.65 662.12,136.66 662.56,136.68" fill="none" stroke="#a8262a" stroke-width="1.3" stroke-linejoin="round" /></g><rect x="504" y="11.5" width="175.2" height="137.8" fill="none" stroke="#000" stroke-width="1.4" /><line x1="501.6" y1="149.3" x2="504" y2="149.3" stroke="#000" stroke-width="1.1" /><line x1="679.2" y1="149.3" x2="681.2" y2="149.3" stroke="#000" stroke-width="1" /><text x="501.4" y="151.4" font-size="5.9" font-family='"Liberation Sans", sans-serif' font-weight="bold" text-anchor="end" textLength="13.8" lengthAdjust="spacingAndGlyphs" >0E+0</text><line x1="502.6" y1="132.08" x2="504" y2="132.08" stroke="#000" stroke-width="0.9" /><line x1="679.2" y1="132.08" x2="680.4" y2="132.08" stroke="#000" stroke-width="0.9" /><line x1="501.6" y1="114.85" x2="504" y2="114.85" stroke="#000" stroke-width="1.1" /><line x1="679.2" y1="114.85" x2="681.2" y2="114.85" stroke="#000" stroke-width="1" /><text x="501.4" y="116.95" font-size="5.9" font-family='"Liberation Sans", sans-serif' font-weight="bold" text-anchor="end" textLength="13.8" lengthAdjust="spacingAndGlyphs" >1E+4</text><line x1="502.6" y1="97.62" x2="504" y2="97.62" stroke="#000" stroke-width="0.9" /><line x1="679.2" y1="97.62" x2="680.4" y2="97.62" stroke="#000" stroke-width="0.9" /><line x1="501.6" y1="80.4" x2="504" y2="80.4" stroke="#000" stroke-width="1.1" /><line x1="679.2" y1="80.4" x2="681.2" y2="80.4" stroke="#000" stroke-width="1" /><text x="501.4" y="82.5" font-size="5.9" font-family='"Liberation Sans", sans-serif' font-weight="bold" text-anchor="end" textLength="13.8" lengthAdjust="spacingAndGlyphs" >2E+4</text><line x1="502.6" y1="63.18" x2="504" y2="63.18" stroke="#000" stroke-width="0.9" /><line x1="679.2" y1="63.18" x2="680.4" y2="63.18" stroke="#000" stroke-width="0.9" /><line x1="501.6" y1="45.95" x2="504" y2="45.95" stroke="#000" stroke-width="1.1" /><line x1="679.2" y1="45.95" x2="681.2" y2="45.95" stroke="#000" stroke-width="1" /><text x="501.4" y="48.05" font-size="5.9" font-family='"Liberation Sans", sans-serif' font-weight="bold" text-anchor="end" textLength="13.8" lengthAdjust="spacingAndGlyphs" >3E+4</text><line x1="502.6" y1="28.72" x2="504" y2="28.72" stroke="#000" stroke-width="0.9" /><line x1="679.2" y1="28.72" x2="680.4" y2="28.72" stroke="#000" stroke-width="0.9" /><line x1="501.6" y1="11.5" x2="504" y2="11.5" stroke="#000" stroke-width="1.1" /><line x1="679.2" y1="11.5" x2="681.2" y2="11.5" stroke="#000" stroke-width="1" /><text x="501.4" y="13.6" font-size="5.9" font-family='"Liberation Sans", sans-serif' font-weight="bold" text-anchor="end" textLength="13.8" lengthAdjust="spacingAndGlyphs" >4E+4</text><line x1="517.48" y1="149.3" x2="517.48" y2="151.7" stroke="#000" stroke-width="1.1" /><text x="517.48" y="159.8" font-size="7.6" font-family='"Liberation Sans", sans-serif' font-weight="bold" text-anchor="middle" >146</text><line x1="530.95" y1="149.3" x2="530.95" y2="150.7" stroke="#000" stroke-width="0.9" /><line x1="544.43" y1="149.3" x2="544.43" y2="151.7" stroke="#000" stroke-width="1.1" /><text x="544.43" y="159.8" font-size="7.6" font-family='"Liberation Sans", sans-serif' font-weight="bold" text-anchor="middle" >144</text><line x1="557.91" y1="149.3" x2="557.91" y2="150.7" stroke="#000" stroke-width="0.9" /><line x1="571.38" y1="149.3" x2="571.38" y2="151.7" stroke="#000" stroke-width="1.1" /><text x="571.38" y="159.8" font-size="7.6" font-family='"Liberation Sans", sans-serif' font-weight="bold" text-anchor="middle" >142</text><line x1="584.86" y1="149.3" x2="584.86" y2="150.7" stroke="#000" stroke-width="0.9" /><line x1="598.34" y1="149.3" x2="598.34" y2="151.7" stroke="#000" stroke-width="1.1" /><text x="598.34" y="159.8" font-size="7.6" font-family='"Liberation Sans", sans-serif' font-weight="bold" text-anchor="middle" >140</text><line x1="611.82" y1="149.3" x2="611.82" y2="150.7" stroke="#000" stroke-width="0.9" /><line x1="625.29" y1="149.3" x2="625.29" y2="151.7" stroke="#000" stroke-width="1.1" /><text x="625.29" y="159.8" font-size="7.6" font-family='"Liberation Sans", sans-serif' font-weight="bold" text-anchor="middle" >138</text><line x1="638.77" y1="149.3" x2="638.77" y2="150.7" stroke="#000" stroke-width="0.9" /><line x1="652.25" y1="149.3" x2="652.25" y2="151.7" stroke="#000" stroke-width="1.1" /><text x="652.25" y="159.8" font-size="7.6" font-family='"Liberation Sans", sans-serif' font-weight="bold" text-anchor="middle" >136</text><line x1="665.72" y1="149.3" x2="665.72" y2="150.7" stroke="#000" stroke-width="0.9" /><line x1="679.2" y1="149.3" x2="679.2" y2="151.7" stroke="#000" stroke-width="1.1" /><text x="679.2" y="159.8" font-size="7.6" font-family='"Liberation Sans", sans-serif' font-weight="bold" text-anchor="middle" >134</text><line x1="504" y1="149.3" x2="504" y2="150.7" stroke="#000" stroke-width="0.9" /><line x1="508.2" y1="19.7" x2="522.5" y2="19.7" stroke="#a0a0a0" stroke-width="0.8" /><text x="524.6" y="21.9" font-size="6.3" font-family='"Liberation Sans", sans-serif' font-weight="bold" fill="#111">Raw Data</text><line x1="508.2" y1="28.5" x2="522.5" y2="28.5" stroke="#b03a3a" stroke-width="1.5" /><text x="524.6" y="30.7" font-size="6.3" font-family='"Liberation Sans", sans-serif' font-weight="bold" fill="#111">Pb 4<tspan font-style="italic">f</tspan><tspan font-size="4.6" dy="1.6">5/2</tspan></text><line x1="508.2" y1="38.2" x2="522.5" y2="38.2" stroke="#2436f6" stroke-width="1.5" /><text x="524.6" y="40.4" font-size="6.3" font-family='"Liberation Sans", sans-serif' font-weight="bold" fill="#111">Pb 4<tspan font-style="italic">f</tspan><tspan font-size="4.6" dy="1.6">7/2</tspan></text><line x1="508.2" y1="47.9" x2="522.5" y2="47.9" stroke="#111" stroke-width="1.3" /><text x="524.6" y="50.1" font-size="6.3" font-family='"Liberation Sans", sans-serif' font-weight="bold" fill="#111">Background</text><text x="556" y="66.4" font-size="7" font-family='"Liberation Sans", sans-serif' font-weight="bold" fill="#111">Pb 4<tspan font-style="italic">f</tspan><tspan font-size="4.6" dy="1.6">5/2</tspan></text><text x="620" y="48" font-size="7" font-family='"Liberation Sans", sans-serif' font-weight="bold" fill="#111">Pb 4<tspan font-style="italic">f</tspan><tspan font-size="4.6" dy="1.6">7/2</tspan></text><text x="578.8" y="112.8" font-size="7" font-family='"Liberation Sans", sans-serif' font-weight="bold" fill="#111">Pb<tspan font-size="4.5" dy="-2.6">0</tspan><tspan dy="2.6"> </tspan>4<tspan font-style="italic">f</tspan><tspan font-size="4.6" dy="1.6">5/2</tspan></text><text x="644.2" y="117.5" font-size="7" font-family='"Liberation Sans", sans-serif' font-weight="bold" fill="#111">Pb<tspan font-size="4.5" dy="-2.6">0</tspan><tspan dy="2.6"> </tspan>4<tspan font-style="italic">f</tspan><tspan font-size="4.6" dy="1.6">7/2</tspan></text><text x="631.5" y="24.8" font-size="13.3" font-family='"Liberation Mono", monospace' font-weight="bold" fill="#1a74cc" textLength="43" lengthAdjust="spacingAndGlyphs" >Control</text><line x1="589.7" y1="121.5" x2="583.2" y2="130.9" stroke="#000" stroke-width="0.7" /><polygon points="581.9,132.8 582.3,129.6 584.6,131.1" fill="#111" /><line x1="657.9" y1="123.6" x2="651.6" y2="133" stroke="#000" stroke-width="0.7" /><polygon points="650.4,134.8 650.8,131.6 653.1,133.1" fill="#111" /><g clip-path="url(#cpf)"><polygon points="539.08,304.47 539.52,304.45 539.96,304.42 540.4,304.4 540.84,304.37 541.28,304.35 541.71,304.32 542.15,304.28 542.59,304.25 543.03,304.21 543.47,304.17 543.91,304.13 544.35,304.08 544.79,304.03 545.23,303.97 545.67,303.91 546.11,303.85 546.55,303.77 546.99,303.69 547.42,303.59 547.86,303.48 548.3,303.35 548.74,303.19 549.18,303 549.62,302.75 550.06,302.43 550.5,302.01 550.94,301.46 551.38,300.71 551.82,299.73 552.26,298.44 552.7,296.76 553.14,294.63 553.57,291.98 554.01,288.74 554.45,284.89 554.89,280.44 555.33,275.42 555.77,269.96 556.21,264.21 556.65,258.4 557.09,252.81 557.53,247.81 557.97,243.77 558.41,241.06 558.85,239.97 559.28,240.64 559.72,242.99 560.16,246.78 560.6,251.65 561.04,257.21 561.48,263.1 561.92,269.02 562.36,274.71 562.8,280 563.24,284.76 563.68,288.92 564.12,292.47 564.56,295.43 565,297.84 565.43,299.77 565.87,301.3 566.31,302.5 566.75,303.44 567.19,304.17 567.63,304.76 568.07,305.23 568.51,305.61 568.95,305.94 569.39,306.22 569.83,306.47 570.27,306.7 570.71,306.9 571.14,307.09 571.58,307.27 572.02,307.43 572.46,307.58 572.9,307.73 573.34,307.86 573.78,307.98 574.22,308.1 574.66,308.21 575.1,308.31 575.54,308.4 575.98,308.49 576.42,308.57 576.85,308.65 577.29,308.72 577.73,308.79 578.17,308.85 578.61,308.9 578.61,309.42 578.17,309.39 577.73,309.35 577.29,309.31 576.85,309.27 576.42,309.22 575.98,309.17 575.54,309.12 575.1,309.06 574.66,309 574.22,308.94 573.78,308.87 573.34,308.8 572.9,308.72 572.46,308.64 572.02,308.56 571.58,308.47 571.14,308.38 570.71,308.28 570.27,308.18 569.83,308.08 569.39,307.98 568.95,307.87 568.51,307.76 568.07,307.65 567.63,307.54 567.19,307.43 566.75,307.31 566.31,307.2 565.87,307.09 565.43,306.98 565,306.87 564.56,306.77 564.12,306.66 563.68,306.56 563.24,306.46 562.8,306.37 562.36,306.28 561.92,306.19 561.48,306.11 561.04,306.03 560.6,305.95 560.16,305.88 559.72,305.82 559.28,305.75 558.85,305.69 558.41,305.64 557.97,305.59 557.53,305.54 557.09,305.49 556.65,305.45 556.21,305.41 555.77,305.37 555.33,305.34 554.89,305.31 554.45,305.28 554.01,305.25 553.57,305.23 553.14,305.21 552.7,305.19 552.26,305.17 551.82,305.15 551.38,305.13 550.94,305.12 550.5,305.11 550.06,305.09 549.62,305.08 549.18,305.07 548.74,305.06 548.3,305.05 547.86,305.05 547.42,305.04 546.99,305.03 546.55,305.03 546.11,305.02 545.67,305.02 545.23,305.01 544.79,305.01 544.35,305 543.91,305 543.47,305 543.03,304.99 542.59,304.99 542.15,304.99 541.71,304.99 541.28,304.98 540.84,304.98 540.4,304.98 539.96,304.98 539.52,304.98 539.08,304.98" fill="url(#gbf)" /><polygon points="595.74,309.07 596.18,309.05 596.62,309.03 597.06,309 597.5,308.98 597.94,308.95 598.38,308.93 598.82,308.9 599.26,308.87 599.7,308.83 600.14,308.8 600.57,308.76 601.01,308.73 601.45,308.69 601.89,308.65 602.33,308.6 602.77,308.55 603.21,308.5 603.65,308.45 604.09,308.39 604.53,308.33 604.97,308.27 605.41,308.2 605.85,308.13 606.28,308.05 606.72,307.96 607.16,307.87 607.6,307.77 608.04,307.66 608.48,307.53 608.92,307.39 609.36,307.24 609.8,307.05 610.24,306.84 610.68,306.59 611.12,306.29 611.56,305.93 611.99,305.5 612.43,304.97 612.87,304.32 613.31,303.54 613.75,302.58 614.19,301.42 614.63,300.02 615.07,298.36 615.51,296.38 615.95,294.05 616.39,291.35 616.83,288.25 617.27,284.72 617.7,280.76 618.14,276.38 618.58,271.6 619.02,266.45 619.46,260.99 619.9,255.32 620.34,249.51 620.78,243.71 621.22,238.05 621.66,232.7 622.1,227.84 622.54,223.65 622.98,220.33 623.42,218.04 623.85,216.91 624.29,217 624.73,218.31 625.17,220.77 625.61,224.25 626.05,228.58 626.49,233.57 626.93,239.04 627.37,244.81 627.81,250.71 628.25,256.6 628.69,262.36 629.13,267.89 629.56,273.11 630,277.96 630.44,282.41 630.88,286.44 631.32,290.04 631.76,293.21 632.2,295.99 632.64,298.39 633.08,300.45 633.52,302.2 633.96,303.68 634.4,304.92 634.84,305.96 635.28,306.83 635.71,307.57 636.15,308.18 636.59,308.7 637.03,309.14 637.47,309.52 637.91,309.85 638.35,310.14 638.79,310.39 639.23,310.62 639.67,310.82 640.11,311.01 640.55,311.18 640.99,311.34 641.42,311.48 641.86,311.61 642.3,311.74 642.74,311.85 643.18,311.96 643.62,312.06 644.06,312.16 644.5,312.25 644.94,312.33 645.38,312.41 645.82,312.48 646.26,312.55 646.7,312.61 647.13,312.67 647.57,312.72 648.01,312.78 648.45,312.83 648.89,312.87 649.33,312.92 649.77,312.96 650.21,313 650.65,313.03 651.09,313.07 651.53,313.1 651.97,313.13 652.41,313.16 652.41,313.88 651.97,313.88 651.53,313.87 651.09,313.86 650.65,313.85 650.21,313.84 649.77,313.83 649.33,313.82 648.89,313.81 648.45,313.79 648.01,313.78 647.57,313.76 647.13,313.74 646.7,313.72 646.26,313.7 645.82,313.68 645.38,313.66 644.94,313.63 644.5,313.6 644.06,313.57 643.62,313.54 643.18,313.5 642.74,313.46 642.3,313.42 641.86,313.38 641.42,313.33 640.99,313.28 640.55,313.22 640.11,313.16 639.67,313.1 639.23,313.04 638.79,312.97 638.35,312.9 637.91,312.83 637.47,312.75 637.03,312.67 636.59,312.58 636.15,312.5 635.71,312.41 635.28,312.32 634.84,312.22 634.4,312.13 633.96,312.03 633.52,311.94 633.08,311.84 632.64,311.75 632.2,311.65 631.76,311.56 631.32,311.46 630.88,311.37 630.44,311.28 630,311.19 629.56,311.11 629.13,311.03 628.69,310.95 628.25,310.87 627.81,310.8 627.37,310.73 626.93,310.67 626.49,310.61 626.05,310.55 625.61,310.49 625.17,310.44 624.73,310.39 624.29,310.35 623.85,310.3 623.42,310.27 622.98,310.23 622.54,310.19 622.1,310.16 621.66,310.13 621.22,310.11 620.78,310.08 620.34,310.06 619.9,310.04 619.46,310.02 619.02,310 618.58,309.98 618.14,309.97 617.7,309.95 617.27,309.94 616.83,309.93 616.39,309.92 615.95,309.91 615.51,309.9 615.07,309.89 614.63,309.88 614.19,309.88 613.75,309.87 613.31,309.86 612.87,309.86 612.43,309.85 611.99,309.85 611.56,309.85 611.12,309.84 610.68,309.84 610.24,309.84 609.8,309.83 609.36,309.83 608.92,309.83 608.48,309.83 608.04,309.82 607.6,309.82 607.16,309.82 606.72,309.82 606.28,309.82 605.85,309.82 605.41,309.81 604.97,309.81 604.53,309.81 604.09,309.81 603.65,309.81 603.21,309.81 602.77,309.81 602.33,309.81 601.89,309.81 601.45,309.81 601.01,309.8 600.57,309.8 600.14,309.8 599.7,309.8 599.26,309.8 598.82,309.8 598.38,309.8 597.94,309.8 597.5,309.8 597.06,309.8 596.62,309.8 596.18,309.8 595.74,309.79" fill="url(#grf)" /><polyline points="503.5,304.82 503.94,305.54 504.38,304.5 504.82,305.57 505.26,304.37 505.7,305.09 506.14,304.79 506.57,304.32 507.01,304.8 507.45,305.42 507.89,305.54 508.33,304.35 508.77,304.53 509.21,305.17 509.65,304.48 510.09,304.63 510.53,304.56 510.97,305.77 511.41,304.95 511.85,304.45 512.29,304.52 512.72,304.45 513.16,305.84 513.6,304.74 514.04,304.61 514.48,303.75 514.92,305.2 515.36,304.94 515.8,304.79 516.24,304.43 516.68,304.98 517.12,304.32 517.56,305.12 518,304.68 518.43,305 518.87,304.72 519.31,305.07 519.75,305.44 520.19,304.32 520.63,304.64 521.07,305 521.51,304.68 521.95,304.35 522.39,305.16 522.83,304.8 523.27,304.52 523.71,304.52 524.14,304.88 524.58,305.61 525.02,304.21 525.46,304.58 525.9,304.71 526.34,304.83 526.78,304.6 527.22,304.88 527.66,305.12 528.1,304.99 528.54,304.93 528.98,304.93 529.42,305.15 529.85,304.39 530.29,305.19 530.73,304.37 531.17,305.05 531.61,304.48 532.05,304.05 532.49,304.52 532.93,304.9 533.37,304.57 533.81,304.51 534.25,305.28 534.69,304.8 535.13,304.47 535.57,304.72 536,304.48 536.44,304.19 536.88,304.16 537.32,304.09 537.76,304.2 538.2,304.55 538.64,304.41 539.08,304.5 539.52,304.49 539.96,304.41 540.4,305.03 540.84,304.43 541.28,304.27 541.71,304.63 542.15,304.21 542.59,303.95 543.03,304.19 543.47,303.22 543.91,305.12 544.35,304.07 544.79,304.69 545.23,303.47 545.67,302.72 546.11,304.79 546.55,303.62 546.99,303.37 547.42,303.61 547.86,303.15 548.3,304.18 548.74,302.73 549.18,302.74 549.62,302.63 550.06,302.57 550.5,301.64 550.94,301.55 551.38,300.51 551.82,299.83 552.26,299.25 552.7,296.66 553.14,294.43 553.57,291.54 554.01,288.98 554.45,284.78 554.89,280.06 555.33,275.24 555.77,269.32 556.21,263.25 556.65,258.64 557.09,253.48 557.53,247.32 557.97,243 558.41,240.54 558.85,239.5 559.28,240.76 559.72,243.15 560.16,246.27 560.6,251.88 561.04,257.81 561.48,263.36 561.92,267.83 562.36,273.76 562.8,280.13 563.24,284.9 563.68,288.66 564.12,292.62 564.56,294.72 565,297.7 565.43,300.05 565.87,300.58 566.31,302.57 566.75,303.17 567.19,304 567.63,304.7 568.07,304.9 568.51,305.71 568.95,306.51 569.39,306.94 569.83,306.8 570.27,306.81 570.71,306.71 571.14,306.86 571.58,306.82 572.02,307.16 572.46,307.69 572.9,307.79 573.34,308.51 573.78,307.82 574.22,307.66 574.66,307.74 575.1,308.11 575.54,308.22 575.98,307.85 576.42,308.31 576.85,308.08 577.29,308.21 577.73,308.42 578.17,308.02 578.61,308.86 579.05,308.82 579.49,309.05 579.93,309.08 580.37,308.14 580.81,308.09 581.25,308.84 581.69,308.64 582.13,308.42 582.56,308.59 583,308.45 583.44,309.49 583.88,309.25 584.32,308.81 584.76,308.41 585.2,308.98 585.64,309.39 586.08,309.18 586.52,309.32 586.96,309.41 587.4,308.43 587.84,309.32 588.28,309.05 588.71,308.16 589.15,308.57 589.59,308.92 590.03,309.31 590.47,308.88 590.91,308.37 591.35,308.78 591.79,308.51 592.23,308.98 592.67,308.8 593.11,309.09 593.55,308.81 593.99,308.44 594.42,309.56 594.86,308.98 595.3,308.84 595.74,309.16 596.18,309.03 596.62,308.56 597.06,308.03 597.5,308.58 597.94,308.68 598.38,309.44 598.82,307.97 599.26,308.71 599.7,308.73 600.14,309.14 600.57,308.67 601.01,309.07 601.45,308.54 601.89,308.34 602.33,308.48 602.77,308.33 603.21,308.75 603.65,307.76 604.09,308.57 604.53,308.99 604.97,308.25 605.41,308.42 605.85,308.45 606.28,308.11 606.72,307.75 607.16,308.27 607.6,307.74 608.04,306.98 608.48,307.17 608.92,307.38 609.36,307.1 609.8,307.02 610.24,306.78 610.68,306.21 611.12,306.25 611.56,306.86 611.99,305.43 612.43,305.26 612.87,303.98 613.31,303.72 613.75,302.45 614.19,300.45 614.63,300.39 615.07,298.76 615.51,296.9 615.95,294.98 616.39,292.07 616.83,288.04 617.27,284.92 617.7,281.48 618.14,276.94 618.58,271.28 619.02,266.71 619.46,261.09 619.9,255.12 620.34,248.9 620.78,242.85 621.22,237.57 621.66,232.59 622.1,227.71 622.54,222.85 622.98,219.69 623.42,218.12 623.85,216.67 624.29,216.83 624.73,218.24 625.17,220.93 625.61,224.75 626.05,228.75 626.49,234.17 626.93,238.49 627.37,244.54 627.81,251.16 628.25,255.98 628.69,261.94 629.13,268.64 629.56,272.3 630,277.58 630.44,281.51 630.88,286.91 631.32,289.78 631.76,293 632.2,295.87 632.64,298.28 633.08,299.97 633.52,302.78 633.96,304.15 634.4,305.46 634.84,306.16 635.28,307.05 635.71,307.38 636.15,308.04 636.59,308.65 637.03,309.39 637.47,309.67 637.91,309.42 638.35,309.79 638.79,310.32 639.23,310.72 639.67,310.15 640.11,311.22 640.55,310.88 640.99,310.83 641.42,311.56 641.86,311.24 642.3,312.17 642.74,311.41 643.18,311.85 643.62,312.69 644.06,311.85 644.5,312.59 644.94,311.77 645.38,312.66 645.82,312.52 646.26,312.4 646.7,312.72 647.13,312.53 647.57,312.93 648.01,312.47 648.45,312.8 648.89,312.76 649.33,314.03 649.77,312.45 650.21,312.96 650.65,313.75 651.09,313 651.53,312.88 651.97,312.66 652.41,313.59 652.85,312.52 653.28,313.26 653.72,312.22 654.16,313.3 654.6,312.98 655.04,313.43 655.48,313.77 655.92,312.87 656.36,312.96 656.8,312.72 657.24,313.02 657.68,313.63 658.12,314.1 658.56,313.69 658.99,313.71 659.43,313.79 659.87,313.22 660.31,313.34 660.75,313.6 661.19,313.42 661.63,313.57 662.07,313.43 662.51,313.22 662.95,313.14 663.39,313.83 663.83,314.18 664.27,312.97 664.7,313.53 665.14,313.12 665.58,314.27 666.02,313.73 666.46,313.59 666.9,314.21 667.34,313.83 667.78,313.32 668.22,313.18 668.66,312.98 669.1,314 669.54,314.23 669.98,313.44 670.41,313.27 670.85,313.59 671.29,314.21 671.73,313.35 672.17,313.35 672.61,313.46 673.05,313.89 673.49,313.57 673.93,313.37 674.37,313.94 674.81,314.47 675.25,313.58 675.69,313.52 676.13,313.71 676.56,313.35 677,313.97 677.44,313.76 677.88,313.86 678.32,313.5 678.76,313.08 679.2,313.85" fill="none" stroke="#9a9a9a" stroke-width="0.6" stroke-linejoin="round" /><polyline points="503.5,304.96 503.94,304.96 504.38,304.96 504.82,304.96 505.26,304.96 505.7,304.96 506.14,304.96 506.57,304.96 507.01,304.96 507.45,304.96 507.89,304.96 508.33,304.96 508.77,304.96 509.21,304.96 509.65,304.96 510.09,304.96 510.53,304.96 510.97,304.96 511.41,304.96 511.85,304.96 512.29,304.96 512.72,304.96 513.16,304.96 513.6,304.96 514.04,304.96 514.48,304.96 514.92,304.96 515.36,304.96 515.8,304.96 516.24,304.96 516.68,304.96 517.12,304.96 517.56,304.96 518,304.96 518.43,304.96 518.87,304.96 519.31,304.96 519.75,304.96 520.19,304.96 520.63,304.96 521.07,304.96 521.51,304.96 521.95,304.96 522.39,304.96 522.83,304.96 523.27,304.96 523.71,304.96 524.14,304.96 524.58,304.96 525.02,304.96 525.46,304.96 525.9,304.96 526.34,304.96 526.78,304.96 527.22,304.96 527.66,304.96 528.1,304.96 528.54,304.96 528.98,304.97 529.42,304.97 529.85,304.97 530.29,304.97 530.73,304.97 531.17,304.97 531.61,304.97 532.05,304.97 532.49,304.97 532.93,304.97 533.37,304.97 533.81,304.97 534.25,304.97 534.69,304.97 535.13,304.97 535.57,304.97 536,304.97 536.44,304.97 536.88,304.97 537.32,304.97 537.76,304.97 538.2,304.97 538.64,304.98 539.08,304.98 539.52,304.98 539.96,304.98 540.4,304.98 540.84,304.98 541.28,304.98 541.71,304.99 542.15,304.99 542.59,304.99 543.03,304.99 543.47,305 543.91,305 544.35,305 544.79,305.01 545.23,305.01 545.67,305.02 546.11,305.02 546.55,305.03 546.99,305.03 547.42,305.04 547.86,305.05 548.3,305.05 548.74,305.06 549.18,305.07 549.62,305.08 550.06,305.09 550.5,305.11 550.94,305.12 551.38,305.13 551.82,305.15 552.26,305.17 552.7,305.19 553.14,305.21 553.57,305.23 554.01,305.25 554.45,305.28 554.89,305.31 555.33,305.34 555.77,305.37 556.21,305.41 556.65,305.45 557.09,305.49 557.53,305.54 557.97,305.59 558.41,305.64 558.85,305.69 559.28,305.75 559.72,305.82 560.16,305.88 560.6,305.95 561.04,306.03 561.48,306.11 561.92,306.19 562.36,306.28 562.8,306.37 563.24,306.46 563.68,306.56 564.12,306.66 564.56,306.77 565,306.87 565.43,306.98 565.87,307.09 566.31,307.2 566.75,307.31 567.19,307.43 567.63,307.54 568.07,307.65 568.51,307.76 568.95,307.87 569.39,307.98 569.83,308.08 570.27,308.18 570.71,308.28 571.14,308.38 571.58,308.47 572.02,308.56 572.46,308.64 572.9,308.72 573.34,308.8 573.78,308.87 574.22,308.94 574.66,309 575.1,309.06 575.54,309.12 575.98,309.17 576.42,309.22 576.85,309.27 577.29,309.31 577.73,309.35 578.17,309.39 578.61,309.42 579.05,309.45 579.49,309.48 579.93,309.51 580.37,309.53 580.81,309.56 581.25,309.58 581.69,309.6 582.13,309.61 582.56,309.63 583,309.64 583.44,309.66 583.88,309.67 584.32,309.68 584.76,309.69 585.2,309.7 585.64,309.71 586.08,309.72 586.52,309.73 586.96,309.73 587.4,309.74 587.84,309.75 588.28,309.75 588.71,309.76 589.15,309.76 589.59,309.76 590.03,309.77 590.47,309.77 590.91,309.77 591.35,309.78 591.79,309.78 592.23,309.78 592.67,309.78 593.11,309.79 593.55,309.79 593.99,309.79 594.42,309.79 594.86,309.79 595.3,309.79 595.74,309.79 596.18,309.8 596.62,309.8 597.06,309.8 597.5,309.8 597.94,309.8 598.38,309.8 598.82,309.8 599.26,309.8 599.7,309.8 600.14,309.8 600.57,309.8 601.01,309.8 601.45,309.81 601.89,309.81 602.33,309.81 602.77,309.81 603.21,309.81 603.65,309.81 604.09,309.81 604.53,309.81 604.97,309.81 605.41,309.81 605.85,309.82 606.28,309.82 606.72,309.82 607.16,309.82 607.6,309.82 608.04,309.82 608.48,309.83 608.92,309.83 609.36,309.83 609.8,309.83 610.24,309.84 610.68,309.84 611.12,309.84 611.56,309.85 611.99,309.85 612.43,309.85 612.87,309.86 613.31,309.86 613.75,309.87 614.19,309.88 614.63,309.88 615.07,309.89 615.51,309.9 615.95,309.91 616.39,309.92 616.83,309.93 617.27,309.94 617.7,309.95 618.14,309.97 618.58,309.98 619.02,310 619.46,310.02 619.9,310.04 620.34,310.06 620.78,310.08 621.22,310.11 621.66,310.13 622.1,310.16 622.54,310.19 622.98,310.23 623.42,310.27 623.85,310.3 624.29,310.35 624.73,310.39 625.17,310.44 625.61,310.49 626.05,310.55 626.49,310.61 626.93,310.67 627.37,310.73 627.81,310.8 628.25,310.87 628.69,310.95 629.13,311.03 629.56,311.11 630,311.19 630.44,311.28 630.88,311.37 631.32,311.46 631.76,311.56 632.2,311.65 632.64,311.75 633.08,311.84 633.52,311.94 633.96,312.03 634.4,312.13 634.84,312.22 635.28,312.32 635.71,312.41 636.15,312.5 636.59,312.58 637.03,312.67 637.47,312.75 637.91,312.83 638.35,312.9 638.79,312.97 639.23,313.04 639.67,313.1 640.11,313.16 640.55,313.22 640.99,313.28 641.42,313.33 641.86,313.38 642.3,313.42 642.74,313.46 643.18,313.5 643.62,313.54 644.06,313.57 644.5,313.6 644.94,313.63 645.38,313.66 645.82,313.68 646.26,313.7 646.7,313.72 647.13,313.74 647.57,313.76 648.01,313.78 648.45,313.79 648.89,313.81 649.33,313.82 649.77,313.83 650.21,313.84 650.65,313.85 651.09,313.86 651.53,313.87 651.97,313.88 652.41,313.88 652.85,313.89 653.28,313.89 653.72,313.9 654.16,313.9 654.6,313.91 655.04,313.91 655.48,313.92 655.92,313.92 656.36,313.92 656.8,313.92 657.24,313.93 657.68,313.93 658.12,313.93 658.56,313.93 658.99,313.94 659.43,313.94 659.87,313.94 660.31,313.94 660.75,313.94 661.19,313.94 661.63,313.94 662.07,313.94 662.51,313.94 662.95,313.95 663.39,313.95 663.83,313.95 664.27,313.95 664.7,313.95 665.14,313.95 665.58,313.95 666.02,313.95 666.46,313.95 666.9,313.95 667.34,313.95 667.78,313.95 668.22,313.95 668.66,313.95 669.1,313.95 669.54,313.95 669.98,313.95 670.41,313.95 670.85,313.95 671.29,313.95 671.73,313.95 672.17,313.95 672.61,313.95 673.05,313.95 673.49,313.95 673.93,313.95 674.37,313.95 674.81,313.95 675.25,313.95 675.69,313.95 676.13,313.95 676.56,313.95 677,313.95 677.44,313.95 677.88,313.95 678.32,313.95 678.76,313.95 679.2,313.95" fill="none" stroke="#111" stroke-width="1.25" stroke-linejoin="round" /><polyline points="537.76,304.53 538.2,304.51 538.64,304.49 539.08,304.47 539.52,304.45 539.96,304.42 540.4,304.4 540.84,304.37 541.28,304.35 541.71,304.32 542.15,304.28 542.59,304.25 543.03,304.21 543.47,304.17 543.91,304.13 544.35,304.08 544.79,304.03 545.23,303.97 545.67,303.91 546.11,303.85 546.55,303.77 546.99,303.69 547.42,303.59 547.86,303.48 548.3,303.35 548.74,303.19 549.18,303 549.62,302.75 550.06,302.43 550.5,302.01 550.94,301.46 551.38,300.71 551.82,299.73 552.26,298.44 552.7,296.76 553.14,294.63 553.57,291.98 554.01,288.74 554.45,284.89 554.89,280.44 555.33,275.42 555.77,269.96 556.21,264.21 556.65,258.4 557.09,252.81 557.53,247.81 557.97,243.77 558.41,241.06 558.85,239.97 559.28,240.64 559.72,242.99 560.16,246.78 560.6,251.65 561.04,257.21 561.48,263.1 561.92,269.02 562.36,274.71 562.8,280 563.24,284.76 563.68,288.92 564.12,292.47 564.56,295.43 565,297.84 565.43,299.77 565.87,301.3 566.31,302.5 566.75,303.44 567.19,304.17 567.63,304.76 568.07,305.23 568.51,305.61 568.95,305.94 569.39,306.22 569.83,306.47 570.27,306.7 570.71,306.9 571.14,307.09 571.58,307.27 572.02,307.43 572.46,307.58 572.9,307.73 573.34,307.86 573.78,307.98 574.22,308.1 574.66,308.21 575.1,308.31 575.54,308.4 575.98,308.49 576.42,308.57 576.85,308.65 577.29,308.72 577.73,308.79 578.17,308.85 578.61,308.9 579.05,308.96 579.49,309.01 579.93,309.05" fill="none" stroke="#1f2cf6" stroke-width="1.3" stroke-linejoin="round" /><polyline points="593.99,309.15 594.42,309.13 594.86,309.11 595.3,309.09 595.74,309.07 596.18,309.05 596.62,309.03 597.06,309 597.5,308.98 597.94,308.95 598.38,308.93 598.82,308.9 599.26,308.87 599.7,308.83 600.14,308.8 600.57,308.76 601.01,308.73 601.45,308.69 601.89,308.65 602.33,308.6 602.77,308.55 603.21,308.5 603.65,308.45 604.09,308.39 604.53,308.33 604.97,308.27 605.41,308.2 605.85,308.13 606.28,308.05 606.72,307.96 607.16,307.87 607.6,307.77 608.04,307.66 608.48,307.53 608.92,307.39 609.36,307.24 609.8,307.05 610.24,306.84 610.68,306.59 611.12,306.29 611.56,305.93 611.99,305.5 612.43,304.97 612.87,304.32 613.31,303.54 613.75,302.58 614.19,301.42 614.63,300.02 615.07,298.36 615.51,296.38 615.95,294.05 616.39,291.35 616.83,288.25 617.27,284.72 617.7,280.76 618.14,276.38 618.58,271.6 619.02,266.45 619.46,260.99 619.9,255.32 620.34,249.51 620.78,243.71 621.22,238.05 621.66,232.7 622.1,227.84 622.54,223.65 622.98,220.33 623.42,218.04 623.85,216.91 624.29,217 624.73,218.31 625.17,220.77 625.61,224.25 626.05,228.58 626.49,233.57 626.93,239.04 627.37,244.81 627.81,250.71 628.25,256.6 628.69,262.36 629.13,267.89 629.56,273.11 630,277.96 630.44,282.41 630.88,286.44 631.32,290.04 631.76,293.21 632.2,295.99 632.64,298.39 633.08,300.45 633.52,302.2 633.96,303.68 634.4,304.92 634.84,305.96 635.28,306.83 635.71,307.57 636.15,308.18 636.59,308.7 637.03,309.14 637.47,309.52 637.91,309.85 638.35,310.14 638.79,310.39 639.23,310.62 639.67,310.82 640.11,311.01 640.55,311.18 640.99,311.34 641.42,311.48 641.86,311.61 642.3,311.74 642.74,311.85 643.18,311.96 643.62,312.06 644.06,312.16 644.5,312.25 644.94,312.33 645.38,312.41 645.82,312.48 646.26,312.55 646.7,312.61 647.13,312.67 647.57,312.72 648.01,312.78 648.45,312.83 648.89,312.87 649.33,312.92 649.77,312.96 650.21,313 650.65,313.03 651.09,313.07 651.53,313.1 651.97,313.13 652.41,313.16 652.85,313.19 653.28,313.21 653.72,313.24 654.16,313.26" fill="none" stroke="#a8262a" stroke-width="1.3" stroke-linejoin="round" /></g><rect x="503.5" y="188.1" width="175.7" height="138.3" fill="none" stroke="#000" stroke-width="1.4" /><line x1="501.1" y1="326.4" x2="503.5" y2="326.4" stroke="#000" stroke-width="1.1" /><line x1="679.2" y1="326.4" x2="681.2" y2="326.4" stroke="#000" stroke-width="1" /><text x="500.9" y="328.5" font-size="5.9" font-family='"Liberation Sans", sans-serif' font-weight="bold" text-anchor="end" textLength="13.8" lengthAdjust="spacingAndGlyphs" >0E+0</text><line x1="502.1" y1="309.11" x2="503.5" y2="309.11" stroke="#000" stroke-width="0.9" /><line x1="679.2" y1="309.11" x2="680.4" y2="309.11" stroke="#000" stroke-width="0.9" /><line x1="501.1" y1="291.82" x2="503.5" y2="291.82" stroke="#000" stroke-width="1.1" /><line x1="679.2" y1="291.82" x2="681.2" y2="291.82" stroke="#000" stroke-width="1" /><text x="500.9" y="293.93" font-size="5.9" font-family='"Liberation Sans", sans-serif' font-weight="bold" text-anchor="end" textLength="13.8" lengthAdjust="spacingAndGlyphs" >1E+4</text><line x1="502.1" y1="274.54" x2="503.5" y2="274.54" stroke="#000" stroke-width="0.9" /><line x1="679.2" y1="274.54" x2="680.4" y2="274.54" stroke="#000" stroke-width="0.9" /><line x1="501.1" y1="257.25" x2="503.5" y2="257.25" stroke="#000" stroke-width="1.1" /><line x1="679.2" y1="257.25" x2="681.2" y2="257.25" stroke="#000" stroke-width="1" /><text x="500.9" y="259.35" font-size="5.9" font-family='"Liberation Sans", sans-serif' font-weight="bold" text-anchor="end" textLength="13.8" lengthAdjust="spacingAndGlyphs" >2E+4</text><line x1="502.1" y1="239.96" x2="503.5" y2="239.96" stroke="#000" stroke-width="0.9" /><line x1="679.2" y1="239.96" x2="680.4" y2="239.96" stroke="#000" stroke-width="0.9" /><line x1="501.1" y1="222.67" x2="503.5" y2="222.67" stroke="#000" stroke-width="1.1" /><line x1="679.2" y1="222.67" x2="681.2" y2="222.67" stroke="#000" stroke-width="1" /><text x="500.9" y="224.77" font-size="5.9" font-family='"Liberation Sans", sans-serif' font-weight="bold" text-anchor="end" textLength="13.8" lengthAdjust="spacingAndGlyphs" >3E+4</text><line x1="502.1" y1="205.39" x2="503.5" y2="205.39" stroke="#000" stroke-width="0.9" /><line x1="679.2" y1="205.39" x2="680.4" y2="205.39" stroke="#000" stroke-width="0.9" /><line x1="501.1" y1="188.1" x2="503.5" y2="188.1" stroke="#000" stroke-width="1.1" /><line x1="679.2" y1="188.1" x2="681.2" y2="188.1" stroke="#000" stroke-width="1" /><text x="500.9" y="190.2" font-size="5.9" font-family='"Liberation Sans", sans-serif' font-weight="bold" text-anchor="end" textLength="13.8" lengthAdjust="spacingAndGlyphs" >4E+4</text><line x1="517.02" y1="326.4" x2="517.02" y2="328.8" stroke="#000" stroke-width="1.1" /><text x="517.02" y="336.9" font-size="7.6" font-family='"Liberation Sans", sans-serif' font-weight="bold" text-anchor="middle" >146</text><line x1="530.53" y1="326.4" x2="530.53" y2="327.8" stroke="#000" stroke-width="0.9" /><line x1="544.05" y1="326.4" x2="544.05" y2="328.8" stroke="#000" stroke-width="1.1" /><text x="544.05" y="336.9" font-size="7.6" font-family='"Liberation Sans", sans-serif' font-weight="bold" text-anchor="middle" >144</text><line x1="557.56" y1="326.4" x2="557.56" y2="327.8" stroke="#000" stroke-width="0.9" /><line x1="571.08" y1="326.4" x2="571.08" y2="328.8" stroke="#000" stroke-width="1.1" /><text x="571.08" y="336.9" font-size="7.6" font-family='"Liberation Sans", sans-serif' font-weight="bold" text-anchor="middle" >142</text><line x1="584.59" y1="326.4" x2="584.59" y2="327.8" stroke="#000" stroke-width="0.9" /><line x1="598.11" y1="326.4" x2="598.11" y2="328.8" stroke="#000" stroke-width="1.1" /><text x="598.11" y="336.9" font-size="7.6" font-family='"Liberation Sans", sans-serif' font-weight="bold" text-anchor="middle" >140</text><line x1="611.62" y1="326.4" x2="611.62" y2="327.8" stroke="#000" stroke-width="0.9" /><line x1="625.14" y1="326.4" x2="625.14" y2="328.8" stroke="#000" stroke-width="1.1" /><text x="625.14" y="336.9" font-size="7.6" font-family='"Liberation Sans", sans-serif' font-weight="bold" text-anchor="middle" >138</text><line x1="638.65" y1="326.4" x2="638.65" y2="327.8" stroke="#000" stroke-width="0.9" /><line x1="652.17" y1="326.4" x2="652.17" y2="328.8" stroke="#000" stroke-width="1.1" /><text x="652.17" y="336.9" font-size="7.6" font-family='"Liberation Sans", sans-serif' font-weight="bold" text-anchor="middle" >136</text><line x1="665.68" y1="326.4" x2="665.68" y2="327.8" stroke="#000" stroke-width="0.9" /><line x1="679.2" y1="326.4" x2="679.2" y2="328.8" stroke="#000" stroke-width="1.1" /><text x="679.2" y="336.9" font-size="7.6" font-family='"Liberation Sans", sans-serif' font-weight="bold" text-anchor="middle" >134</text><line x1="503.5" y1="326.4" x2="503.5" y2="327.8" stroke="#000" stroke-width="0.9" /><line x1="507.7" y1="196.7" x2="522" y2="196.7" stroke="#a0a0a0" stroke-width="0.8" /><text x="524.1" y="198.9" font-size="6.3" font-family='"Liberation Sans", sans-serif' font-weight="bold" fill="#111">Raw Data</text><line x1="507.7" y1="205.5" x2="522" y2="205.5" stroke="#b03a3a" stroke-width="1.5" /><text x="524.1" y="207.7" font-size="6.3" font-family='"Liberation Sans", sans-serif' font-weight="bold" fill="#111">Pb 4<tspan font-style="italic">f</tspan><tspan font-size="4.6" dy="1.6">5/2</tspan></text><line x1="507.7" y1="214.9" x2="522" y2="214.9" stroke="#2436f6" stroke-width="1.5" /><text x="524.1" y="217.1" font-size="6.3" font-family='"Liberation Sans", sans-serif' font-weight="bold" fill="#111">Pb 4<tspan font-style="italic">f</tspan><tspan font-size="4.6" dy="1.6">7/2</tspan></text><line x1="507.7" y1="224.3" x2="522" y2="224.3" stroke="#111" stroke-width="1.3" /><text x="524.1" y="226.5" font-size="6.3" font-family='"Liberation Sans", sans-serif' font-weight="bold" fill="#111">Background</text><text x="563.5" y="239" font-size="7" font-family='"Liberation Sans", sans-serif' font-weight="bold" fill="#111">Pb 4<tspan font-style="italic">f</tspan><tspan font-size="4.6" dy="1.6">7/2</tspan></text><text x="620" y="213.3" font-size="7" font-family='"Liberation Sans", sans-serif' font-weight="bold" fill="#111">Pb 4<tspan font-style="italic">f</tspan><tspan font-size="4.6" dy="1.6">5/2</tspan></text><text x="638.6" y="203.7" font-size="13.3" font-family='"Liberation Mono", monospace' font-weight="bold" fill="#c8141e" textLength="37.6" lengthAdjust="spacingAndGlyphs" >Target</text><text x="474.6" y="18.6" font-size="14.5" font-family='"Liberation Sans", sans-serif' font-weight="bold" >e</text><text x="475.3" y="192.2" font-size="14.5" font-family='"Liberation Sans", sans-serif' font-weight="bold" >f</text><text x="483.5" y="91" font-size="10.4" font-family='"Liberation Sans", sans-serif' font-weight="bold" text-anchor="middle" textLength="102" lengthAdjust="spacingAndGlyphs" transform="rotate(-90 483.5 91)" >Intensity / arb. units</text><text x="483.5" y="268" font-size="10.4" font-family='"Liberation Sans", sans-serif' font-weight="bold" text-anchor="middle" textLength="102" lengthAdjust="spacingAndGlyphs" transform="rotate(-90 483.5 268)" >Intensity / arb. units</text><text x="581.3" y="172.2" font-size="11.3" font-family='"Liberation Sans", sans-serif' font-weight="bold" text-anchor="middle" textLength="103" lengthAdjust="spacingAndGlyphs" >Binding Energy (eV)</text><text x="581.3" y="347.6" font-size="11.3" font-family='"Liberation Sans", sans-serif' font-weight="bold" text-anchor="middle" textLength="103" lengthAdjust="spacingAndGlyphs" >Binding Energy (eV)</text><g clip-path="url(#cpg)"><rect x="34" y="364.5" width="211.6" height="129.3" fill="url(#rgg)" stroke="none" stroke-width="1" /><path d="M102.54,493.5 A36.96,36.59 0 0 1 176.46,493.5" fill="none" stroke="#22c468" stroke-width="2.4" opacity="0.75" filter="url(#bl1)"/><path d="M99.6,493.5 A39.9,39.5 0 0 1 179.4,493.5" fill="none" stroke="#22c864" stroke-width="4.2" opacity="0.85" filter="url(#bl1)"/><path d="M82.8,493.5 A56.7,56.13 0 0 1 196.2,493.5" fill="none" stroke="#22c864" stroke-width="3.4" opacity="0.8" filter="url(#bl1)"/><path d="M74.4,493.5 A65.1,64.45 0 0 1 204.6,493.5" fill="none" stroke="#22c468" stroke-width="2.4" opacity="0.75" filter="url(#bl1)"/><path d="M68.94,493.5 A70.56,69.85 0 0 1 210.06,493.5" fill="none" stroke="#22c864" stroke-width="3.4" opacity="0.8" filter="url(#bl1)"/><path d="M65.58,493.5 A73.92,73.18 0 0 1 213.42,493.5" fill="none" stroke="#22c468" stroke-width="2.4" opacity="0.75" filter="url(#bl1)"/><path d="M62.22,493.5 A77.28,76.51 0 0 1 216.78,493.5" fill="none" stroke="#22c864" stroke-width="4.2" opacity="0.85" filter="url(#bl1)"/><path d="M57.6,493.5 A81.9,81.08 0 0 1 221.4,493.5" fill="none" stroke="#22c864" stroke-width="5" opacity="0.9" filter="url(#bl1)"/><path d="M53.4,493.5 A86.1,85.24 0 0 1 225.6,493.5" fill="none" stroke="#22c468" stroke-width="2.4" opacity="0.75" filter="url(#bl1)"/><path d="M47.94,493.5 A91.56,90.64 0 0 1 231.06,493.5" fill="none" stroke="#22c864" stroke-width="5" opacity="0.9" filter="url(#bl1)"/><path d="M43.74,493.5 A95.76,94.8 0 0 1 235.26,493.5" fill="none" stroke="#22c864" stroke-width="3.4" opacity="0.8" filter="url(#bl1)"/><path d="M39.96,493.5 A99.54,98.54 0 0 1 239.04,493.5" fill="none" stroke="#22c864" stroke-width="4.2" opacity="0.85" filter="url(#bl1)"/><path d="M34.5,493.5 A105,103.95 0 0 1 244.5,493.5" fill="none" stroke="#22c468" stroke-width="2.4" opacity="0.75" filter="url(#bl1)"/><path d="M29.46,493.5 A110.04,108.94 0 0 1 249.54,493.5" fill="none" stroke="#22c864" stroke-width="3.4" opacity="0.8" filter="url(#bl1)"/><path d="M24,493.5 A115.5,114.34 0 0 1 255,493.5" fill="none" stroke="#22c468" stroke-width="2.4" opacity="0.75" filter="url(#bl1)"/><path d="M19.38,493.5 A120.12,118.92 0 0 1 259.62,493.5" fill="none" stroke="#22c864" stroke-width="4.2" opacity="0.85" filter="url(#bl1)"/><path d="M13.5,493.5 A126,124.74 0 0 1 265.5,493.5" fill="none" stroke="#22c864" stroke-width="3.4" opacity="0.8" filter="url(#bl1)"/><path d="M7.2,493.5 A132.3,130.98 0 0 1 271.8,493.5" fill="none" stroke="#22c468" stroke-width="2.4" opacity="0.75" filter="url(#bl1)"/><path d="M0.06,493.5 A139.44,138.05 0 0 1 278.94,493.5" fill="none" stroke="#22c864" stroke-width="3.4" opacity="0.8" filter="url(#bl1)"/><path d="M-6.66,493.5 A146.16,144.7 0 0 1 285.66,493.5" fill="none" stroke="#22c864" stroke-width="4.2" opacity="0.85" filter="url(#bl1)"/><rect x="34" y="446.42" width="211.6" height="40.66" fill="url(#bog)" stroke="none" stroke-width="1" /><path d="M102.54,493.5 A36.96,36.59 0 0 1 176.46,493.5" fill="none" stroke="#44d070" stroke-width="0.7" opacity="1"/><path d="M99.6,493.5 A39.9,39.5 0 0 1 179.4,493.5" fill="none" stroke="#dcee88" stroke-width="1.1" opacity="1"/><path d="M82.8,493.5 A56.7,56.13 0 0 1 196.2,493.5" fill="none" stroke="#7ede84" stroke-width="0.9" opacity="1"/><path d="M74.4,493.5 A65.1,64.45 0 0 1 204.6,493.5" fill="none" stroke="#44d070" stroke-width="0.7" opacity="1"/><path d="M68.94,493.5 A70.56,69.85 0 0 1 210.06,493.5" fill="none" stroke="#7ede84" stroke-width="0.9" opacity="1"/><path d="M65.58,493.5 A73.92,73.18 0 0 1 213.42,493.5" fill="none" stroke="#44d070" stroke-width="0.7" opacity="1"/><path d="M62.22,493.5 A77.28,76.51 0 0 1 216.78,493.5" fill="none" stroke="#dcee88" stroke-width="1.1" opacity="1"/><path d="M57.6,493.5 A81.9,81.08 0 0 1 221.4,493.5" fill="none" stroke="#e0ec8c" stroke-width="1.7" opacity="1"/><path d="M57.6,493.5 A81.9,81.08 0 0 1 221.4,493.5" fill="none" stroke="#a88a72" stroke-width="0.85" opacity="1"/><path d="M53.4,493.5 A86.1,85.24 0 0 1 225.6,493.5" fill="none" stroke="#44d070" stroke-width="0.7" opacity="1"/><path d="M47.94,493.5 A91.56,90.64 0 0 1 231.06,493.5" fill="none" stroke="#e0ec8c" stroke-width="1.7" opacity="1"/><path d="M47.94,493.5 A91.56,90.64 0 0 1 231.06,493.5" fill="none" stroke="#a88a72" stroke-width="0.85" opacity="1"/><path d="M43.74,493.5 A95.76,94.8 0 0 1 235.26,493.5" fill="none" stroke="#7ede84" stroke-width="0.9" opacity="1"/><path d="M39.96,493.5 A99.54,98.54 0 0 1 239.04,493.5" fill="none" stroke="#dcee88" stroke-width="1.1" opacity="1"/><path d="M34.5,493.5 A105,103.95 0 0 1 244.5,493.5" fill="none" stroke="#44d070" stroke-width="0.7" opacity="1"/><path d="M29.46,493.5 A110.04,108.94 0 0 1 249.54,493.5" fill="none" stroke="#7ede84" stroke-width="0.9" opacity="1"/><path d="M24,493.5 A115.5,114.34 0 0 1 255,493.5" fill="none" stroke="#44d070" stroke-width="0.7" opacity="1"/><path d="M19.38,493.5 A120.12,118.92 0 0 1 259.62,493.5" fill="none" stroke="#dcee88" stroke-width="1.1" opacity="1"/><path d="M13.5,493.5 A126,124.74 0 0 1 265.5,493.5" fill="none" stroke="#7ede84" stroke-width="0.9" opacity="1"/><path d="M7.2,493.5 A132.3,130.98 0 0 1 271.8,493.5" fill="none" stroke="#44d070" stroke-width="0.7" opacity="1"/><path d="M0.06,493.5 A139.44,138.05 0 0 1 278.94,493.5" fill="none" stroke="#7ede84" stroke-width="0.9" opacity="1"/><path d="M-6.66,493.5 A146.16,144.7 0 0 1 285.66,493.5" fill="none" stroke="#dcee88" stroke-width="1.1" opacity="1"/><rect x="34" y="485.2" width="211.6" height="2.6" fill="#2a50c0" stroke="none" stroke-width="1" opacity="0.55"/><rect x="34" y="487.6" width="211.6" height="7" fill="#2c3a9c" stroke="none" stroke-width="1" opacity="0.95"/><ellipse cx="139.5" cy="493.5" rx="6.5" ry="9.3" fill="#302c88" filter="url(#bl1)"/></g><rect x="214" y="364.5" width="31.6" height="55.3" fill="#fff" stroke="none" stroke-width="1" /><rect x="215" y="372" width="9" height="40.8" fill="url(#cbgg)" stroke="none" stroke-width="1" /><line x1="224" y1="372" x2="228.8" y2="372" stroke="#222" stroke-width="0.9" /><text x="231.8" y="376.4" font-size="8.2" font-family='"Liberation Serif", serif' font-weight="bold" fill="#111">10<tspan font-size="5.8" dy="-4">5</tspan></text><line x1="224" y1="392.4" x2="228.8" y2="392.4" stroke="#222" stroke-width="0.9" /><text x="231.8" y="396.8" font-size="8.2" font-family='"Liberation Serif", serif' font-weight="bold" fill="#111">10<tspan font-size="5.8" dy="-4">4</tspan></text><line x1="224" y1="412.8" x2="228.8" y2="412.8" stroke="#222" stroke-width="0.9" /><text x="231.8" y="417.2" font-size="8.2" font-family='"Liberation Serif", serif' font-weight="bold" fill="#111">10<tspan font-size="5.8" dy="-4">3</tspan></text><rect x="34" y="364.5" width="211.6" height="129.3" fill="none" stroke="#6a6a6a" stroke-width="0.8" /><text x="35.6" y="378.7" font-size="13.3" font-family='"Liberation Mono", monospace' font-weight="bold" fill="#fff" textLength="42.8" lengthAdjust="spacingAndGlyphs" >Control</text><line x1="29.5" y1="493.5" x2="34" y2="493.5" stroke="#444" stroke-width="0.8" /><text x="28" y="496.3" font-size="8" font-family='"Liberation Serif", serif' font-weight="bold" text-anchor="end" textLength="9.8" lengthAdjust="spacingAndGlyphs" >0.0</text><line x1="29.5" y1="472.1" x2="34" y2="472.1" stroke="#444" stroke-width="0.8" /><text x="28" y="474.9" font-size="8" font-family='"Liberation Serif", serif' font-weight="bold" text-anchor="end" textLength="9.8" lengthAdjust="spacingAndGlyphs" >0.5</text><line x1="29.5" y1="450.7" x2="34" y2="450.7" stroke="#444" stroke-width="0.8" /><text x="28" y="453.5" font-size="8" font-family='"Liberation Serif", serif' font-weight="bold" text-anchor="end" textLength="9.8" lengthAdjust="spacingAndGlyphs" >1.0</text><line x1="29.5" y1="429.3" x2="34" y2="429.3" stroke="#444" stroke-width="0.8" /><text x="28" y="432.1" font-size="8" font-family='"Liberation Serif", serif' font-weight="bold" text-anchor="end" textLength="9.8" lengthAdjust="spacingAndGlyphs" >1.5</text><line x1="29.5" y1="407.9" x2="34" y2="407.9" stroke="#444" stroke-width="0.8" /><text x="28" y="410.7" font-size="8" font-family='"Liberation Serif", serif' font-weight="bold" text-anchor="end" textLength="9.8" lengthAdjust="spacingAndGlyphs" >2.0</text><line x1="29.5" y1="386.5" x2="34" y2="386.5" stroke="#444" stroke-width="0.8" /><text x="28" y="389.3" font-size="8" font-family='"Liberation Serif", serif' font-weight="bold" text-anchor="end" textLength="9.8" lengthAdjust="spacingAndGlyphs" >2.5</text><line x1="29.5" y1="365.1" x2="34" y2="365.1" stroke="#444" stroke-width="0.8" /><text x="28" y="367.9" font-size="8" font-family='"Liberation Serif", serif' font-weight="bold" text-anchor="end" textLength="9.8" lengthAdjust="spacingAndGlyphs" >3.0</text><line x1="55.5" y1="493.8" x2="55.5" y2="497.3" stroke="#444" stroke-width="0.8" /><text x="55.5" y="508.8" font-size="7.8" font-family='"Liberation Serif", serif' font-weight="bold" text-anchor="middle" >-2</text><line x1="97.5" y1="493.8" x2="97.5" y2="497.3" stroke="#444" stroke-width="0.8" /><text x="97.5" y="508.8" font-size="7.8" font-family='"Liberation Serif", serif' font-weight="bold" text-anchor="middle" >-1</text><line x1="139.5" y1="493.8" x2="139.5" y2="497.3" stroke="#444" stroke-width="0.8" /><text x="139.5" y="508.8" font-size="7.8" font-family='"Liberation Serif", serif' font-weight="bold" text-anchor="middle" >0</text><line x1="181.5" y1="493.8" x2="181.5" y2="497.3" stroke="#444" stroke-width="0.8" /><text x="181.5" y="508.8" font-size="7.8" font-family='"Liberation Serif", serif' font-weight="bold" text-anchor="middle" >1</text><line x1="223.5" y1="493.8" x2="223.5" y2="497.3" stroke="#444" stroke-width="0.8" /><text x="223.5" y="508.8" font-size="7.8" font-family='"Liberation Serif", serif' font-weight="bold" text-anchor="middle" >2</text><g clip-path="url(#cph)"><rect x="35.8" y="534.5" width="206.8" height="125.4" fill="url(#rgh)" stroke="none" stroke-width="1" /><path d="M102.41,659.5 A36.49,36.49 0 0 1 175.39,659.5" fill="none" stroke="#30a8f0" stroke-width="1.36" opacity="0.6" filter="url(#bl1)"/><path d="M99.95,659.5 A38.95,38.95 0 0 1 177.85,659.5" fill="none" stroke="#22c864" stroke-width="2.6" opacity="0.85" filter="url(#bl1)"/><path d="M90.52,659.5 A48.38,48.38 0 0 1 187.28,659.5" fill="none" stroke="#30a8f0" stroke-width="1.36" opacity="0.6" filter="url(#bl1)"/><path d="M85.19,659.5 A53.71,53.71 0 0 1 192.61,659.5" fill="none" stroke="#22c864" stroke-width="2.11" opacity="0.8" filter="url(#bl1)"/><path d="M81.5,659.5 A57.4,57.4 0 0 1 196.3,659.5" fill="none" stroke="#30a8f0" stroke-width="1.36" opacity="0.6" filter="url(#bl1)"/><path d="M71.66,659.5 A67.24,67.24 0 0 1 206.14,659.5" fill="none" stroke="#22c870" stroke-width="1.98" opacity="0.85" filter="url(#bl1)"/><path d="M64.28,659.5 A74.62,74.62 0 0 1 213.52,659.5" fill="none" stroke="#22c864" stroke-width="2.6" opacity="0.85" filter="url(#bl1)"/><path d="M59.77,659.5 A79.13,79.13 0 0 1 218.03,659.5" fill="none" stroke="#22c864" stroke-width="2.6" opacity="0.85" filter="url(#bl1)"/><path d="M50.75,659.5 A88.15,88.15 0 0 1 227.05,659.5" fill="none" stroke="#22c870" stroke-width="1.98" opacity="0.85" filter="url(#bl1)"/><path d="M44.19,659.5 A94.71,94.71 0 0 1 233.61,659.5" fill="none" stroke="#22c870" stroke-width="1.98" opacity="0.85" filter="url(#bl1)"/><path d="M41.32,659.5 A97.58,97.58 0 0 1 236.48,659.5" fill="none" stroke="#22c870" stroke-width="1.98" opacity="0.85" filter="url(#bl1)"/><path d="M36.4,659.5 A102.5,102.5 0 0 1 241.4,659.5" fill="none" stroke="#30a8f0" stroke-width="1.36" opacity="0.6" filter="url(#bl1)"/><path d="M29.43,659.5 A109.47,109.47 0 0 1 248.37,659.5" fill="none" stroke="#22c870" stroke-width="1.98" opacity="0.85" filter="url(#bl1)"/><path d="M22.46,659.5 A116.44,116.44 0 0 1 255.34,659.5" fill="none" stroke="#22c870" stroke-width="1.98" opacity="0.85" filter="url(#bl1)"/><path d="M17.13,659.5 A121.77,121.77 0 0 1 260.67,659.5" fill="none" stroke="#22c870" stroke-width="1.98" opacity="0.85" filter="url(#bl1)"/><path d="M9.75,659.5 A129.15,129.15 0 0 1 268.05,659.5" fill="none" stroke="#22c468" stroke-width="1.49" opacity="0.75" filter="url(#bl1)"/><path d="M1.55,659.5 A137.35,137.35 0 0 1 276.25,659.5" fill="none" stroke="#22c870" stroke-width="1.98" opacity="0.85" filter="url(#bl1)"/><path d="M-4.6,659.5 A143.5,143.5 0 0 1 282.4,659.5" fill="none" stroke="#22c870" stroke-width="1.98" opacity="0.85" filter="url(#bl1)"/><rect x="35.8" y="613.74" width="206.8" height="39.52" fill="url(#boh)" stroke="none" stroke-width="1" /><path d="M102.41,659.5 A36.49,36.49 0 0 1 175.39,659.5" fill="none" stroke="#40b4f4" stroke-width="0.8" opacity="0.8"/><path d="M99.95,659.5 A38.95,38.95 0 0 1 177.85,659.5" fill="none" stroke="#dcee88" stroke-width="1.1" opacity="1"/><path d="M90.52,659.5 A48.38,48.38 0 0 1 187.28,659.5" fill="none" stroke="#40b4f4" stroke-width="0.8" opacity="0.8"/><path d="M85.19,659.5 A53.71,53.71 0 0 1 192.61,659.5" fill="none" stroke="#7ede84" stroke-width="0.9" opacity="1"/><path d="M81.5,659.5 A57.4,57.4 0 0 1 196.3,659.5" fill="none" stroke="#40b4f4" stroke-width="0.8" opacity="0.8"/><path d="M71.66,659.5 A67.24,67.24 0 0 1 206.14,659.5" fill="none" stroke="#8ce488" stroke-width="0.8" opacity="1"/><path d="M64.28,659.5 A74.62,74.62 0 0 1 213.52,659.5" fill="none" stroke="#dcee88" stroke-width="1.1" opacity="1"/><path d="M59.77,659.5 A79.13,79.13 0 0 1 218.03,659.5" fill="none" stroke="#dcee88" stroke-width="1.1" opacity="1"/><path d="M50.75,659.5 A88.15,88.15 0 0 1 227.05,659.5" fill="none" stroke="#8ce488" stroke-width="0.8" opacity="1"/><path d="M44.19,659.5 A94.71,94.71 0 0 1 233.61,659.5" fill="none" stroke="#8ce488" stroke-width="0.8" opacity="1"/><path d="M41.32,659.5 A97.58,97.58 0 0 1 236.48,659.5" fill="none" stroke="#8ce488" stroke-width="0.8" opacity="1"/><path d="M36.4,659.5 A102.5,102.5 0 0 1 241.4,659.5" fill="none" stroke="#40b4f4" stroke-width="0.8" opacity="0.8"/><path d="M29.43,659.5 A109.47,109.47 0 0 1 248.37,659.5" fill="none" stroke="#8ce488" stroke-width="0.8" opacity="1"/><path d="M22.46,659.5 A116.44,116.44 0 0 1 255.34,659.5" fill="none" stroke="#8ce488" stroke-width="0.8" opacity="1"/><path d="M17.13,659.5 A121.77,121.77 0 0 1 260.67,659.5" fill="none" stroke="#8ce488" stroke-width="0.8" opacity="1"/><path d="M9.75,659.5 A129.15,129.15 0 0 1 268.05,659.5" fill="none" stroke="#44d070" stroke-width="0.7" opacity="1"/><path d="M1.55,659.5 A137.35,137.35 0 0 1 276.25,659.5" fill="none" stroke="#8ce488" stroke-width="0.8" opacity="1"/><path d="M-4.6,659.5 A143.5,143.5 0 0 1 282.4,659.5" fill="none" stroke="#8ce488" stroke-width="0.8" opacity="1"/><rect x="35.8" y="651" width="206.8" height="3" fill="#2a50c0" stroke="none" stroke-width="1" opacity="0.5"/><rect x="35.8" y="654" width="206.8" height="7" fill="#2c3a9c" stroke="none" stroke-width="1" opacity="0.95"/><ellipse cx="138.9" cy="659.5" rx="6.5" ry="9.3" fill="#302c88" filter="url(#bl1)"/></g><rect x="211.2" y="534.5" width="31.4" height="53.4" fill="#fff" stroke="none" stroke-width="1" /><rect x="212" y="541" width="9" height="40.3" fill="url(#cbgh)" stroke="none" stroke-width="1" /><line x1="221" y1="541" x2="225.8" y2="541" stroke="#222" stroke-width="0.9" /><text x="228.8" y="545.4" font-size="8.2" font-family='"Liberation Serif", serif' font-weight="bold" fill="#111">10<tspan font-size="5.8" dy="-4">5</tspan></text><line x1="221" y1="561.15" x2="225.8" y2="561.15" stroke="#222" stroke-width="0.9" /><text x="228.8" y="565.55" font-size="8.2" font-family='"Liberation Serif", serif' font-weight="bold" fill="#111">10<tspan font-size="5.8" dy="-4">4</tspan></text><line x1="221" y1="581.3" x2="225.8" y2="581.3" stroke="#222" stroke-width="0.9" /><text x="228.8" y="585.7" font-size="8.2" font-family='"Liberation Serif", serif' font-weight="bold" fill="#111">10<tspan font-size="5.8" dy="-4">3</tspan></text><rect x="35.8" y="534.5" width="206.8" height="125.4" fill="none" stroke="#6a6a6a" stroke-width="0.8" /><text x="40.4" y="550.9" font-size="13.3" font-family='"Liberation Mono", monospace' font-weight="bold" fill="#fff" textLength="37" lengthAdjust="spacingAndGlyphs" >Target</text><line x1="31.3" y1="659.5" x2="35.8" y2="659.5" stroke="#444" stroke-width="0.8" /><text x="29.8" y="662.3" font-size="8" font-family='"Liberation Serif", serif' font-weight="bold" text-anchor="end" textLength="9.8" lengthAdjust="spacingAndGlyphs" >0.0</text><line x1="31.3" y1="638.7" x2="35.8" y2="638.7" stroke="#444" stroke-width="0.8" /><text x="29.8" y="641.5" font-size="8" font-family='"Liberation Serif", serif' font-weight="bold" text-anchor="end" textLength="9.8" lengthAdjust="spacingAndGlyphs" >0.5</text><line x1="31.3" y1="617.9" x2="35.8" y2="617.9" stroke="#444" stroke-width="0.8" /><text x="29.8" y="620.7" font-size="8" font-family='"Liberation Serif", serif' font-weight="bold" text-anchor="end" textLength="9.8" lengthAdjust="spacingAndGlyphs" >1.0</text><line x1="31.3" y1="597.1" x2="35.8" y2="597.1" stroke="#444" stroke-width="0.8" /><text x="29.8" y="599.9" font-size="8" font-family='"Liberation Serif", serif' font-weight="bold" text-anchor="end" textLength="9.8" lengthAdjust="spacingAndGlyphs" >1.5</text><line x1="31.3" y1="576.3" x2="35.8" y2="576.3" stroke="#444" stroke-width="0.8" /><text x="29.8" y="579.1" font-size="8" font-family='"Liberation Serif", serif' font-weight="bold" text-anchor="end" textLength="9.8" lengthAdjust="spacingAndGlyphs" >2.0</text><line x1="31.3" y1="555.5" x2="35.8" y2="555.5" stroke="#444" stroke-width="0.8" /><text x="29.8" y="558.3" font-size="8" font-family='"Liberation Serif", serif' font-weight="bold" text-anchor="end" textLength="9.8" lengthAdjust="spacingAndGlyphs" >2.5</text><line x1="31.3" y1="534.7" x2="35.8" y2="534.7" stroke="#444" stroke-width="0.8" /><text x="29.8" y="537.5" font-size="8" font-family='"Liberation Serif", serif' font-weight="bold" text-anchor="end" textLength="9.8" lengthAdjust="spacingAndGlyphs" >3.0</text><line x1="56.9" y1="659.9" x2="56.9" y2="663.4" stroke="#444" stroke-width="0.8" /><text x="56.9" y="674.9" font-size="7.8" font-family='"Liberation Serif", serif' font-weight="bold" text-anchor="middle" >-2</text><line x1="97.9" y1="659.9" x2="97.9" y2="663.4" stroke="#444" stroke-width="0.8" /><text x="97.9" y="674.9" font-size="7.8" font-family='"Liberation Serif", serif' font-weight="bold" text-anchor="middle" >-1</text><line x1="138.9" y1="659.9" x2="138.9" y2="663.4" stroke="#444" stroke-width="0.8" /><text x="138.9" y="674.9" font-size="7.8" font-family='"Liberation Serif", serif' font-weight="bold" text-anchor="middle" >0</text><line x1="179.9" y1="659.9" x2="179.9" y2="663.4" stroke="#444" stroke-width="0.8" /><text x="179.9" y="674.9" font-size="7.8" font-family='"Liberation Serif", serif' font-weight="bold" text-anchor="middle" >1</text><line x1="220.9" y1="659.9" x2="220.9" y2="663.4" stroke="#444" stroke-width="0.8" /><text x="220.9" y="674.9" font-size="7.8" font-family='"Liberation Serif", serif' font-weight="bold" text-anchor="middle" >2</text><text x="139.5" y="388.3" font-size="5.6" font-family='"Liberation Sans", sans-serif' font-weight="bold" fill="#fff" text-anchor="middle"><tspan font-style="italic">α</tspan>−phase<tspan font-size="3.6" dy="1.4">(210)</tspan></text><line x1="141" y1="390.5" x2="141" y2="397.5" stroke="#fff" stroke-width="0.7" /><text x="141" y="406.9" font-size="5.6" font-family='"Liberation Sans", sans-serif' font-weight="bold" fill="#fff" text-anchor="middle"><tspan font-style="italic">α</tspan>−phase<tspan font-size="3.6" dy="1.4">(200)</tspan></text><line x1="126" y1="409.5" x2="120.5" y2="414" stroke="#fff" stroke-width="0.7" /><text x="143.5" y="450.5" font-size="5.6" font-family='"Liberation Sans", sans-serif' font-weight="bold" fill="#fff" text-anchor="middle"><tspan font-style="italic">α</tspan>−phase<tspan font-size="3.6" dy="1.4">(110)</tspan></text><text x="142.3" y="463.8" font-size="5.6" font-family='"Liberation Sans", sans-serif' font-weight="bold" fill="#fff" text-anchor="middle">PbI<tspan font-size="3.6" dy="1.4">2(001)</tspan></text><text x="134" y="481" font-size="5.6" font-family='"Liberation Sans", sans-serif' font-weight="bold" fill="#fff" text-anchor="middle"><tspan font-style="italic">δ</tspan>−phase</text><line x1="148" y1="479.6" x2="167.5" y2="476.5" stroke="#fff" stroke-width="0.7" /><text x="184.7" y="454.3" font-size="5.2" font-family='"Liberation Sans", sans-serif' font-weight="bold" fill="#fff" text-anchor="middle">FTO</text><line x1="186.5" y1="444" x2="186.5" y2="433.5" stroke="#fff" stroke-width="0.7" /><line x1="138.9" y1="659.5" x2="38.6" y2="588" stroke="#fff" stroke-width="0.7" stroke-dasharray="1.6 1.2"/><line x1="138.9" y1="659.5" x2="237.9" y2="589.6" stroke="#fff" stroke-width="0.7" stroke-dasharray="1.6 1.2"/><line x1="138.9" y1="659.5" x2="138.9" y2="536" stroke="#fff" stroke-width="0.7" stroke-dasharray="1.6 1.2"/><text x="126.5" y="643.6" font-size="5.0" font-family='"Liberation Sans", sans-serif' font-weight="bold" fill="#fff" text-anchor="middle"><tspan font-style="italic">δ</tspan>−phase</text><line x1="135" y1="641.8" x2="164" y2="638.5" stroke="#fff" stroke-width="0.6" /><text x="3.6" y="367.6" font-size="16.5" font-family='"Liberation Serif", serif' font-weight="bold" >g</text><text x="4.2" y="533.4" font-size="16.5" font-family='"Liberation Sans", sans-serif' font-weight="bold" >h</text><text transform="translate(13.9,429.5) rotate(-90)" font-size="12.8" font-family='"Liberation Serif", serif' font-weight="bold" text-anchor="middle"><tspan font-style="italic">q</tspan><tspan font-size="8.2" dy="2.2" font-family='"Liberation Sans", sans-serif'>z</tspan><tspan dy="-2.2"> (Å</tspan><tspan font-size="7.5" dy="-4.5">-1</tspan><tspan dy="4.5">)</tspan></text><text transform="translate(13.9,595.5) rotate(-90)" font-size="12.8" font-family='"Liberation Serif", serif' font-weight="bold" text-anchor="middle"><tspan font-style="italic">q</tspan><tspan font-size="8.2" dy="2.2" font-family='"Liberation Sans", sans-serif'>z</tspan><tspan dy="-2.2"> (Å</tspan><tspan font-size="7.5" dy="-4.5">-1</tspan><tspan dy="4.5">)</tspan></text><text x="140" y="522" font-size="11.6" font-family='"Liberation Serif", serif' font-weight="bold" text-anchor="middle"><tspan font-style="italic">q</tspan><tspan font-size="8" dy="2.2" font-family='"Liberation Sans", sans-serif'> xy</tspan><tspan dy="-2.2"> (Å</tspan><tspan font-size="7.5" dy="-4.5">-1</tspan><tspan dy="4.5">)</tspan></text><text x="140" y="688.5" font-size="11.6" font-family='"Liberation Serif", serif' font-weight="bold" text-anchor="middle"><tspan font-style="italic">q</tspan><tspan font-size="8" dy="2.2" font-family='"Liberation Sans", sans-serif'> xy</tspan><tspan dy="-2.2"> (Å</tspan><tspan font-size="7.5" dy="-4.5">-1</tspan><tspan dy="4.5">)</tspan></text><text x="158.6" y="360.6" font-size="9.2" font-family='"Liberation Mono", monospace' font-weight="bold" textLength="85.5" lengthAdjust="spacingAndGlyphs" >Intensity (arb.units)</text><text x="158.6" y="529.9" font-size="9.2" font-family='"Liberation Mono", monospace' font-weight="bold" textLength="85.5" lengthAdjust="spacingAndGlyphs" >Intensity (arb.units)</text><g clip-path="url(#cpi)"><rect x="288.9" y="358.3" width="172.7" height="136.3" fill="#ffff80" stroke="none" stroke-width="1" /><polygon points="296.77,494.6 297.06,476.68 297.34,472.74 297.63,451.1 297.92,462.53 298.21,466.21 298.49,467.55 298.78,467.13 299.07,460.37 299.36,453.93 299.65,452.54 299.93,456.59 300.22,453.92 300.51,438.73 300.8,443.03 301.08,452.23 301.37,438.38 301.66,438.29 301.95,427.25 302.24,437.07 302.52,440.86 302.81,440.56 303.1,429.53 303.39,432.2 303.68,435.9 303.96,428.46 304.25,422.58 304.54,431.1 304.83,425.21 305.11,418.74 305.4,428.42 305.69,425.65 305.98,410.3 306.27,424.77 306.55,415.34 306.84,414.9 307.13,414.82 307.42,417.88 307.71,418.89 307.99,417.58 308.28,415.29 308.57,420.83 308.86,417.71 309.14,416.8 309.43,414.11 309.72,416.28 310.01,412.25 310.3,396.91 310.58,410.28 310.87,413.52 311.16,408.89 311.45,402.31 311.73,402.53 312.02,406.31 312.31,408.09 312.6,398.92 312.89,403.23 313.17,404.33 313.46,401.81 313.75,393.61 314.04,408.12 314.33,408.15 314.61,404.06 314.9,406.88 315.19,404.84 315.48,403.33 315.76,398.27 316.05,383.48 316.34,400.73 316.63,383.29 316.92,399.56 317.2,398.8 317.49,397.52 317.78,395.45 318.07,401.83 318.35,396.9 318.64,400.55 318.93,378.36 319.22,394.3 319.51,386.99 319.79,385.36 320.08,385.26 320.37,393.23 320.66,384.93 320.95,390.73 321.23,388.05 321.52,394.58 321.81,388.86 322.1,387.7 322.38,384.1 322.67,380.41 322.96,387.81 323.25,382.37 323.54,379.46 323.82,389.54 324.11,377.53 324.4,380.17 324.69,387.1 324.98,376.72 325.26,383.8 325.55,380.02 325.84,376.34 326.13,379.25 326.41,384.99 326.7,387.88 326.99,378.68 327.28,388.65 327.57,388.09 327.85,383.78 328.14,383.03 328.43,384.98 328.72,379.35 329,381.77 329.29,393.24 329.58,392.16 329.87,384.11 330.16,392.75 330.44,378.61 330.73,397.14 331.02,398.65 331.31,380.16 331.6,388.61 331.88,382.29 332.17,392.9 332.46,394.58 332.75,399.47 333.03,398.65 333.32,403.3 333.61,411.05 333.9,398.72 334.19,405.08 334.47,402.69 334.76,408.53 335.05,413.98 335.34,414.21 335.62,403.28 335.91,413.88 336.2,417.23 336.49,407.43 336.78,399.93 337.06,416.29 337.35,405.03 337.64,400.5 337.93,419.13 338.22,412.51 338.5,420.31 338.79,416.06 339.08,414.43 339.37,415.39 339.65,421.49 339.94,414.03 340.23,414.97 340.52,417.52 340.81,409.78 341.09,417.23 341.38,411.99 341.67,410.41 341.96,418.43 342.25,419.66 342.53,421.45 342.82,419.92 343.11,421.79 343.4,421.34 343.68,421.43 343.97,424.17 344.26,423.92 344.55,423.54 344.84,425.02 345.12,420.38 345.41,424.35 345.7,407.01 345.99,421.07 346.27,422.61 346.56,415.9 346.85,424.82 347.14,405.73 347.43,420.16 347.71,422.44 348,423.68 348.29,414.37 348.58,419.79 348.87,426.1 349.15,423.74 349.44,413.84 349.73,421.76 350.02,413.72 350.3,418.96 350.59,404.05 350.88,412.58 351.17,425.7 351.46,413.07 351.74,420.59 352.03,409.13 352.32,413.3 352.61,417.3 352.89,419.45 353.18,414.43 353.47,418.5 353.76,415.92 354.05,409.6 354.33,403.58 354.62,411.82 354.91,421.26 355.2,417.51 355.49,418.16 355.77,418.19 356.06,421.11 356.35,403.24 356.64,416.51 356.92,413.43 357.21,411.42 357.5,414.08 357.79,412.9 358.08,400.2 358.36,411 358.65,409.22 358.94,396.13 359.23,403.74 359.52,417.62 359.8,416.36 360.09,416.95 360.38,403.41 360.67,402.42 360.95,402.05 361.24,406.83 361.53,409.28 361.82,411.68 362.11,400.86 362.39,405.69 362.68,413.55 362.97,389.45 363.26,413.79 363.54,411.42 363.83,389.71 364.12,407.3 364.41,401.07 364.7,398.35 364.98,411.79 365.27,398.36 365.56,403.97 365.85,399.59 366.14,409.74 366.42,410.89 366.71,404.32 367,410.35 367.29,405.32 367.57,403.46 367.86,404.38 368.15,404.13 368.44,386.56 368.73,407.03 369.01,403.54 369.3,398.27 369.59,400.69 369.88,399.23 370.16,402.06 370.45,408.44 370.74,397.92 371.03,402.48 371.32,405.53 371.6,406.65 371.89,399.94 372.18,405.48 372.47,402.83 372.76,402.48 373.04,403.22 373.33,401.88 373.62,401.36 373.91,408.43 374.19,403.22 374.48,386 374.77,408.33 375.06,396.18 375.35,402.28 375.63,396.98 375.92,402.18 376.21,411.11 376.5,400.83 376.79,408.52 377.07,395.57 377.36,404.93 377.65,406.81 377.94,404.78 378.22,411.84 378.51,402.45 378.8,411.42 379.09,400.9 379.38,402.23 379.66,412.95 379.95,404.2 380.24,407.6 380.53,405.24 380.81,400.63 381.1,408.53 381.39,395.5 381.68,398.08 381.97,409.26 382.25,414 382.54,411.25 382.83,411.96 383.12,412.18 383.41,411.01 383.69,402.53 383.98,411.42 384.27,411.33 384.56,410.9 384.84,398 385.13,407.14 385.42,412.17 385.71,402.26 386,418.13 386.28,413.65 386.57,418.96 386.86,412.56 387.15,416.32 387.43,410.37 387.72,414.59 388.01,399.82 388.3,421.15 388.59,412.16 388.87,421.95 389.16,422.24 389.45,410.07 389.74,420.06 390.03,417.19 390.31,410.56 390.6,422.29 390.89,415.09 391.18,419.53 391.46,417.59 391.75,424.45 392.04,420.44 392.33,413.44 392.62,414.32 392.9,424.46 393.19,404.03 393.48,425.68 393.77,419.85 394.06,422.82 394.34,425.97 394.63,428.75 394.92,407.53 395.21,409.44 395.49,416.84 395.78,416.82 396.07,423.03 396.36,423.24 396.65,417.61 396.93,424.02 397.22,422.64 397.51,415.33 397.8,427.62 398.08,427.78 398.37,412.17 398.66,428.26 398.95,424.22 399.24,430.15 399.52,428.08 399.81,429 400.1,426.74 400.39,419.04 400.68,418.48 400.96,425.03 401.25,419.02 401.54,419.54 401.83,427.64 402.11,425.6 402.4,424.9 402.69,426.3 402.98,412.16 403.27,418.16 403.55,421.38 403.84,422.65 404.13,427.26 404.42,408.9 404.7,424.68 404.99,422.12 405.28,425.21 405.57,404.33 405.86,423.66 406.14,420.97 406.43,411.78 406.72,414.4 407.01,411.96 407.3,414.01 407.58,411.5 407.87,408.15 408.16,409.16 408.45,411.44 408.73,407.63 409.02,412.19 409.31,407.66 409.6,411.75 409.89,410.65 410.17,411.76 410.46,415.93 410.75,417.12 411.04,405.53 411.33,408.82 411.61,416.08 411.9,413.84 412.19,410.89 412.48,399.67 412.76,403.29 413.05,400.02 413.34,409.05 413.63,414.21 413.92,403.62 414.2,390.69 414.49,397.63 414.78,401.28 415.07,401.73 415.35,406.17 415.64,403.05 415.93,398.34 416.22,405.52 416.51,403.53 416.79,392.96 417.08,386.76 417.37,400.94 417.66,386.95 417.95,390.67 418.23,401.02 418.52,379.89 418.81,395.93 419.1,380.86 419.38,387.37 419.67,383.35 419.96,399.5 420.25,390.92 420.54,399.66 420.82,389.46 421.11,393.56 421.4,393.99 421.69,394.4 421.97,394.77 422.26,397.12 422.55,387.9 422.84,391.16 423.13,387.63 423.41,393.65 423.7,383.66 423.99,389.32 424.28,398.01 424.57,392.77 424.85,398.6 425.14,386.94 425.43,387.43 425.72,400.7 426,392.51 426.29,392.57 426.58,399.99 426.87,395.98 427.16,393.63 427.44,400.2 427.73,397.1 428.02,389.11 428.31,399.62 428.6,403.89 428.88,381.19 429.17,398.74 429.46,396.77 429.75,391.15 430.03,391.67 430.32,403.91 430.61,399.47 430.9,401.79 431.19,395.47 431.47,407.76 431.76,408.26 432.05,393.2 432.34,404 432.62,402.13 432.91,411.46 433.2,406.87 433.49,411.42 433.78,411.75 434.06,414.04 434.35,406.09 434.64,410.66 434.93,414.22 435.22,409.91 435.5,411.93 435.79,411.39 436.08,414.48 436.37,413.75 436.65,414.69 436.94,414.31 437.23,416.06 437.52,415.77 437.81,404.4 438.09,423.91 438.38,418.86 438.67,412.33 438.96,417.62 439.24,423.86 439.53,425.52 439.82,422.38 440.11,431.18 440.4,426.87 440.68,429.08 440.97,430.7 441.26,432.05 441.55,435.95 441.84,435.78 442.12,433.38 442.41,436.44 442.7,417.69 442.99,417.64 443.27,440.1 443.56,438.29 443.85,434.98 444.14,440.29 444.43,437.78 444.71,437.77 445,440.25 445.29,442.29 445.58,437.29 445.87,450.1 446.15,449.96 446.44,449.65 446.73,451.05 447.02,447.32 447.3,445.5 447.59,450.1 447.88,455.16 448.17,461.54 448.46,450.54 448.74,464.71 449.03,446.21 449.32,466.8 449.61,464.8 449.89,465.69 450.18,467.19 450.47,466.12 450.76,463.9 451.05,479.62 451.33,464.9 451.62,464.98 451.91,476.37 452.2,483.62 452.49,486.74 452.77,489.3 453.06,491.57 453.35,493.84 453.44,496.6 296.77,496.6" fill="#c0c0c0" /><polyline points="296.77,494.6 297.06,476.68 297.34,472.74 297.63,451.1 297.92,462.53 298.21,466.21 298.49,467.55 298.78,467.13 299.07,460.37 299.36,453.93 299.65,452.54 299.93,456.59 300.22,453.92 300.51,438.73 300.8,443.03 301.08,452.23 301.37,438.38 301.66,438.29 301.95,427.25 302.24,437.07 302.52,440.86 302.81,440.56 303.1,429.53 303.39,432.2 303.68,435.9 303.96,428.46 304.25,422.58 304.54,431.1 304.83,425.21 305.11,418.74 305.4,428.42 305.69,425.65 305.98,410.3 306.27,424.77 306.55,415.34 306.84,414.9 307.13,414.82 307.42,417.88 307.71,418.89 307.99,417.58 308.28,415.29 308.57,420.83 308.86,417.71 309.14,416.8 309.43,414.11 309.72,416.28 310.01,412.25 310.3,396.91 310.58,410.28 310.87,413.52 311.16,408.89 311.45,402.31 311.73,402.53 312.02,406.31 312.31,408.09 312.6,398.92 312.89,403.23 313.17,404.33 313.46,401.81 313.75,393.61 314.04,408.12 314.33,408.15 314.61,404.06 314.9,406.88 315.19,404.84 315.48,403.33 315.76,398.27 316.05,383.48 316.34,400.73 316.63,383.29 316.92,399.56 317.2,398.8 317.49,397.52 317.78,395.45 318.07,401.83 318.35,396.9 318.64,400.55 318.93,378.36 319.22,394.3 319.51,386.99 319.79,385.36 320.08,385.26 320.37,393.23 320.66,384.93 320.95,390.73 321.23,388.05 321.52,394.58 321.81,388.86 322.1,387.7 322.38,384.1 322.67,380.41 322.96,387.81 323.25,382.37 323.54,379.46 323.82,389.54 324.11,377.53 324.4,380.17 324.69,387.1 324.98,376.72 325.26,383.8 325.55,380.02 325.84,376.34 326.13,379.25 326.41,384.99 326.7,387.88 326.99,378.68 327.28,388.65 327.57,388.09 327.85,383.78 328.14,383.03 328.43,384.98 328.72,379.35 329,381.77 329.29,393.24 329.58,392.16 329.87,384.11 330.16,392.75 330.44,378.61 330.73,397.14 331.02,398.65 331.31,380.16 331.6,388.61 331.88,382.29 332.17,392.9 332.46,394.58 332.75,399.47 333.03,398.65 333.32,403.3 333.61,411.05 333.9,398.72 334.19,405.08 334.47,402.69 334.76,408.53 335.05,413.98 335.34,414.21 335.62,403.28 335.91,413.88 336.2,417.23 336.49,407.43 336.78,399.93 337.06,416.29 337.35,405.03 337.64,400.5 337.93,419.13 338.22,412.51 338.5,420.31 338.79,416.06 339.08,414.43 339.37,415.39 339.65,421.49 339.94,414.03 340.23,414.97 340.52,417.52 340.81,409.78 341.09,417.23 341.38,411.99 341.67,410.41 341.96,418.43 342.25,419.66 342.53,421.45 342.82,419.92 343.11,421.79 343.4,421.34 343.68,421.43 343.97,424.17 344.26,423.92 344.55,423.54 344.84,425.02 345.12,420.38 345.41,424.35 345.7,407.01 345.99,421.07 346.27,422.61 346.56,415.9 346.85,424.82 347.14,405.73 347.43,420.16 347.71,422.44 348,423.68 348.29,414.37 348.58,419.79 348.87,426.1 349.15,423.74 349.44,413.84 349.73,421.76 350.02,413.72 350.3,418.96 350.59,404.05 350.88,412.58 351.17,425.7 351.46,413.07 351.74,420.59 352.03,409.13 352.32,413.3 352.61,417.3 352.89,419.45 353.18,414.43 353.47,418.5 353.76,415.92 354.05,409.6 354.33,403.58 354.62,411.82 354.91,421.26 355.2,417.51 355.49,418.16 355.77,418.19 356.06,421.11 356.35,403.24 356.64,416.51 356.92,413.43 357.21,411.42 357.5,414.08 357.79,412.9 358.08,400.2 358.36,411 358.65,409.22 358.94,396.13 359.23,403.74 359.52,417.62 359.8,416.36 360.09,416.95 360.38,403.41 360.67,402.42 360.95,402.05 361.24,406.83 361.53,409.28 361.82,411.68 362.11,400.86 362.39,405.69 362.68,413.55 362.97,389.45 363.26,413.79 363.54,411.42 363.83,389.71 364.12,407.3 364.41,401.07 364.7,398.35 364.98,411.79 365.27,398.36 365.56,403.97 365.85,399.59 366.14,409.74 366.42,410.89 366.71,404.32 367,410.35 367.29,405.32 367.57,403.46 367.86,404.38 368.15,404.13 368.44,386.56 368.73,407.03 369.01,403.54 369.3,398.27 369.59,400.69 369.88,399.23 370.16,402.06 370.45,408.44 370.74,397.92 371.03,402.48 371.32,405.53 371.6,406.65 371.89,399.94 372.18,405.48 372.47,402.83 372.76,402.48 373.04,403.22 373.33,401.88 373.62,401.36 373.91,408.43 374.19,403.22 374.48,386 374.77,408.33 375.06,396.18 375.35,402.28 375.63,396.98 375.92,402.18 376.21,411.11 376.5,400.83 376.79,408.52 377.07,395.57 377.36,404.93 377.65,406.81 377.94,404.78 378.22,411.84 378.51,402.45 378.8,411.42 379.09,400.9 379.38,402.23 379.66,412.95 379.95,404.2 380.24,407.6 380.53,405.24 380.81,400.63 381.1,408.53 381.39,395.5 381.68,398.08 381.97,409.26 382.25,414 382.54,411.25 382.83,411.96 383.12,412.18 383.41,411.01 383.69,402.53 383.98,411.42 384.27,411.33 384.56,410.9 384.84,398 385.13,407.14 385.42,412.17 385.71,402.26 386,418.13 386.28,413.65 386.57,418.96 386.86,412.56 387.15,416.32 387.43,410.37 387.72,414.59 388.01,399.82 388.3,421.15 388.59,412.16 388.87,421.95 389.16,422.24 389.45,410.07 389.74,420.06 390.03,417.19 390.31,410.56 390.6,422.29 390.89,415.09 391.18,419.53 391.46,417.59 391.75,424.45 392.04,420.44 392.33,413.44 392.62,414.32 392.9,424.46 393.19,404.03 393.48,425.68 393.77,419.85 394.06,422.82 394.34,425.97 394.63,428.75 394.92,407.53 395.21,409.44 395.49,416.84 395.78,416.82 396.07,423.03 396.36,423.24 396.65,417.61 396.93,424.02 397.22,422.64 397.51,415.33 397.8,427.62 398.08,427.78 398.37,412.17 398.66,428.26 398.95,424.22 399.24,430.15 399.52,428.08 399.81,429 400.1,426.74 400.39,419.04 400.68,418.48 400.96,425.03 401.25,419.02 401.54,419.54 401.83,427.64 402.11,425.6 402.4,424.9 402.69,426.3 402.98,412.16 403.27,418.16 403.55,421.38 403.84,422.65 404.13,427.26 404.42,408.9 404.7,424.68 404.99,422.12 405.28,425.21 405.57,404.33 405.86,423.66 406.14,420.97 406.43,411.78 406.72,414.4 407.01,411.96 407.3,414.01 407.58,411.5 407.87,408.15 408.16,409.16 408.45,411.44 408.73,407.63 409.02,412.19 409.31,407.66 409.6,411.75 409.89,410.65 410.17,411.76 410.46,415.93 410.75,417.12 411.04,405.53 411.33,408.82 411.61,416.08 411.9,413.84 412.19,410.89 412.48,399.67 412.76,403.29 413.05,400.02 413.34,409.05 413.63,414.21 413.92,403.62 414.2,390.69 414.49,397.63 414.78,401.28 415.07,401.73 415.35,406.17 415.64,403.05 415.93,398.34 416.22,405.52 416.51,403.53 416.79,392.96 417.08,386.76 417.37,400.94 417.66,386.95 417.95,390.67 418.23,401.02 418.52,379.89 418.81,395.93 419.1,380.86 419.38,387.37 419.67,383.35 419.96,399.5 420.25,390.92 420.54,399.66 420.82,389.46 421.11,393.56 421.4,393.99 421.69,394.4 421.97,394.77 422.26,397.12 422.55,387.9 422.84,391.16 423.13,387.63 423.41,393.65 423.7,383.66 423.99,389.32 424.28,398.01 424.57,392.77 424.85,398.6 425.14,386.94 425.43,387.43 425.72,400.7 426,392.51 426.29,392.57 426.58,399.99 426.87,395.98 427.16,393.63 427.44,400.2 427.73,397.1 428.02,389.11 428.31,399.62 428.6,403.89 428.88,381.19 429.17,398.74 429.46,396.77 429.75,391.15 430.03,391.67 430.32,403.91 430.61,399.47 430.9,401.79 431.19,395.47 431.47,407.76 431.76,408.26 432.05,393.2 432.34,404 432.62,402.13 432.91,411.46 433.2,406.87 433.49,411.42 433.78,411.75 434.06,414.04 434.35,406.09 434.64,410.66 434.93,414.22 435.22,409.91 435.5,411.93 435.79,411.39 436.08,414.48 436.37,413.75 436.65,414.69 436.94,414.31 437.23,416.06 437.52,415.77 437.81,404.4 438.09,423.91 438.38,418.86 438.67,412.33 438.96,417.62 439.24,423.86 439.53,425.52 439.82,422.38 440.11,431.18 440.4,426.87 440.68,429.08 440.97,430.7 441.26,432.05 441.55,435.95 441.84,435.78 442.12,433.38 442.41,436.44 442.7,417.69 442.99,417.64 443.27,440.1 443.56,438.29 443.85,434.98 444.14,440.29 444.43,437.78 444.71,437.77 445,440.25 445.29,442.29 445.58,437.29 445.87,450.1 446.15,449.96 446.44,449.65 446.73,451.05 447.02,447.32 447.3,445.5 447.59,450.1 447.88,455.16 448.17,461.54 448.46,450.54 448.74,464.71 449.03,446.21 449.32,466.8 449.61,464.8 449.89,465.69 450.18,467.19 450.47,466.12 450.76,463.9 451.05,479.62 451.33,464.9 451.62,464.98 451.91,476.37 452.2,483.62 452.49,486.74 452.77,489.3 453.06,491.57 453.35,493.84" fill="none" stroke="#7a7a3a" stroke-width="0.7" stroke-linejoin="round" opacity="0.55"/><polyline points="296.77,494.6 297.06,476.68 297.34,472.74 297.63,451.1 297.92,462.53 298.21,466.21 298.49,467.55 298.78,467.13 299.07,460.37 299.36,453.93 299.65,452.54 299.93,456.59 300.22,453.92 300.51,438.73 300.8,443.03 301.08,452.23 301.37,438.38 301.66,438.29 301.95,427.25 302.24,437.07 302.52,440.86 302.81,440.56 303.1,429.53 303.39,432.2 303.68,435.9 303.96,428.46 304.25,422.58 304.54,431.1 304.83,425.21 305.11,418.74 305.4,428.42 305.69,425.65 305.98,410.3 306.27,424.77 306.55,415.34 306.84,414.9 307.13,414.82 307.42,417.88 307.71,418.89 307.99,417.58 308.28,415.29 308.57,420.83 308.86,417.71 309.14,416.8 309.43,414.11 309.72,416.28 310.01,412.25 310.3,396.91 310.58,410.28 310.87,413.52 311.16,408.89 311.45,402.31 311.73,402.53 312.02,406.31 312.31,408.09 312.6,398.92 312.89,403.23 313.17,404.33 313.46,401.81 313.75,393.61 314.04,408.12 314.33,408.15 314.61,404.06 314.9,406.88 315.19,404.84 315.48,403.33 315.76,398.27 316.05,383.48 316.34,400.73 316.63,383.29 316.92,399.56 317.2,398.8 317.49,397.52 317.78,395.45 318.07,401.83 318.35,396.9 318.64,400.55 318.93,378.36 319.22,394.3 319.51,386.99 319.79,385.36 320.08,385.26 320.37,393.23 320.66,384.93 320.95,390.73 321.23,388.05 321.52,394.58 321.81,388.86 322.1,387.7 322.38,384.1 322.67,380.41 322.96,387.81 323.25,382.37 323.54,379.46 323.82,389.54 324.11,377.53 324.4,380.17 324.69,387.1 324.98,376.72 325.26,383.8 325.55,380.02 325.84,376.34 326.13,379.25 326.41,384.99 326.7,387.88 326.99,378.68 327.28,388.65 327.57,388.09 327.85,383.78 328.14,383.03 328.43,384.98 328.72,379.35 329,381.77 329.29,393.24 329.58,392.16 329.87,384.11 330.16,392.75 330.44,378.61 330.73,397.14 331.02,398.65 331.31,380.16 331.6,388.61 331.88,382.29 332.17,392.9 332.46,394.58 332.75,399.47 333.03,398.65 333.32,403.3 333.61,411.05 333.9,398.72 334.19,405.08 334.47,402.69 334.76,408.53 335.05,413.98 335.34,414.21 335.62,403.28 335.91,413.88 336.2,417.23 336.49,407.43 336.78,399.93 337.06,416.29 337.35,405.03 337.64,400.5 337.93,419.13 338.22,412.51 338.5,420.31 338.79,416.06 339.08,414.43 339.37,415.39 339.65,421.49 339.94,414.03 340.23,414.97 340.52,417.52 340.81,409.78 341.09,417.23 341.38,411.99 341.67,410.41 341.96,418.43 342.25,419.66 342.53,421.45 342.82,419.92 343.11,421.79 343.4,421.34 343.68,421.43 343.97,424.17 344.26,423.92 344.55,423.54 344.84,425.02 345.12,420.38 345.41,424.35 345.7,407.01 345.99,421.07 346.27,422.61 346.56,415.9 346.85,424.82 347.14,405.73 347.43,420.16 347.71,422.44 348,423.68 348.29,414.37 348.58,419.79 348.87,426.1 349.15,423.74 349.44,413.84 349.73,421.76 350.02,413.72 350.3,418.96 350.59,404.05 350.88,412.58 351.17,425.7 351.46,413.07 351.74,420.59 352.03,409.13 352.32,413.3 352.61,417.3 352.89,419.45 353.18,414.43 353.47,418.5 353.76,415.92 354.05,409.6 354.33,403.58 354.62,411.82 354.91,421.26 355.2,417.51 355.49,418.16 355.77,418.19 356.06,421.11 356.35,403.24 356.64,416.51 356.92,413.43 357.21,411.42 357.5,414.08 357.79,412.9 358.08,400.2 358.36,411 358.65,409.22 358.94,396.13 359.23,403.74 359.52,417.62 359.8,416.36 360.09,416.95 360.38,403.41 360.67,402.42 360.95,402.05 361.24,406.83 361.53,409.28 361.82,411.68 362.11,400.86 362.39,405.69 362.68,413.55 362.97,389.45 363.26,413.79 363.54,411.42 363.83,389.71 364.12,407.3 364.41,401.07 364.7,398.35 364.98,411.79 365.27,398.36 365.56,403.97 365.85,399.59 366.14,409.74 366.42,410.89 366.71,404.32 367,410.35 367.29,405.32 367.57,403.46 367.86,404.38 368.15,404.13 368.44,386.56 368.73,407.03 369.01,403.54 369.3,398.27 369.59,400.69 369.88,399.23 370.16,402.06 370.45,408.44 370.74,397.92 371.03,402.48 371.32,405.53 371.6,406.65 371.89,399.94 372.18,405.48 372.47,402.83 372.76,402.48 373.04,403.22 373.33,401.88 373.62,401.36 373.91,408.43 374.19,403.22 374.48,386 374.77,408.33 375.06,396.18 375.35,402.28 375.63,396.98 375.92,402.18 376.21,411.11 376.5,400.83 376.79,408.52 377.07,395.57 377.36,404.93 377.65,406.81 377.94,404.78 378.22,411.84 378.51,402.45 378.8,411.42 379.09,400.9 379.38,402.23 379.66,412.95 379.95,404.2 380.24,407.6 380.53,405.24 380.81,400.63 381.1,408.53 381.39,395.5 381.68,398.08 381.97,409.26 382.25,414 382.54,411.25 382.83,411.96 383.12,412.18 383.41,411.01 383.69,402.53 383.98,411.42 384.27,411.33 384.56,410.9 384.84,398 385.13,407.14 385.42,412.17 385.71,402.26 386,418.13 386.28,413.65 386.57,418.96 386.86,412.56 387.15,416.32 387.43,410.37 387.72,414.59 388.01,399.82 388.3,421.15 388.59,412.16 388.87,421.95 389.16,422.24 389.45,410.07 389.74,420.06 390.03,417.19 390.31,410.56 390.6,422.29 390.89,415.09 391.18,419.53 391.46,417.59 391.75,424.45 392.04,420.44 392.33,413.44 392.62,414.32 392.9,424.46 393.19,404.03 393.48,425.68 393.77,419.85 394.06,422.82 394.34,425.97 394.63,428.75 394.92,407.53 395.21,409.44 395.49,416.84 395.78,416.82 396.07,423.03 396.36,423.24 396.65,417.61 396.93,424.02 397.22,422.64 397.51,415.33 397.8,427.62 398.08,427.78 398.37,412.17 398.66,428.26 398.95,424.22 399.24,430.15 399.52,428.08 399.81,429 400.1,426.74 400.39,419.04 400.68,418.48 400.96,425.03 401.25,419.02 401.54,419.54 401.83,427.64 402.11,425.6 402.4,424.9 402.69,426.3 402.98,412.16 403.27,418.16 403.55,421.38 403.84,422.65 404.13,427.26 404.42,408.9 404.7,424.68 404.99,422.12 405.28,425.21 405.57,404.33 405.86,423.66 406.14,420.97 406.43,411.78 406.72,414.4 407.01,411.96 407.3,414.01 407.58,411.5 407.87,408.15 408.16,409.16 408.45,411.44 408.73,407.63 409.02,412.19 409.31,407.66 409.6,411.75 409.89,410.65 410.17,411.76 410.46,415.93 410.75,417.12 411.04,405.53 411.33,408.82 411.61,416.08 411.9,413.84 412.19,410.89 412.48,399.67 412.76,403.29 413.05,400.02 413.34,409.05 413.63,414.21 413.92,403.62 414.2,390.69 414.49,397.63 414.78,401.28 415.07,401.73 415.35,406.17 415.64,403.05 415.93,398.34 416.22,405.52 416.51,403.53 416.79,392.96 417.08,386.76 417.37,400.94 417.66,386.95 417.95,390.67 418.23,401.02 418.52,379.89 418.81,395.93 419.1,380.86 419.38,387.37 419.67,383.35 419.96,399.5 420.25,390.92 420.54,399.66 420.82,389.46 421.11,393.56 421.4,393.99 421.69,394.4 421.97,394.77 422.26,397.12 422.55,387.9 422.84,391.16 423.13,387.63 423.41,393.65 423.7,383.66 423.99,389.32 424.28,398.01 424.57,392.77 424.85,398.6 425.14,386.94 425.43,387.43 425.72,400.7 426,392.51 426.29,392.57 426.58,399.99 426.87,395.98 427.16,393.63 427.44,400.2 427.73,397.1 428.02,389.11 428.31,399.62 428.6,403.89 428.88,381.19 429.17,398.74 429.46,396.77 429.75,391.15 430.03,391.67 430.32,403.91 430.61,399.47 430.9,401.79 431.19,395.47 431.47,407.76 431.76,408.26 432.05,393.2 432.34,404 432.62,402.13 432.91,411.46 433.2,406.87 433.49,411.42 433.78,411.75 434.06,414.04 434.35,406.09 434.64,410.66 434.93,414.22 435.22,409.91 435.5,411.93 435.79,411.39 436.08,414.48 436.37,413.75 436.65,414.69 436.94,414.31 437.23,416.06 437.52,415.77 437.81,404.4 438.09,423.91 438.38,418.86 438.67,412.33 438.96,417.62 439.24,423.86 439.53,425.52 439.82,422.38 440.11,431.18 440.4,426.87 440.68,429.08 440.97,430.7 441.26,432.05 441.55,435.95 441.84,435.78 442.12,433.38 442.41,436.44 442.7,417.69 442.99,417.64 443.27,440.1 443.56,438.29 443.85,434.98 444.14,440.29 444.43,437.78 444.71,437.77 445,440.25 445.29,442.29 445.58,437.29 445.87,450.1 446.15,449.96 446.44,449.65 446.73,451.05 447.02,447.32 447.3,445.5 447.59,450.1 447.88,455.16 448.17,461.54 448.46,450.54 448.74,464.71 449.03,446.21 449.32,466.8 449.61,464.8 449.89,465.69 450.18,467.19 450.47,466.12 450.76,463.9 451.05,479.62 451.33,464.9 451.62,464.98 451.91,476.37 452.2,483.62 452.49,486.74 452.77,489.3 453.06,491.57 453.35,493.84" fill="none" stroke="#2a2a2a" stroke-width="0.3" stroke-linejoin="round" opacity="0.8"/><line x1="332.07" y1="358.3" x2="332.07" y2="494.6" stroke="#000" stroke-width="1" opacity="0.6"/><line x1="418.43" y1="358.3" x2="418.43" y2="494.6" stroke="#000" stroke-width="1" opacity="0.6"/></g><rect x="288.9" y="358.3" width="172.7" height="136.3" fill="none" stroke="#000" stroke-width="1.4" /><line x1="286.5" y1="494.6" x2="288.9" y2="494.6" stroke="#000" stroke-width="1.1" /><line x1="461.6" y1="494.6" x2="463.6" y2="494.6" stroke="#000" stroke-width="1" /><text x="286.3" y="496.9" font-size="6.6" font-family='"Liberation Sans", sans-serif' font-weight="bold" text-anchor="end" >0</text><line x1="287.5" y1="483.24" x2="288.9" y2="483.24" stroke="#000" stroke-width="0.9" /><line x1="461.6" y1="483.24" x2="462.8" y2="483.24" stroke="#000" stroke-width="0.9" /><line x1="286.5" y1="471.88" x2="288.9" y2="471.88" stroke="#000" stroke-width="1.1" /><line x1="461.6" y1="471.88" x2="463.6" y2="471.88" stroke="#000" stroke-width="1" /><text x="286.3" y="474.18" font-size="6.6" font-family='"Liberation Sans", sans-serif' font-weight="bold" text-anchor="end" >1k</text><line x1="287.5" y1="460.53" x2="288.9" y2="460.53" stroke="#000" stroke-width="0.9" /><line x1="461.6" y1="460.53" x2="462.8" y2="460.53" stroke="#000" stroke-width="0.9" /><line x1="286.5" y1="449.17" x2="288.9" y2="449.17" stroke="#000" stroke-width="1.1" /><line x1="461.6" y1="449.17" x2="463.6" y2="449.17" stroke="#000" stroke-width="1" /><text x="286.3" y="451.47" font-size="6.6" font-family='"Liberation Sans", sans-serif' font-weight="bold" text-anchor="end" >2k</text><line x1="287.5" y1="437.81" x2="288.9" y2="437.81" stroke="#000" stroke-width="0.9" /><line x1="461.6" y1="437.81" x2="462.8" y2="437.81" stroke="#000" stroke-width="0.9" /><line x1="286.5" y1="426.45" x2="288.9" y2="426.45" stroke="#000" stroke-width="1.1" /><line x1="461.6" y1="426.45" x2="463.6" y2="426.45" stroke="#000" stroke-width="1" /><text x="286.3" y="428.75" font-size="6.6" font-family='"Liberation Sans", sans-serif' font-weight="bold" text-anchor="end" >3k</text><line x1="287.5" y1="415.09" x2="288.9" y2="415.09" stroke="#000" stroke-width="0.9" /><line x1="461.6" y1="415.09" x2="462.8" y2="415.09" stroke="#000" stroke-width="0.9" /><line x1="286.5" y1="403.73" x2="288.9" y2="403.73" stroke="#000" stroke-width="1.1" /><line x1="461.6" y1="403.73" x2="463.6" y2="403.73" stroke="#000" stroke-width="1" /><text x="286.3" y="406.03" font-size="6.6" font-family='"Liberation Sans", sans-serif' font-weight="bold" text-anchor="end" >4k</text><line x1="287.5" y1="392.38" x2="288.9" y2="392.38" stroke="#000" stroke-width="0.9" /><line x1="461.6" y1="392.38" x2="462.8" y2="392.38" stroke="#000" stroke-width="0.9" /><line x1="286.5" y1="381.02" x2="288.9" y2="381.02" stroke="#000" stroke-width="1.1" /><line x1="461.6" y1="381.02" x2="463.6" y2="381.02" stroke="#000" stroke-width="1" /><text x="286.3" y="383.32" font-size="6.6" font-family='"Liberation Sans", sans-serif' font-weight="bold" text-anchor="end" >5k</text><line x1="287.5" y1="369.66" x2="288.9" y2="369.66" stroke="#000" stroke-width="0.9" /><line x1="461.6" y1="369.66" x2="462.8" y2="369.66" stroke="#000" stroke-width="0.9" /><line x1="286.5" y1="358.3" x2="288.9" y2="358.3" stroke="#000" stroke-width="1.1" /><line x1="461.6" y1="358.3" x2="463.6" y2="358.3" stroke="#000" stroke-width="1" /><text x="286.3" y="360.6" font-size="6.6" font-family='"Liberation Sans", sans-serif' font-weight="bold" text-anchor="end" >6k</text><line x1="288.9" y1="494.6" x2="288.9" y2="497" stroke="#000" stroke-width="1.1" /><text x="288.9" y="504.8" font-size="7.4" font-family='"Liberation Sans", sans-serif' font-weight="bold" text-anchor="middle" >0</text><line x1="332.07" y1="494.6" x2="332.07" y2="497" stroke="#000" stroke-width="1.1" /><text x="332.07" y="504.8" font-size="7.4" font-family='"Liberation Sans", sans-serif' font-weight="bold" text-anchor="middle" >45</text><line x1="375.25" y1="494.6" x2="375.25" y2="497" stroke="#000" stroke-width="1.1" /><text x="375.25" y="504.8" font-size="7.4" font-family='"Liberation Sans", sans-serif' font-weight="bold" text-anchor="middle" >90</text><line x1="418.43" y1="494.6" x2="418.43" y2="497" stroke="#000" stroke-width="1.1" /><text x="418.43" y="504.8" font-size="7.4" font-family='"Liberation Sans", sans-serif' font-weight="bold" text-anchor="middle" >135</text><line x1="461.6" y1="494.6" x2="461.6" y2="497" stroke="#000" stroke-width="1.1" /><text x="461.6" y="504.8" font-size="7.4" font-family='"Liberation Sans", sans-serif' font-weight="bold" text-anchor="middle" >180</text><line x1="310.49" y1="494.6" x2="310.49" y2="496" stroke="#000" stroke-width="0.9" /><line x1="353.66" y1="494.6" x2="353.66" y2="496" stroke="#000" stroke-width="0.9" /><line x1="396.84" y1="494.6" x2="396.84" y2="496" stroke="#000" stroke-width="0.9" /><line x1="440.01" y1="494.6" x2="440.01" y2="496" stroke="#000" stroke-width="0.9" /><text x="373.8" y="368.5" font-size="7.2" font-family='"Liberation Sans", sans-serif' font-weight="bold" text-anchor="middle" fill="#2a5c96" >Control</text><text x="312.6" y="479.8" font-size="7.4" font-family='"Liberation Sans", sans-serif' font-weight="bold" font-style="italic" text-anchor="middle">A<tspan font-size="4.8" dy="1.8">xy</tspan></text><text x="377" y="479.8" font-size="7.4" font-family='"Liberation Sans", sans-serif' font-weight="bold" font-style="italic" text-anchor="middle">A<tspan font-size="4.8" dy="1.8">z</tspan></text><text x="437.4" y="479.8" font-size="7.4" font-family='"Liberation Sans", sans-serif' font-weight="bold" font-style="italic" text-anchor="middle">A<tspan font-size="4.8" dy="1.8">xy</tspan></text><text x="310" y="493.1" font-size="5.8" font-family='"Liberation Sans", sans-serif' font-weight="bold" text-anchor="middle" fill="#111" textLength="40.5" lengthAdjust="spacingAndGlyphs" >Area=1.302E+5</text><text x="375.4" y="493.1" font-size="5.8" font-family='"Liberation Sans", sans-serif' font-weight="bold" text-anchor="middle" fill="#111" textLength="40" lengthAdjust="spacingAndGlyphs" >Area=3.292E+5</text><text x="440.6" y="493.1" font-size="5.8" font-family='"Liberation Sans", sans-serif' font-weight="bold" text-anchor="middle" fill="#111" textLength="42" lengthAdjust="spacingAndGlyphs" >Area=1.219E+05</text><g clip-path="url(#cpj)"><rect x="288.9" y="528.2" width="172.7" height="136.3" fill="#ffff80" stroke="none" stroke-width="1" /><polygon points="296.77,664.5 297.06,660.41 297.34,656.32 297.63,652.23 297.92,647.04 298.21,646.53 298.49,646.91 298.78,639.58 299.07,644.6 299.36,640.07 299.65,645.25 299.93,634.59 300.22,641.96 300.51,644.89 300.8,645.15 301.08,645.04 301.37,638.15 301.66,643.85 301.95,638.63 302.24,633.51 302.52,640.08 302.81,641.02 303.1,639.61 303.39,635.03 303.68,639.55 303.96,636.03 304.25,633.7 304.54,640.14 304.83,640.17 305.11,639.55 305.4,637.51 305.69,639.6 305.98,637.83 306.27,638.74 306.55,639.07 306.84,625.51 307.13,635.55 307.42,626.15 307.71,635.86 307.99,636.76 308.28,633.77 308.57,624.08 308.86,627.07 309.14,629.71 309.43,632.84 309.72,629.16 310.01,626.23 310.3,627.56 310.58,620.63 310.87,624.8 311.16,619.47 311.45,625.09 311.73,619.62 312.02,621.43 312.31,619.21 312.6,620.28 312.89,610.93 313.17,607.81 313.46,597.76 313.75,603.55 314.04,605.76 314.33,600.45 314.61,597.3 314.9,594.94 315.19,596.05 315.48,592.74 315.76,587.41 316.05,580.07 316.34,579.72 316.63,580.7 316.92,575.65 317.2,577.52 317.49,569.36 317.78,565.92 318.07,571.37 318.35,565.83 318.64,568.74 318.93,565.16 319.22,550.63 319.51,548.14 319.79,548.51 320.08,555.13 320.37,550.4 320.66,553.65 320.95,543.4 321.23,548.68 321.52,548.96 321.81,550.67 322.1,544.46 322.38,546.47 322.67,545.66 322.96,545.41 323.25,542.89 323.54,548.61 323.82,538.31 324.11,547.58 324.4,551.61 324.69,548.1 324.98,547.33 325.26,552.3 325.55,553.58 325.84,553.17 326.13,558.06 326.41,556.16 326.7,553.73 326.99,558.34 327.28,550.62 327.57,561.65 327.85,565.69 328.14,555.71 328.43,566.41 328.72,569.68 329,574.72 329.29,576.66 329.58,580.7 329.87,579.03 330.16,575.19 330.44,578.43 330.73,579.17 331.02,593.07 331.31,595.84 331.6,593.89 331.88,601.98 332.17,596.63 332.46,603.27 332.75,604.67 333.03,602.54 333.32,608.24 333.61,608.93 333.9,613.61 334.19,610.56 334.47,618.75 334.76,617.03 335.05,619.03 335.34,619.48 335.62,622.69 335.91,612.42 336.2,617.45 336.49,617.98 336.78,626.63 337.06,620.07 337.35,625.63 337.64,626.87 337.93,625.66 338.22,627.93 338.5,627.64 338.79,621.84 339.08,633.83 339.37,632.51 339.65,633.51 339.94,636.67 340.23,631.98 340.52,637.46 340.81,636.92 341.09,639.59 341.38,631.27 341.67,639.84 341.96,635.92 342.25,639.15 342.53,639.25 342.82,633.33 343.11,633.93 343.4,635.11 343.68,629.64 343.97,636.61 344.26,642.71 344.55,636.08 344.84,631.8 345.12,641.88 345.41,639.2 345.7,640.45 345.99,640.53 346.27,645.15 346.56,642.66 346.85,641.04 347.14,645.24 347.43,645.4 347.71,642.14 348,639.61 348.29,640.15 348.58,644.68 348.87,643.44 349.15,638.04 349.44,633.71 349.73,631.8 350.02,642.98 350.3,634.67 350.59,639.53 350.88,638.12 351.17,638.67 351.46,629.57 351.74,638.51 352.03,636.48 352.32,631.96 352.61,634.72 352.89,626.4 353.18,629.01 353.47,623.81 353.76,627.61 354.05,622.24 354.33,628.84 354.62,626.18 354.91,614.82 355.2,616.71 355.49,622.25 355.77,619.11 356.06,619.11 356.35,622.3 356.64,621.07 356.92,621.25 357.21,618.09 357.5,619.05 357.79,610.15 358.08,613.24 358.36,614.08 358.65,620.69 358.94,620.12 359.23,616.44 359.52,614.26 359.8,612.99 360.09,612.25 360.38,613.67 360.67,613.7 360.95,610.58 361.24,612.69 361.53,608.68 361.82,612.13 362.11,608.15 362.39,616.28 362.68,608.97 362.97,610.2 363.26,605.49 363.54,610.99 363.83,614.06 364.12,612.29 364.41,609.66 364.7,603.12 364.98,612.79 365.27,604.81 365.56,612.85 365.85,607.96 366.14,600.84 366.42,606.86 366.71,605.95 367,607.9 367.29,608.32 367.57,608.41 367.86,607.24 368.15,608.19 368.44,606.47 368.73,597.5 369.01,608.65 369.3,607.63 369.59,608.3 369.88,601.94 370.16,604.51 370.45,605.98 370.74,604.5 371.03,597.76 371.32,599.59 371.6,605.99 371.89,598.94 372.18,604.27 372.47,601.05 372.76,598.57 373.04,603.04 373.33,603.32 373.62,596.95 373.91,591.27 374.19,605.99 374.48,601.97 374.77,602.09 375.06,602.67 375.35,604.85 375.63,601.5 375.92,601.5 376.21,596.91 376.5,596.58 376.79,602.01 377.07,601.9 377.36,601.11 377.65,605.61 377.94,602.26 378.22,602.98 378.51,604.84 378.8,605.35 379.09,604.57 379.38,604.61 379.66,603.88 379.95,606.13 380.24,597.87 380.53,604.74 380.81,595.8 381.1,608.5 381.39,609.21 381.68,607.67 381.97,607.85 382.25,610.46 382.54,603.91 382.83,604.85 383.12,602.86 383.41,598.93 383.69,611.07 383.98,608.77 384.27,611.54 384.56,612.91 384.84,605.65 385.13,605.78 385.42,612.12 385.71,614 386,614.89 386.28,608.06 386.57,607.6 386.86,611.31 387.15,610.46 387.43,613.26 387.72,614.56 388.01,606.33 388.3,609.52 388.59,616.15 388.87,613.63 389.16,613.92 389.45,613.1 389.74,615.26 390.03,614.73 390.31,619.27 390.6,618.73 390.89,615.77 391.18,617.78 391.46,623.88 391.75,613.35 392.04,619.53 392.33,621.77 392.62,623.79 392.9,620.93 393.19,620.22 393.48,620.7 393.77,626.44 394.06,626.44 394.34,630.17 394.63,630.41 394.92,626.29 395.21,629.33 395.49,629.81 395.78,628.7 396.07,627.47 396.36,631.68 396.65,631.17 396.93,632.55 397.22,636.53 397.51,638.3 397.8,636.38 398.08,638.33 398.37,634.49 398.66,638.75 398.95,636.17 399.24,632.33 399.52,639.03 399.81,634.33 400.1,641.26 400.39,640.28 400.68,637.11 400.96,639.81 401.25,637.48 401.54,640.78 401.83,634 402.11,630.8 402.4,641.45 402.69,644.22 402.98,639.37 403.27,639.08 403.55,632.19 403.84,643.45 404.13,639.72 404.42,639.75 404.7,636.93 404.99,642.95 405.28,636.83 405.57,637.06 405.86,644.12 406.14,637.63 406.43,636.22 406.72,642.7 407.01,640.03 407.3,642.79 407.58,636.43 407.87,639.91 408.16,636.43 408.45,639.41 408.73,639.62 409.02,628.04 409.31,632.39 409.6,639.21 409.89,637.06 410.17,639.8 410.46,639.6 410.75,627.66 411.04,632.9 411.33,636.34 411.61,622.92 411.9,625.61 412.19,634.3 412.48,628.05 412.76,626.4 413.05,626.05 413.34,625.93 413.63,617.43 413.92,627.1 414.2,621.72 414.49,621.16 414.78,622.06 415.07,621.39 415.35,616.63 415.64,613.74 415.93,616.75 416.22,616.65 416.51,612.84 416.79,605.93 417.08,608.3 417.37,598.78 417.66,602.74 417.95,599.87 418.23,604.18 418.52,598.93 418.81,591.63 419.1,598.92 419.38,588.81 419.67,592.54 419.96,588.87 420.25,585.67 420.54,584.41 420.82,581.18 421.11,580.99 421.4,574.13 421.69,572.37 421.97,563.57 422.26,567.07 422.55,559.89 422.84,565.85 423.13,560.7 423.41,558.43 423.7,557.21 423.99,552.36 424.28,553.09 424.57,552.05 424.85,540.16 425.14,542.36 425.43,551.7 425.72,546.02 426,542.32 426.29,542.02 426.58,542.78 426.87,547.57 427.16,543.49 427.44,541.5 427.73,539.26 428.02,540.49 428.31,546.83 428.6,548.52 428.88,551.88 429.17,552.2 429.46,553.53 429.75,557.98 430.03,555.85 430.32,554.95 430.61,559.6 430.9,566.3 431.19,568.63 431.47,571.79 431.76,575.5 432.05,575.6 432.34,578.93 432.62,582.21 432.91,577.08 433.2,591.02 433.49,585.31 433.78,590.83 434.06,597.78 434.35,599.36 434.64,598 434.93,603.62 435.22,606.61 435.5,605.43 435.79,602.58 436.08,608.85 436.37,606.84 436.65,609.26 436.94,615.21 437.23,619.06 437.52,620.39 437.81,618.86 438.09,616.96 438.38,622.89 438.67,621.75 438.96,627.55 439.24,630.7 439.53,625.26 439.82,627.1 440.11,629.57 440.4,629.48 440.68,627.72 440.97,625.55 441.26,636.74 441.55,634.66 441.84,633.99 442.12,638.21 442.41,638.45 442.7,635.92 442.99,626.91 443.27,634.92 443.56,633.25 443.85,635.29 444.14,640.18 444.43,635.6 444.71,640.93 445,643.76 445.29,632.23 445.58,641.41 445.87,637.6 446.15,633.43 446.44,639.46 446.73,642.03 447.02,640.69 447.3,639.07 447.59,638.4 447.88,642.15 448.17,638.48 448.46,649.51 448.74,653.05 449.03,650.07 449.32,647.33 449.61,651.15 449.89,652.06 450.18,652.98 450.47,653.89 450.76,654.8 451.05,655.75 451.33,656.76 451.62,657.77 451.91,658.78 452.2,659.79 452.49,660.8 452.77,661.81 453.06,662.82 453.35,663.83 453.54,666.5 296.77,666.5" fill="#c0c0c0" /><polyline points="296.77,664.5 297.06,660.41 297.34,656.32 297.63,652.23 297.92,647.04 298.21,646.53 298.49,646.91 298.78,639.58 299.07,644.6 299.36,640.07 299.65,645.25 299.93,634.59 300.22,641.96 300.51,644.89 300.8,645.15 301.08,645.04 301.37,638.15 301.66,643.85 301.95,638.63 302.24,633.51 302.52,640.08 302.81,641.02 303.1,639.61 303.39,635.03 303.68,639.55 303.96,636.03 304.25,633.7 304.54,640.14 304.83,640.17 305.11,639.55 305.4,637.51 305.69,639.6 305.98,637.83 306.27,638.74 306.55,639.07 306.84,625.51 307.13,635.55 307.42,626.15 307.71,635.86 307.99,636.76 308.28,633.77 308.57,624.08 308.86,627.07 309.14,629.71 309.43,632.84 309.72,629.16 310.01,626.23 310.3,627.56 310.58,620.63 310.87,624.8 311.16,619.47 311.45,625.09 311.73,619.62 312.02,621.43 312.31,619.21 312.6,620.28 312.89,610.93 313.17,607.81 313.46,597.76 313.75,603.55 314.04,605.76 314.33,600.45 314.61,597.3 314.9,594.94 315.19,596.05 315.48,592.74 315.76,587.41 316.05,580.07 316.34,579.72 316.63,580.7 316.92,575.65 317.2,577.52 317.49,569.36 317.78,565.92 318.07,571.37 318.35,565.83 318.64,568.74 318.93,565.16 319.22,550.63 319.51,548.14 319.79,548.51 320.08,555.13 320.37,550.4 320.66,553.65 320.95,543.4 321.23,548.68 321.52,548.96 321.81,550.67 322.1,544.46 322.38,546.47 322.67,545.66 322.96,545.41 323.25,542.89 323.54,548.61 323.82,538.31 324.11,547.58 324.4,551.61 324.69,548.1 324.98,547.33 325.26,552.3 325.55,553.58 325.84,553.17 326.13,558.06 326.41,556.16 326.7,553.73 326.99,558.34 327.28,550.62 327.57,561.65 327.85,565.69 328.14,555.71 328.43,566.41 328.72,569.68 329,574.72 329.29,576.66 329.58,580.7 329.87,579.03 330.16,575.19 330.44,578.43 330.73,579.17 331.02,593.07 331.31,595.84 331.6,593.89 331.88,601.98 332.17,596.63 332.46,603.27 332.75,604.67 333.03,602.54 333.32,608.24 333.61,608.93 333.9,613.61 334.19,610.56 334.47,618.75 334.76,617.03 335.05,619.03 335.34,619.48 335.62,622.69 335.91,612.42 336.2,617.45 336.49,617.98 336.78,626.63 337.06,620.07 337.35,625.63 337.64,626.87 337.93,625.66 338.22,627.93 338.5,627.64 338.79,621.84 339.08,633.83 339.37,632.51 339.65,633.51 339.94,636.67 340.23,631.98 340.52,637.46 340.81,636.92 341.09,639.59 341.38,631.27 341.67,639.84 341.96,635.92 342.25,639.15 342.53,639.25 342.82,633.33 343.11,633.93 343.4,635.11 343.68,629.64 343.97,636.61 344.26,642.71 344.55,636.08 344.84,631.8 345.12,641.88 345.41,639.2 345.7,640.45 345.99,640.53 346.27,645.15 346.56,642.66 346.85,641.04 347.14,645.24 347.43,645.4 347.71,642.14 348,639.61 348.29,640.15 348.58,644.68 348.87,643.44 349.15,638.04 349.44,633.71 349.73,631.8 350.02,642.98 350.3,634.67 350.59,639.53 350.88,638.12 351.17,638.67 351.46,629.57 351.74,638.51 352.03,636.48 352.32,631.96 352.61,634.72 352.89,626.4 353.18,629.01 353.47,623.81 353.76,627.61 354.05,622.24 354.33,628.84 354.62,626.18 354.91,614.82 355.2,616.71 355.49,622.25 355.77,619.11 356.06,619.11 356.35,622.3 356.64,621.07 356.92,621.25 357.21,618.09 357.5,619.05 357.79,610.15 358.08,613.24 358.36,614.08 358.65,620.69 358.94,620.12 359.23,616.44 359.52,614.26 359.8,612.99 360.09,612.25 360.38,613.67 360.67,613.7 360.95,610.58 361.24,612.69 361.53,608.68 361.82,612.13 362.11,608.15 362.39,616.28 362.68,608.97 362.97,610.2 363.26,605.49 363.54,610.99 363.83,614.06 364.12,612.29 364.41,609.66 364.7,603.12 364.98,612.79 365.27,604.81 365.56,612.85 365.85,607.96 366.14,600.84 366.42,606.86 366.71,605.95 367,607.9 367.29,608.32 367.57,608.41 367.86,607.24 368.15,608.19 368.44,606.47 368.73,597.5 369.01,608.65 369.3,607.63 369.59,608.3 369.88,601.94 370.16,604.51 370.45,605.98 370.74,604.5 371.03,597.76 371.32,599.59 371.6,605.99 371.89,598.94 372.18,604.27 372.47,601.05 372.76,598.57 373.04,603.04 373.33,603.32 373.62,596.95 373.91,591.27 374.19,605.99 374.48,601.97 374.77,602.09 375.06,602.67 375.35,604.85 375.63,601.5 375.92,601.5 376.21,596.91 376.5,596.58 376.79,602.01 377.07,601.9 377.36,601.11 377.65,605.61 377.94,602.26 378.22,602.98 378.51,604.84 378.8,605.35 379.09,604.57 379.38,604.61 379.66,603.88 379.95,606.13 380.24,597.87 380.53,604.74 380.81,595.8 381.1,608.5 381.39,609.21 381.68,607.67 381.97,607.85 382.25,610.46 382.54,603.91 382.83,604.85 383.12,602.86 383.41,598.93 383.69,611.07 383.98,608.77 384.27,611.54 384.56,612.91 384.84,605.65 385.13,605.78 385.42,612.12 385.71,614 386,614.89 386.28,608.06 386.57,607.6 386.86,611.31 387.15,610.46 387.43,613.26 387.72,614.56 388.01,606.33 388.3,609.52 388.59,616.15 388.87,613.63 389.16,613.92 389.45,613.1 389.74,615.26 390.03,614.73 390.31,619.27 390.6,618.73 390.89,615.77 391.18,617.78 391.46,623.88 391.75,613.35 392.04,619.53 392.33,621.77 392.62,623.79 392.9,620.93 393.19,620.22 393.48,620.7 393.77,626.44 394.06,626.44 394.34,630.17 394.63,630.41 394.92,626.29 395.21,629.33 395.49,629.81 395.78,628.7 396.07,627.47 396.36,631.68 396.65,631.17 396.93,632.55 397.22,636.53 397.51,638.3 397.8,636.38 398.08,638.33 398.37,634.49 398.66,638.75 398.95,636.17 399.24,632.33 399.52,639.03 399.81,634.33 400.1,641.26 400.39,640.28 400.68,637.11 400.96,639.81 401.25,637.48 401.54,640.78 401.83,634 402.11,630.8 402.4,641.45 402.69,644.22 402.98,639.37 403.27,639.08 403.55,632.19 403.84,643.45 404.13,639.72 404.42,639.75 404.7,636.93 404.99,642.95 405.28,636.83 405.57,637.06 405.86,644.12 406.14,637.63 406.43,636.22 406.72,642.7 407.01,640.03 407.3,642.79 407.58,636.43 407.87,639.91 408.16,636.43 408.45,639.41 408.73,639.62 409.02,628.04 409.31,632.39 409.6,639.21 409.89,637.06 410.17,639.8 410.46,639.6 410.75,627.66 411.04,632.9 411.33,636.34 411.61,622.92 411.9,625.61 412.19,634.3 412.48,628.05 412.76,626.4 413.05,626.05 413.34,625.93 413.63,617.43 413.92,627.1 414.2,621.72 414.49,621.16 414.78,622.06 415.07,621.39 415.35,616.63 415.64,613.74 415.93,616.75 416.22,616.65 416.51,612.84 416.79,605.93 417.08,608.3 417.37,598.78 417.66,602.74 417.95,599.87 418.23,604.18 418.52,598.93 418.81,591.63 419.1,598.92 419.38,588.81 419.67,592.54 419.96,588.87 420.25,585.67 420.54,584.41 420.82,581.18 421.11,580.99 421.4,574.13 421.69,572.37 421.97,563.57 422.26,567.07 422.55,559.89 422.84,565.85 423.13,560.7 423.41,558.43 423.7,557.21 423.99,552.36 424.28,553.09 424.57,552.05 424.85,540.16 425.14,542.36 425.43,551.7 425.72,546.02 426,542.32 426.29,542.02 426.58,542.78 426.87,547.57 427.16,543.49 427.44,541.5 427.73,539.26 428.02,540.49 428.31,546.83 428.6,548.52 428.88,551.88 429.17,552.2 429.46,553.53 429.75,557.98 430.03,555.85 430.32,554.95 430.61,559.6 430.9,566.3 431.19,568.63 431.47,571.79 431.76,575.5 432.05,575.6 432.34,578.93 432.62,582.21 432.91,577.08 433.2,591.02 433.49,585.31 433.78,590.83 434.06,597.78 434.35,599.36 434.64,598 434.93,603.62 435.22,606.61 435.5,605.43 435.79,602.58 436.08,608.85 436.37,606.84 436.65,609.26 436.94,615.21 437.23,619.06 437.52,620.39 437.81,618.86 438.09,616.96 438.38,622.89 438.67,621.75 438.96,627.55 439.24,630.7 439.53,625.26 439.82,627.1 440.11,629.57 440.4,629.48 440.68,627.72 440.97,625.55 441.26,636.74 441.55,634.66 441.84,633.99 442.12,638.21 442.41,638.45 442.7,635.92 442.99,626.91 443.27,634.92 443.56,633.25 443.85,635.29 444.14,640.18 444.43,635.6 444.71,640.93 445,643.76 445.29,632.23 445.58,641.41 445.87,637.6 446.15,633.43 446.44,639.46 446.73,642.03 447.02,640.69 447.3,639.07 447.59,638.4 447.88,642.15 448.17,638.48 448.46,649.51 448.74,653.05 449.03,650.07 449.32,647.33 449.61,651.15 449.89,652.06 450.18,652.98 450.47,653.89 450.76,654.8 451.05,655.75 451.33,656.76 451.62,657.77 451.91,658.78 452.2,659.79 452.49,660.8 452.77,661.81 453.06,662.82 453.35,663.83" fill="none" stroke="#7a7a3a" stroke-width="0.7" stroke-linejoin="round" opacity="0.55"/><polyline points="296.77,664.5 297.06,660.41 297.34,656.32 297.63,652.23 297.92,647.04 298.21,646.53 298.49,646.91 298.78,639.58 299.07,644.6 299.36,640.07 299.65,645.25 299.93,634.59 300.22,641.96 300.51,644.89 300.8,645.15 301.08,645.04 301.37,638.15 301.66,643.85 301.95,638.63 302.24,633.51 302.52,640.08 302.81,641.02 303.1,639.61 303.39,635.03 303.68,639.55 303.96,636.03 304.25,633.7 304.54,640.14 304.83,640.17 305.11,639.55 305.4,637.51 305.69,639.6 305.98,637.83 306.27,638.74 306.55,639.07 306.84,625.51 307.13,635.55 307.42,626.15 307.71,635.86 307.99,636.76 308.28,633.77 308.57,624.08 308.86,627.07 309.14,629.71 309.43,632.84 309.72,629.16 310.01,626.23 310.3,627.56 310.58,620.63 310.87,624.8 311.16,619.47 311.45,625.09 311.73,619.62 312.02,621.43 312.31,619.21 312.6,620.28 312.89,610.93 313.17,607.81 313.46,597.76 313.75,603.55 314.04,605.76 314.33,600.45 314.61,597.3 314.9,594.94 315.19,596.05 315.48,592.74 315.76,587.41 316.05,580.07 316.34,579.72 316.63,580.7 316.92,575.65 317.2,577.52 317.49,569.36 317.78,565.92 318.07,571.37 318.35,565.83 318.64,568.74 318.93,565.16 319.22,550.63 319.51,548.14 319.79,548.51 320.08,555.13 320.37,550.4 320.66,553.65 320.95,543.4 321.23,548.68 321.52,548.96 321.81,550.67 322.1,544.46 322.38,546.47 322.67,545.66 322.96,545.41 323.25,542.89 323.54,548.61 323.82,538.31 324.11,547.58 324.4,551.61 324.69,548.1 324.98,547.33 325.26,552.3 325.55,553.58 325.84,553.17 326.13,558.06 326.41,556.16 326.7,553.73 326.99,558.34 327.28,550.62 327.57,561.65 327.85,565.69 328.14,555.71 328.43,566.41 328.72,569.68 329,574.72 329.29,576.66 329.58,580.7 329.87,579.03 330.16,575.19 330.44,578.43 330.73,579.17 331.02,593.07 331.31,595.84 331.6,593.89 331.88,601.98 332.17,596.63 332.46,603.27 332.75,604.67 333.03,602.54 333.32,608.24 333.61,608.93 333.9,613.61 334.19,610.56 334.47,618.75 334.76,617.03 335.05,619.03 335.34,619.48 335.62,622.69 335.91,612.42 336.2,617.45 336.49,617.98 336.78,626.63 337.06,620.07 337.35,625.63 337.64,626.87 337.93,625.66 338.22,627.93 338.5,627.64 338.79,621.84 339.08,633.83 339.37,632.51 339.65,633.51 339.94,636.67 340.23,631.98 340.52,637.46 340.81,636.92 341.09,639.59 341.38,631.27 341.67,639.84 341.96,635.92 342.25,639.15 342.53,639.25 342.82,633.33 343.11,633.93 343.4,635.11 343.68,629.64 343.97,636.61 344.26,642.71 344.55,636.08 344.84,631.8 345.12,641.88 345.41,639.2 345.7,640.45 345.99,640.53 346.27,645.15 346.56,642.66 346.85,641.04 347.14,645.24 347.43,645.4 347.71,642.14 348,639.61 348.29,640.15 348.58,644.68 348.87,643.44 349.15,638.04 349.44,633.71 349.73,631.8 350.02,642.98 350.3,634.67 350.59,639.53 350.88,638.12 351.17,638.67 351.46,629.57 351.74,638.51 352.03,636.48 352.32,631.96 352.61,634.72 352.89,626.4 353.18,629.01 353.47,623.81 353.76,627.61 354.05,622.24 354.33,628.84 354.62,626.18 354.91,614.82 355.2,616.71 355.49,622.25 355.77,619.11 356.06,619.11 356.35,622.3 356.64,621.07 356.92,621.25 357.21,618.09 357.5,619.05 357.79,610.15 358.08,613.24 358.36,614.08 358.65,620.69 358.94,620.12 359.23,616.44 359.52,614.26 359.8,612.99 360.09,612.25 360.38,613.67 360.67,613.7 360.95,610.58 361.24,612.69 361.53,608.68 361.82,612.13 362.11,608.15 362.39,616.28 362.68,608.97 362.97,610.2 363.26,605.49 363.54,610.99 363.83,614.06 364.12,612.29 364.41,609.66 364.7,603.12 364.98,612.79 365.27,604.81 365.56,612.85 365.85,607.96 366.14,600.84 366.42,606.86 366.71,605.95 367,607.9 367.29,608.32 367.57,608.41 367.86,607.24 368.15,608.19 368.44,606.47 368.73,597.5 369.01,608.65 369.3,607.63 369.59,608.3 369.88,601.94 370.16,604.51 370.45,605.98 370.74,604.5 371.03,597.76 371.32,599.59 371.6,605.99 371.89,598.94 372.18,604.27 372.47,601.05 372.76,598.57 373.04,603.04 373.33,603.32 373.62,596.95 373.91,591.27 374.19,605.99 374.48,601.97 374.77,602.09 375.06,602.67 375.35,604.85 375.63,601.5 375.92,601.5 376.21,596.91 376.5,596.58 376.79,602.01 377.07,601.9 377.36,601.11 377.65,605.61 377.94,602.26 378.22,602.98 378.51,604.84 378.8,605.35 379.09,604.57 379.38,604.61 379.66,603.88 379.95,606.13 380.24,597.87 380.53,604.74 380.81,595.8 381.1,608.5 381.39,609.21 381.68,607.67 381.97,607.85 382.25,610.46 382.54,603.91 382.83,604.85 383.12,602.86 383.41,598.93 383.69,611.07 383.98,608.77 384.27,611.54 384.56,612.91 384.84,605.65 385.13,605.78 385.42,612.12 385.71,614 386,614.89 386.28,608.06 386.57,607.6 386.86,611.31 387.15,610.46 387.43,613.26 387.72,614.56 388.01,606.33 388.3,609.52 388.59,616.15 388.87,613.63 389.16,613.92 389.45,613.1 389.74,615.26 390.03,614.73 390.31,619.27 390.6,618.73 390.89,615.77 391.18,617.78 391.46,623.88 391.75,613.35 392.04,619.53 392.33,621.77 392.62,623.79 392.9,620.93 393.19,620.22 393.48,620.7 393.77,626.44 394.06,626.44 394.34,630.17 394.63,630.41 394.92,626.29 395.21,629.33 395.49,629.81 395.78,628.7 396.07,627.47 396.36,631.68 396.65,631.17 396.93,632.55 397.22,636.53 397.51,638.3 397.8,636.38 398.08,638.33 398.37,634.49 398.66,638.75 398.95,636.17 399.24,632.33 399.52,639.03 399.81,634.33 400.1,641.26 400.39,640.28 400.68,637.11 400.96,639.81 401.25,637.48 401.54,640.78 401.83,634 402.11,630.8 402.4,641.45 402.69,644.22 402.98,639.37 403.27,639.08 403.55,632.19 403.84,643.45 404.13,639.72 404.42,639.75 404.7,636.93 404.99,642.95 405.28,636.83 405.57,637.06 405.86,644.12 406.14,637.63 406.43,636.22 406.72,642.7 407.01,640.03 407.3,642.79 407.58,636.43 407.87,639.91 408.16,636.43 408.45,639.41 408.73,639.62 409.02,628.04 409.31,632.39 409.6,639.21 409.89,637.06 410.17,639.8 410.46,639.6 410.75,627.66 411.04,632.9 411.33,636.34 411.61,622.92 411.9,625.61 412.19,634.3 412.48,628.05 412.76,626.4 413.05,626.05 413.34,625.93 413.63,617.43 413.92,627.1 414.2,621.72 414.49,621.16 414.78,622.06 415.07,621.39 415.35,616.63 415.64,613.74 415.93,616.75 416.22,616.65 416.51,612.84 416.79,605.93 417.08,608.3 417.37,598.78 417.66,602.74 417.95,599.87 418.23,604.18 418.52,598.93 418.81,591.63 419.1,598.92 419.38,588.81 419.67,592.54 419.96,588.87 420.25,585.67 420.54,584.41 420.82,581.18 421.11,580.99 421.4,574.13 421.69,572.37 421.97,563.57 422.26,567.07 422.55,559.89 422.84,565.85 423.13,560.7 423.41,558.43 423.7,557.21 423.99,552.36 424.28,553.09 424.57,552.05 424.85,540.16 425.14,542.36 425.43,551.7 425.72,546.02 426,542.32 426.29,542.02 426.58,542.78 426.87,547.57 427.16,543.49 427.44,541.5 427.73,539.26 428.02,540.49 428.31,546.83 428.6,548.52 428.88,551.88 429.17,552.2 429.46,553.53 429.75,557.98 430.03,555.85 430.32,554.95 430.61,559.6 430.9,566.3 431.19,568.63 431.47,571.79 431.76,575.5 432.05,575.6 432.34,578.93 432.62,582.21 432.91,577.08 433.2,591.02 433.49,585.31 433.78,590.83 434.06,597.78 434.35,599.36 434.64,598 434.93,603.62 435.22,606.61 435.5,605.43 435.79,602.58 436.08,608.85 436.37,606.84 436.65,609.26 436.94,615.21 437.23,619.06 437.52,620.39 437.81,618.86 438.09,616.96 438.38,622.89 438.67,621.75 438.96,627.55 439.24,630.7 439.53,625.26 439.82,627.1 440.11,629.57 440.4,629.48 440.68,627.72 440.97,625.55 441.26,636.74 441.55,634.66 441.84,633.99 442.12,638.21 442.41,638.45 442.7,635.92 442.99,626.91 443.27,634.92 443.56,633.25 443.85,635.29 444.14,640.18 444.43,635.6 444.71,640.93 445,643.76 445.29,632.23 445.58,641.41 445.87,637.6 446.15,633.43 446.44,639.46 446.73,642.03 447.02,640.69 447.3,639.07 447.59,638.4 447.88,642.15 448.17,638.48 448.46,649.51 448.74,653.05 449.03,650.07 449.32,647.33 449.61,651.15 449.89,652.06 450.18,652.98 450.47,653.89 450.76,654.8 451.05,655.75 451.33,656.76 451.62,657.77 451.91,658.78 452.2,659.79 452.49,660.8 452.77,661.81 453.06,662.82 453.35,663.83" fill="none" stroke="#2a2a2a" stroke-width="0.3" stroke-linejoin="round" opacity="0.8"/><line x1="332.07" y1="528.2" x2="332.07" y2="664.5" stroke="#000" stroke-width="1" opacity="0.6"/><line x1="418.43" y1="528.2" x2="418.43" y2="664.5" stroke="#000" stroke-width="1" opacity="0.6"/></g><rect x="288.9" y="528.2" width="172.7" height="136.3" fill="none" stroke="#000" stroke-width="1.4" /><line x1="286.5" y1="664.5" x2="288.9" y2="664.5" stroke="#000" stroke-width="1.1" /><line x1="461.6" y1="664.5" x2="463.6" y2="664.5" stroke="#000" stroke-width="1" /><text x="286.3" y="666.8" font-size="6.6" font-family='"Liberation Sans", sans-serif' font-weight="bold" text-anchor="end" >0</text><line x1="287.5" y1="653.14" x2="288.9" y2="653.14" stroke="#000" stroke-width="0.9" /><line x1="461.6" y1="653.14" x2="462.8" y2="653.14" stroke="#000" stroke-width="0.9" /><line x1="286.5" y1="641.78" x2="288.9" y2="641.78" stroke="#000" stroke-width="1.1" /><line x1="461.6" y1="641.78" x2="463.6" y2="641.78" stroke="#000" stroke-width="1" /><text x="286.3" y="644.08" font-size="6.6" font-family='"Liberation Sans", sans-serif' font-weight="bold" text-anchor="end" >1k</text><line x1="287.5" y1="630.42" x2="288.9" y2="630.42" stroke="#000" stroke-width="0.9" /><line x1="461.6" y1="630.42" x2="462.8" y2="630.42" stroke="#000" stroke-width="0.9" /><line x1="286.5" y1="619.07" x2="288.9" y2="619.07" stroke="#000" stroke-width="1.1" /><line x1="461.6" y1="619.07" x2="463.6" y2="619.07" stroke="#000" stroke-width="1" /><text x="286.3" y="621.37" font-size="6.6" font-family='"Liberation Sans", sans-serif' font-weight="bold" text-anchor="end" >2k</text><line x1="287.5" y1="607.71" x2="288.9" y2="607.71" stroke="#000" stroke-width="0.9" /><line x1="461.6" y1="607.71" x2="462.8" y2="607.71" stroke="#000" stroke-width="0.9" /><line x1="286.5" y1="596.35" x2="288.9" y2="596.35" stroke="#000" stroke-width="1.1" /><line x1="461.6" y1="596.35" x2="463.6" y2="596.35" stroke="#000" stroke-width="1" /><text x="286.3" y="598.65" font-size="6.6" font-family='"Liberation Sans", sans-serif' font-weight="bold" text-anchor="end" >3k</text><line x1="287.5" y1="584.99" x2="288.9" y2="584.99" stroke="#000" stroke-width="0.9" /><line x1="461.6" y1="584.99" x2="462.8" y2="584.99" stroke="#000" stroke-width="0.9" /><line x1="286.5" y1="573.63" x2="288.9" y2="573.63" stroke="#000" stroke-width="1.1" /><line x1="461.6" y1="573.63" x2="463.6" y2="573.63" stroke="#000" stroke-width="1" /><text x="286.3" y="575.93" font-size="6.6" font-family='"Liberation Sans", sans-serif' font-weight="bold" text-anchor="end" >4k</text><line x1="287.5" y1="562.28" x2="288.9" y2="562.28" stroke="#000" stroke-width="0.9" /><line x1="461.6" y1="562.28" x2="462.8" y2="562.28" stroke="#000" stroke-width="0.9" /><line x1="286.5" y1="550.92" x2="288.9" y2="550.92" stroke="#000" stroke-width="1.1" /><line x1="461.6" y1="550.92" x2="463.6" y2="550.92" stroke="#000" stroke-width="1" /><text x="286.3" y="553.22" font-size="6.6" font-family='"Liberation Sans", sans-serif' font-weight="bold" text-anchor="end" >5k</text><line x1="287.5" y1="539.56" x2="288.9" y2="539.56" stroke="#000" stroke-width="0.9" /><line x1="461.6" y1="539.56" x2="462.8" y2="539.56" stroke="#000" stroke-width="0.9" /><line x1="286.5" y1="528.2" x2="288.9" y2="528.2" stroke="#000" stroke-width="1.1" /><line x1="461.6" y1="528.2" x2="463.6" y2="528.2" stroke="#000" stroke-width="1" /><text x="286.3" y="530.5" font-size="6.6" font-family='"Liberation Sans", sans-serif' font-weight="bold" text-anchor="end" >6k</text><line x1="288.9" y1="664.5" x2="288.9" y2="666.9" stroke="#000" stroke-width="1.1" /><text x="288.9" y="674.7" font-size="7.4" font-family='"Liberation Sans", sans-serif' font-weight="bold" text-anchor="middle" >0</text><line x1="332.07" y1="664.5" x2="332.07" y2="666.9" stroke="#000" stroke-width="1.1" /><text x="332.07" y="674.7" font-size="7.4" font-family='"Liberation Sans", sans-serif' font-weight="bold" text-anchor="middle" >45</text><line x1="375.25" y1="664.5" x2="375.25" y2="666.9" stroke="#000" stroke-width="1.1" /><text x="375.25" y="674.7" font-size="7.4" font-family='"Liberation Sans", sans-serif' font-weight="bold" text-anchor="middle" >90</text><line x1="418.43" y1="664.5" x2="418.43" y2="666.9" stroke="#000" stroke-width="1.1" /><text x="418.43" y="674.7" font-size="7.4" font-family='"Liberation Sans", sans-serif' font-weight="bold" text-anchor="middle" >135</text><line x1="461.6" y1="664.5" x2="461.6" y2="666.9" stroke="#000" stroke-width="1.1" /><text x="461.6" y="674.7" font-size="7.4" font-family='"Liberation Sans", sans-serif' font-weight="bold" text-anchor="middle" >180</text><line x1="310.49" y1="664.5" x2="310.49" y2="665.9" stroke="#000" stroke-width="0.9" /><line x1="353.66" y1="664.5" x2="353.66" y2="665.9" stroke="#000" stroke-width="0.9" /><line x1="396.84" y1="664.5" x2="396.84" y2="665.9" stroke="#000" stroke-width="0.9" /><line x1="440.01" y1="664.5" x2="440.01" y2="665.9" stroke="#000" stroke-width="0.9" /><text x="377" y="538.4" font-size="7.2" font-family='"Liberation Sans", sans-serif' font-weight="bold" text-anchor="middle" fill="#c0201f" >Target</text><text x="312.6" y="649.7" font-size="7.4" font-family='"Liberation Sans", sans-serif' font-weight="bold" font-style="italic" text-anchor="middle">A<tspan font-size="4.8" dy="1.8">xy</tspan></text><text x="377" y="649.7" font-size="7.4" font-family='"Liberation Sans", sans-serif' font-weight="bold" font-style="italic" text-anchor="middle">A<tspan font-size="4.8" dy="1.8">z</tspan></text><text x="437.4" y="649.7" font-size="7.4" font-family='"Liberation Sans", sans-serif' font-weight="bold" font-style="italic" text-anchor="middle">A<tspan font-size="4.8" dy="1.8">xy</tspan></text><text x="310" y="663" font-size="5.8" font-family='"Liberation Sans", sans-serif' font-weight="bold" text-anchor="middle" fill="#111" textLength="40.5" lengthAdjust="spacingAndGlyphs" >Area=1.071E+5</text><text x="375.4" y="663" font-size="5.8" font-family='"Liberation Sans", sans-serif' font-weight="bold" text-anchor="middle" fill="#111" textLength="40" lengthAdjust="spacingAndGlyphs" >Area=1.809E+5</text><text x="440.6" y="663" font-size="5.8" font-family='"Liberation Sans", sans-serif' font-weight="bold" text-anchor="middle" fill="#111" textLength="42" lengthAdjust="spacingAndGlyphs" >Area=9.895E+04</text><text x="265.4" y="369.5" font-size="13.5" font-family='"Liberation Sans", sans-serif' font-weight="bold" >i</text><text x="264.6" y="531.6" font-size="15" font-family='"Liberation Sans", sans-serif' font-weight="bold" >j</text><text x="275.2" y="426.5" font-size="9.8" font-family='"Liberation Sans", sans-serif' font-weight="bold" text-anchor="middle" textLength="94" lengthAdjust="spacingAndGlyphs" transform="rotate(-90 275.2 426.5)" >Intensity / arb. units</text><text x="275.2" y="596.3" font-size="9.8" font-family='"Liberation Sans", sans-serif' font-weight="bold" text-anchor="middle" textLength="94" lengthAdjust="spacingAndGlyphs" transform="rotate(-90 275.2 596.3)" >Intensity / arb. units</text><text x="366.3" y="515" font-size="10.6" font-family='"Liberation Sans", sans-serif' font-weight="bold" text-anchor="middle" textLength="87.5" lengthAdjust="spacingAndGlyphs">Azimuthal angle / °</text><text x="366.3" y="684" font-size="10.6" font-family='"Liberation Sans", sans-serif' font-weight="bold" text-anchor="middle" textLength="87.5" lengthAdjust="spacingAndGlyphs">Azimuthal angle / °</text><g clip-path="url(#cpk)"><line x1="536.3" y1="362.5" x2="536.3" y2="495.2" stroke="#2a5c96" stroke-width="0.8" stroke-dasharray="2 1.3"/><line x1="624.3" y1="362.5" x2="624.3" y2="495.2" stroke="#2a5c96" stroke-width="0.8" stroke-dasharray="2 1.3"/><polyline points="500.7,494.27 501.1,494.27 501.5,494.27 501.9,494.27 502.3,494.27 502.7,494.27 503.1,494.27 503.5,494.27 503.9,494.27 504.3,494.27 504.7,494.27 505.1,494.27 505.5,494.27 505.9,494.27 506.3,494.27 506.7,494.27 507.1,494.27 507.5,494.27 507.9,494.27 508.3,494.27 508.7,494.27 509.1,494.27 509.5,494.27 509.9,494.27 510.3,494.27 510.7,494.27 511.1,494.27 511.5,494.27 511.9,494.27 512.3,494.27 512.7,494.27 513.1,494.27 513.5,494.27 513.9,494.27 514.3,494.27 514.7,494.27 515.1,494.27 515.5,494.27 515.9,494.27 516.3,494.27 516.7,494.27 517.1,494.27 517.5,494.27 517.9,494.27 518.3,494.27 518.7,494.27 519.1,494.27 519.5,494.27 519.9,494.27 520.3,494.27 520.7,494.27 521.1,494.27 521.5,494.27 521.9,494.27 522.3,494.27 522.7,494.27 523.1,494.27 523.5,494.27 523.9,494.27 524.3,494.27 524.7,494.27 525.1,494.27 525.5,494.27 525.9,494.27 526.3,494.27 526.7,494.27 527.1,494.27 527.5,494.27 527.9,494.27 528.3,494.27 528.7,494.27 529.1,494.27 529.5,494.27 529.9,494.27 530.3,494.27 530.7,494.27 531.1,494.27 531.5,494.27 531.9,494.27 532.3,494.27 532.7,494.27 533.1,494.27 533.5,494.27 533.9,494.27 534.3,494.27 534.7,494.27 535.1,494.27 535.5,494.27 535.9,494.27 536.3,494.27 536.7,494.27 537.1,494.27 537.5,494.27 537.9,494.27 538.3,494.26 538.7,494.26 539.1,494.26 539.5,494.26 539.9,494.26 540.3,494.26 540.7,494.26 541.1,494.26 541.5,494.26 541.9,494.26 542.3,494.26 542.7,494.26 543.1,494.26 543.5,494.26 543.9,494.26 544.3,494.26 544.7,494.26 545.1,494.26 545.5,494.26 545.9,494.26 546.3,494.26 546.7,494.26 547.1,494.26 547.5,494.26 547.9,494.26 548.3,494.26 548.7,494.26 549.1,494.26 549.5,494.26 549.9,494.26 550.3,494.26 550.7,494.26 551.1,494.26 551.5,494.26 551.9,494.26 552.3,494.26 552.7,494.26 553.1,494.26 553.5,494.26 553.9,494.26 554.3,494.26 554.7,494.26 555.1,494.26 555.5,494.26 555.9,494.26 556.3,494.26 556.7,494.26 557.1,494.26 557.5,494.26 557.9,494.26 558.3,494.26 558.7,494.26 559.1,494.26 559.5,494.26 559.9,494.26 560.3,494.26 560.7,494.26 561.1,494.26 561.5,494.26 561.9,494.26 562.3,494.26 562.7,494.26 563.1,494.26 563.5,494.25 563.9,494.25 564.3,494.25 564.7,494.25 565.1,494.25 565.5,494.25 565.9,494.25 566.3,494.25 566.7,494.25 567.1,494.25 567.5,494.25 567.9,494.25 568.3,494.25 568.7,494.25 569.1,494.25 569.5,494.25 569.9,494.25 570.3,494.25 570.7,494.25 571.1,494.25 571.5,494.25 571.9,494.25 572.3,494.25 572.7,494.25 573.1,494.25 573.5,494.25 573.9,494.25 574.3,494.25 574.7,494.24 575.1,494.24 575.5,494.24 575.9,494.24 576.3,494.24 576.7,494.24 577.1,494.24 577.5,494.24 577.9,494.24 578.3,494.24 578.7,494.24 579.1,494.24 579.5,494.24 579.9,494.24 580.3,494.24 580.7,494.24 581.1,494.24 581.5,494.24 581.9,494.23 582.3,494.23 582.7,494.23 583.1,494.23 583.5,494.23 583.9,494.23 584.3,494.23 584.7,494.23 585.1,494.23 585.5,494.23 585.9,494.23 586.3,494.23 586.7,494.22 587.1,494.22 587.5,494.22 587.9,494.22 588.3,494.22 588.7,494.22 589.1,494.22 589.5,494.22 589.9,494.21 590.3,494.21 590.7,494.21 591.1,494.21 591.5,494.21 591.9,494.21 592.3,494.21 592.7,494.2 593.1,494.2 593.5,494.2 593.9,494.2 594.3,494.2 594.7,494.19 595.1,494.19 595.5,494.19 595.9,494.19 596.3,494.19 596.7,494.18 597.1,494.18 597.5,494.18 597.9,494.18 598.3,494.17 598.7,494.17 599.1,494.17 599.5,494.16 599.9,494.16 600.3,494.16 600.7,494.15 601.1,494.15 601.5,494.14 601.9,494.14 602.3,494.14 602.7,494.13 603.1,494.13 603.5,494.12 603.9,494.11 604.3,494.11 604.7,494.1 605.1,494.09 605.5,494.09 605.9,494.08 606.3,494.07 606.7,494.06 607.1,494.05 607.5,494.04 607.9,494.03 608.3,494.02 608.7,494.01 609.1,494 609.5,493.98 609.9,493.97 610.3,493.95 610.7,493.94 611.1,493.92 611.5,493.9 611.9,493.88 612.3,493.85 612.7,493.83 613.1,493.8 613.5,493.77 613.9,493.73 614.3,493.69 614.7,493.65 615.1,493.6 615.5,493.55 615.9,493.48 616.3,493.41 616.7,493.32 617.1,493.2 617.5,493.05 617.9,492.83 618.3,492.54 618.7,492.12 619.1,491.52 619.5,490.68 619.9,489.53 620.3,487.99 620.7,485.97 621.1,483.44 621.5,480.37 621.9,476.79 622.3,472.81 622.7,468.6 623.1,464.41 623.5,460.55 623.9,457.33 624.3,455.07 624.7,454.02 625.1,454.29 625.5,455.84 625.9,458.52 626.3,462.03 626.7,466.06 627.1,470.29 627.5,474.43 627.9,478.27 628.3,481.65 628.7,484.51 629.1,486.83 629.5,488.65 629.9,490.03 630.3,491.04 630.7,491.77 631.1,492.29 631.5,492.65 631.9,492.91 632.3,493.1 632.7,493.23 633.1,493.34 633.5,493.42 633.9,493.49 634.3,493.55 634.7,493.6 635.1,493.64 635.5,493.68 635.9,493.72 636.3,493.75 636.7,493.78 637.1,493.8 637.5,493.83 637.9,493.85 638.3,493.87 638.7,493.89 639.1,493.9 639.5,493.92 639.9,493.93 640.3,493.94 640.7,493.95 641.1,493.96 641.5,493.97 641.9,493.98 642.3,493.99 642.7,493.99 643.1,494 643.5,494 643.9,494.01 644.3,494.01 644.7,494.02 645.1,494.02 645.5,494.02 645.9,494.02 646.3,494.02 646.7,494.02 647.1,494.02 647.5,494.02 647.9,494.02 648.3,494.01 648.7,494.01 649.1,494 649.5,494 649.9,493.99 650.3,493.98 650.7,493.97 651.1,493.96 651.5,493.95 651.9,493.94 652.3,493.92 652.7,493.91 653.1,493.88 653.5,493.86 653.9,493.83 654.3,493.8 654.7,493.75 655.1,493.7 655.5,493.62 655.9,493.51 656.3,493.36 656.7,493.13 657.1,492.81 657.5,492.35 657.9,491.72 658.3,490.87 658.7,489.77 659.1,488.4 659.5,486.77 659.9,484.91 660.3,482.91 660.7,480.88 661.1,478.97 661.5,477.34 661.9,476.18 662.3,475.6 662.7,475.68 663.1,476.41 663.5,477.7 663.9,479.41 664.3,481.37 664.7,483.41 665.1,485.39 665.5,487.2 665.9,488.77 666.3,490.08 666.7,491.11 667.1,491.91 667.5,492.5 667.9,492.92 668.3,493.22 668.7,493.43 669.1,493.58 669.5,493.68 669.9,493.75 670.3,493.81 670.7,493.85 671.1,493.89 671.5,493.92 671.9,493.94 672.3,493.97 672.7,493.99 673.1,494.01 673.5,494.02 673.9,494.04 674.3,494.05 674.7,494.06 675.1,494.07 675.5,494.09 675.9,494.09 676.3,494.1 676.7,494.11 677.1,494.12" fill="none" stroke="#d6e48a" stroke-width="1.35" stroke-linejoin="round" /><polyline points="500.7,493.99 501.1,493.99 501.5,493.99 501.9,493.99 502.3,493.99 502.7,493.99 503.1,493.99 503.5,493.99 503.9,493.99 504.3,493.99 504.7,493.99 505.1,493.99 505.5,493.99 505.9,493.99 506.3,493.99 506.7,493.99 507.1,493.99 507.5,493.99 507.9,493.99 508.3,493.99 508.7,493.99 509.1,493.99 509.5,493.99 509.9,493.99 510.3,493.99 510.7,493.99 511.1,493.99 511.5,493.99 511.9,493.99 512.3,493.99 512.7,493.99 513.1,493.99 513.5,493.99 513.9,493.99 514.3,493.99 514.7,493.99 515.1,493.99 515.5,493.99 515.9,493.99 516.3,493.99 516.7,493.99 517.1,493.99 517.5,493.99 517.9,493.99 518.3,493.99 518.7,493.99 519.1,493.99 519.5,493.99 519.9,493.99 520.3,493.99 520.7,493.99 521.1,493.99 521.5,493.99 521.9,493.99 522.3,493.99 522.7,493.99 523.1,493.99 523.5,493.99 523.9,493.99 524.3,493.99 524.7,493.99 525.1,493.99 525.5,493.99 525.9,493.99 526.3,493.99 526.7,493.99 527.1,493.99 527.5,493.99 527.9,493.99 528.3,493.99 528.7,493.99 529.1,493.99 529.5,493.99 529.9,493.99 530.3,493.99 530.7,493.99 531.1,493.99 531.5,493.99 531.9,493.99 532.3,493.99 532.7,493.99 533.1,493.99 533.5,493.99 533.9,493.99 534.3,493.99 534.7,493.99 535.1,493.99 535.5,493.99 535.9,493.99 536.3,493.99 536.7,493.99 537.1,493.99 537.5,493.99 537.9,493.99 538.3,493.99 538.7,493.99 539.1,493.99 539.5,493.99 539.9,493.99 540.3,493.99 540.7,493.99 541.1,493.99 541.5,493.99 541.9,493.99 542.3,493.99 542.7,493.99 543.1,493.99 543.5,493.99 543.9,493.99 544.3,493.99 544.7,493.99 545.1,493.99 545.5,493.99 545.9,493.99 546.3,493.99 546.7,493.98 547.1,493.98 547.5,493.98 547.9,493.98 548.3,493.98 548.7,493.98 549.1,493.98 549.5,493.98 549.9,493.98 550.3,493.98 550.7,493.98 551.1,493.98 551.5,493.98 551.9,493.98 552.3,493.98 552.7,493.98 553.1,493.98 553.5,493.98 553.9,493.98 554.3,493.98 554.7,493.98 555.1,493.98 555.5,493.98 555.9,493.98 556.3,493.98 556.7,493.98 557.1,493.98 557.5,493.98 557.9,493.98 558.3,493.98 558.7,493.98 559.1,493.98 559.5,493.98 559.9,493.98 560.3,493.98 560.7,493.98 561.1,493.98 561.5,493.98 561.9,493.98 562.3,493.98 562.7,493.98 563.1,493.98 563.5,493.98 563.9,493.98 564.3,493.97 564.7,493.97 565.1,493.97 565.5,493.97 565.9,493.97 566.3,493.97 566.7,493.97 567.1,493.97 567.5,493.97 567.9,493.97 568.3,493.97 568.7,493.97 569.1,493.97 569.5,493.97 569.9,493.97 570.3,493.97 570.7,493.97 571.1,493.97 571.5,493.97 571.9,493.97 572.3,493.97 572.7,493.97 573.1,493.97 573.5,493.96 573.9,493.96 574.3,493.96 574.7,493.96 575.1,493.96 575.5,493.96 575.9,493.96 576.3,493.96 576.7,493.96 577.1,493.96 577.5,493.96 577.9,493.96 578.3,493.96 578.7,493.96 579.1,493.96 579.5,493.95 579.9,493.95 580.3,493.95 580.7,493.95 581.1,493.95 581.5,493.95 581.9,493.95 582.3,493.95 582.7,493.95 583.1,493.95 583.5,493.94 583.9,493.94 584.3,493.94 584.7,493.94 585.1,493.94 585.5,493.94 585.9,493.94 586.3,493.94 586.7,493.93 587.1,493.93 587.5,493.93 587.9,493.93 588.3,493.93 588.7,493.93 589.1,493.92 589.5,493.92 589.9,493.92 590.3,493.92 590.7,493.92 591.1,493.91 591.5,493.91 591.9,493.91 592.3,493.91 592.7,493.91 593.1,493.9 593.5,493.9 593.9,493.9 594.3,493.89 594.7,493.89 595.1,493.89 595.5,493.88 595.9,493.88 596.3,493.88 596.7,493.87 597.1,493.87 597.5,493.86 597.9,493.86 598.3,493.85 598.7,493.85 599.1,493.84 599.5,493.84 599.9,493.83 600.3,493.83 600.7,493.82 601.1,493.81 601.5,493.8 601.9,493.8 602.3,493.79 602.7,493.78 603.1,493.77 603.5,493.76 603.9,493.75 604.3,493.73 604.7,493.72 605.1,493.71 605.5,493.69 605.9,493.68 606.3,493.66 606.7,493.64 607.1,493.62 607.5,493.6 607.9,493.57 608.3,493.54 608.7,493.51 609.1,493.48 609.5,493.45 609.9,493.41 610.3,493.36 610.7,493.31 611.1,493.26 611.5,493.19 611.9,493.11 612.3,493.02 612.7,492.9 613.1,492.74 613.5,492.52 613.9,492.21 614.3,491.77 614.7,491.13 615.1,490.22 615.5,488.95 615.9,487.23 616.3,484.97 616.7,482.11 617.1,478.65 617.5,474.63 617.9,470.19 618.3,465.57 618.7,461.08 619.1,457.09 619.5,453.99 619.9,452.12 620.3,451.69 620.7,452.77 621.1,455.22 621.5,458.76 621.9,463.02 622.3,467.6 622.7,472.18 623.1,476.45 623.5,480.24 623.9,483.44 624.3,486.02 624.7,488.04 625.1,489.55 625.5,490.64 625.9,491.42 626.3,491.97 626.7,492.35 627.1,492.61 627.5,492.8 627.9,492.94 628.3,493.04 628.7,493.13 629.1,493.2 629.5,493.26 629.9,493.31 630.3,493.35 630.7,493.4 631.1,493.43 631.5,493.47 631.9,493.49 632.3,493.52 632.7,493.55 633.1,493.57 633.5,493.59 633.9,493.61 634.3,493.62 634.7,493.64 635.1,493.65 635.5,493.66 635.9,493.67 636.3,493.68 636.7,493.69 637.1,493.7 637.5,493.71 637.9,493.72 638.3,493.72 638.7,493.73 639.1,493.73 639.5,493.73 639.9,493.74 640.3,493.74 640.7,493.74 641.1,493.74 641.5,493.74 641.9,493.74 642.3,493.74 642.7,493.74 643.1,493.74 643.5,493.74 643.9,493.73 644.3,493.73 644.7,493.72 645.1,493.72 645.5,493.71 645.9,493.7 646.3,493.69 646.7,493.68 647.1,493.67 647.5,493.65 647.9,493.64 648.3,493.62 648.7,493.6 649.1,493.58 649.5,493.55 649.9,493.52 650.3,493.48 650.7,493.44 651.1,493.38 651.5,493.3 651.9,493.19 652.3,493.03 652.7,492.81 653.1,492.48 653.5,492.02 653.9,491.37 654.3,490.49 654.7,489.34 655.1,487.88 655.5,486.11 655.9,484.06 656.3,481.8 656.7,479.44 657.1,477.15 657.5,475.11 657.9,473.53 658.3,472.57 658.7,472.35 659.1,472.91 659.5,474.16 659.9,475.97 660.3,478.14 660.7,480.49 661.1,482.82 661.5,485.01 661.9,486.95 662.3,488.58 662.7,489.9 663.1,490.93 663.5,491.7 663.9,492.27 664.3,492.67 664.7,492.95 665.1,493.14 665.5,493.28 665.9,493.37 666.3,493.44 666.7,493.5 667.1,493.54 667.5,493.58 667.9,493.61 668.3,493.64 668.7,493.66 669.1,493.69 669.5,493.71 669.9,493.72 670.3,493.74 670.7,493.75 671.1,493.77 671.5,493.78 671.9,493.79 672.3,493.8 672.7,493.81 673.1,493.82 673.5,493.83 673.9,493.84 674.3,493.84 674.7,493.85 675.1,493.86 675.5,493.86 675.9,493.87 676.3,493.87 676.7,493.88 677.1,493.88" fill="none" stroke="#86d49c" stroke-width="1.35" stroke-linejoin="round" /><polyline points="500.7,493.72 501.1,493.72 501.5,493.72 501.9,493.72 502.3,493.72 502.7,493.72 503.1,493.72 503.5,493.72 503.9,493.72 504.3,493.72 504.7,493.72 505.1,493.72 505.5,493.72 505.9,493.72 506.3,493.72 506.7,493.72 507.1,493.72 507.5,493.72 507.9,493.72 508.3,493.72 508.7,493.71 509.1,493.71 509.5,493.71 509.9,493.71 510.3,493.71 510.7,493.71 511.1,493.71 511.5,493.71 511.9,493.71 512.3,493.71 512.7,493.71 513.1,493.71 513.5,493.71 513.9,493.71 514.3,493.71 514.7,493.71 515.1,493.71 515.5,493.71 515.9,493.71 516.3,493.71 516.7,493.71 517.1,493.71 517.5,493.71 517.9,493.71 518.3,493.71 518.7,493.71 519.1,493.71 519.5,493.71 519.9,493.71 520.3,493.71 520.7,493.71 521.1,493.71 521.5,493.71 521.9,493.71 522.3,493.71 522.7,493.71 523.1,493.71 523.5,493.71 523.9,493.71 524.3,493.71 524.7,493.71 525.1,493.71 525.5,493.71 525.9,493.71 526.3,493.71 526.7,493.71 527.1,493.71 527.5,493.71 527.9,493.71 528.3,493.71 528.7,493.71 529.1,493.71 529.5,493.71 529.9,493.71 530.3,493.71 530.7,493.71 531.1,493.71 531.5,493.71 531.9,493.71 532.3,493.71 532.7,493.71 533.1,493.71 533.5,493.71 533.9,493.71 534.3,493.71 534.7,493.71 535.1,493.71 535.5,493.71 535.9,493.71 536.3,493.71 536.7,493.71 537.1,493.71 537.5,493.71 537.9,493.71 538.3,493.71 538.7,493.71 539.1,493.71 539.5,493.71 539.9,493.71 540.3,493.71 540.7,493.71 541.1,493.71 541.5,493.71 541.9,493.71 542.3,493.71 542.7,493.71 543.1,493.71 543.5,493.7 543.9,493.7 544.3,493.7 544.7,493.7 545.1,493.7 545.5,493.7 545.9,493.7 546.3,493.7 546.7,493.7 547.1,493.7 547.5,493.7 547.9,493.7 548.3,493.7 548.7,493.7 549.1,493.7 549.5,493.7 549.9,493.7 550.3,493.7 550.7,493.7 551.1,493.7 551.5,493.7 551.9,493.7 552.3,493.7 552.7,493.7 553.1,493.7 553.5,493.7 553.9,493.7 554.3,493.7 554.7,493.7 555.1,493.7 555.5,493.7 555.9,493.7 556.3,493.7 556.7,493.7 557.1,493.7 557.5,493.7 557.9,493.69 558.3,493.69 558.7,493.69 559.1,493.69 559.5,493.69 559.9,493.69 560.3,493.69 560.7,493.69 561.1,493.69 561.5,493.69 561.9,493.69 562.3,493.69 562.7,493.69 563.1,493.69 563.5,493.69 563.9,493.69 564.3,493.69 564.7,493.69 565.1,493.69 565.5,493.69 565.9,493.69 566.3,493.68 566.7,493.68 567.1,493.68 567.5,493.68 567.9,493.68 568.3,493.68 568.7,493.68 569.1,493.68 569.5,493.68 569.9,493.68 570.3,493.68 570.7,493.68 571.1,493.68 571.5,493.68 571.9,493.67 572.3,493.67 572.7,493.67 573.1,493.67 573.5,493.67 573.9,493.67 574.3,493.67 574.7,493.67 575.1,493.67 575.5,493.67 575.9,493.66 576.3,493.66 576.7,493.66 577.1,493.66 577.5,493.66 577.9,493.66 578.3,493.66 578.7,493.65 579.1,493.65 579.5,493.65 579.9,493.65 580.3,493.65 580.7,493.65 581.1,493.65 581.5,493.64 581.9,493.64 582.3,493.64 582.7,493.64 583.1,493.64 583.5,493.63 583.9,493.63 584.3,493.63 584.7,493.63 585.1,493.62 585.5,493.62 585.9,493.62 586.3,493.61 586.7,493.61 587.1,493.61 587.5,493.61 587.9,493.6 588.3,493.6 588.7,493.59 589.1,493.59 589.5,493.59 589.9,493.58 590.3,493.58 590.7,493.57 591.1,493.57 591.5,493.56 591.9,493.56 592.3,493.55 592.7,493.54 593.1,493.54 593.5,493.53 593.9,493.52 594.3,493.52 594.7,493.51 595.1,493.5 595.5,493.49 595.9,493.48 596.3,493.47 596.7,493.46 597.1,493.45 597.5,493.43 597.9,493.42 598.3,493.4 598.7,493.39 599.1,493.37 599.5,493.35 599.9,493.33 600.3,493.31 600.7,493.29 601.1,493.26 601.5,493.23 601.9,493.2 602.3,493.17 602.7,493.13 603.1,493.09 603.5,493.04 603.9,492.99 604.3,492.93 604.7,492.87 605.1,492.79 605.5,492.7 605.9,492.59 606.3,492.44 606.7,492.25 607.1,491.98 607.5,491.59 607.9,491.03 608.3,490.23 608.7,489.1 609.1,487.54 609.5,485.44 609.9,482.72 610.3,479.32 610.7,475.26 611.1,470.61 611.5,465.58 611.9,460.44 612.3,455.57 612.7,451.4 613.1,448.35 613.5,446.76 613.9,446.83 614.3,448.54 614.7,451.7 615.1,455.94 615.5,460.84 615.9,465.98 616.3,470.99 616.7,475.59 617.1,479.61 617.5,482.95 617.9,485.62 618.3,487.67 618.7,489.19 619.1,490.29 619.5,491.06 619.9,491.6 620.3,491.97 620.7,492.24 621.1,492.42 621.5,492.56 621.9,492.67 622.3,492.76 622.7,492.83 623.1,492.9 623.5,492.95 623.9,493 624.3,493.04 624.7,493.08 625.1,493.12 625.5,493.15 625.9,493.18 626.3,493.2 626.7,493.22 627.1,493.24 627.5,493.26 627.9,493.28 628.3,493.29 628.7,493.31 629.1,493.32 629.5,493.33 629.9,493.34 630.3,493.34 630.7,493.35 631.1,493.36 631.5,493.36 631.9,493.37 632.3,493.37 632.7,493.37 633.1,493.37 633.5,493.37 633.9,493.37 634.3,493.37 634.7,493.36 635.1,493.36 635.5,493.35 635.9,493.34 636.3,493.33 636.7,493.32 637.1,493.31 637.5,493.3 637.9,493.28 638.3,493.26 638.7,493.24 639.1,493.22 639.5,493.19 639.9,493.15 640.3,493.11 640.7,493.07 641.1,493.01 641.5,492.92 641.9,492.81 642.3,492.64 642.7,492.38 643.1,492 643.5,491.43 643.9,490.63 644.3,489.56 644.7,488.19 645.1,486.55 645.5,484.72 645.9,482.83 646.3,481.03 646.7,479.47 647.1,478.25 647.5,477.35 647.9,476.61 648.3,475.84 648.7,474.83 649.1,473.46 649.5,471.73 649.9,469.8 650.3,467.94 650.7,466.5 651.1,465.82 651.5,466.11 651.9,467.45 652.3,469.69 652.7,472.6 653.1,475.85 653.5,479.13 653.9,482.21 654.3,484.9 654.7,487.12 655.1,488.87 655.5,490.18 655.9,491.11 656.3,491.77 656.7,492.21 657.1,492.51 657.5,492.71 657.9,492.85 658.3,492.95 658.7,493.03 659.1,493.1 659.5,493.15 659.9,493.19 660.3,493.23 660.7,493.27 661.1,493.3 661.5,493.33 661.9,493.35 662.3,493.37 662.7,493.39 663.1,493.41 663.5,493.43 663.9,493.45 664.3,493.46 664.7,493.47 665.1,493.49 665.5,493.5 665.9,493.51 666.3,493.52 666.7,493.53 667.1,493.53 667.5,493.54 667.9,493.55 668.3,493.56 668.7,493.56 669.1,493.57 669.5,493.57 669.9,493.58 670.3,493.59 670.7,493.59 671.1,493.59 671.5,493.6 671.9,493.6 672.3,493.61 672.7,493.61 673.1,493.61 673.5,493.62 673.9,493.62 674.3,493.62 674.7,493.63 675.1,493.63 675.5,493.63 675.9,493.63 676.3,493.64 676.7,493.64 677.1,493.64" fill="none" stroke="#2ccaa0" stroke-width="1.35" stroke-linejoin="round" /><polyline points="500.7,493.53 501.1,493.53 501.5,493.53 501.9,493.53 502.3,493.53 502.7,493.53 503.1,493.53 503.5,493.53 503.9,493.53 504.3,493.53 504.7,493.53 505.1,493.53 505.5,493.53 505.9,493.53 506.3,493.53 506.7,493.53 507.1,493.53 507.5,493.53 507.9,493.53 508.3,493.53 508.7,493.53 509.1,493.53 509.5,493.53 509.9,493.53 510.3,493.53 510.7,493.53 511.1,493.53 511.5,493.53 511.9,493.53 512.3,493.53 512.7,493.53 513.1,493.53 513.5,493.53 513.9,493.53 514.3,493.53 514.7,493.53 515.1,493.53 515.5,493.53 515.9,493.53 516.3,493.53 516.7,493.52 517.1,493.52 517.5,493.52 517.9,493.52 518.3,493.52 518.7,493.52 519.1,493.52 519.5,493.52 519.9,493.52 520.3,493.52 520.7,493.52 521.1,493.52 521.5,493.52 521.9,493.52 522.3,493.52 522.7,493.52 523.1,493.52 523.5,493.52 523.9,493.52 524.3,493.52 524.7,493.52 525.1,493.52 525.5,493.52 525.9,493.52 526.3,493.52 526.7,493.52 527.1,493.52 527.5,493.52 527.9,493.52 528.3,493.52 528.7,493.52 529.1,493.52 529.5,493.52 529.9,493.52 530.3,493.52 530.7,493.52 531.1,493.52 531.5,493.52 531.9,493.52 532.3,493.52 532.7,493.52 533.1,493.52 533.5,493.52 533.9,493.52 534.3,493.52 534.7,493.52 535.1,493.52 535.5,493.52 535.9,493.52 536.3,493.52 536.7,493.52 537.1,493.51 537.5,493.51 537.9,493.51 538.3,493.51 538.7,493.51 539.1,493.51 539.5,493.51 539.9,493.51 540.3,493.51 540.7,493.51 541.1,493.51 541.5,493.51 541.9,493.51 542.3,493.51 542.7,493.51 543.1,493.51 543.5,493.51 543.9,493.51 544.3,493.51 544.7,493.51 545.1,493.51 545.5,493.51 545.9,493.51 546.3,493.51 546.7,493.51 547.1,493.51 547.5,493.51 547.9,493.5 548.3,493.5 548.7,493.5 549.1,493.5 549.5,493.5 549.9,493.5 550.3,493.5 550.7,493.5 551.1,493.5 551.5,493.5 551.9,493.5 552.3,493.5 552.7,493.5 553.1,493.5 553.5,493.5 553.9,493.5 554.3,493.5 554.7,493.49 555.1,493.49 555.5,493.49 555.9,493.49 556.3,493.49 556.7,493.49 557.1,493.49 557.5,493.49 557.9,493.49 558.3,493.49 558.7,493.49 559.1,493.49 559.5,493.49 559.9,493.48 560.3,493.48 560.7,493.48 561.1,493.48 561.5,493.48 561.9,493.48 562.3,493.48 562.7,493.48 563.1,493.48 563.5,493.47 563.9,493.47 564.3,493.47 564.7,493.47 565.1,493.47 565.5,493.47 565.9,493.47 566.3,493.46 566.7,493.46 567.1,493.46 567.5,493.46 567.9,493.46 568.3,493.46 568.7,493.45 569.1,493.45 569.5,493.45 569.9,493.45 570.3,493.44 570.7,493.44 571.1,493.44 571.5,493.44 571.9,493.43 572.3,493.43 572.7,493.43 573.1,493.43 573.5,493.42 573.9,493.42 574.3,493.42 574.7,493.41 575.1,493.41 575.5,493.41 575.9,493.4 576.3,493.4 576.7,493.39 577.1,493.39 577.5,493.38 577.9,493.38 578.3,493.37 578.7,493.37 579.1,493.36 579.5,493.36 579.9,493.35 580.3,493.34 580.7,493.34 581.1,493.33 581.5,493.32 581.9,493.31 582.3,493.3 582.7,493.29 583.1,493.28 583.5,493.27 583.9,493.26 584.3,493.25 584.7,493.24 585.1,493.22 585.5,493.21 585.9,493.19 586.3,493.17 586.7,493.15 587.1,493.13 587.5,493.11 587.9,493.09 588.3,493.06 588.7,493.03 589.1,493 589.5,492.96 589.9,492.93 590.3,492.88 590.7,492.84 591.1,492.79 591.5,492.73 591.9,492.66 592.3,492.59 592.7,492.5 593.1,492.39 593.5,492.25 593.9,492.06 594.3,491.81 594.7,491.45 595.1,490.93 595.5,490.18 595.9,489.13 596.3,487.65 596.7,485.65 597.1,483.02 597.5,479.7 597.9,475.67 598.3,470.99 598.7,465.83 599.1,460.46 599.5,455.24 599.9,450.6 600.3,446.99 600.7,444.81 601.1,444.31 601.5,445.57 601.9,448.42 602.3,452.53 602.7,457.48 603.1,462.81 603.5,468.13 603.9,473.1 604.3,477.51 604.7,481.23 605.1,484.23 605.5,486.57 605.9,488.33 606.3,489.6 606.7,490.51 607.1,491.14 607.5,491.58 607.9,491.89 608.3,492.1 608.7,492.26 609.1,492.39 609.5,492.48 609.9,492.56 610.3,492.63 610.7,492.69 611.1,492.74 611.5,492.79 611.9,492.83 612.3,492.86 612.7,492.9 613.1,492.92 613.5,492.95 613.9,492.97 614.3,492.99 614.7,493.01 615.1,493.03 615.5,493.04 615.9,493.05 616.3,493.06 616.7,493.07 617.1,493.08 617.5,493.09 617.9,493.09 618.3,493.09 618.7,493.1 619.1,493.1 619.5,493.1 619.9,493.09 620.3,493.09 620.7,493.08 621.1,493.08 621.5,493.07 621.9,493.06 622.3,493.05 622.7,493.03 623.1,493.01 623.5,492.99 623.9,492.97 624.3,492.95 624.7,492.92 625.1,492.89 625.5,492.85 625.9,492.8 626.3,492.75 626.7,492.7 627.1,492.62 627.5,492.53 627.9,492.42 628.3,492.25 628.7,492.01 629.1,491.65 629.5,491.11 629.9,490.3 630.3,489.12 630.7,487.48 631.1,485.3 631.5,482.56 631.9,479.32 632.3,475.75 632.7,472.11 633.1,468.71 633.5,465.9 633.9,463.92 634.3,462.84 634.7,462.48 635.1,462.52 635.5,462.55 635.9,462.26 636.3,461.57 636.7,460.6 637.1,459.73 637.5,459.43 637.9,460.14 638.3,462.08 638.7,465.17 639.1,469.08 639.5,473.37 639.9,477.59 640.3,481.41 640.7,484.6 641.1,487.1 641.5,488.95 641.9,490.24 642.3,491.1 642.7,491.67 643.1,492.04 643.5,492.28 643.9,492.45 644.3,492.57 644.7,492.67 645.1,492.75 645.5,492.81 645.9,492.87 646.3,492.92 646.7,492.96 647.1,493 647.5,493.04 647.9,493.07 648.3,493.1 648.7,493.13 649.1,493.15 649.5,493.17 649.9,493.19 650.3,493.21 650.7,493.23 651.1,493.24 651.5,493.26 651.9,493.27 652.3,493.28 652.7,493.29 653.1,493.3 653.5,493.31 653.9,493.32 654.3,493.33 654.7,493.34 655.1,493.35 655.5,493.36 655.9,493.36 656.3,493.37 656.7,493.37 657.1,493.38 657.5,493.39 657.9,493.39 658.3,493.4 658.7,493.4 659.1,493.4 659.5,493.41 659.9,493.41 660.3,493.42 660.7,493.42 661.1,493.42 661.5,493.43 661.9,493.43 662.3,493.43 662.7,493.44 663.1,493.44 663.5,493.44 663.9,493.44 664.3,493.45 664.7,493.45 665.1,493.45 665.5,493.45 665.9,493.45 666.3,493.46 666.7,493.46 667.1,493.46 667.5,493.46 667.9,493.46 668.3,493.47 668.7,493.47 669.1,493.47 669.5,493.47 669.9,493.47 670.3,493.47 670.7,493.47 671.1,493.48 671.5,493.48 671.9,493.48 672.3,493.48 672.7,493.48 673.1,493.48 673.5,493.48 673.9,493.48 674.3,493.48 674.7,493.49 675.1,493.49 675.5,493.49 675.9,493.49 676.3,493.49 676.7,493.49 677.1,493.49" fill="none" stroke="#18b0c0" stroke-width="1.35" stroke-linejoin="round" /><polyline points="500.7,492.96 501.1,492.96 501.5,492.96 501.9,492.96 502.3,492.96 502.7,492.96 503.1,492.96 503.5,492.96 503.9,492.96 504.3,492.96 504.7,492.96 505.1,492.96 505.5,492.96 505.9,492.96 506.3,492.96 506.7,492.95 507.1,492.95 507.5,492.95 507.9,492.95 508.3,492.95 508.7,492.95 509.1,492.95 509.5,492.95 509.9,492.95 510.3,492.95 510.7,492.95 511.1,492.95 511.5,492.95 511.9,492.95 512.3,492.95 512.7,492.95 513.1,492.95 513.5,492.95 513.9,492.95 514.3,492.95 514.7,492.95 515.1,492.95 515.5,492.95 515.9,492.95 516.3,492.94 516.7,492.94 517.1,492.94 517.5,492.94 517.9,492.94 518.3,492.94 518.7,492.94 519.1,492.94 519.5,492.94 519.9,492.94 520.3,492.94 520.7,492.94 521.1,492.94 521.5,492.94 521.9,492.94 522.3,492.94 522.7,492.93 523.1,492.93 523.5,492.93 523.9,492.93 524.3,492.93 524.7,492.93 525.1,492.93 525.5,492.93 525.9,492.93 526.3,492.93 526.7,492.93 527.1,492.93 527.5,492.92 527.9,492.92 528.3,492.92 528.7,492.92 529.1,492.92 529.5,492.92 529.9,492.92 530.3,492.92 530.7,492.92 531.1,492.92 531.5,492.91 531.9,492.91 532.3,492.91 532.7,492.91 533.1,492.91 533.5,492.91 533.9,492.91 534.3,492.91 534.7,492.9 535.1,492.9 535.5,492.9 535.9,492.9 536.3,492.9 536.7,492.9 537.1,492.89 537.5,492.89 537.9,492.89 538.3,492.89 538.7,492.89 539.1,492.89 539.5,492.88 539.9,492.88 540.3,492.88 540.7,492.88 541.1,492.87 541.5,492.87 541.9,492.87 542.3,492.87 542.7,492.86 543.1,492.86 543.5,492.86 543.9,492.86 544.3,492.85 544.7,492.85 545.1,492.85 545.5,492.84 545.9,492.84 546.3,492.84 546.7,492.83 547.1,492.83 547.5,492.82 547.9,492.82 548.3,492.82 548.7,492.81 549.1,492.81 549.5,492.8 549.9,492.8 550.3,492.79 550.7,492.79 551.1,492.78 551.5,492.77 551.9,492.77 552.3,492.76 552.7,492.75 553.1,492.75 553.5,492.74 553.9,492.73 554.3,492.72 554.7,492.71 555.1,492.7 555.5,492.69 555.9,492.68 556.3,492.67 556.7,492.66 557.1,492.65 557.5,492.63 557.9,492.62 558.3,492.6 558.7,492.59 559.1,492.57 559.5,492.55 559.9,492.53 560.3,492.51 560.7,492.49 561.1,492.47 561.5,492.44 561.9,492.41 562.3,492.38 562.7,492.35 563.1,492.32 563.5,492.28 563.9,492.24 564.3,492.19 564.7,492.14 565.1,492.09 565.5,492.03 565.9,491.96 566.3,491.89 566.7,491.8 567.1,491.71 567.5,491.6 567.9,491.47 568.3,491.32 568.7,491.12 569.1,490.85 569.5,490.49 569.9,489.99 570.3,489.28 570.7,488.26 571.1,486.84 571.5,484.88 571.9,482.25 572.3,478.82 572.7,474.49 573.1,469.24 573.5,463.11 573.9,456.28 574.3,449.05 574.7,441.83 575.1,435.14 575.5,429.54 575.9,425.58 576.3,423.68 576.7,424.04 577.1,426.64 577.5,431.17 577.9,437.17 578.3,444.09 578.7,451.36 579.1,458.5 579.5,465.13 579.9,470.99 580.3,475.94 580.7,479.97 581.1,483.13 581.5,485.53 581.9,487.3 582.3,488.57 582.7,489.47 583.1,490.11 583.5,490.56 583.9,490.88 584.3,491.11 584.7,491.29 585.1,491.43 585.5,491.55 585.9,491.65 586.3,491.73 586.7,491.81 587.1,491.87 587.5,491.93 587.9,491.98 588.3,492.03 588.7,492.07 589.1,492.11 589.5,492.14 589.9,492.17 590.3,492.2 590.7,492.22 591.1,492.24 591.5,492.26 591.9,492.27 592.3,492.29 592.7,492.3 593.1,492.3 593.5,492.31 593.9,492.32 594.3,492.32 594.7,492.32 595.1,492.32 595.5,492.32 595.9,492.31 596.3,492.3 596.7,492.29 597.1,492.28 597.5,492.27 597.9,492.25 598.3,492.23 598.7,492.21 599.1,492.18 599.5,492.15 599.9,492.12 600.3,492.08 600.7,492.04 601.1,491.99 601.5,491.93 601.9,491.87 602.3,491.8 602.7,491.72 603.1,491.62 603.5,491.5 603.9,491.36 604.3,491.17 604.7,490.92 605.1,490.56 605.5,490.01 605.9,489.18 606.3,487.91 606.7,486.06 607.1,483.45 607.5,479.95 607.9,475.52 608.3,470.26 608.7,464.42 609.1,458.41 609.5,452.72 609.9,447.81 610.3,443.94 610.7,441.09 611.1,438.94 611.5,437.05 611.9,435.1 612.3,433.05 612.7,431.2 613.1,430.12 613.5,430.49 613.9,432.79 614.3,437.14 614.7,443.23 615.1,450.43 615.5,458.02 615.9,465.33 616.3,471.86 616.7,477.3 617.1,481.59 617.5,484.78 617.9,487.04 618.3,488.59 618.7,489.62 619.1,490.3 619.5,490.75 619.9,491.06 620.3,491.29 620.7,491.46 621.1,491.6 621.5,491.72 621.9,491.82 622.3,491.91 622.7,491.99 623.1,492.06 623.5,492.12 623.9,492.18 624.3,492.23 624.7,492.28 625.1,492.32 625.5,492.36 625.9,492.39 626.3,492.42 626.7,492.45 627.1,492.48 627.5,492.5 627.9,492.53 628.3,492.55 628.7,492.57 629.1,492.59 629.5,492.6 629.9,492.62 630.3,492.63 630.7,492.65 631.1,492.66 631.5,492.67 631.9,492.69 632.3,492.7 632.7,492.71 633.1,492.72 633.5,492.73 633.9,492.74 634.3,492.74 634.7,492.75 635.1,492.76 635.5,492.77 635.9,492.77 636.3,492.78 636.7,492.79 637.1,492.79 637.5,492.8 637.9,492.8 638.3,492.81 638.7,492.81 639.1,492.82 639.5,492.82 639.9,492.83 640.3,492.83 640.7,492.83 641.1,492.84 641.5,492.84 641.9,492.85 642.3,492.85 642.7,492.85 643.1,492.86 643.5,492.86 643.9,492.86 644.3,492.86 644.7,492.87 645.1,492.87 645.5,492.87 645.9,492.87 646.3,492.88 646.7,492.88 647.1,492.88 647.5,492.88 647.9,492.89 648.3,492.89 648.7,492.89 649.1,492.89 649.5,492.89 649.9,492.9 650.3,492.9 650.7,492.9 651.1,492.9 651.5,492.9 651.9,492.9 652.3,492.9 652.7,492.91 653.1,492.91 653.5,492.91 653.9,492.91 654.3,492.91 654.7,492.91 655.1,492.91 655.5,492.92 655.9,492.92 656.3,492.92 656.7,492.92 657.1,492.92 657.5,492.92 657.9,492.92 658.3,492.92 658.7,492.92 659.1,492.92 659.5,492.93 659.9,492.93 660.3,492.93 660.7,492.93 661.1,492.93 661.5,492.93 661.9,492.93 662.3,492.93 662.7,492.93 663.1,492.93 663.5,492.93 663.9,492.93 664.3,492.94 664.7,492.94 665.1,492.94 665.5,492.94 665.9,492.94 666.3,492.94 666.7,492.94 667.1,492.94 667.5,492.94 667.9,492.94 668.3,492.94 668.7,492.94 669.1,492.94 669.5,492.94 669.9,492.94 670.3,492.94 670.7,492.95 671.1,492.95 671.5,492.95 671.9,492.95 672.3,492.95 672.7,492.95 673.1,492.95 673.5,492.95 673.9,492.95 674.3,492.95 674.7,492.95 675.1,492.95 675.5,492.95 675.9,492.95 676.3,492.95 676.7,492.95 677.1,492.95" fill="none" stroke="#1f80c0" stroke-width="1.35" stroke-linejoin="round" /><polyline points="500.7,492.39 501.1,492.39 501.5,492.39 501.9,492.39 502.3,492.39 502.7,492.38 503.1,492.38 503.5,492.38 503.9,492.38 504.3,492.38 504.7,492.38 505.1,492.38 505.5,492.38 505.9,492.38 506.3,492.38 506.7,492.38 507.1,492.38 507.5,492.38 507.9,492.38 508.3,492.38 508.7,492.37 509.1,492.37 509.5,492.37 509.9,492.37 510.3,492.37 510.7,492.37 511.1,492.37 511.5,492.37 511.9,492.37 512.3,492.37 512.7,492.37 513.1,492.36 513.5,492.36 513.9,492.36 514.3,492.36 514.7,492.36 515.1,492.36 515.5,492.36 515.9,492.36 516.3,492.35 516.7,492.35 517.1,492.35 517.5,492.35 517.9,492.35 518.3,492.35 518.7,492.35 519.1,492.35 519.5,492.34 519.9,492.34 520.3,492.34 520.7,492.34 521.1,492.34 521.5,492.34 521.9,492.33 522.3,492.33 522.7,492.33 523.1,492.33 523.5,492.33 523.9,492.32 524.3,492.32 524.7,492.32 525.1,492.32 525.5,492.31 525.9,492.31 526.3,492.31 526.7,492.31 527.1,492.3 527.5,492.3 527.9,492.3 528.3,492.3 528.7,492.29 529.1,492.29 529.5,492.29 529.9,492.28 530.3,492.28 530.7,492.28 531.1,492.27 531.5,492.27 531.9,492.26 532.3,492.26 532.7,492.26 533.1,492.25 533.5,492.25 533.9,492.24 534.3,492.24 534.7,492.23 535.1,492.23 535.5,492.22 535.9,492.21 536.3,492.21 536.7,492.2 537.1,492.19 537.5,492.19 537.9,492.18 538.3,492.17 538.7,492.16 539.1,492.15 539.5,492.14 539.9,492.13 540.3,492.12 540.7,492.11 541.1,492.1 541.5,492.09 541.9,492.08 542.3,492.06 542.7,492.05 543.1,492.03 543.5,492.02 543.9,492 544.3,491.98 544.7,491.96 545.1,491.94 545.5,491.92 545.9,491.89 546.3,491.87 546.7,491.84 547.1,491.81 547.5,491.78 547.9,491.74 548.3,491.7 548.7,491.66 549.1,491.62 549.5,491.57 549.9,491.51 550.3,491.45 550.7,491.39 551.1,491.32 551.5,491.23 551.9,491.14 552.3,491.04 552.7,490.92 553.1,490.77 553.5,490.59 553.9,490.35 554.3,490.04 554.7,489.6 555.1,488.99 555.5,488.12 555.9,486.89 556.3,485.17 556.7,482.83 557.1,479.73 557.5,475.74 557.9,470.79 558.3,464.88 558.7,458.13 559.1,450.76 559.5,443.14 559.9,435.77 560.3,429.21 560.7,424.05 561.1,420.81 561.5,419.85 561.9,421.28 562.3,424.93 562.7,430.41 563.1,437.18 563.5,444.64 563.9,452.24 564.3,459.5 564.7,466.1 565.1,471.82 565.5,476.57 565.9,480.37 566.3,483.3 566.7,485.5 567.1,487.1 567.5,488.25 567.9,489.05 568.3,489.62 568.7,490.02 569.1,490.31 569.5,490.53 569.9,490.7 570.3,490.83 570.7,490.94 571.1,491.04 571.5,491.12 571.9,491.19 572.3,491.26 572.7,491.32 573.1,491.37 573.5,491.41 573.9,491.45 574.3,491.49 574.7,491.52 575.1,491.55 575.5,491.57 575.9,491.6 576.3,491.61 576.7,491.63 577.1,491.64 577.5,491.66 577.9,491.67 578.3,491.67 578.7,491.68 579.1,491.68 579.5,491.68 579.9,491.68 580.3,491.68 580.7,491.67 581.1,491.66 581.5,491.66 581.9,491.64 582.3,491.63 582.7,491.61 583.1,491.59 583.5,491.57 583.9,491.55 584.3,491.52 584.7,491.49 585.1,491.46 585.5,491.42 585.9,491.37 586.3,491.33 586.7,491.27 587.1,491.21 587.5,491.15 587.9,491.07 588.3,490.99 588.7,490.89 589.1,490.78 589.5,490.65 589.9,490.49 590.3,490.3 590.7,490.05 591.1,489.71 591.5,489.25 591.9,488.59 592.3,487.66 592.7,486.33 593.1,484.48 593.5,481.95 593.9,478.56 594.3,474.19 594.7,468.73 595.1,462.17 595.5,454.62 595.9,446.31 596.3,437.65 596.7,429.17 597.1,421.5 597.5,415.33 597.9,411.26 598.3,409.73 598.7,410.94 599.1,414.72 599.5,420.68 599.9,428.21 600.3,436.63 600.7,445.31 601.1,453.68 601.5,461.35 601.9,468.04 602.3,473.63 602.7,478.14 603.1,481.64 603.5,484.27 603.9,486.2 604.3,487.58 604.7,488.56 605.1,489.25 605.5,489.74 605.9,490.09 606.3,490.36 606.7,490.56 607.1,490.73 607.5,490.87 607.9,490.98 608.3,491.09 608.7,491.18 609.1,491.26 609.5,491.34 609.9,491.4 610.3,491.46 610.7,491.52 611.1,491.57 611.5,491.62 611.9,491.66 612.3,491.7 612.7,491.74 613.1,491.77 613.5,491.8 613.9,491.83 614.3,491.86 614.7,491.89 615.1,491.91 615.5,491.93 615.9,491.95 616.3,491.97 616.7,491.99 617.1,492.01 617.5,492.02 617.9,492.04 618.3,492.05 618.7,492.07 619.1,492.08 619.5,492.09 619.9,492.1 620.3,492.11 620.7,492.13 621.1,492.14 621.5,492.14 621.9,492.15 622.3,492.16 622.7,492.17 623.1,492.18 623.5,492.19 623.9,492.19 624.3,492.2 624.7,492.21 625.1,492.21 625.5,492.22 625.9,492.22 626.3,492.23 626.7,492.23 627.1,492.24 627.5,492.24 627.9,492.25 628.3,492.25 628.7,492.26 629.1,492.26 629.5,492.27 629.9,492.27 630.3,492.27 630.7,492.28 631.1,492.28 631.5,492.28 631.9,492.29 632.3,492.29 632.7,492.29 633.1,492.3 633.5,492.3 633.9,492.3 634.3,492.3 634.7,492.31 635.1,492.31 635.5,492.31 635.9,492.31 636.3,492.32 636.7,492.32 637.1,492.32 637.5,492.32 637.9,492.33 638.3,492.33 638.7,492.33 639.1,492.33 639.5,492.33 639.9,492.34 640.3,492.34 640.7,492.34 641.1,492.34 641.5,492.34 641.9,492.34 642.3,492.34 642.7,492.35 643.1,492.35 643.5,492.35 643.9,492.35 644.3,492.35 644.7,492.35 645.1,492.35 645.5,492.36 645.9,492.36 646.3,492.36 646.7,492.36 647.1,492.36 647.5,492.36 647.9,492.36 648.3,492.36 648.7,492.36 649.1,492.37 649.5,492.37 649.9,492.37 650.3,492.37 650.7,492.37 651.1,492.37 651.5,492.37 651.9,492.37 652.3,492.37 652.7,492.37 653.1,492.37 653.5,492.38 653.9,492.38 654.3,492.38 654.7,492.38 655.1,492.38 655.5,492.38 655.9,492.38 656.3,492.38 656.7,492.38 657.1,492.38 657.5,492.38 657.9,492.38 658.3,492.38 658.7,492.38 659.1,492.39 659.5,492.39 659.9,492.39 660.3,492.39 660.7,492.39 661.1,492.39 661.5,492.39 661.9,492.39 662.3,492.39 662.7,492.39 663.1,492.39 663.5,492.39 663.9,492.39 664.3,492.39 664.7,492.39 665.1,492.39 665.5,492.39 665.9,492.39 666.3,492.39 666.7,492.39 667.1,492.4 667.5,492.4 667.9,492.4 668.3,492.4 668.7,492.4 669.1,492.4 669.5,492.4 669.9,492.4 670.3,492.4 670.7,492.4 671.1,492.4 671.5,492.4 671.9,492.4 672.3,492.4 672.7,492.4 673.1,492.4 673.5,492.4 673.9,492.4 674.3,492.4 674.7,492.4 675.1,492.4 675.5,492.4 675.9,492.4 676.3,492.4 676.7,492.4 677.1,492.4" fill="none" stroke="#2048b0" stroke-width="1.35" stroke-linejoin="round" /><polyline points="500.7,492.05 501.1,492.04 501.5,492.04 501.9,492.04 502.3,492.04 502.7,492.03 503.1,492.03 503.5,492.03 503.9,492.03 504.3,492.02 504.7,492.02 505.1,492.02 505.5,492.01 505.9,492.01 506.3,492.01 506.7,492 507.1,492 507.5,491.99 507.9,491.99 508.3,491.99 508.7,491.98 509.1,491.98 509.5,491.97 509.9,491.96 510.3,491.96 510.7,491.95 511.1,491.95 511.5,491.94 511.9,491.93 512.3,491.93 512.7,491.92 513.1,491.91 513.5,491.9 513.9,491.89 514.3,491.89 514.7,491.88 515.1,491.87 515.5,491.86 515.9,491.84 516.3,491.83 516.7,491.82 517.1,491.81 517.5,491.79 517.9,491.78 518.3,491.76 518.7,491.74 519.1,491.72 519.5,491.7 519.9,491.68 520.3,491.66 520.7,491.63 521.1,491.61 521.5,491.58 521.9,491.55 522.3,491.51 522.7,491.47 523.1,491.43 523.5,491.39 523.9,491.34 524.3,491.29 524.7,491.23 525.1,491.16 525.5,491.09 525.9,491 526.3,490.91 526.7,490.8 527.1,490.67 527.5,490.52 527.9,490.31 528.3,490.04 528.7,489.67 529.1,489.14 529.5,488.38 529.9,487.29 530.3,485.73 530.7,483.58 531.1,480.67 531.5,476.88 531.9,472.11 532.3,466.37 532.7,459.76 533.1,452.53 533.5,445.07 533.9,437.91 534.3,431.67 534.7,426.95 535.1,424.28 535.5,423.98 535.9,426.1 536.3,430.36 536.7,436.3 537.1,443.29 537.5,450.72 537.9,458.04 538.3,464.83 538.7,470.79 539.1,475.79 539.5,479.81 539.9,482.91 540.3,485.23 540.7,486.91 541.1,488.09 541.5,488.92 541.9,489.49 542.3,489.89 542.7,490.18 543.1,490.39 543.5,490.55 543.9,490.68 544.3,490.79 544.7,490.88 545.1,490.96 545.5,491.03 545.9,491.09 546.3,491.15 546.7,491.19 547.1,491.24 547.5,491.28 547.9,491.31 548.3,491.34 548.7,491.37 549.1,491.39 549.5,491.41 549.9,491.43 550.3,491.45 550.7,491.46 551.1,491.47 551.5,491.48 551.9,491.49 552.3,491.5 552.7,491.5 553.1,491.5 553.5,491.5 553.9,491.5 554.3,491.5 554.7,491.49 555.1,491.49 555.5,491.48 555.9,491.47 556.3,491.45 556.7,491.44 557.1,491.42 557.5,491.4 557.9,491.38 558.3,491.35 558.7,491.33 559.1,491.3 559.5,491.26 559.9,491.22 560.3,491.18 560.7,491.13 561.1,491.07 561.5,491.01 561.9,490.95 562.3,490.87 562.7,490.78 563.1,490.68 563.5,490.57 563.9,490.43 564.3,490.26 564.7,490.05 565.1,489.76 565.5,489.36 565.9,488.8 566.3,487.98 566.7,486.81 567.1,485.14 567.5,482.81 567.9,479.65 568.3,475.51 568.7,470.26 569.1,463.9 569.5,456.52 569.9,448.37 570.3,439.89 570.7,431.65 571.1,424.32 571.5,418.63 571.9,415.19 572.3,414.41 572.7,416.39 573.1,420.9 573.5,427.4 573.9,435.22 574.3,443.65 574.7,452.05 575.1,459.9 575.5,466.86 575.9,472.74 576.3,477.5 576.7,481.2 577.1,483.97 577.5,485.99 577.9,487.43 578.3,488.43 578.7,489.13 579.1,489.61 579.5,489.96 579.9,490.22 580.3,490.42 580.7,490.57 581.1,490.71 581.5,490.82 581.9,490.92 582.3,491 582.7,491.08 583.1,491.15 583.5,491.22 583.9,491.27 584.3,491.33 584.7,491.37 585.1,491.42 585.5,491.46 585.9,491.49 586.3,491.53 586.7,491.56 587.1,491.59 587.5,491.62 587.9,491.64 588.3,491.66 588.7,491.69 589.1,491.71 589.5,491.73 589.9,491.74 590.3,491.76 590.7,491.78 591.1,491.79 591.5,491.8 591.9,491.82 592.3,491.83 592.7,491.84 593.1,491.85 593.5,491.86 593.9,491.87 594.3,491.88 594.7,491.89 595.1,491.9 595.5,491.91 595.9,491.92 596.3,491.92 596.7,491.93 597.1,491.94 597.5,491.94 597.9,491.95 598.3,491.96 598.7,491.96 599.1,491.97 599.5,491.97 599.9,491.98 600.3,491.98 600.7,491.99 601.1,491.99 601.5,491.99 601.9,492 602.3,492 602.7,492.01 603.1,492.01 603.5,492.01 603.9,492.02 604.3,492.02 604.7,492.02 605.1,492.03 605.5,492.03 605.9,492.03 606.3,492.03 606.7,492.04 607.1,492.04 607.5,492.04 607.9,492.04 608.3,492.05 608.7,492.05 609.1,492.05 609.5,492.05 609.9,492.06 610.3,492.06 610.7,492.06 611.1,492.06 611.5,492.06 611.9,492.06 612.3,492.07 612.7,492.07 613.1,492.07 613.5,492.07 613.9,492.07 614.3,492.07 614.7,492.08 615.1,492.08 615.5,492.08 615.9,492.08 616.3,492.08 616.7,492.08 617.1,492.08 617.5,492.08 617.9,492.09 618.3,492.09 618.7,492.09 619.1,492.09 619.5,492.09 619.9,492.09 620.3,492.09 620.7,492.09 621.1,492.09 621.5,492.1 621.9,492.1 622.3,492.1 622.7,492.1 623.1,492.1 623.5,492.1 623.9,492.1 624.3,492.1 624.7,492.1 625.1,492.1 625.5,492.1 625.9,492.1 626.3,492.11 626.7,492.11 627.1,492.11 627.5,492.11 627.9,492.11 628.3,492.11 628.7,492.11 629.1,492.11 629.5,492.11 629.9,492.11 630.3,492.11 630.7,492.11 631.1,492.11 631.5,492.11 631.9,492.11 632.3,492.11 632.7,492.12 633.1,492.12 633.5,492.12 633.9,492.12 634.3,492.12 634.7,492.12 635.1,492.12 635.5,492.12 635.9,492.12 636.3,492.12 636.7,492.12 637.1,492.12 637.5,492.12 637.9,492.12 638.3,492.12 638.7,492.12 639.1,492.12 639.5,492.12 639.9,492.12 640.3,492.12 640.7,492.12 641.1,492.12 641.5,492.13 641.9,492.13 642.3,492.13 642.7,492.13 643.1,492.13 643.5,492.13 643.9,492.13 644.3,492.13 644.7,492.13 645.1,492.13 645.5,492.13 645.9,492.13 646.3,492.13 646.7,492.13 647.1,492.13 647.5,492.13 647.9,492.13 648.3,492.13 648.7,492.13 649.1,492.13 649.5,492.13 649.9,492.13 650.3,492.13 650.7,492.13 651.1,492.13 651.5,492.13 651.9,492.13 652.3,492.13 652.7,492.13 653.1,492.13 653.5,492.13 653.9,492.13 654.3,492.13 654.7,492.13 655.1,492.13 655.5,492.13 655.9,492.14 656.3,492.14 656.7,492.14 657.1,492.14 657.5,492.14 657.9,492.14 658.3,492.14 658.7,492.14 659.1,492.14 659.5,492.14 659.9,492.14 660.3,492.14 660.7,492.14 661.1,492.14 661.5,492.14 661.9,492.14 662.3,492.14 662.7,492.14 663.1,492.14 663.5,492.14 663.9,492.14 664.3,492.14 664.7,492.14 665.1,492.14 665.5,492.14 665.9,492.14 666.3,492.14 666.7,492.14 667.1,492.14 667.5,492.14 667.9,492.14 668.3,492.14 668.7,492.14 669.1,492.14 669.5,492.14 669.9,492.14 670.3,492.14 670.7,492.14 671.1,492.14 671.5,492.14 671.9,492.14 672.3,492.14 672.7,492.14 673.1,492.14 673.5,492.14 673.9,492.14 674.3,492.14 674.7,492.14 675.1,492.14 675.5,492.14 675.9,492.14 676.3,492.14 676.7,492.14 677.1,492.14" fill="none" stroke="#1c2a84" stroke-width="1.35" stroke-linejoin="round" /></g><rect x="501.7" y="358" width="174.6" height="137.2" fill="none" stroke="#000" stroke-width="1.5" /><line x1="499.3" y1="477.9" x2="501.7" y2="477.9" stroke="#000" stroke-width="1.1" /><line x1="676.3" y1="477.9" x2="678.3" y2="477.9" stroke="#000" stroke-width="1" /><text x="498.9" y="480.5" font-size="7.4" font-family='"Liberation Sans", sans-serif' font-weight="bold" text-anchor="end" >2k</text><line x1="499.3" y1="459.5" x2="501.7" y2="459.5" stroke="#000" stroke-width="1.1" /><line x1="676.3" y1="459.5" x2="678.3" y2="459.5" stroke="#000" stroke-width="1" /><text x="498.9" y="462.1" font-size="7.4" font-family='"Liberation Sans", sans-serif' font-weight="bold" text-anchor="end" >4k</text><line x1="499.3" y1="441.1" x2="501.7" y2="441.1" stroke="#000" stroke-width="1.1" /><line x1="676.3" y1="441.1" x2="678.3" y2="441.1" stroke="#000" stroke-width="1" /><text x="498.9" y="443.7" font-size="7.4" font-family='"Liberation Sans", sans-serif' font-weight="bold" text-anchor="end" >6k</text><line x1="499.3" y1="422.7" x2="501.7" y2="422.7" stroke="#000" stroke-width="1.1" /><line x1="676.3" y1="422.7" x2="678.3" y2="422.7" stroke="#000" stroke-width="1" /><text x="498.9" y="425.3" font-size="7.4" font-family='"Liberation Sans", sans-serif' font-weight="bold" text-anchor="end" >8k</text><line x1="499.3" y1="404.3" x2="501.7" y2="404.3" stroke="#000" stroke-width="1.1" /><line x1="676.3" y1="404.3" x2="678.3" y2="404.3" stroke="#000" stroke-width="1" /><text x="498.9" y="406.9" font-size="7.4" font-family='"Liberation Sans", sans-serif' font-weight="bold" text-anchor="end" >10k</text><line x1="499.3" y1="385.9" x2="501.7" y2="385.9" stroke="#000" stroke-width="1.1" /><line x1="676.3" y1="385.9" x2="678.3" y2="385.9" stroke="#000" stroke-width="1" /><text x="498.9" y="388.5" font-size="7.4" font-family='"Liberation Sans", sans-serif' font-weight="bold" text-anchor="end" >12k</text><line x1="499.3" y1="367.5" x2="501.7" y2="367.5" stroke="#000" stroke-width="1.1" /><line x1="676.3" y1="367.5" x2="678.3" y2="367.5" stroke="#000" stroke-width="1" /><text x="498.9" y="370.1" font-size="7.4" font-family='"Liberation Sans", sans-serif' font-weight="bold" text-anchor="end" >14k</text><line x1="500.3" y1="487.1" x2="501.7" y2="487.1" stroke="#000" stroke-width="0.9" /><line x1="676.3" y1="487.1" x2="677.5" y2="487.1" stroke="#000" stroke-width="0.9" /><line x1="500.3" y1="468.7" x2="501.7" y2="468.7" stroke="#000" stroke-width="0.9" /><line x1="676.3" y1="468.7" x2="677.5" y2="468.7" stroke="#000" stroke-width="0.9" /><line x1="500.3" y1="450.3" x2="501.7" y2="450.3" stroke="#000" stroke-width="0.9" /><line x1="676.3" y1="450.3" x2="677.5" y2="450.3" stroke="#000" stroke-width="0.9" /><line x1="500.3" y1="431.9" x2="501.7" y2="431.9" stroke="#000" stroke-width="0.9" /><line x1="676.3" y1="431.9" x2="677.5" y2="431.9" stroke="#000" stroke-width="0.9" /><line x1="500.3" y1="413.5" x2="501.7" y2="413.5" stroke="#000" stroke-width="0.9" /><line x1="676.3" y1="413.5" x2="677.5" y2="413.5" stroke="#000" stroke-width="0.9" /><line x1="500.3" y1="395.1" x2="501.7" y2="395.1" stroke="#000" stroke-width="0.9" /><line x1="676.3" y1="395.1" x2="677.5" y2="395.1" stroke="#000" stroke-width="0.9" /><line x1="500.3" y1="376.7" x2="501.7" y2="376.7" stroke="#000" stroke-width="0.9" /><line x1="676.3" y1="376.7" x2="677.5" y2="376.7" stroke="#000" stroke-width="0.9" /><line x1="500.3" y1="358.3" x2="501.7" y2="358.3" stroke="#000" stroke-width="0.9" /><line x1="676.3" y1="358.3" x2="677.5" y2="358.3" stroke="#000" stroke-width="0.9" /><line x1="505.78" y1="495.2" x2="505.78" y2="497.6" stroke="#000" stroke-width="1.1" /><text x="505.78" y="505" font-size="6.4" font-family='"Liberation Sans", sans-serif' font-weight="bold" text-anchor="middle" textLength="14.5" lengthAdjust="spacingAndGlyphs" >0.56</text><line x1="521.14" y1="495.2" x2="521.14" y2="496.6" stroke="#000" stroke-width="0.9" /><line x1="536.5" y1="495.2" x2="536.5" y2="497.6" stroke="#000" stroke-width="1.1" /><text x="536.5" y="505" font-size="6.4" font-family='"Liberation Sans", sans-serif' font-weight="bold" text-anchor="middle" textLength="14.5" lengthAdjust="spacingAndGlyphs" >0.64</text><line x1="551.86" y1="495.2" x2="551.86" y2="496.6" stroke="#000" stroke-width="0.9" /><line x1="567.22" y1="495.2" x2="567.22" y2="497.6" stroke="#000" stroke-width="1.1" /><text x="567.22" y="505" font-size="6.4" font-family='"Liberation Sans", sans-serif' font-weight="bold" text-anchor="middle" textLength="14.5" lengthAdjust="spacingAndGlyphs" >0.72</text><line x1="582.58" y1="495.2" x2="582.58" y2="496.6" stroke="#000" stroke-width="0.9" /><line x1="597.94" y1="495.2" x2="597.94" y2="497.6" stroke="#000" stroke-width="1.1" /><text x="597.94" y="505" font-size="6.4" font-family='"Liberation Sans", sans-serif' font-weight="bold" text-anchor="middle" textLength="14.5" lengthAdjust="spacingAndGlyphs" >0.80</text><line x1="613.3" y1="495.2" x2="613.3" y2="496.6" stroke="#000" stroke-width="0.9" /><line x1="628.66" y1="495.2" x2="628.66" y2="497.6" stroke="#000" stroke-width="1.1" /><text x="628.66" y="505" font-size="6.4" font-family='"Liberation Sans", sans-serif' font-weight="bold" text-anchor="middle" textLength="14.5" lengthAdjust="spacingAndGlyphs" >0.88</text><line x1="644.02" y1="495.2" x2="644.02" y2="496.6" stroke="#000" stroke-width="0.9" /><line x1="659.38" y1="495.2" x2="659.38" y2="497.6" stroke="#000" stroke-width="1.1" /><text x="659.38" y="505" font-size="6.4" font-family='"Liberation Sans", sans-serif' font-weight="bold" text-anchor="middle" textLength="14.5" lengthAdjust="spacingAndGlyphs" >0.96</text><line x1="674.74" y1="495.2" x2="674.74" y2="496.6" stroke="#000" stroke-width="0.9" /><line x1="641.1" y1="363.4" x2="654.3" y2="363.4" stroke="#d6e48a" stroke-width="2.1" /><text x="656.1" y="365.8" font-size="6.8" font-family='"Liberation Sans", sans-serif' font-weight="bold" textLength="16.3" lengthAdjust="spacingAndGlyphs" >0.117</text><line x1="641.1" y1="371.53" x2="654.3" y2="371.53" stroke="#86d49c" stroke-width="2.1" /><text x="656.1" y="373.93" font-size="6.8" font-family='"Liberation Sans", sans-serif' font-weight="bold" textLength="16.3" lengthAdjust="spacingAndGlyphs" >0.145</text><line x1="641.1" y1="379.66" x2="654.3" y2="379.66" stroke="#2ccaa0" stroke-width="2.1" /><text x="656.1" y="382.06" font-size="6.8" font-family='"Liberation Sans", sans-serif' font-weight="bold" textLength="16.3" lengthAdjust="spacingAndGlyphs" >0.198</text><line x1="641.1" y1="387.79" x2="654.3" y2="387.79" stroke="#18b0c0" stroke-width="2.1" /><text x="656.1" y="390.19" font-size="6.8" font-family='"Liberation Sans", sans-serif' font-weight="bold" textLength="16.3" lengthAdjust="spacingAndGlyphs" >0.300</text><line x1="641.1" y1="395.92" x2="654.3" y2="395.92" stroke="#1f80c0" stroke-width="2.1" /><text x="656.1" y="398.32" font-size="6.8" font-family='"Liberation Sans", sans-serif' font-weight="bold" textLength="16.3" lengthAdjust="spacingAndGlyphs" >0.483</text><line x1="641.1" y1="404.05" x2="654.3" y2="404.05" stroke="#2048b0" stroke-width="2.1" /><text x="656.1" y="406.45" font-size="6.8" font-family='"Liberation Sans", sans-serif' font-weight="bold" textLength="16.3" lengthAdjust="spacingAndGlyphs" >0.600</text><line x1="641.1" y1="412.18" x2="654.3" y2="412.18" stroke="#1c2a84" stroke-width="2.1" /><text x="656.1" y="414.58" font-size="6.8" font-family='"Liberation Sans", sans-serif' font-weight="bold" textLength="16.3" lengthAdjust="spacingAndGlyphs" >0.800</text><line x1="539.3" y1="378.4" x2="621.3" y2="378.4" stroke="#2a5c96" stroke-width="0.9" /><polygon points="536.6,378.4 540.9,376.7 540.9,380.1" fill="#2a5c96" /><polygon points="624,378.4 619.7,376.7 619.7,380.1" fill="#2a5c96" /><text x="580" y="372.4" font-size="7" font-family='"Liberation Sans", sans-serif' font-weight="bold" text-anchor="middle" fill="#2a5c96" >Control</text><text x="583" y="386.6" font-size="7" font-family='"Liberation Sans", sans-serif' font-weight="bold" text-anchor="middle">0.229 Å<tspan font-size="4.6" dy="-2.6">-1</tspan></text><g clip-path="url(#cpl)"><line x1="536.7" y1="532.1" x2="536.7" y2="664.7" stroke="#a01820" stroke-width="0.8" stroke-dasharray="2 1.3"/><line x1="628.4" y1="532.1" x2="628.4" y2="664.7" stroke="#a01820" stroke-width="0.8" stroke-dasharray="2 1.3"/><polyline points="500.7,663.66 501.1,663.66 501.5,663.66 501.9,663.66 502.3,663.66 502.7,663.66 503.1,663.66 503.5,663.66 503.9,663.66 504.3,663.66 504.7,663.66 505.1,663.66 505.5,663.66 505.9,663.66 506.3,663.66 506.7,663.66 507.1,663.66 507.5,663.66 507.9,663.66 508.3,663.66 508.7,663.66 509.1,663.66 509.5,663.66 509.9,663.66 510.3,663.66 510.7,663.66 511.1,663.66 511.5,663.66 511.9,663.66 512.3,663.66 512.7,663.66 513.1,663.66 513.5,663.66 513.9,663.66 514.3,663.66 514.7,663.66 515.1,663.66 515.5,663.66 515.9,663.66 516.3,663.66 516.7,663.66 517.1,663.66 517.5,663.66 517.9,663.66 518.3,663.66 518.7,663.66 519.1,663.66 519.5,663.66 519.9,663.66 520.3,663.66 520.7,663.66 521.1,663.66 521.5,663.66 521.9,663.66 522.3,663.66 522.7,663.66 523.1,663.66 523.5,663.66 523.9,663.66 524.3,663.66 524.7,663.66 525.1,663.66 525.5,663.66 525.9,663.66 526.3,663.66 526.7,663.66 527.1,663.66 527.5,663.66 527.9,663.66 528.3,663.66 528.7,663.66 529.1,663.66 529.5,663.66 529.9,663.66 530.3,663.66 530.7,663.66 531.1,663.66 531.5,663.66 531.9,663.66 532.3,663.66 532.7,663.66 533.1,663.66 533.5,663.66 533.9,663.66 534.3,663.66 534.7,663.66 535.1,663.66 535.5,663.66 535.9,663.66 536.3,663.66 536.7,663.66 537.1,663.66 537.5,663.66 537.9,663.65 538.3,663.65 538.7,663.65 539.1,663.65 539.5,663.65 539.9,663.65 540.3,663.65 540.7,663.65 541.1,663.65 541.5,663.65 541.9,663.65 542.3,663.65 542.7,663.65 543.1,663.65 543.5,663.65 543.9,663.65 544.3,663.65 544.7,663.65 545.1,663.65 545.5,663.65 545.9,663.65 546.3,663.65 546.7,663.65 547.1,663.65 547.5,663.65 547.9,663.65 548.3,663.65 548.7,663.65 549.1,663.65 549.5,663.65 549.9,663.65 550.3,663.65 550.7,663.65 551.1,663.65 551.5,663.65 551.9,663.65 552.3,663.65 552.7,663.65 553.1,663.65 553.5,663.65 553.9,663.65 554.3,663.65 554.7,663.65 555.1,663.65 555.5,663.65 555.9,663.65 556.3,663.65 556.7,663.65 557.1,663.65 557.5,663.65 557.9,663.65 558.3,663.65 558.7,663.65 559.1,663.65 559.5,663.65 559.9,663.65 560.3,663.65 560.7,663.64 561.1,663.64 561.5,663.64 561.9,663.64 562.3,663.64 562.7,663.64 563.1,663.64 563.5,663.64 563.9,663.64 564.3,663.64 564.7,663.64 565.1,663.64 565.5,663.64 565.9,663.64 566.3,663.64 566.7,663.64 567.1,663.64 567.5,663.64 567.9,663.64 568.3,663.64 568.7,663.64 569.1,663.64 569.5,663.64 569.9,663.64 570.3,663.64 570.7,663.64 571.1,663.64 571.5,663.64 571.9,663.63 572.3,663.63 572.7,663.63 573.1,663.63 573.5,663.63 573.9,663.63 574.3,663.63 574.7,663.63 575.1,663.63 575.5,663.63 575.9,663.63 576.3,663.63 576.7,663.63 577.1,663.63 577.5,663.63 577.9,663.63 578.3,663.63 578.7,663.63 579.1,663.62 579.5,663.62 579.9,663.62 580.3,663.62 580.7,663.62 581.1,663.62 581.5,663.62 581.9,663.62 582.3,663.62 582.7,663.62 583.1,663.62 583.5,663.62 583.9,663.62 584.3,663.61 584.7,663.61 585.1,663.61 585.5,663.61 585.9,663.61 586.3,663.61 586.7,663.61 587.1,663.61 587.5,663.61 587.9,663.6 588.3,663.6 588.7,663.6 589.1,663.6 589.5,663.6 589.9,663.6 590.3,663.6 590.7,663.59 591.1,663.59 591.5,663.59 591.9,663.59 592.3,663.59 592.7,663.59 593.1,663.58 593.5,663.58 593.9,663.58 594.3,663.58 594.7,663.58 595.1,663.57 595.5,663.57 595.9,663.57 596.3,663.57 596.7,663.56 597.1,663.56 597.5,663.56 597.9,663.56 598.3,663.55 598.7,663.55 599.1,663.55 599.5,663.54 599.9,663.54 600.3,663.54 600.7,663.53 601.1,663.53 601.5,663.52 601.9,663.52 602.3,663.51 602.7,663.51 603.1,663.51 603.5,663.5 603.9,663.49 604.3,663.49 604.7,663.48 605.1,663.48 605.5,663.47 605.9,663.46 606.3,663.45 606.7,663.45 607.1,663.44 607.5,663.43 607.9,663.42 608.3,663.41 608.7,663.4 609.1,663.39 609.5,663.38 609.9,663.36 610.3,663.35 610.7,663.34 611.1,663.32 611.5,663.3 611.9,663.29 612.3,663.27 612.7,663.25 613.1,663.22 613.5,663.2 613.9,663.17 614.3,663.15 614.7,663.11 615.1,663.08 615.5,663.04 615.9,663 616.3,662.96 616.7,662.91 617.1,662.86 617.5,662.79 617.9,662.72 618.3,662.63 618.7,662.53 619.1,662.4 619.5,662.22 619.9,661.99 620.3,661.68 620.7,661.25 621.1,660.66 621.5,659.85 621.9,658.78 622.3,657.36 622.7,655.54 623.1,653.26 623.5,650.49 623.9,647.22 624.3,643.5 624.7,639.42 625.1,635.11 625.5,630.79 625.9,626.71 626.3,623.12 626.7,620.3 627.1,618.49 627.5,617.85 627.9,618.44 628.3,620.21 628.7,622.99 629.1,626.55 629.5,630.62 629.9,634.93 630.3,639.24 630.7,643.34 631.1,647.08 631.5,650.36 631.9,653.15 632.3,655.45 632.7,657.29 633.1,658.72 633.5,659.81 633.9,660.62 634.3,661.22 634.7,661.65 635.1,661.97 635.5,662.2 635.9,662.38 636.3,662.51 636.7,662.61 637.1,662.7 637.5,662.77 637.9,662.83 638.3,662.89 638.7,662.94 639.1,662.98 639.5,663.02 639.9,663.05 640.3,663.09 640.7,663.11 641.1,663.14 641.5,663.17 641.9,663.19 642.3,663.21 642.7,663.23 643.1,663.25 643.5,663.26 643.9,663.28 644.3,663.29 644.7,663.3 645.1,663.31 645.5,663.32 645.9,663.33 646.3,663.34 646.7,663.35 647.1,663.35 647.5,663.36 647.9,663.36 648.3,663.37 648.7,663.37 649.1,663.37 649.5,663.38 649.9,663.38 650.3,663.38 650.7,663.37 651.1,663.37 651.5,663.37 651.9,663.36 652.3,663.36 652.7,663.35 653.1,663.34 653.5,663.33 653.9,663.31 654.3,663.29 654.7,663.26 655.1,663.22 655.5,663.16 655.9,663.07 656.3,662.95 656.7,662.78 657.1,662.56 657.5,662.26 657.9,661.87 658.3,661.37 658.7,660.77 659.1,660.07 659.5,659.27 659.9,658.4 660.3,657.5 660.7,656.62 661.1,655.82 661.5,655.15 661.9,654.68 662.3,654.45 662.7,654.48 663.1,654.78 663.5,655.3 663.9,656.01 664.3,656.84 664.7,657.74 665.1,658.64 665.5,659.5 665.9,660.28 666.3,660.96 666.7,661.54 667.1,662.01 667.5,662.38 667.9,662.67 668.3,662.88 668.7,663.04 669.1,663.16 669.5,663.24 669.9,663.3 670.3,663.34 670.7,663.38 671.1,663.4 671.5,663.42 671.9,663.44 672.3,663.45 672.7,663.47 673.1,663.48 673.5,663.49 673.9,663.5 674.3,663.51 674.7,663.51 675.1,663.52 675.5,663.53 675.9,663.53 676.3,663.54 676.7,663.55 677.1,663.55" fill="none" stroke="#fde3a8" stroke-width="1.35" stroke-linejoin="round" /><polyline points="500.7,663.48 501.1,663.48 501.5,663.48 501.9,663.48 502.3,663.48 502.7,663.48 503.1,663.48 503.5,663.48 503.9,663.48 504.3,663.48 504.7,663.48 505.1,663.48 505.5,663.48 505.9,663.48 506.3,663.48 506.7,663.48 507.1,663.48 507.5,663.48 507.9,663.48 508.3,663.48 508.7,663.48 509.1,663.48 509.5,663.48 509.9,663.48 510.3,663.48 510.7,663.48 511.1,663.48 511.5,663.48 511.9,663.47 512.3,663.47 512.7,663.47 513.1,663.47 513.5,663.47 513.9,663.47 514.3,663.47 514.7,663.47 515.1,663.47 515.5,663.47 515.9,663.47 516.3,663.47 516.7,663.47 517.1,663.47 517.5,663.47 517.9,663.47 518.3,663.47 518.7,663.47 519.1,663.47 519.5,663.47 519.9,663.47 520.3,663.47 520.7,663.47 521.1,663.47 521.5,663.47 521.9,663.47 522.3,663.47 522.7,663.47 523.1,663.47 523.5,663.47 523.9,663.47 524.3,663.47 524.7,663.47 525.1,663.47 525.5,663.47 525.9,663.47 526.3,663.47 526.7,663.47 527.1,663.47 527.5,663.47 527.9,663.47 528.3,663.47 528.7,663.47 529.1,663.47 529.5,663.47 529.9,663.47 530.3,663.47 530.7,663.47 531.1,663.47 531.5,663.47 531.9,663.47 532.3,663.47 532.7,663.47 533.1,663.47 533.5,663.47 533.9,663.47 534.3,663.47 534.7,663.47 535.1,663.47 535.5,663.47 535.9,663.47 536.3,663.47 536.7,663.47 537.1,663.47 537.5,663.47 537.9,663.47 538.3,663.47 538.7,663.47 539.1,663.47 539.5,663.47 539.9,663.47 540.3,663.47 540.7,663.47 541.1,663.47 541.5,663.47 541.9,663.47 542.3,663.47 542.7,663.47 543.1,663.47 543.5,663.47 543.9,663.47 544.3,663.47 544.7,663.47 545.1,663.46 545.5,663.46 545.9,663.46 546.3,663.46 546.7,663.46 547.1,663.46 547.5,663.46 547.9,663.46 548.3,663.46 548.7,663.46 549.1,663.46 549.5,663.46 549.9,663.46 550.3,663.46 550.7,663.46 551.1,663.46 551.5,663.46 551.9,663.46 552.3,663.46 552.7,663.46 553.1,663.46 553.5,663.46 553.9,663.46 554.3,663.46 554.7,663.46 555.1,663.46 555.5,663.46 555.9,663.46 556.3,663.46 556.7,663.46 557.1,663.46 557.5,663.46 557.9,663.46 558.3,663.46 558.7,663.46 559.1,663.46 559.5,663.46 559.9,663.45 560.3,663.45 560.7,663.45 561.1,663.45 561.5,663.45 561.9,663.45 562.3,663.45 562.7,663.45 563.1,663.45 563.5,663.45 563.9,663.45 564.3,663.45 564.7,663.45 565.1,663.45 565.5,663.45 565.9,663.45 566.3,663.45 566.7,663.45 567.1,663.45 567.5,663.45 567.9,663.45 568.3,663.44 568.7,663.44 569.1,663.44 569.5,663.44 569.9,663.44 570.3,663.44 570.7,663.44 571.1,663.44 571.5,663.44 571.9,663.44 572.3,663.44 572.7,663.44 573.1,663.44 573.5,663.44 573.9,663.44 574.3,663.43 574.7,663.43 575.1,663.43 575.5,663.43 575.9,663.43 576.3,663.43 576.7,663.43 577.1,663.43 577.5,663.43 577.9,663.43 578.3,663.43 578.7,663.42 579.1,663.42 579.5,663.42 579.9,663.42 580.3,663.42 580.7,663.42 581.1,663.42 581.5,663.42 581.9,663.41 582.3,663.41 582.7,663.41 583.1,663.41 583.5,663.41 583.9,663.41 584.3,663.41 584.7,663.4 585.1,663.4 585.5,663.4 585.9,663.4 586.3,663.4 586.7,663.39 587.1,663.39 587.5,663.39 587.9,663.39 588.3,663.39 588.7,663.38 589.1,663.38 589.5,663.38 589.9,663.38 590.3,663.37 590.7,663.37 591.1,663.37 591.5,663.36 591.9,663.36 592.3,663.36 592.7,663.35 593.1,663.35 593.5,663.35 593.9,663.34 594.3,663.34 594.7,663.34 595.1,663.33 595.5,663.33 595.9,663.32 596.3,663.32 596.7,663.31 597.1,663.31 597.5,663.3 597.9,663.29 598.3,663.29 598.7,663.28 599.1,663.27 599.5,663.27 599.9,663.26 600.3,663.25 600.7,663.24 601.1,663.23 601.5,663.22 601.9,663.21 602.3,663.2 602.7,663.19 603.1,663.18 603.5,663.17 603.9,663.15 604.3,663.14 604.7,663.12 605.1,663.11 605.5,663.09 605.9,663.07 606.3,663.05 606.7,663.03 607.1,663 607.5,662.98 607.9,662.95 608.3,662.92 608.7,662.89 609.1,662.85 609.5,662.81 609.9,662.77 610.3,662.72 610.7,662.67 611.1,662.62 611.5,662.55 611.9,662.48 612.3,662.39 612.7,662.29 613.1,662.16 613.5,661.99 613.9,661.78 614.3,661.49 614.7,661.09 615.1,660.54 615.5,659.8 615.9,658.79 616.3,657.44 616.7,655.69 617.1,653.46 617.5,650.7 617.9,647.39 618.3,643.53 618.7,639.2 619.1,634.52 619.5,629.68 619.9,624.93 620.3,620.55 620.7,616.85 621.1,614.13 621.5,612.62 621.9,612.46 622.3,613.65 622.7,616.1 623.1,619.59 623.5,623.83 623.9,628.51 624.3,633.36 624.7,638.09 625.1,642.52 625.5,646.5 625.9,649.95 626.3,652.84 626.7,655.19 627.1,657.05 627.5,658.49 627.9,659.57 628.3,660.37 628.7,660.96 629.1,661.39 629.5,661.7 629.9,661.93 630.3,662.11 630.7,662.24 631.1,662.35 631.5,662.44 631.9,662.51 632.3,662.58 632.7,662.64 633.1,662.69 633.5,662.73 633.9,662.78 634.3,662.81 634.7,662.85 635.1,662.88 635.5,662.91 635.9,662.94 636.3,662.96 636.7,662.98 637.1,663 637.5,663.02 637.9,663.04 638.3,663.05 638.7,663.07 639.1,663.08 639.5,663.09 639.9,663.11 640.3,663.12 640.7,663.12 641.1,663.13 641.5,663.14 641.9,663.15 642.3,663.15 642.7,663.16 643.1,663.16 643.5,663.16 643.9,663.16 644.3,663.17 644.7,663.17 645.1,663.16 645.5,663.16 645.9,663.16 646.3,663.16 646.7,663.15 647.1,663.14 647.5,663.13 647.9,663.12 648.3,663.11 648.7,663.09 649.1,663.07 649.5,663.04 649.9,663 650.3,662.94 650.7,662.85 651.1,662.73 651.5,662.57 651.9,662.34 652.3,662.03 652.7,661.62 653.1,661.11 653.5,660.47 653.9,659.7 654.3,658.81 654.7,657.82 655.1,656.77 655.5,655.71 655.9,654.71 656.3,653.83 656.7,653.14 657.1,652.72 657.5,652.59 657.9,652.78 658.3,653.27 658.7,654 659.1,654.92 659.5,655.94 659.9,657.01 660.3,658.05 660.7,659.03 661.1,659.89 661.5,660.64 661.9,661.26 662.3,661.76 662.7,662.15 663.1,662.44 663.5,662.66 663.9,662.82 664.3,662.94 664.7,663.02 665.1,663.08 665.5,663.13 665.9,663.16 666.3,663.19 666.7,663.21 667.1,663.23 667.5,663.25 667.9,663.26 668.3,663.27 668.7,663.28 669.1,663.29 669.5,663.3 669.9,663.31 670.3,663.32 670.7,663.33 671.1,663.33 671.5,663.34 671.9,663.35 672.3,663.35 672.7,663.36 673.1,663.36 673.5,663.37 673.9,663.37 674.3,663.38 674.7,663.38 675.1,663.38 675.5,663.39 675.9,663.39 676.3,663.39 676.7,663.39 677.1,663.4" fill="none" stroke="#fcc070" stroke-width="1.35" stroke-linejoin="round" /><polyline points="500.7,663.29 501.1,663.29 501.5,663.29 501.9,663.29 502.3,663.29 502.7,663.29 503.1,663.29 503.5,663.29 503.9,663.29 504.3,663.29 504.7,663.29 505.1,663.29 505.5,663.29 505.9,663.29 506.3,663.29 506.7,663.29 507.1,663.29 507.5,663.29 507.9,663.29 508.3,663.29 508.7,663.29 509.1,663.29 509.5,663.29 509.9,663.29 510.3,663.29 510.7,663.29 511.1,663.29 511.5,663.29 511.9,663.29 512.3,663.29 512.7,663.29 513.1,663.29 513.5,663.29 513.9,663.29 514.3,663.29 514.7,663.29 515.1,663.29 515.5,663.29 515.9,663.29 516.3,663.29 516.7,663.29 517.1,663.29 517.5,663.29 517.9,663.29 518.3,663.29 518.7,663.29 519.1,663.29 519.5,663.29 519.9,663.29 520.3,663.29 520.7,663.29 521.1,663.29 521.5,663.29 521.9,663.29 522.3,663.29 522.7,663.29 523.1,663.29 523.5,663.29 523.9,663.29 524.3,663.29 524.7,663.29 525.1,663.29 525.5,663.29 525.9,663.29 526.3,663.29 526.7,663.29 527.1,663.29 527.5,663.28 527.9,663.28 528.3,663.28 528.7,663.28 529.1,663.28 529.5,663.28 529.9,663.28 530.3,663.28 530.7,663.28 531.1,663.28 531.5,663.28 531.9,663.28 532.3,663.28 532.7,663.28 533.1,663.28 533.5,663.28 533.9,663.28 534.3,663.28 534.7,663.28 535.1,663.28 535.5,663.28 535.9,663.28 536.3,663.28 536.7,663.28 537.1,663.28 537.5,663.28 537.9,663.28 538.3,663.28 538.7,663.28 539.1,663.28 539.5,663.28 539.9,663.28 540.3,663.28 540.7,663.28 541.1,663.28 541.5,663.28 541.9,663.28 542.3,663.28 542.7,663.28 543.1,663.28 543.5,663.28 543.9,663.28 544.3,663.28 544.7,663.28 545.1,663.28 545.5,663.28 545.9,663.28 546.3,663.27 546.7,663.27 547.1,663.27 547.5,663.27 547.9,663.27 548.3,663.27 548.7,663.27 549.1,663.27 549.5,663.27 549.9,663.27 550.3,663.27 550.7,663.27 551.1,663.27 551.5,663.27 551.9,663.27 552.3,663.27 552.7,663.27 553.1,663.27 553.5,663.27 553.9,663.27 554.3,663.27 554.7,663.27 555.1,663.27 555.5,663.27 555.9,663.27 556.3,663.27 556.7,663.26 557.1,663.26 557.5,663.26 557.9,663.26 558.3,663.26 558.7,663.26 559.1,663.26 559.5,663.26 559.9,663.26 560.3,663.26 560.7,663.26 561.1,663.26 561.5,663.26 561.9,663.26 562.3,663.26 562.7,663.26 563.1,663.26 563.5,663.25 563.9,663.25 564.3,663.25 564.7,663.25 565.1,663.25 565.5,663.25 565.9,663.25 566.3,663.25 566.7,663.25 567.1,663.25 567.5,663.25 567.9,663.25 568.3,663.25 568.7,663.24 569.1,663.24 569.5,663.24 569.9,663.24 570.3,663.24 570.7,663.24 571.1,663.24 571.5,663.24 571.9,663.24 572.3,663.23 572.7,663.23 573.1,663.23 573.5,663.23 573.9,663.23 574.3,663.23 574.7,663.23 575.1,663.22 575.5,663.22 575.9,663.22 576.3,663.22 576.7,663.22 577.1,663.22 577.5,663.21 577.9,663.21 578.3,663.21 578.7,663.21 579.1,663.21 579.5,663.21 579.9,663.2 580.3,663.2 580.7,663.2 581.1,663.2 581.5,663.19 581.9,663.19 582.3,663.19 582.7,663.19 583.1,663.18 583.5,663.18 583.9,663.18 584.3,663.17 584.7,663.17 585.1,663.17 585.5,663.16 585.9,663.16 586.3,663.16 586.7,663.15 587.1,663.15 587.5,663.14 587.9,663.14 588.3,663.13 588.7,663.13 589.1,663.12 589.5,663.12 589.9,663.11 590.3,663.11 590.7,663.1 591.1,663.09 591.5,663.08 591.9,663.08 592.3,663.07 592.7,663.06 593.1,663.05 593.5,663.04 593.9,663.03 594.3,663.02 594.7,663.01 595.1,663 595.5,662.99 595.9,662.98 596.3,662.96 596.7,662.95 597.1,662.93 597.5,662.92 597.9,662.9 598.3,662.88 598.7,662.86 599.1,662.84 599.5,662.81 599.9,662.79 600.3,662.76 600.7,662.73 601.1,662.7 601.5,662.66 601.9,662.63 602.3,662.58 602.7,662.54 603.1,662.49 603.5,662.43 603.9,662.37 604.3,662.3 604.7,662.22 605.1,662.13 605.5,662.01 605.9,661.87 606.3,661.69 606.7,661.44 607.1,661.11 607.5,660.66 607.9,660.04 608.3,659.2 608.7,658.06 609.1,656.55 609.5,654.6 609.9,652.13 610.3,649.09 610.7,645.47 611.1,641.29 611.5,636.64 611.9,631.66 612.3,626.58 612.7,621.65 613.1,617.2 613.5,613.54 613.9,610.97 614.3,609.71 614.7,609.88 615.1,611.47 615.5,614.33 615.9,618.2 616.3,622.8 616.7,627.79 617.1,632.87 617.5,637.78 617.9,642.33 618.3,646.38 618.7,649.86 619.1,652.76 619.5,655.1 619.9,656.94 620.3,658.35 620.7,659.41 621.1,660.19 621.5,660.77 621.9,661.18 622.3,661.49 622.7,661.71 623.1,661.88 623.5,662.02 623.9,662.13 624.3,662.21 624.7,662.29 625.1,662.36 625.5,662.42 625.9,662.47 626.3,662.52 626.7,662.56 627.1,662.6 627.5,662.63 627.9,662.66 628.3,662.69 628.7,662.72 629.1,662.75 629.5,662.77 629.9,662.79 630.3,662.81 630.7,662.83 631.1,662.84 631.5,662.86 631.9,662.87 632.3,662.88 632.7,662.89 633.1,662.9 633.5,662.91 633.9,662.92 634.3,662.92 634.7,662.93 635.1,662.93 635.5,662.94 635.9,662.94 636.3,662.94 636.7,662.94 637.1,662.94 637.5,662.94 637.9,662.94 638.3,662.94 638.7,662.93 639.1,662.92 639.5,662.92 639.9,662.91 640.3,662.9 640.7,662.88 641.1,662.87 641.5,662.84 641.9,662.82 642.3,662.78 642.7,662.74 643.1,662.67 643.5,662.59 643.9,662.46 644.3,662.29 644.7,662.05 645.1,661.72 645.5,661.27 645.9,660.7 646.3,659.97 646.7,659.07 647.1,658.01 647.5,656.79 647.9,655.46 648.3,654.06 648.7,652.67 649.1,651.38 649.5,650.28 649.9,649.46 650.3,649.01 650.7,648.96 651.1,649.32 651.5,650.06 651.9,651.1 652.3,652.36 652.7,653.74 653.1,655.15 653.5,656.51 653.9,657.76 654.3,658.87 654.7,659.81 655.1,660.58 655.5,661.2 655.9,661.67 656.3,662.03 656.7,662.3 657.1,662.49 657.5,662.63 657.9,662.73 658.3,662.8 658.7,662.86 659.1,662.9 659.5,662.93 659.9,662.96 660.3,662.99 660.7,663.01 661.1,663.02 661.5,663.04 661.9,663.05 662.3,663.07 662.7,663.08 663.1,663.09 663.5,663.1 663.9,663.11 664.3,663.12 664.7,663.13 665.1,663.13 665.5,663.14 665.9,663.15 666.3,663.15 666.7,663.16 667.1,663.16 667.5,663.17 667.9,663.17 668.3,663.18 668.7,663.18 669.1,663.19 669.5,663.19 669.9,663.19 670.3,663.2 670.7,663.2 671.1,663.2 671.5,663.21 671.9,663.21 672.3,663.21 672.7,663.21 673.1,663.22 673.5,663.22 673.9,663.22 674.3,663.22 674.7,663.22 675.1,663.23 675.5,663.23 675.9,663.23 676.3,663.23 676.7,663.23 677.1,663.23" fill="none" stroke="#fba050" stroke-width="1.35" stroke-linejoin="round" /><polyline points="500.7,663.1 501.1,663.1 501.5,663.1 501.9,663.1 502.3,663.1 502.7,663.1 503.1,663.1 503.5,663.1 503.9,663.1 504.3,663.1 504.7,663.1 505.1,663.1 505.5,663.1 505.9,663.1 506.3,663.1 506.7,663.1 507.1,663.1 507.5,663.1 507.9,663.1 508.3,663.1 508.7,663.1 509.1,663.1 509.5,663.1 509.9,663.1 510.3,663.1 510.7,663.1 511.1,663.1 511.5,663.1 511.9,663.1 512.3,663.1 512.7,663.1 513.1,663.1 513.5,663.1 513.9,663.1 514.3,663.1 514.7,663.1 515.1,663.1 515.5,663.1 515.9,663.1 516.3,663.1 516.7,663.1 517.1,663.1 517.5,663.1 517.9,663.1 518.3,663.1 518.7,663.1 519.1,663.1 519.5,663.1 519.9,663.1 520.3,663.09 520.7,663.09 521.1,663.09 521.5,663.09 521.9,663.09 522.3,663.09 522.7,663.09 523.1,663.09 523.5,663.09 523.9,663.09 524.3,663.09 524.7,663.09 525.1,663.09 525.5,663.09 525.9,663.09 526.3,663.09 526.7,663.09 527.1,663.09 527.5,663.09 527.9,663.09 528.3,663.09 528.7,663.09 529.1,663.09 529.5,663.09 529.9,663.09 530.3,663.09 530.7,663.09 531.1,663.09 531.5,663.09 531.9,663.09 532.3,663.09 532.7,663.09 533.1,663.09 533.5,663.09 533.9,663.09 534.3,663.08 534.7,663.08 535.1,663.08 535.5,663.08 535.9,663.08 536.3,663.08 536.7,663.08 537.1,663.08 537.5,663.08 537.9,663.08 538.3,663.08 538.7,663.08 539.1,663.08 539.5,663.08 539.9,663.08 540.3,663.08 540.7,663.08 541.1,663.08 541.5,663.08 541.9,663.08 542.3,663.08 542.7,663.08 543.1,663.07 543.5,663.07 543.9,663.07 544.3,663.07 544.7,663.07 545.1,663.07 545.5,663.07 545.9,663.07 546.3,663.07 546.7,663.07 547.1,663.07 547.5,663.07 547.9,663.07 548.3,663.07 548.7,663.07 549.1,663.06 549.5,663.06 549.9,663.06 550.3,663.06 550.7,663.06 551.1,663.06 551.5,663.06 551.9,663.06 552.3,663.06 552.7,663.06 553.1,663.06 553.5,663.05 553.9,663.05 554.3,663.05 554.7,663.05 555.1,663.05 555.5,663.05 555.9,663.05 556.3,663.05 556.7,663.05 557.1,663.04 557.5,663.04 557.9,663.04 558.3,663.04 558.7,663.04 559.1,663.04 559.5,663.04 559.9,663.03 560.3,663.03 560.7,663.03 561.1,663.03 561.5,663.03 561.9,663.03 562.3,663.02 562.7,663.02 563.1,663.02 563.5,663.02 563.9,663.02 564.3,663.02 564.7,663.01 565.1,663.01 565.5,663.01 565.9,663.01 566.3,663 566.7,663 567.1,663 567.5,663 567.9,662.99 568.3,662.99 568.7,662.99 569.1,662.98 569.5,662.98 569.9,662.98 570.3,662.97 570.7,662.97 571.1,662.97 571.5,662.96 571.9,662.96 572.3,662.96 572.7,662.95 573.1,662.95 573.5,662.94 573.9,662.94 574.3,662.93 574.7,662.93 575.1,662.92 575.5,662.91 575.9,662.91 576.3,662.9 576.7,662.9 577.1,662.89 577.5,662.88 577.9,662.87 578.3,662.87 578.7,662.86 579.1,662.85 579.5,662.84 579.9,662.83 580.3,662.82 580.7,662.81 581.1,662.8 581.5,662.78 581.9,662.77 582.3,662.76 582.7,662.74 583.1,662.73 583.5,662.71 583.9,662.69 584.3,662.67 584.7,662.65 585.1,662.63 585.5,662.61 585.9,662.58 586.3,662.56 586.7,662.53 587.1,662.5 587.5,662.46 587.9,662.43 588.3,662.39 588.7,662.35 589.1,662.3 589.5,662.25 589.9,662.19 590.3,662.13 590.7,662.06 591.1,661.99 591.5,661.9 591.9,661.8 592.3,661.67 592.7,661.52 593.1,661.33 593.5,661.08 593.9,660.74 594.3,660.28 594.7,659.64 595.1,658.77 595.5,657.59 595.9,656.02 596.3,653.97 596.7,651.35 597.1,648.09 597.5,644.17 597.9,639.58 598.3,634.41 598.7,628.8 599.1,622.96 599.5,617.19 599.9,611.83 600.3,607.25 600.7,603.81 601.1,601.79 601.5,601.39 601.9,602.64 602.3,605.43 602.7,609.51 603.1,614.54 603.5,620.15 603.9,626 604.3,631.75 604.7,637.15 605.1,642.03 605.5,646.27 605.9,649.85 606.3,652.76 606.7,655.07 607.1,656.86 607.5,658.22 607.9,659.22 608.3,659.96 608.7,660.49 609.1,660.88 609.5,661.17 609.9,661.39 610.3,661.55 610.7,661.68 611.1,661.79 611.5,661.88 611.9,661.96 612.3,662.03 612.7,662.09 613.1,662.15 613.5,662.19 613.9,662.24 614.3,662.28 614.7,662.31 615.1,662.35 615.5,662.38 615.9,662.4 616.3,662.43 616.7,662.45 617.1,662.47 617.5,662.48 617.9,662.5 618.3,662.51 618.7,662.52 619.1,662.53 619.5,662.54 619.9,662.54 620.3,662.55 620.7,662.55 621.1,662.55 621.5,662.55 621.9,662.54 622.3,662.54 622.7,662.53 623.1,662.52 623.5,662.51 623.9,662.49 624.3,662.47 624.7,662.45 625.1,662.43 625.5,662.4 625.9,662.36 626.3,662.31 626.7,662.25 627.1,662.16 627.5,662.05 627.9,661.9 628.3,661.68 628.7,661.37 629.1,660.95 629.5,660.37 629.9,659.59 630.3,658.57 630.7,657.28 631.1,655.68 631.5,653.78 631.9,651.6 632.3,649.19 632.7,646.65 633.1,644.11 633.5,641.72 633.9,639.67 634.3,638.11 634.7,637.2 635.1,637.02 635.5,637.59 635.9,638.86 636.3,640.7 636.7,642.96 637.1,645.45 637.5,648.01 637.9,650.51 638.3,652.81 638.7,654.86 639.1,656.61 639.5,658.05 639.9,659.2 640.3,660.1 640.7,660.77 641.1,661.27 641.5,661.64 641.9,661.9 642.3,662.09 642.7,662.23 643.1,662.33 643.5,662.41 643.9,662.47 644.3,662.52 644.7,662.57 645.1,662.6 645.5,662.64 645.9,662.66 646.3,662.69 646.7,662.71 647.1,662.74 647.5,662.76 647.9,662.77 648.3,662.79 648.7,662.81 649.1,662.82 649.5,662.84 649.9,662.85 650.3,662.86 650.7,662.87 651.1,662.88 651.5,662.89 651.9,662.9 652.3,662.91 652.7,662.91 653.1,662.92 653.5,662.93 653.9,662.93 654.3,662.94 654.7,662.95 655.1,662.95 655.5,662.96 655.9,662.96 656.3,662.97 656.7,662.97 657.1,662.98 657.5,662.98 657.9,662.98 658.3,662.99 658.7,662.99 659.1,662.99 659.5,663 659.9,663 660.3,663 660.7,663.01 661.1,663.01 661.5,663.01 661.9,663.01 662.3,663.02 662.7,663.02 663.1,663.02 663.5,663.02 663.9,663.03 664.3,663.03 664.7,663.03 665.1,663.03 665.5,663.03 665.9,663.04 666.3,663.04 666.7,663.04 667.1,663.04 667.5,663.04 667.9,663.04 668.3,663.04 668.7,663.05 669.1,663.05 669.5,663.05 669.9,663.05 670.3,663.05 670.7,663.05 671.1,663.05 671.5,663.05 671.9,663.06 672.3,663.06 672.7,663.06 673.1,663.06 673.5,663.06 673.9,663.06 674.3,663.06 674.7,663.06 675.1,663.06 675.5,663.06 675.9,663.07 676.3,663.07 676.7,663.07 677.1,663.07" fill="none" stroke="#f47a36" stroke-width="1.35" stroke-linejoin="round" /><polyline points="500.7,662.72 501.1,662.72 501.5,662.72 501.9,662.72 502.3,662.72 502.7,662.72 503.1,662.72 503.5,662.72 503.9,662.72 504.3,662.72 504.7,662.72 505.1,662.72 505.5,662.72 505.9,662.72 506.3,662.72 506.7,662.72 507.1,662.72 507.5,662.72 507.9,662.72 508.3,662.72 508.7,662.72 509.1,662.72 509.5,662.72 509.9,662.72 510.3,662.72 510.7,662.72 511.1,662.72 511.5,662.72 511.9,662.72 512.3,662.71 512.7,662.71 513.1,662.71 513.5,662.71 513.9,662.71 514.3,662.71 514.7,662.71 515.1,662.71 515.5,662.71 515.9,662.71 516.3,662.71 516.7,662.71 517.1,662.71 517.5,662.71 517.9,662.71 518.3,662.71 518.7,662.71 519.1,662.71 519.5,662.71 519.9,662.71 520.3,662.7 520.7,662.7 521.1,662.7 521.5,662.7 521.9,662.7 522.3,662.7 522.7,662.7 523.1,662.7 523.5,662.7 523.9,662.7 524.3,662.7 524.7,662.7 525.1,662.7 525.5,662.7 525.9,662.69 526.3,662.69 526.7,662.69 527.1,662.69 527.5,662.69 527.9,662.69 528.3,662.69 528.7,662.69 529.1,662.69 529.5,662.69 529.9,662.69 530.3,662.68 530.7,662.68 531.1,662.68 531.5,662.68 531.9,662.68 532.3,662.68 532.7,662.68 533.1,662.68 533.5,662.68 533.9,662.67 534.3,662.67 534.7,662.67 535.1,662.67 535.5,662.67 535.9,662.67 536.3,662.67 536.7,662.66 537.1,662.66 537.5,662.66 537.9,662.66 538.3,662.66 538.7,662.66 539.1,662.65 539.5,662.65 539.9,662.65 540.3,662.65 540.7,662.65 541.1,662.64 541.5,662.64 541.9,662.64 542.3,662.64 542.7,662.63 543.1,662.63 543.5,662.63 543.9,662.63 544.3,662.62 544.7,662.62 545.1,662.62 545.5,662.61 545.9,662.61 546.3,662.61 546.7,662.6 547.1,662.6 547.5,662.6 547.9,662.59 548.3,662.59 548.7,662.59 549.1,662.58 549.5,662.58 549.9,662.57 550.3,662.57 550.7,662.56 551.1,662.56 551.5,662.55 551.9,662.55 552.3,662.54 552.7,662.53 553.1,662.53 553.5,662.52 553.9,662.51 554.3,662.51 554.7,662.5 555.1,662.49 555.5,662.48 555.9,662.47 556.3,662.46 556.7,662.45 557.1,662.44 557.5,662.43 557.9,662.42 558.3,662.41 558.7,662.39 559.1,662.38 559.5,662.36 559.9,662.35 560.3,662.33 560.7,662.31 561.1,662.29 561.5,662.27 561.9,662.25 562.3,662.23 562.7,662.2 563.1,662.18 563.5,662.15 563.9,662.12 564.3,662.08 564.7,662.05 565.1,662.01 565.5,661.96 565.9,661.92 566.3,661.87 566.7,661.81 567.1,661.75 567.5,661.68 567.9,661.6 568.3,661.52 568.7,661.42 569.1,661.3 569.5,661.16 569.9,660.97 570.3,660.74 570.7,660.43 571.1,660 571.5,659.42 571.9,658.62 572.3,657.54 572.7,656.08 573.1,654.16 573.5,651.69 573.9,648.58 574.3,644.78 574.7,640.29 575.1,635.14 575.5,629.47 575.9,623.47 576.3,617.41 576.7,611.63 577.1,606.5 577.5,602.41 577.9,599.69 578.3,598.59 578.7,599.21 579.1,601.49 579.5,605.23 579.9,610.1 580.3,615.74 580.7,621.75 581.1,627.8 581.5,633.58 581.9,638.88 582.3,643.56 582.7,647.55 583.1,650.85 583.5,653.49 583.9,655.56 584.3,657.13 584.7,658.31 585.1,659.18 585.5,659.81 585.9,660.27 586.3,660.6 586.7,660.85 587.1,661.04 587.5,661.19 587.9,661.31 588.3,661.41 588.7,661.5 589.1,661.58 589.5,661.64 589.9,661.7 590.3,661.75 590.7,661.8 591.1,661.84 591.5,661.88 591.9,661.91 592.3,661.94 592.7,661.97 593.1,662 593.5,662.02 593.9,662.04 594.3,662.06 594.7,662.07 595.1,662.08 595.5,662.09 595.9,662.1 596.3,662.11 596.7,662.12 597.1,662.12 597.5,662.12 597.9,662.12 598.3,662.12 598.7,662.11 599.1,662.11 599.5,662.1 599.9,662.08 600.3,662.07 600.7,662.05 601.1,662.03 601.5,662.01 601.9,661.98 602.3,661.95 602.7,661.91 603.1,661.87 603.5,661.82 603.9,661.75 604.3,661.66 604.7,661.55 605.1,661.39 605.5,661.18 605.9,660.87 606.3,660.45 606.7,659.87 607.1,659.07 607.5,658.01 607.9,656.63 608.3,654.88 608.7,652.74 609.1,650.2 609.5,647.3 609.9,644.13 610.3,640.8 610.7,637.51 611.1,634.45 611.5,631.86 611.9,629.95 612.3,628.91 612.7,628.83 613.1,629.73 613.5,631.52 613.9,634.02 614.3,637.02 614.7,640.3 615.1,643.63 615.5,646.85 615.9,649.8 616.3,652.41 616.7,654.62 617.1,656.44 617.5,657.88 617.9,659 618.3,659.84 618.7,660.46 619.1,660.91 619.5,661.23 619.9,661.47 620.3,661.64 620.7,661.77 621.1,661.86 621.5,661.94 621.9,662.01 622.3,662.06 622.7,662.11 623.1,662.15 623.5,662.19 623.9,662.22 624.3,662.25 624.7,662.28 625.1,662.3 625.5,662.33 625.9,662.35 626.3,662.37 626.7,662.38 627.1,662.4 627.5,662.42 627.9,662.43 628.3,662.45 628.7,662.46 629.1,662.47 629.5,662.48 629.9,662.49 630.3,662.5 630.7,662.51 631.1,662.52 631.5,662.53 631.9,662.54 632.3,662.54 632.7,662.55 633.1,662.56 633.5,662.56 633.9,662.57 634.3,662.57 634.7,662.58 635.1,662.58 635.5,662.59 635.9,662.59 636.3,662.6 636.7,662.6 637.1,662.61 637.5,662.61 637.9,662.61 638.3,662.62 638.7,662.62 639.1,662.62 639.5,662.63 639.9,662.63 640.3,662.63 640.7,662.64 641.1,662.64 641.5,662.64 641.9,662.64 642.3,662.65 642.7,662.65 643.1,662.65 643.5,662.65 643.9,662.65 644.3,662.66 644.7,662.66 645.1,662.66 645.5,662.66 645.9,662.66 646.3,662.67 646.7,662.67 647.1,662.67 647.5,662.67 647.9,662.67 648.3,662.67 648.7,662.68 649.1,662.68 649.5,662.68 649.9,662.68 650.3,662.68 650.7,662.68 651.1,662.68 651.5,662.68 651.9,662.69 652.3,662.69 652.7,662.69 653.1,662.69 653.5,662.69 653.9,662.69 654.3,662.69 654.7,662.69 655.1,662.69 655.5,662.69 655.9,662.7 656.3,662.7 656.7,662.7 657.1,662.7 657.5,662.7 657.9,662.7 658.3,662.7 658.7,662.7 659.1,662.7 659.5,662.7 659.9,662.7 660.3,662.7 660.7,662.7 661.1,662.7 661.5,662.71 661.9,662.71 662.3,662.71 662.7,662.71 663.1,662.71 663.5,662.71 663.9,662.71 664.3,662.71 664.7,662.71 665.1,662.71 665.5,662.71 665.9,662.71 666.3,662.71 666.7,662.71 667.1,662.71 667.5,662.71 667.9,662.71 668.3,662.71 668.7,662.71 669.1,662.72 669.5,662.72 669.9,662.72 670.3,662.72 670.7,662.72 671.1,662.72 671.5,662.72 671.9,662.72 672.3,662.72 672.7,662.72 673.1,662.72 673.5,662.72 673.9,662.72 674.3,662.72 674.7,662.72 675.1,662.72 675.5,662.72 675.9,662.72 676.3,662.72 676.7,662.72 677.1,662.72" fill="none" stroke="#e8402a" stroke-width="1.35" stroke-linejoin="round" /><polyline points="500.7,662.34 501.1,662.34 501.5,662.34 501.9,662.34 502.3,662.34 502.7,662.34 503.1,662.34 503.5,662.34 503.9,662.34 504.3,662.34 504.7,662.34 505.1,662.34 505.5,662.34 505.9,662.34 506.3,662.34 506.7,662.34 507.1,662.34 507.5,662.33 507.9,662.33 508.3,662.33 508.7,662.33 509.1,662.33 509.5,662.33 509.9,662.33 510.3,662.33 510.7,662.33 511.1,662.33 511.5,662.33 511.9,662.33 512.3,662.32 512.7,662.32 513.1,662.32 513.5,662.32 513.9,662.32 514.3,662.32 514.7,662.32 515.1,662.32 515.5,662.32 515.9,662.32 516.3,662.31 516.7,662.31 517.1,662.31 517.5,662.31 517.9,662.31 518.3,662.31 518.7,662.31 519.1,662.31 519.5,662.3 519.9,662.3 520.3,662.3 520.7,662.3 521.1,662.3 521.5,662.3 521.9,662.29 522.3,662.29 522.7,662.29 523.1,662.29 523.5,662.29 523.9,662.29 524.3,662.28 524.7,662.28 525.1,662.28 525.5,662.28 525.9,662.28 526.3,662.27 526.7,662.27 527.1,662.27 527.5,662.27 527.9,662.26 528.3,662.26 528.7,662.26 529.1,662.25 529.5,662.25 529.9,662.25 530.3,662.25 530.7,662.24 531.1,662.24 531.5,662.23 531.9,662.23 532.3,662.23 532.7,662.22 533.1,662.22 533.5,662.21 533.9,662.21 534.3,662.21 534.7,662.2 535.1,662.2 535.5,662.19 535.9,662.18 536.3,662.18 536.7,662.17 537.1,662.17 537.5,662.16 537.9,662.15 538.3,662.14 538.7,662.14 539.1,662.13 539.5,662.12 539.9,662.11 540.3,662.1 540.7,662.09 541.1,662.08 541.5,662.07 541.9,662.06 542.3,662.05 542.7,662.03 543.1,662.02 543.5,662 543.9,661.99 544.3,661.97 544.7,661.95 545.1,661.93 545.5,661.91 545.9,661.89 546.3,661.87 546.7,661.84 547.1,661.82 547.5,661.79 547.9,661.75 548.3,661.72 548.7,661.68 549.1,661.64 549.5,661.6 549.9,661.55 550.3,661.5 550.7,661.44 551.1,661.38 551.5,661.31 551.9,661.23 552.3,661.14 552.7,661.04 553.1,660.91 553.5,660.76 553.9,660.57 554.3,660.32 554.7,659.98 555.1,659.52 555.5,658.88 555.9,657.98 556.3,656.76 556.7,655.09 557.1,652.89 557.5,650.04 557.9,646.47 558.3,642.13 558.7,637.03 559.1,631.27 559.5,625.02 559.9,618.56 560.3,612.25 560.7,606.5 561.1,601.77 561.5,598.44 561.9,596.86 562.3,597.16 562.7,599.33 563.1,603.14 563.5,608.25 563.9,614.22 564.3,620.62 564.7,627.04 565.1,633.16 565.5,638.72 565.9,643.58 566.3,647.67 566.7,651 567.1,653.63 567.5,655.65 567.9,657.15 568.3,658.26 568.7,659.06 569.1,659.64 569.5,660.06 569.9,660.36 570.3,660.58 570.7,660.76 571.1,660.9 571.5,661.01 571.9,661.1 572.3,661.19 572.7,661.26 573.1,661.32 573.5,661.38 573.9,661.43 574.3,661.48 574.7,661.52 575.1,661.56 575.5,661.59 575.9,661.62 576.3,661.65 576.7,661.68 577.1,661.7 577.5,661.72 577.9,661.74 578.3,661.76 578.7,661.77 579.1,661.78 579.5,661.79 579.9,661.8 580.3,661.81 580.7,661.82 581.1,661.82 581.5,661.83 581.9,661.83 582.3,661.83 582.7,661.83 583.1,661.82 583.5,661.82 583.9,661.82 584.3,661.81 584.7,661.8 585.1,661.79 585.5,661.77 585.9,661.76 586.3,661.74 586.7,661.72 587.1,661.7 587.5,661.67 587.9,661.64 588.3,661.61 588.7,661.57 589.1,661.52 589.5,661.47 589.9,661.41 590.3,661.33 590.7,661.23 591.1,661.09 591.5,660.91 591.9,660.66 592.3,660.31 592.7,659.83 593.1,659.16 593.5,658.25 593.9,657.03 594.3,655.46 594.7,653.47 595.1,651.04 595.5,648.17 595.9,644.91 596.3,641.34 596.7,637.63 597.1,633.96 597.5,630.58 597.9,627.74 598.3,625.68 598.7,624.6 599.1,624.6 599.5,625.69 599.9,627.75 600.3,630.59 600.7,633.98 601.1,637.65 601.5,641.37 601.9,644.94 602.3,648.21 602.7,651.08 603.1,653.52 603.5,655.51 603.9,657.09 604.3,658.3 604.7,659.22 605.1,659.89 605.5,660.38 605.9,660.74 606.3,660.99 606.7,661.18 607.1,661.32 607.5,661.42 607.9,661.51 608.3,661.58 608.7,661.64 609.1,661.69 609.5,661.73 609.9,661.77 610.3,661.81 610.7,661.84 611.1,661.87 611.5,661.9 611.9,661.93 612.3,661.95 612.7,661.97 613.1,661.99 613.5,662.01 613.9,662.03 614.3,662.04 614.7,662.06 615.1,662.07 615.5,662.09 615.9,662.1 616.3,662.11 616.7,662.12 617.1,662.13 617.5,662.14 617.9,662.15 618.3,662.16 618.7,662.16 619.1,662.17 619.5,662.18 619.9,662.19 620.3,662.19 620.7,662.2 621.1,662.2 621.5,662.21 621.9,662.21 622.3,662.22 622.7,662.22 623.1,662.23 623.5,662.23 623.9,662.24 624.3,662.24 624.7,662.25 625.1,662.25 625.5,662.25 625.9,662.26 626.3,662.26 626.7,662.26 627.1,662.26 627.5,662.27 627.9,662.27 628.3,662.27 628.7,662.28 629.1,662.28 629.5,662.28 629.9,662.28 630.3,662.28 630.7,662.29 631.1,662.29 631.5,662.29 631.9,662.29 632.3,662.29 632.7,662.3 633.1,662.3 633.5,662.3 633.9,662.3 634.3,662.3 634.7,662.3 635.1,662.31 635.5,662.31 635.9,662.31 636.3,662.31 636.7,662.31 637.1,662.31 637.5,662.31 637.9,662.32 638.3,662.32 638.7,662.32 639.1,662.32 639.5,662.32 639.9,662.32 640.3,662.32 640.7,662.32 641.1,662.32 641.5,662.33 641.9,662.33 642.3,662.33 642.7,662.33 643.1,662.33 643.5,662.33 643.9,662.33 644.3,662.33 644.7,662.33 645.1,662.33 645.5,662.33 645.9,662.33 646.3,662.34 646.7,662.34 647.1,662.34 647.5,662.34 647.9,662.34 648.3,662.34 648.7,662.34 649.1,662.34 649.5,662.34 649.9,662.34 650.3,662.34 650.7,662.34 651.1,662.34 651.5,662.34 651.9,662.34 652.3,662.34 652.7,662.34 653.1,662.35 653.5,662.35 653.9,662.35 654.3,662.35 654.7,662.35 655.1,662.35 655.5,662.35 655.9,662.35 656.3,662.35 656.7,662.35 657.1,662.35 657.5,662.35 657.9,662.35 658.3,662.35 658.7,662.35 659.1,662.35 659.5,662.35 659.9,662.35 660.3,662.35 660.7,662.35 661.1,662.35 661.5,662.35 661.9,662.35 662.3,662.35 662.7,662.36 663.1,662.36 663.5,662.36 663.9,662.36 664.3,662.36 664.7,662.36 665.1,662.36 665.5,662.36 665.9,662.36 666.3,662.36 666.7,662.36 667.1,662.36 667.5,662.36 667.9,662.36 668.3,662.36 668.7,662.36 669.1,662.36 669.5,662.36 669.9,662.36 670.3,662.36 670.7,662.36 671.1,662.36 671.5,662.36 671.9,662.36 672.3,662.36 672.7,662.36 673.1,662.36 673.5,662.36 673.9,662.36 674.3,662.36 674.7,662.36 675.1,662.36 675.5,662.36 675.9,662.36 676.3,662.36 676.7,662.36 677.1,662.36" fill="none" stroke="#c8141c" stroke-width="1.35" stroke-linejoin="round" /><polyline points="500.7,661.7 501.1,661.7 501.5,661.7 501.9,661.7 502.3,661.69 502.7,661.69 503.1,661.69 503.5,661.68 503.9,661.68 504.3,661.67 504.7,661.67 505.1,661.67 505.5,661.66 505.9,661.66 506.3,661.65 506.7,661.65 507.1,661.64 507.5,661.64 507.9,661.63 508.3,661.63 508.7,661.62 509.1,661.62 509.5,661.61 509.9,661.6 510.3,661.6 510.7,661.59 511.1,661.58 511.5,661.57 511.9,661.57 512.3,661.56 512.7,661.55 513.1,661.54 513.5,661.53 513.9,661.52 514.3,661.51 514.7,661.49 515.1,661.48 515.5,661.47 515.9,661.45 516.3,661.44 516.7,661.42 517.1,661.41 517.5,661.39 517.9,661.37 518.3,661.35 518.7,661.33 519.1,661.31 519.5,661.28 519.9,661.26 520.3,661.23 520.7,661.2 521.1,661.16 521.5,661.13 521.9,661.09 522.3,661.05 522.7,661.01 523.1,660.96 523.5,660.9 523.9,660.85 524.3,660.78 524.7,660.71 525.1,660.63 525.5,660.55 525.9,660.45 526.3,660.34 526.7,660.21 527.1,660.06 527.5,659.87 527.9,659.63 528.3,659.32 528.7,658.89 529.1,658.28 529.5,657.44 529.9,656.25 530.3,654.6 530.7,652.34 531.1,649.34 531.5,645.44 531.9,640.56 532.3,634.65 532.7,627.78 533.1,620.11 533.5,611.96 533.9,603.77 534.3,596.09 534.7,589.51 535.1,584.64 535.5,581.96 535.9,581.76 536.3,584.05 536.7,588.6 537.1,594.94 537.5,602.48 537.9,610.63 538.3,618.81 538.7,626.58 539.1,633.59 539.5,639.66 539.9,644.7 540.3,648.74 540.7,651.88 541.1,654.24 541.5,655.98 541.9,657.23 542.3,658.12 542.7,658.75 543.1,659.2 543.5,659.53 543.9,659.77 544.3,659.96 544.7,660.12 545.1,660.25 545.5,660.35 545.9,660.45 546.3,660.53 546.7,660.61 547.1,660.67 547.5,660.73 547.9,660.79 548.3,660.84 548.7,660.88 549.1,660.92 549.5,660.96 549.9,660.99 550.3,661.02 550.7,661.04 551.1,661.07 551.5,661.09 551.9,661.11 552.3,661.12 552.7,661.14 553.1,661.15 553.5,661.16 553.9,661.17 554.3,661.18 554.7,661.18 555.1,661.18 555.5,661.18 555.9,661.18 556.3,661.18 556.7,661.18 557.1,661.17 557.5,661.16 557.9,661.15 558.3,661.14 558.7,661.12 559.1,661.11 559.5,661.09 559.9,661.06 560.3,661.04 560.7,661.01 561.1,660.97 561.5,660.93 561.9,660.89 562.3,660.83 562.7,660.77 563.1,660.7 563.5,660.61 563.9,660.5 564.3,660.36 564.7,660.16 565.1,659.89 565.5,659.51 565.9,658.98 566.3,658.22 566.7,657.17 567.1,655.75 567.5,653.87 567.9,651.45 568.3,648.44 568.7,644.84 569.1,640.7 569.5,636.14 569.9,631.37 570.3,626.65 570.7,622.32 571.1,618.74 571.5,616.24 571.9,615.08 572.3,615.38 572.7,617.1 573.1,620.08 573.5,624 573.9,628.53 574.3,633.31 574.7,638.04 575.1,642.45 575.5,646.39 575.9,649.76 576.3,652.54 576.7,654.74 577.1,656.43 577.5,657.7 577.9,658.63 578.3,659.29 578.7,659.77 579.1,660.1 579.5,660.34 579.9,660.52 580.3,660.66 580.7,660.77 581.1,660.85 581.5,660.93 581.9,660.99 582.3,661.05 582.7,661.1 583.1,661.14 583.5,661.19 583.9,661.22 584.3,661.26 584.7,661.29 585.1,661.32 585.5,661.34 585.9,661.37 586.3,661.39 586.7,661.41 587.1,661.43 587.5,661.45 587.9,661.47 588.3,661.48 588.7,661.5 589.1,661.51 589.5,661.52 589.9,661.53 590.3,661.55 590.7,661.56 591.1,661.57 591.5,661.58 591.9,661.59 592.3,661.59 592.7,661.6 593.1,661.61 593.5,661.62 593.9,661.62 594.3,661.63 594.7,661.64 595.1,661.64 595.5,661.65 595.9,661.65 596.3,661.66 596.7,661.66 597.1,661.67 597.5,661.67 597.9,661.68 598.3,661.68 598.7,661.68 599.1,661.69 599.5,661.69 599.9,661.7 600.3,661.7 600.7,661.7 601.1,661.71 601.5,661.71 601.9,661.71 602.3,661.71 602.7,661.72 603.1,661.72 603.5,661.72 603.9,661.72 604.3,661.73 604.7,661.73 605.1,661.73 605.5,661.73 605.9,661.73 606.3,661.74 606.7,661.74 607.1,661.74 607.5,661.74 607.9,661.74 608.3,661.75 608.7,661.75 609.1,661.75 609.5,661.75 609.9,661.75 610.3,661.75 610.7,661.76 611.1,661.76 611.5,661.76 611.9,661.76 612.3,661.76 612.7,661.76 613.1,661.76 613.5,661.76 613.9,661.77 614.3,661.77 614.7,661.77 615.1,661.77 615.5,661.77 615.9,661.77 616.3,661.77 616.7,661.77 617.1,661.77 617.5,661.77 617.9,661.78 618.3,661.78 618.7,661.78 619.1,661.78 619.5,661.78 619.9,661.78 620.3,661.78 620.7,661.78 621.1,661.78 621.5,661.78 621.9,661.78 622.3,661.78 622.7,661.78 623.1,661.79 623.5,661.79 623.9,661.79 624.3,661.79 624.7,661.79 625.1,661.79 625.5,661.79 625.9,661.79 626.3,661.79 626.7,661.79 627.1,661.79 627.5,661.79 627.9,661.79 628.3,661.79 628.7,661.79 629.1,661.79 629.5,661.79 629.9,661.8 630.3,661.8 630.7,661.8 631.1,661.8 631.5,661.8 631.9,661.8 632.3,661.8 632.7,661.8 633.1,661.8 633.5,661.8 633.9,661.8 634.3,661.8 634.7,661.8 635.1,661.8 635.5,661.8 635.9,661.8 636.3,661.8 636.7,661.8 637.1,661.8 637.5,661.8 637.9,661.8 638.3,661.8 638.7,661.8 639.1,661.8 639.5,661.8 639.9,661.8 640.3,661.81 640.7,661.81 641.1,661.81 641.5,661.81 641.9,661.81 642.3,661.81 642.7,661.81 643.1,661.81 643.5,661.81 643.9,661.81 644.3,661.81 644.7,661.81 645.1,661.81 645.5,661.81 645.9,661.81 646.3,661.81 646.7,661.81 647.1,661.81 647.5,661.81 647.9,661.81 648.3,661.81 648.7,661.81 649.1,661.81 649.5,661.81 649.9,661.81 650.3,661.81 650.7,661.81 651.1,661.81 651.5,661.81 651.9,661.81 652.3,661.81 652.7,661.81 653.1,661.81 653.5,661.81 653.9,661.81 654.3,661.81 654.7,661.81 655.1,661.81 655.5,661.81 655.9,661.81 656.3,661.81 656.7,661.81 657.1,661.81 657.5,661.81 657.9,661.82 658.3,661.82 658.7,661.82 659.1,661.82 659.5,661.82 659.9,661.82 660.3,661.82 660.7,661.82 661.1,661.82 661.5,661.82 661.9,661.82 662.3,661.82 662.7,661.82 663.1,661.82 663.5,661.82 663.9,661.82 664.3,661.82 664.7,661.82 665.1,661.82 665.5,661.82 665.9,661.82 666.3,661.82 666.7,661.82 667.1,661.82 667.5,661.82 667.9,661.82 668.3,661.82 668.7,661.82 669.1,661.82 669.5,661.82 669.9,661.82 670.3,661.82 670.7,661.82 671.1,661.82 671.5,661.82 671.9,661.82 672.3,661.82 672.7,661.82 673.1,661.82 673.5,661.82 673.9,661.82 674.3,661.82 674.7,661.82 675.1,661.82 675.5,661.82 675.9,661.82 676.3,661.82 676.7,661.82 677.1,661.82" fill="none" stroke="#8a2a0c" stroke-width="1.35" stroke-linejoin="round" /></g><rect x="501.7" y="527.6" width="174.6" height="137.1" fill="none" stroke="#000" stroke-width="1.5" /><line x1="499.3" y1="647.18" x2="501.7" y2="647.18" stroke="#000" stroke-width="1.1" /><line x1="676.3" y1="647.18" x2="678.3" y2="647.18" stroke="#000" stroke-width="1" /><text x="498.9" y="649.78" font-size="7.4" font-family='"Liberation Sans", sans-serif' font-weight="bold" text-anchor="end" >2k</text><line x1="499.3" y1="628.86" x2="501.7" y2="628.86" stroke="#000" stroke-width="1.1" /><line x1="676.3" y1="628.86" x2="678.3" y2="628.86" stroke="#000" stroke-width="1" /><text x="498.9" y="631.46" font-size="7.4" font-family='"Liberation Sans", sans-serif' font-weight="bold" text-anchor="end" >4k</text><line x1="499.3" y1="610.54" x2="501.7" y2="610.54" stroke="#000" stroke-width="1.1" /><line x1="676.3" y1="610.54" x2="678.3" y2="610.54" stroke="#000" stroke-width="1" /><text x="498.9" y="613.14" font-size="7.4" font-family='"Liberation Sans", sans-serif' font-weight="bold" text-anchor="end" >6k</text><line x1="499.3" y1="592.22" x2="501.7" y2="592.22" stroke="#000" stroke-width="1.1" /><line x1="676.3" y1="592.22" x2="678.3" y2="592.22" stroke="#000" stroke-width="1" /><text x="498.9" y="594.82" font-size="7.4" font-family='"Liberation Sans", sans-serif' font-weight="bold" text-anchor="end" >8k</text><line x1="499.3" y1="573.9" x2="501.7" y2="573.9" stroke="#000" stroke-width="1.1" /><line x1="676.3" y1="573.9" x2="678.3" y2="573.9" stroke="#000" stroke-width="1" /><text x="498.9" y="576.5" font-size="7.4" font-family='"Liberation Sans", sans-serif' font-weight="bold" text-anchor="end" >10k</text><line x1="499.3" y1="555.58" x2="501.7" y2="555.58" stroke="#000" stroke-width="1.1" /><line x1="676.3" y1="555.58" x2="678.3" y2="555.58" stroke="#000" stroke-width="1" /><text x="498.9" y="558.18" font-size="7.4" font-family='"Liberation Sans", sans-serif' font-weight="bold" text-anchor="end" >12k</text><line x1="499.3" y1="537.26" x2="501.7" y2="537.26" stroke="#000" stroke-width="1.1" /><line x1="676.3" y1="537.26" x2="678.3" y2="537.26" stroke="#000" stroke-width="1" /><text x="498.9" y="539.86" font-size="7.4" font-family='"Liberation Sans", sans-serif' font-weight="bold" text-anchor="end" >14k</text><line x1="500.3" y1="656.34" x2="501.7" y2="656.34" stroke="#000" stroke-width="0.9" /><line x1="676.3" y1="656.34" x2="677.5" y2="656.34" stroke="#000" stroke-width="0.9" /><line x1="500.3" y1="638.02" x2="501.7" y2="638.02" stroke="#000" stroke-width="0.9" /><line x1="676.3" y1="638.02" x2="677.5" y2="638.02" stroke="#000" stroke-width="0.9" /><line x1="500.3" y1="619.7" x2="501.7" y2="619.7" stroke="#000" stroke-width="0.9" /><line x1="676.3" y1="619.7" x2="677.5" y2="619.7" stroke="#000" stroke-width="0.9" /><line x1="500.3" y1="601.38" x2="501.7" y2="601.38" stroke="#000" stroke-width="0.9" /><line x1="676.3" y1="601.38" x2="677.5" y2="601.38" stroke="#000" stroke-width="0.9" /><line x1="500.3" y1="583.06" x2="501.7" y2="583.06" stroke="#000" stroke-width="0.9" /><line x1="676.3" y1="583.06" x2="677.5" y2="583.06" stroke="#000" stroke-width="0.9" /><line x1="500.3" y1="564.74" x2="501.7" y2="564.74" stroke="#000" stroke-width="0.9" /><line x1="676.3" y1="564.74" x2="677.5" y2="564.74" stroke="#000" stroke-width="0.9" /><line x1="500.3" y1="546.42" x2="501.7" y2="546.42" stroke="#000" stroke-width="0.9" /><line x1="676.3" y1="546.42" x2="677.5" y2="546.42" stroke="#000" stroke-width="0.9" /><line x1="500.3" y1="528.1" x2="501.7" y2="528.1" stroke="#000" stroke-width="0.9" /><line x1="676.3" y1="528.1" x2="677.5" y2="528.1" stroke="#000" stroke-width="0.9" /><line x1="505.78" y1="664.7" x2="505.78" y2="667.1" stroke="#000" stroke-width="1.1" /><text x="505.78" y="674.5" font-size="6.6" font-family='"Liberation Serif", serif' font-weight="bold" text-anchor="middle" textLength="14.5" lengthAdjust="spacingAndGlyphs" >0.56</text><line x1="521.14" y1="664.7" x2="521.14" y2="666.1" stroke="#000" stroke-width="0.9" /><line x1="536.5" y1="664.7" x2="536.5" y2="667.1" stroke="#000" stroke-width="1.1" /><text x="536.5" y="674.5" font-size="6.6" font-family='"Liberation Serif", serif' font-weight="bold" text-anchor="middle" textLength="14.5" lengthAdjust="spacingAndGlyphs" >0.64</text><line x1="551.86" y1="664.7" x2="551.86" y2="666.1" stroke="#000" stroke-width="0.9" /><line x1="567.22" y1="664.7" x2="567.22" y2="667.1" stroke="#000" stroke-width="1.1" /><text x="567.22" y="674.5" font-size="6.6" font-family='"Liberation Serif", serif' font-weight="bold" text-anchor="middle" textLength="14.5" lengthAdjust="spacingAndGlyphs" >0.72</text><line x1="582.58" y1="664.7" x2="582.58" y2="666.1" stroke="#000" stroke-width="0.9" /><line x1="597.94" y1="664.7" x2="597.94" y2="667.1" stroke="#000" stroke-width="1.1" /><text x="597.94" y="674.5" font-size="6.6" font-family='"Liberation Serif", serif' font-weight="bold" text-anchor="middle" textLength="14.5" lengthAdjust="spacingAndGlyphs" >0.80</text><line x1="613.3" y1="664.7" x2="613.3" y2="666.1" stroke="#000" stroke-width="0.9" /><line x1="628.66" y1="664.7" x2="628.66" y2="667.1" stroke="#000" stroke-width="1.1" /><text x="628.66" y="674.5" font-size="6.6" font-family='"Liberation Serif", serif' font-weight="bold" text-anchor="middle" textLength="14.5" lengthAdjust="spacingAndGlyphs" >0.88</text><line x1="644.02" y1="664.7" x2="644.02" y2="666.1" stroke="#000" stroke-width="0.9" /><line x1="659.38" y1="664.7" x2="659.38" y2="667.1" stroke="#000" stroke-width="1.1" /><text x="659.38" y="674.5" font-size="6.6" font-family='"Liberation Serif", serif' font-weight="bold" text-anchor="middle" textLength="14.5" lengthAdjust="spacingAndGlyphs" >0.96</text><line x1="674.74" y1="664.7" x2="674.74" y2="666.1" stroke="#000" stroke-width="0.9" /><line x1="643" y1="533.4" x2="656.2" y2="533.4" stroke="#fde3a8" stroke-width="2.1" /><text x="658" y="535.8" font-size="6.8" font-family='"Liberation Sans", sans-serif' font-weight="bold" textLength="16.3" lengthAdjust="spacingAndGlyphs" >0.117</text><line x1="643" y1="541.53" x2="656.2" y2="541.53" stroke="#fcc070" stroke-width="2.1" /><text x="658" y="543.93" font-size="6.8" font-family='"Liberation Sans", sans-serif' font-weight="bold" textLength="16.3" lengthAdjust="spacingAndGlyphs" >0.145</text><line x1="643" y1="549.66" x2="656.2" y2="549.66" stroke="#fba050" stroke-width="2.1" /><text x="658" y="552.06" font-size="6.8" font-family='"Liberation Sans", sans-serif' font-weight="bold" textLength="16.3" lengthAdjust="spacingAndGlyphs" >0.198</text><line x1="643" y1="557.79" x2="656.2" y2="557.79" stroke="#f47a36" stroke-width="2.1" /><text x="658" y="560.19" font-size="6.8" font-family='"Liberation Sans", sans-serif' font-weight="bold" textLength="16.3" lengthAdjust="spacingAndGlyphs" >0.300</text><line x1="643" y1="565.92" x2="656.2" y2="565.92" stroke="#e8402a" stroke-width="2.1" /><text x="658" y="568.32" font-size="6.8" font-family='"Liberation Sans", sans-serif' font-weight="bold" textLength="16.3" lengthAdjust="spacingAndGlyphs" >0.483</text><line x1="643" y1="574.05" x2="656.2" y2="574.05" stroke="#c8141c" stroke-width="2.1" /><text x="658" y="576.45" font-size="6.8" font-family='"Liberation Sans", sans-serif' font-weight="bold" textLength="16.3" lengthAdjust="spacingAndGlyphs" >0.600</text><line x1="643" y1="582.18" x2="656.2" y2="582.18" stroke="#8a2a0c" stroke-width="2.1" /><text x="658" y="584.58" font-size="6.8" font-family='"Liberation Sans", sans-serif' font-weight="bold" textLength="16.3" lengthAdjust="spacingAndGlyphs" >0.800</text><line x1="539.7" y1="549.4" x2="625.4" y2="549.4" stroke="#a01820" stroke-width="0.9" /><polygon points="537,549.4 541.3,547.7 541.3,551.1" fill="#a01820" /><polygon points="628.1,549.4 623.8,547.7 623.8,551.1" fill="#a01820" /><text x="585.5" y="543.3" font-size="7" font-family='"Liberation Sans", sans-serif' font-weight="bold" text-anchor="middle" fill="#a01820" >Target</text><text x="587" y="557.5" font-size="7" font-family='"Liberation Sans", sans-serif' font-weight="bold" text-anchor="middle">0.241 Å<tspan font-size="4.6" dy="-2.6">-1</tspan></text><text x="474.8" y="369.7" font-size="14.5" font-family='"Liberation Sans", sans-serif' font-weight="bold" >k</text><rect x="478.1" y="521.6" width="2.5" height="10.8" fill="#000"/><text x="484" y="426.5" font-size="9.8" font-family='"Liberation Sans", sans-serif' font-weight="bold" text-anchor="middle" textLength="92" lengthAdjust="spacingAndGlyphs" transform="rotate(-90 484 426.5)" >Intensity / arb. units</text><text x="484" y="596.5" font-size="9.8" font-family='"Liberation Sans", sans-serif' font-weight="bold" text-anchor="middle" textLength="92" lengthAdjust="spacingAndGlyphs" transform="rotate(-90 484 596.5)" >Intensity / arb. units</text><text x="590.8" y="514.3" font-size="10.5" font-family='"Liberation Sans", sans-serif' font-weight="bold" text-anchor="middle"><tspan font-style="italic">q</tspan><tspan font-size="6.8" dy="2">z</tspan><tspan dy="-2"> / Å</tspan><tspan font-size="6.5" dy="-4">-1</tspan></text><text x="590.8" y="684.3" font-size="10.5" font-family='"Liberation Sans", sans-serif' font-weight="bold" text-anchor="middle"><tspan font-style="italic">q</tspan><tspan font-size="6.8" dy="2">z</tspan><tspan dy="-2"> / Å</tspan><tspan font-size="6.5" dy="-4">-1</tspan></text></svg></body></html>
